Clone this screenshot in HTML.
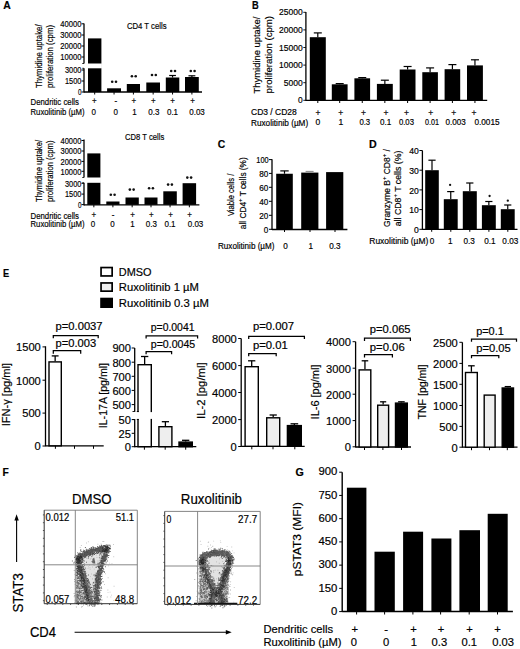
<!DOCTYPE html>
<html><head><meta charset="utf-8"><style>
html,body{margin:0;padding:0;background:#fff;}
svg{display:block;}
text{font-family:"Liberation Sans",sans-serif;stroke:#000;stroke-width:0.18px;}
</style></head><body>
<svg width="520" height="649" viewBox="0 0 520 649">
<rect width="520" height="649" fill="#fff"/>
<text x="3.20" y="8.90" textLength="7.50" lengthAdjust="spacingAndGlyphs" font-size="11" font-weight="bold" fill="#000" >A</text>
<text x="252.10" y="9.00" textLength="6.70" lengthAdjust="spacingAndGlyphs" font-size="11" font-weight="bold" fill="#000" >B</text>
<text x="217.80" y="148.40" textLength="7.50" lengthAdjust="spacingAndGlyphs" font-size="11" font-weight="bold" fill="#000" >C</text>
<text x="369.00" y="147.70" textLength="7.70" lengthAdjust="spacingAndGlyphs" font-size="11" font-weight="bold" fill="#000" >D</text>
<text x="3.00" y="276.80" textLength="6.20" lengthAdjust="spacingAndGlyphs" font-size="11" font-weight="bold" fill="#000" >E</text>
<text x="2.50" y="476.40" textLength="6.30" lengthAdjust="spacingAndGlyphs" font-size="11" font-weight="bold" fill="#000" >F</text>
<text x="295.40" y="476.20" textLength="8.30" lengthAdjust="spacingAndGlyphs" font-size="11" font-weight="bold" fill="#000" >G</text>
<line x1="84.00" y1="23.50" x2="84.00" y2="63.50" stroke="#000" stroke-width="1.3"/>
<line x1="84.00" y1="68.30" x2="84.00" y2="92.60" stroke="#000" stroke-width="1.3"/>
<line x1="82.20" y1="63.50" x2="84.00" y2="63.50" stroke="#000" stroke-width="0.8"/>
<line x1="82.20" y1="68.30" x2="84.00" y2="68.30" stroke="#000" stroke-width="0.8"/>
<line x1="84.00" y1="92.00" x2="202.00" y2="92.00" stroke="#000" stroke-width="1.3"/>
<line x1="81.50" y1="23.80" x2="84.00" y2="23.80" stroke="#000" stroke-width="1.0"/>
<text x="60.30" y="27.11" textLength="21.10" lengthAdjust="spacingAndGlyphs" font-size="9.2" fill="#000" >40000</text>
<line x1="81.50" y1="35.00" x2="84.00" y2="35.00" stroke="#000" stroke-width="1.0"/>
<text x="60.30" y="38.31" textLength="21.10" lengthAdjust="spacingAndGlyphs" font-size="9.2" fill="#000" >30000</text>
<line x1="81.50" y1="46.00" x2="84.00" y2="46.00" stroke="#000" stroke-width="1.0"/>
<text x="60.30" y="49.31" textLength="21.10" lengthAdjust="spacingAndGlyphs" font-size="9.2" fill="#000" >20000</text>
<line x1="81.50" y1="57.00" x2="84.00" y2="57.00" stroke="#000" stroke-width="1.0"/>
<text x="60.30" y="60.31" textLength="21.10" lengthAdjust="spacingAndGlyphs" font-size="9.2" fill="#000" >10000</text>
<line x1="81.50" y1="70.00" x2="84.00" y2="70.00" stroke="#000" stroke-width="1.0"/>
<text x="65.00" y="73.31" textLength="16.40" lengthAdjust="spacingAndGlyphs" font-size="9.2" fill="#000" >3000</text>
<line x1="81.50" y1="81.00" x2="84.00" y2="81.00" stroke="#000" stroke-width="1.0"/>
<text x="65.00" y="84.31" textLength="16.40" lengthAdjust="spacingAndGlyphs" font-size="9.2" fill="#000" >1500</text>
<line x1="81.50" y1="92.00" x2="84.00" y2="92.00" stroke="#000" stroke-width="1.0"/>
<text x="77.90" y="95.31" textLength="3.50" lengthAdjust="spacingAndGlyphs" font-size="9.2" fill="#000" >0</text>
<rect x="88.00" y="38.40" width="13.40" height="53.60" fill="#000"/>
<line x1="94.70" y1="92.00" x2="94.70" y2="94.50" stroke="#000" stroke-width="1.0"/>
<rect x="107.10" y="88.30" width="13.90" height="3.70" fill="#000"/>
<line x1="114.05" y1="92.00" x2="114.05" y2="94.50" stroke="#000" stroke-width="1.0"/>
<rect x="126.80" y="84.00" width="13.20" height="8.00" fill="#000"/>
<line x1="133.40" y1="92.00" x2="133.40" y2="94.50" stroke="#000" stroke-width="1.0"/>
<rect x="146.30" y="82.50" width="13.70" height="9.50" fill="#000"/>
<line x1="153.15" y1="92.00" x2="153.15" y2="94.50" stroke="#000" stroke-width="1.0"/>
<rect x="165.80" y="77.50" width="13.50" height="14.50" fill="#000"/>
<line x1="172.55" y1="75.50" x2="172.55" y2="77.50" stroke="#000" stroke-width="1.2"/>
<line x1="169.18" y1="75.50" x2="175.93" y2="75.50" stroke="#000" stroke-width="1.2"/>
<line x1="172.55" y1="92.00" x2="172.55" y2="94.50" stroke="#000" stroke-width="1.0"/>
<rect x="185.00" y="77.00" width="13.80" height="15.00" fill="#000"/>
<line x1="191.90" y1="75.80" x2="191.90" y2="77.00" stroke="#000" stroke-width="1.2"/>
<line x1="188.45" y1="75.80" x2="195.35" y2="75.80" stroke="#000" stroke-width="1.2"/>
<line x1="191.90" y1="92.00" x2="191.90" y2="94.50" stroke="#000" stroke-width="1.0"/>
<rect x="87.50" y="63.50" width="14.40" height="4.80" fill="#fff"/>
<circle cx="112.20" cy="81.80" r="1.3" fill="#111"/>
<circle cx="116.00" cy="81.80" r="1.3" fill="#111"/>
<circle cx="131.90" cy="76.30" r="1.3" fill="#111"/>
<circle cx="135.70" cy="76.30" r="1.3" fill="#111"/>
<circle cx="152.00" cy="75.00" r="1.3" fill="#111"/>
<circle cx="155.80" cy="75.00" r="1.3" fill="#111"/>
<circle cx="171.20" cy="71.00" r="1.3" fill="#111"/>
<circle cx="175.00" cy="71.00" r="1.3" fill="#111"/>
<circle cx="190.80" cy="71.00" r="1.3" fill="#111"/>
<circle cx="194.60" cy="71.00" r="1.3" fill="#111"/>
<text x="126.90" y="28.81" textLength="39.70" lengthAdjust="spacingAndGlyphs" font-size="9.2" fill="#000" >CD4 T cells</text>
<text x="30.50" y="105.11" textLength="48.50" lengthAdjust="spacingAndGlyphs" font-size="9.2" fill="#000" >Dendritic cells</text>
<text x="30.50" y="114.61" textLength="54.00" lengthAdjust="spacingAndGlyphs" font-size="9.2" fill="#000" >Ruxolitinib (µM)</text>
<text x="91.96" y="104.11" textLength="4.67" lengthAdjust="spacingAndGlyphs" font-size="9.2" fill="#000" >+</text>
<text x="114.47" y="104.11" textLength="2.67" lengthAdjust="spacingAndGlyphs" font-size="9.2" fill="#000" >-</text>
<text x="131.46" y="104.11" textLength="4.67" lengthAdjust="spacingAndGlyphs" font-size="9.2" fill="#000" >+</text>
<text x="150.96" y="104.11" textLength="4.67" lengthAdjust="spacingAndGlyphs" font-size="9.2" fill="#000" >+</text>
<text x="170.16" y="104.11" textLength="4.67" lengthAdjust="spacingAndGlyphs" font-size="9.2" fill="#000" >+</text>
<text x="190.16" y="104.11" textLength="4.67" lengthAdjust="spacingAndGlyphs" font-size="9.2" fill="#000" >+</text>
<text x="91.57" y="114.61" textLength="4.45" lengthAdjust="spacingAndGlyphs" font-size="9.2" fill="#000" >0</text>
<text x="113.57" y="114.61" textLength="4.45" lengthAdjust="spacingAndGlyphs" font-size="9.2" fill="#000" >0</text>
<text x="132.27" y="114.61" textLength="4.45" lengthAdjust="spacingAndGlyphs" font-size="9.2" fill="#000" >1</text>
<text x="148.24" y="114.61" textLength="11.13" lengthAdjust="spacingAndGlyphs" font-size="9.2" fill="#000" >0.3</text>
<text x="166.94" y="114.61" textLength="11.13" lengthAdjust="spacingAndGlyphs" font-size="9.2" fill="#000" >0.1</text>
<text x="189.21" y="114.61" textLength="15.58" lengthAdjust="spacingAndGlyphs" font-size="9.2" fill="#000" >0.03</text>
<text transform="translate(41.80,56.25) rotate(-90)" x="-31.85" y="0" font-size="9.4" textLength="63.70" lengthAdjust="spacingAndGlyphs">Thymidine uptake/</text>
<text transform="translate(52.60,56.50) rotate(-90)" x="-31.60" y="0" font-size="9.4" textLength="63.20" lengthAdjust="spacingAndGlyphs">proliferation (cpm)</text>
<line x1="84.00" y1="139.60" x2="84.00" y2="177.50" stroke="#000" stroke-width="1.3"/>
<line x1="84.00" y1="182.80" x2="84.00" y2="205.40" stroke="#000" stroke-width="1.3"/>
<line x1="82.20" y1="177.50" x2="84.00" y2="177.50" stroke="#000" stroke-width="0.8"/>
<line x1="82.20" y1="182.80" x2="84.00" y2="182.80" stroke="#000" stroke-width="0.8"/>
<line x1="84.00" y1="204.80" x2="199.40" y2="204.80" stroke="#000" stroke-width="1.3"/>
<line x1="81.50" y1="140.50" x2="84.00" y2="140.50" stroke="#000" stroke-width="1.0"/>
<text x="60.50" y="143.81" textLength="20.90" lengthAdjust="spacingAndGlyphs" font-size="9.2" fill="#000" >40000</text>
<line x1="81.50" y1="151.00" x2="84.00" y2="151.00" stroke="#000" stroke-width="1.0"/>
<text x="60.50" y="154.31" textLength="20.90" lengthAdjust="spacingAndGlyphs" font-size="9.2" fill="#000" >30000</text>
<line x1="81.50" y1="161.40" x2="84.00" y2="161.40" stroke="#000" stroke-width="1.0"/>
<text x="60.50" y="164.71" textLength="20.90" lengthAdjust="spacingAndGlyphs" font-size="9.2" fill="#000" >20000</text>
<line x1="81.50" y1="171.30" x2="84.00" y2="171.30" stroke="#000" stroke-width="1.0"/>
<text x="60.50" y="174.61" textLength="20.90" lengthAdjust="spacingAndGlyphs" font-size="9.2" fill="#000" >10000</text>
<line x1="81.50" y1="183.30" x2="84.00" y2="183.30" stroke="#000" stroke-width="1.0"/>
<text x="65.00" y="186.61" textLength="16.40" lengthAdjust="spacingAndGlyphs" font-size="9.2" fill="#000" >3000</text>
<line x1="81.50" y1="194.10" x2="84.00" y2="194.10" stroke="#000" stroke-width="1.0"/>
<text x="65.00" y="197.41" textLength="16.40" lengthAdjust="spacingAndGlyphs" font-size="9.2" fill="#000" >1500</text>
<line x1="81.50" y1="204.60" x2="84.00" y2="204.60" stroke="#000" stroke-width="1.0"/>
<text x="77.90" y="207.91" textLength="3.50" lengthAdjust="spacingAndGlyphs" font-size="9.2" fill="#000" >0</text>
<rect x="87.30" y="153.40" width="13.10" height="51.40" fill="#000"/>
<line x1="93.85" y1="204.80" x2="93.85" y2="207.30" stroke="#000" stroke-width="1.0"/>
<rect x="106.30" y="201.50" width="13.20" height="3.30" fill="#000"/>
<line x1="112.90" y1="204.80" x2="112.90" y2="207.30" stroke="#000" stroke-width="1.0"/>
<rect x="125.50" y="197.50" width="13.30" height="7.30" fill="#000"/>
<line x1="132.15" y1="204.80" x2="132.15" y2="207.30" stroke="#000" stroke-width="1.0"/>
<rect x="144.50" y="197.50" width="13.00" height="7.30" fill="#000"/>
<line x1="151.00" y1="204.80" x2="151.00" y2="207.30" stroke="#000" stroke-width="1.0"/>
<rect x="163.30" y="191.30" width="13.50" height="13.50" fill="#000"/>
<line x1="170.05" y1="204.80" x2="170.05" y2="207.30" stroke="#000" stroke-width="1.0"/>
<rect x="182.60" y="183.20" width="13.50" height="21.60" fill="#000"/>
<line x1="189.35" y1="204.80" x2="189.35" y2="207.30" stroke="#000" stroke-width="1.0"/>
<rect x="86.80" y="177.50" width="14.10" height="5.30" fill="#fff"/>
<circle cx="110.80" cy="194.80" r="1.3" fill="#111"/>
<circle cx="114.60" cy="194.80" r="1.3" fill="#111"/>
<circle cx="129.85" cy="189.60" r="1.3" fill="#111"/>
<circle cx="133.65" cy="189.60" r="1.3" fill="#111"/>
<circle cx="149.10" cy="188.20" r="1.3" fill="#111"/>
<circle cx="152.90" cy="188.20" r="1.3" fill="#111"/>
<circle cx="168.10" cy="184.60" r="1.3" fill="#111"/>
<circle cx="171.90" cy="184.60" r="1.3" fill="#111"/>
<circle cx="187.30" cy="177.60" r="1.3" fill="#111"/>
<circle cx="191.10" cy="177.60" r="1.3" fill="#111"/>
<text x="125.10" y="139.91" textLength="39.10" lengthAdjust="spacingAndGlyphs" font-size="9.2" fill="#000" >CD8 T cells</text>
<text x="30.50" y="218.81" textLength="48.50" lengthAdjust="spacingAndGlyphs" font-size="9.2" fill="#000" >Dendritic cells</text>
<text x="30.50" y="227.11" textLength="54.00" lengthAdjust="spacingAndGlyphs" font-size="9.2" fill="#000" >Ruxolitinib (µM)</text>
<text x="91.46" y="217.81" textLength="4.67" lengthAdjust="spacingAndGlyphs" font-size="9.2" fill="#000" >+</text>
<text x="111.67" y="217.81" textLength="2.67" lengthAdjust="spacingAndGlyphs" font-size="9.2" fill="#000" >-</text>
<text x="130.16" y="217.81" textLength="4.67" lengthAdjust="spacingAndGlyphs" font-size="9.2" fill="#000" >+</text>
<text x="148.96" y="217.81" textLength="4.67" lengthAdjust="spacingAndGlyphs" font-size="9.2" fill="#000" >+</text>
<text x="168.16" y="217.81" textLength="4.67" lengthAdjust="spacingAndGlyphs" font-size="9.2" fill="#000" >+</text>
<text x="187.16" y="217.81" textLength="4.67" lengthAdjust="spacingAndGlyphs" font-size="9.2" fill="#000" >+</text>
<text x="90.77" y="227.11" textLength="4.45" lengthAdjust="spacingAndGlyphs" font-size="9.2" fill="#000" >0</text>
<text x="110.27" y="227.11" textLength="4.45" lengthAdjust="spacingAndGlyphs" font-size="9.2" fill="#000" >0</text>
<text x="130.27" y="227.11" textLength="4.45" lengthAdjust="spacingAndGlyphs" font-size="9.2" fill="#000" >1</text>
<text x="145.74" y="227.11" textLength="11.13" lengthAdjust="spacingAndGlyphs" font-size="9.2" fill="#000" >0.3</text>
<text x="164.44" y="227.11" textLength="11.13" lengthAdjust="spacingAndGlyphs" font-size="9.2" fill="#000" >0.1</text>
<text x="187.71" y="227.11" textLength="15.58" lengthAdjust="spacingAndGlyphs" font-size="9.2" fill="#000" >0.03</text>
<text transform="translate(41.80,171.00) rotate(-90)" x="-31.00" y="0" font-size="9.4" textLength="62.00" lengthAdjust="spacingAndGlyphs">Thymidine uptake/</text>
<text transform="translate(52.60,171.25) rotate(-90)" x="-30.75" y="0" font-size="9.4" textLength="61.50" lengthAdjust="spacingAndGlyphs">proliferation (cpm)</text>
<line x1="305.90" y1="12.00" x2="305.90" y2="100.90" stroke="#000" stroke-width="1.3"/>
<line x1="305.90" y1="100.40" x2="487.20" y2="100.40" stroke="#000" stroke-width="1.3"/>
<line x1="303.30" y1="12.30" x2="305.90" y2="12.30" stroke="#000" stroke-width="0.9"/>
<text x="279.00" y="15.36" font-size="8.5" fill="#000" >25000</text>
<line x1="303.30" y1="29.90" x2="305.90" y2="29.90" stroke="#000" stroke-width="0.9"/>
<text x="279.00" y="32.96" font-size="8.5" fill="#000" >20000</text>
<line x1="303.30" y1="47.50" x2="305.90" y2="47.50" stroke="#000" stroke-width="0.9"/>
<text x="279.00" y="50.56" font-size="8.5" fill="#000" >15000</text>
<line x1="303.30" y1="65.10" x2="305.90" y2="65.10" stroke="#000" stroke-width="0.9"/>
<text x="279.00" y="68.16" font-size="8.5" fill="#000" >10000</text>
<line x1="303.30" y1="82.70" x2="305.90" y2="82.70" stroke="#000" stroke-width="0.9"/>
<text x="283.80" y="85.76" font-size="8.5" fill="#000" >5000</text>
<line x1="303.30" y1="100.30" x2="305.90" y2="100.30" stroke="#000" stroke-width="0.9"/>
<text x="298.00" y="103.36" textLength="4.70" lengthAdjust="spacingAndGlyphs" font-size="8.5" fill="#000" >0</text>
<rect x="309.80" y="37.20" width="16.00" height="63.20" fill="#000"/>
<line x1="317.80" y1="32.90" x2="317.80" y2="37.20" stroke="#000" stroke-width="1.2"/>
<line x1="313.80" y1="32.90" x2="321.80" y2="32.90" stroke="#000" stroke-width="1.2"/>
<rect x="331.80" y="84.30" width="15.80" height="16.10" fill="#000"/>
<line x1="339.70" y1="83.60" x2="339.70" y2="84.30" stroke="#000" stroke-width="1.2"/>
<line x1="335.70" y1="83.60" x2="343.70" y2="83.60" stroke="#000" stroke-width="1.2"/>
<rect x="354.40" y="78.30" width="15.70" height="22.10" fill="#000"/>
<line x1="362.25" y1="77.60" x2="362.25" y2="78.30" stroke="#000" stroke-width="1.2"/>
<line x1="358.25" y1="77.60" x2="366.25" y2="77.60" stroke="#000" stroke-width="1.2"/>
<rect x="376.90" y="83.90" width="15.90" height="16.50" fill="#000"/>
<line x1="384.85" y1="80.20" x2="384.85" y2="83.90" stroke="#000" stroke-width="1.2"/>
<line x1="380.85" y1="80.20" x2="388.85" y2="80.20" stroke="#000" stroke-width="1.2"/>
<rect x="399.70" y="69.50" width="15.80" height="30.90" fill="#000"/>
<line x1="407.60" y1="66.50" x2="407.60" y2="69.50" stroke="#000" stroke-width="1.2"/>
<line x1="403.60" y1="66.50" x2="411.60" y2="66.50" stroke="#000" stroke-width="1.2"/>
<rect x="422.30" y="72.20" width="15.60" height="28.20" fill="#000"/>
<line x1="430.10" y1="67.90" x2="430.10" y2="72.20" stroke="#000" stroke-width="1.2"/>
<line x1="426.10" y1="67.90" x2="434.10" y2="67.90" stroke="#000" stroke-width="1.2"/>
<rect x="444.60" y="69.20" width="15.60" height="31.20" fill="#000"/>
<line x1="452.40" y1="64.60" x2="452.40" y2="69.20" stroke="#000" stroke-width="1.2"/>
<line x1="448.40" y1="64.60" x2="456.40" y2="64.60" stroke="#000" stroke-width="1.2"/>
<rect x="467.00" y="65.40" width="15.90" height="35.00" fill="#000"/>
<line x1="474.95" y1="59.80" x2="474.95" y2="65.40" stroke="#000" stroke-width="1.2"/>
<line x1="470.95" y1="59.80" x2="478.95" y2="59.80" stroke="#000" stroke-width="1.2"/>
<line x1="317.80" y1="100.40" x2="317.80" y2="103.00" stroke="#000" stroke-width="1.0"/>
<line x1="339.70" y1="100.40" x2="339.70" y2="103.00" stroke="#000" stroke-width="1.0"/>
<line x1="362.25" y1="100.40" x2="362.25" y2="103.00" stroke="#000" stroke-width="1.0"/>
<line x1="384.85" y1="100.40" x2="384.85" y2="103.00" stroke="#000" stroke-width="1.0"/>
<line x1="407.60" y1="100.40" x2="407.60" y2="103.00" stroke="#000" stroke-width="1.0"/>
<line x1="430.10" y1="100.40" x2="430.10" y2="103.00" stroke="#000" stroke-width="1.0"/>
<line x1="452.40" y1="100.40" x2="452.40" y2="103.00" stroke="#000" stroke-width="1.0"/>
<line x1="474.95" y1="100.40" x2="474.95" y2="103.00" stroke="#000" stroke-width="1.0"/>
<text x="251.00" y="114.96" font-size="8.5" fill="#000" >CD3 / CD28</text>
<text x="251.00" y="125.76" textLength="57.20" lengthAdjust="spacingAndGlyphs" font-size="8.5" fill="#000" >Ruxolitinib (µM)</text>
<text x="315.62" y="115.76" font-size="8.5" fill="#000" >+</text>
<text x="338.32" y="115.76" font-size="8.5" fill="#000" >+</text>
<text x="361.02" y="115.76" font-size="8.5" fill="#000" >+</text>
<text x="383.52" y="115.76" font-size="8.5" fill="#000" >+</text>
<text x="404.02" y="115.76" font-size="8.5" fill="#000" >+</text>
<text x="428.32" y="115.76" font-size="8.5" fill="#000" >+</text>
<text x="451.32" y="115.76" font-size="8.5" fill="#000" >+</text>
<text x="471.52" y="115.76" font-size="8.5" fill="#000" >+</text>
<text x="315.54" y="125.40" font-size="8.5" fill="#000" >0</text>
<text x="338.39" y="125.40" font-size="8.5" fill="#000" >1</text>
<text x="359.40" y="125.40" textLength="10.80" lengthAdjust="spacingAndGlyphs" font-size="8.5" fill="#000" >0.3</text>
<text x="380.00" y="125.40" textLength="11.30" lengthAdjust="spacingAndGlyphs" font-size="8.5" fill="#000" >0.1</text>
<text x="398.90" y="125.40" textLength="15.10" lengthAdjust="spacingAndGlyphs" font-size="8.5" fill="#000" >0.03</text>
<text x="425.00" y="125.40" textLength="14.00" lengthAdjust="spacingAndGlyphs" font-size="8.5" fill="#000" >0.01</text>
<text x="445.60" y="125.40" textLength="20.30" lengthAdjust="spacingAndGlyphs" font-size="8.5" fill="#000" >0.003</text>
<text x="474.40" y="125.40" textLength="25.20" lengthAdjust="spacingAndGlyphs" font-size="8.5" fill="#000" >0.0015</text>
<text transform="translate(260.40,55.05) rotate(-90)" x="-38.35" y="0" font-size="9.4" textLength="76.70" lengthAdjust="spacingAndGlyphs">Thymidine uptake/</text>
<text transform="translate(272.10,54.70) rotate(-90)" x="-38.70" y="0" font-size="9.4" textLength="77.40" lengthAdjust="spacingAndGlyphs">proliferation (cpm)</text>
<line x1="272.00" y1="159.30" x2="272.00" y2="230.10" stroke="#000" stroke-width="1.3"/>
<line x1="272.00" y1="229.50" x2="347.40" y2="229.50" stroke="#000" stroke-width="1.3"/>
<line x1="269.00" y1="159.60" x2="272.00" y2="159.60" stroke="#000" stroke-width="1.0"/>
<text x="256.30" y="163.00" textLength="12.30" lengthAdjust="spacingAndGlyphs" font-size="8.6" fill="#000" >100</text>
<line x1="269.00" y1="173.40" x2="272.00" y2="173.40" stroke="#000" stroke-width="1.0"/>
<text x="259.31" y="176.80" textLength="9.09" lengthAdjust="spacingAndGlyphs" font-size="8.6" fill="#000" >80</text>
<line x1="269.00" y1="187.30" x2="272.00" y2="187.30" stroke="#000" stroke-width="1.0"/>
<text x="259.31" y="190.70" textLength="9.09" lengthAdjust="spacingAndGlyphs" font-size="8.6" fill="#000" >60</text>
<line x1="269.00" y1="201.30" x2="272.00" y2="201.30" stroke="#000" stroke-width="1.0"/>
<text x="259.31" y="204.70" textLength="9.09" lengthAdjust="spacingAndGlyphs" font-size="8.6" fill="#000" >40</text>
<line x1="269.00" y1="215.30" x2="272.00" y2="215.30" stroke="#000" stroke-width="1.0"/>
<text x="259.31" y="218.70" textLength="9.09" lengthAdjust="spacingAndGlyphs" font-size="8.6" fill="#000" >20</text>
<line x1="269.00" y1="229.30" x2="272.00" y2="229.30" stroke="#000" stroke-width="1.0"/>
<text x="263.86" y="232.70" textLength="4.54" lengthAdjust="spacingAndGlyphs" font-size="8.6" fill="#000" >0</text>
<rect x="276.20" y="173.75" width="16.60" height="55.75" fill="#000"/>
<line x1="284.50" y1="170.90" x2="284.50" y2="173.75" stroke="#000" stroke-width="1.2"/>
<line x1="280.30" y1="170.90" x2="288.70" y2="170.90" stroke="#000" stroke-width="1.2"/>
<rect x="301.20" y="172.60" width="17.20" height="56.90" fill="#000"/>
<rect x="326.10" y="172.10" width="17.20" height="57.40" fill="#000"/>
<line x1="305.60" y1="171.40" x2="313.60" y2="171.40" stroke="#666" stroke-width="0.8"/>
<line x1="284.50" y1="229.50" x2="284.50" y2="232.00" stroke="#000" stroke-width="1.0"/>
<line x1="310.00" y1="229.50" x2="310.00" y2="232.00" stroke="#000" stroke-width="1.0"/>
<line x1="335.00" y1="229.50" x2="335.00" y2="232.00" stroke="#000" stroke-width="1.0"/>
<text x="218.00" y="248.60" textLength="56.50" lengthAdjust="spacingAndGlyphs" font-size="8.6" fill="#000" >Ruxolitinib (µM)</text>
<text x="283.23" y="248.60" textLength="4.54" lengthAdjust="spacingAndGlyphs" font-size="8.6" fill="#000" >0</text>
<text x="308.53" y="248.60" textLength="4.54" lengthAdjust="spacingAndGlyphs" font-size="8.6" fill="#000" >1</text>
<text x="329.32" y="248.60" textLength="11.36" lengthAdjust="spacingAndGlyphs" font-size="8.6" fill="#000" >0.3</text>
<text transform="translate(233.80,194.85) rotate(-90)" x="-21.25" y="0" font-size="9.0" textLength="42.50" lengthAdjust="spacingAndGlyphs">Viable cells /</text>
<text transform="translate(245.50,193.20) rotate(-90)" x="-36.00" y="0" font-size="9.0" textLength="72.00" lengthAdjust="spacingAndGlyphs">all CD4<tspan dy="-3.6" font-size="6.2">+</tspan><tspan dy="3.6"> T cells (%)</tspan></text>
<line x1="422.40" y1="150.50" x2="422.40" y2="229.90" stroke="#000" stroke-width="1.3"/>
<line x1="422.40" y1="229.30" x2="517.50" y2="229.30" stroke="#000" stroke-width="1.3"/>
<line x1="419.40" y1="150.50" x2="422.40" y2="150.50" stroke="#000" stroke-width="1.0"/>
<text x="409.24" y="154.10" font-size="8.6" fill="#000" >40</text>
<line x1="419.40" y1="170.20" x2="422.40" y2="170.20" stroke="#000" stroke-width="1.0"/>
<text x="409.24" y="173.80" font-size="8.6" fill="#000" >30</text>
<line x1="419.40" y1="189.90" x2="422.40" y2="189.90" stroke="#000" stroke-width="1.0"/>
<text x="409.24" y="193.50" font-size="8.6" fill="#000" >20</text>
<line x1="419.40" y1="209.60" x2="422.40" y2="209.60" stroke="#000" stroke-width="1.0"/>
<text x="409.24" y="213.20" font-size="8.6" fill="#000" >10</text>
<line x1="419.40" y1="229.30" x2="422.40" y2="229.30" stroke="#000" stroke-width="1.0"/>
<text x="414.02" y="232.90" font-size="8.6" fill="#000" >0</text>
<rect x="425.20" y="170.20" width="13.60" height="59.10" fill="#000"/>
<line x1="432.00" y1="160.20" x2="432.00" y2="170.20" stroke="#000" stroke-width="1.2"/>
<line x1="428.40" y1="160.20" x2="435.60" y2="160.20" stroke="#000" stroke-width="1.2"/>
<rect x="443.80" y="199.20" width="13.90" height="30.10" fill="#000"/>
<line x1="450.75" y1="191.60" x2="450.75" y2="199.20" stroke="#000" stroke-width="1.2"/>
<line x1="447.15" y1="191.60" x2="454.35" y2="191.60" stroke="#000" stroke-width="1.2"/>
<rect x="462.80" y="191.20" width="14.00" height="38.10" fill="#000"/>
<line x1="469.80" y1="183.00" x2="469.80" y2="191.20" stroke="#000" stroke-width="1.2"/>
<line x1="466.20" y1="183.00" x2="473.40" y2="183.00" stroke="#000" stroke-width="1.2"/>
<rect x="481.90" y="205.20" width="13.90" height="24.10" fill="#000"/>
<line x1="488.85" y1="201.50" x2="488.85" y2="205.20" stroke="#000" stroke-width="1.2"/>
<line x1="485.25" y1="201.50" x2="492.45" y2="201.50" stroke="#000" stroke-width="1.2"/>
<rect x="500.80" y="209.20" width="13.90" height="20.10" fill="#000"/>
<line x1="507.75" y1="205.00" x2="507.75" y2="209.20" stroke="#000" stroke-width="1.2"/>
<line x1="504.15" y1="205.00" x2="511.35" y2="205.00" stroke="#000" stroke-width="1.2"/>
<circle cx="450.10" cy="184.90" r="1.15" fill="#111"/>
<circle cx="489.60" cy="196.00" r="1.15" fill="#111"/>
<circle cx="507.80" cy="200.70" r="1.15" fill="#111"/>
<line x1="431.70" y1="229.30" x2="431.70" y2="231.80" stroke="#000" stroke-width="1.0"/>
<line x1="450.80" y1="229.30" x2="450.80" y2="231.80" stroke="#000" stroke-width="1.0"/>
<line x1="469.80" y1="229.30" x2="469.80" y2="231.80" stroke="#000" stroke-width="1.0"/>
<line x1="488.90" y1="229.30" x2="488.90" y2="231.80" stroke="#000" stroke-width="1.0"/>
<line x1="507.80" y1="229.30" x2="507.80" y2="231.80" stroke="#000" stroke-width="1.0"/>
<text x="369.30" y="244.20" textLength="59.00" lengthAdjust="spacingAndGlyphs" font-size="8.6" fill="#000" >Ruxolitinib (µM)</text>
<text x="429.73" y="244.20" textLength="4.54" lengthAdjust="spacingAndGlyphs" font-size="8.6" fill="#000" >0</text>
<text x="448.03" y="244.20" textLength="4.54" lengthAdjust="spacingAndGlyphs" font-size="8.6" fill="#000" >1</text>
<text x="463.52" y="244.20" textLength="11.36" lengthAdjust="spacingAndGlyphs" font-size="8.6" fill="#000" >0.3</text>
<text x="484.32" y="244.20" textLength="11.36" lengthAdjust="spacingAndGlyphs" font-size="8.6" fill="#000" >0.1</text>
<text x="502.35" y="244.20" textLength="15.90" lengthAdjust="spacingAndGlyphs" font-size="8.6" fill="#000" >0.03</text>
<text transform="translate(389.60,188.10) rotate(-90)" x="-38.90" y="0" font-size="9.0" textLength="77.80" lengthAdjust="spacingAndGlyphs">Granzyme B<tspan dy="-3.6" font-size="6.2">+</tspan><tspan dy="3.6"> CD8</tspan><tspan dy="-3.6" font-size="6.2">+</tspan><tspan dy="3.6"> /</tspan></text>
<text transform="translate(400.50,188.45) rotate(-90)" x="-37.85" y="0" font-size="9.0" textLength="75.70" lengthAdjust="spacingAndGlyphs">all CD8<tspan dy="-3.6" font-size="6.2">+</tspan><tspan dy="3.6"> T cells (%)</tspan></text>
<rect x="101.05" y="267.55" width="11.10" height="8.40" fill="#fff" stroke="#000" stroke-width="1.7"/>
<text x="118.80" y="275.82" textLength="32.70" lengthAdjust="spacingAndGlyphs" font-size="11.3" fill="#000" >DMSO</text>
<rect x="101.05" y="282.95" width="11.10" height="8.20" fill="#eeeeee" stroke="#000" stroke-width="1.7"/>
<text x="118.80" y="291.12" textLength="80.10" lengthAdjust="spacingAndGlyphs" font-size="11.3" fill="#000" >Ruxolitinib 1 µM</text>
<rect x="101.05" y="298.55" width="11.10" height="8.60" fill="#000" stroke="#000" stroke-width="1.7"/>
<text x="118.80" y="306.92" font-size="11.3" fill="#000" >Ruxolitinib 0.3 µM</text>
<line x1="45.50" y1="346.30" x2="45.50" y2="446.30" stroke="#000" stroke-width="1.3"/>
<line x1="45.50" y1="445.80" x2="103.70" y2="445.80" stroke="#000" stroke-width="1.3"/>
<line x1="42.50" y1="346.90" x2="45.50" y2="346.90" stroke="#000" stroke-width="1.0"/>
<text x="15.99" y="351.21" textLength="24.81" lengthAdjust="spacingAndGlyphs" font-size="11.7" fill="#000" >1500</text>
<line x1="42.50" y1="380.20" x2="45.50" y2="380.20" stroke="#000" stroke-width="1.0"/>
<text x="15.99" y="384.51" textLength="24.81" lengthAdjust="spacingAndGlyphs" font-size="11.7" fill="#000" >1000</text>
<line x1="42.50" y1="413.10" x2="45.50" y2="413.10" stroke="#000" stroke-width="1.0"/>
<text x="22.20" y="417.41" textLength="18.61" lengthAdjust="spacingAndGlyphs" font-size="11.7" fill="#000" >500</text>
<line x1="42.50" y1="446.00" x2="45.50" y2="446.00" stroke="#000" stroke-width="1.0"/>
<text x="34.60" y="450.31" textLength="6.20" lengthAdjust="spacingAndGlyphs" font-size="11.7" fill="#000" >0</text>
<line x1="55.15" y1="355.90" x2="55.15" y2="361.20" stroke="#000" stroke-width="1.3"/>
<line x1="51.72" y1="355.90" x2="58.58" y2="355.90" stroke="#000" stroke-width="1.3"/>
<rect x="49.00" y="361.90" width="12.30" height="83.90" fill="#fff" stroke="#000" stroke-width="1.4"/>
<line x1="55.40" y1="445.80" x2="55.40" y2="448.80" stroke="#000" stroke-width="1.0"/>
<line x1="74.50" y1="445.80" x2="74.50" y2="448.80" stroke="#000" stroke-width="1.0"/>
<line x1="93.50" y1="445.80" x2="93.50" y2="448.80" stroke="#000" stroke-width="1.0"/>
<text x="55.50" y="330.10" textLength="47.10" lengthAdjust="spacingAndGlyphs" font-size="10.0" fill="#000" >p=0.0037</text>
<path d="M53.30,338.30 L53.30,335.50 L98.20,335.50 L98.20,338.30" stroke="#000" stroke-width="1.25" fill="none"/>
<text x="55.50" y="347.30" textLength="40.60" lengthAdjust="spacingAndGlyphs" font-size="10.0" fill="#000" >p=0.003</text>
<path d="M53.30,353.70 L53.30,350.70 L80.70,350.70 L80.70,353.70" stroke="#000" stroke-width="1.25" fill="none"/>
<text transform="translate(9.70,394.60) rotate(-90)" x="-31.60" y="0" font-size="11.0" textLength="63.20" lengthAdjust="spacingAndGlyphs">IFN-γ [pg/ml]</text>
<line x1="134.70" y1="348.00" x2="134.70" y2="411.50" stroke="#000" stroke-width="1.3"/>
<line x1="134.70" y1="419.50" x2="134.70" y2="447.20" stroke="#000" stroke-width="1.3"/>
<line x1="132.50" y1="411.50" x2="135.20" y2="411.50" stroke="#000" stroke-width="0.9"/>
<line x1="132.20" y1="419.50" x2="135.20" y2="419.50" stroke="#000" stroke-width="0.9"/>
<line x1="134.70" y1="446.70" x2="196.30" y2="446.70" stroke="#000" stroke-width="1.3"/>
<line x1="131.70" y1="348.00" x2="134.70" y2="348.00" stroke="#000" stroke-width="1.0"/>
<text x="112.40" y="352.31" textLength="18.61" lengthAdjust="spacingAndGlyphs" font-size="11.7" fill="#000" >900</text>
<line x1="131.70" y1="362.20" x2="134.70" y2="362.20" stroke="#000" stroke-width="1.0"/>
<text x="112.40" y="366.51" textLength="18.61" lengthAdjust="spacingAndGlyphs" font-size="11.7" fill="#000" >800</text>
<line x1="131.70" y1="376.30" x2="134.70" y2="376.30" stroke="#000" stroke-width="1.0"/>
<text x="112.40" y="380.61" textLength="18.61" lengthAdjust="spacingAndGlyphs" font-size="11.7" fill="#000" >700</text>
<line x1="131.70" y1="390.40" x2="134.70" y2="390.40" stroke="#000" stroke-width="1.0"/>
<text x="112.40" y="394.71" textLength="18.61" lengthAdjust="spacingAndGlyphs" font-size="11.7" fill="#000" >600</text>
<line x1="131.70" y1="404.60" x2="134.70" y2="404.60" stroke="#000" stroke-width="1.0"/>
<text x="112.40" y="408.91" textLength="18.61" lengthAdjust="spacingAndGlyphs" font-size="11.7" fill="#000" >500</text>
<line x1="131.70" y1="419.60" x2="134.70" y2="419.60" stroke="#000" stroke-width="1.0"/>
<text x="118.60" y="423.91" textLength="12.40" lengthAdjust="spacingAndGlyphs" font-size="11.7" fill="#000" >50</text>
<line x1="131.70" y1="433.30" x2="134.70" y2="433.30" stroke="#000" stroke-width="1.0"/>
<text x="118.60" y="437.61" textLength="12.40" lengthAdjust="spacingAndGlyphs" font-size="11.7" fill="#000" >25</text>
<line x1="131.70" y1="446.70" x2="134.70" y2="446.70" stroke="#000" stroke-width="1.0"/>
<text x="124.80" y="451.01" textLength="6.20" lengthAdjust="spacingAndGlyphs" font-size="11.7" fill="#000" >0</text>
<line x1="144.65" y1="356.50" x2="144.65" y2="364.00" stroke="#000" stroke-width="1.3"/>
<line x1="140.98" y1="356.50" x2="148.32" y2="356.50" stroke="#000" stroke-width="1.3"/>
<rect x="138.00" y="364.70" width="13.30" height="82.00" fill="#fff" stroke="#000" stroke-width="1.4"/>
<line x1="165.40" y1="421.70" x2="165.40" y2="426.00" stroke="#000" stroke-width="1.3"/>
<line x1="161.80" y1="421.70" x2="169.00" y2="421.70" stroke="#000" stroke-width="1.3"/>
<rect x="158.90" y="426.70" width="13.00" height="20.00" fill="#eeeeee" stroke="#000" stroke-width="1.4"/>
<line x1="185.65" y1="440.30" x2="185.65" y2="441.40" stroke="#000" stroke-width="1.3"/>
<line x1="181.98" y1="440.30" x2="189.32" y2="440.30" stroke="#000" stroke-width="1.3"/>
<rect x="179.00" y="442.10" width="13.30" height="4.60" fill="#000" stroke="#000" stroke-width="1.4"/>
<rect x="136.30" y="412.10" width="16.70" height="6.80" fill="#fff"/>
<line x1="136.80" y1="411.50" x2="138.80" y2="411.50" stroke="#000" stroke-width="0.9"/>
<line x1="136.80" y1="419.50" x2="138.80" y2="419.50" stroke="#000" stroke-width="0.9"/>
<line x1="144.40" y1="446.70" x2="144.40" y2="449.70" stroke="#000" stroke-width="1.0"/>
<line x1="165.20" y1="446.70" x2="165.20" y2="449.70" stroke="#000" stroke-width="1.0"/>
<line x1="185.70" y1="446.70" x2="185.70" y2="449.70" stroke="#000" stroke-width="1.0"/>
<text x="150.80" y="330.50" textLength="43.70" lengthAdjust="spacingAndGlyphs" font-size="10.0" fill="#000" >p=0.0041</text>
<path d="M146.10,338.60 L146.10,335.90 L197.60,335.90 L197.60,338.60" stroke="#000" stroke-width="1.25" fill="none"/>
<text x="150.80" y="348.00" textLength="44.40" lengthAdjust="spacingAndGlyphs" font-size="10.0" fill="#000" >p=0.0045</text>
<path d="M146.10,354.20 L146.10,351.60 L171.60,351.60 L171.60,354.20" stroke="#000" stroke-width="1.25" fill="none"/>
<text transform="translate(106.50,395.60) rotate(-90)" x="-32.60" y="0" font-size="11.0" textLength="65.20" lengthAdjust="spacingAndGlyphs">IL-17A [pg/ml]</text>
<line x1="241.20" y1="338.60" x2="241.20" y2="446.80" stroke="#000" stroke-width="1.3"/>
<line x1="241.20" y1="446.30" x2="304.70" y2="446.30" stroke="#000" stroke-width="1.3"/>
<line x1="238.20" y1="338.50" x2="241.20" y2="338.50" stroke="#000" stroke-width="1.0"/>
<text x="211.99" y="342.81" textLength="24.81" lengthAdjust="spacingAndGlyphs" font-size="11.7" fill="#000" >8000</text>
<line x1="238.20" y1="365.60" x2="241.20" y2="365.60" stroke="#000" stroke-width="1.0"/>
<text x="211.99" y="369.91" textLength="24.81" lengthAdjust="spacingAndGlyphs" font-size="11.7" fill="#000" >6000</text>
<line x1="238.20" y1="392.50" x2="241.20" y2="392.50" stroke="#000" stroke-width="1.0"/>
<text x="211.99" y="396.81" textLength="24.81" lengthAdjust="spacingAndGlyphs" font-size="11.7" fill="#000" >4000</text>
<line x1="238.20" y1="419.60" x2="241.20" y2="419.60" stroke="#000" stroke-width="1.0"/>
<text x="211.99" y="423.91" textLength="24.81" lengthAdjust="spacingAndGlyphs" font-size="11.7" fill="#000" >2000</text>
<line x1="238.20" y1="446.50" x2="241.20" y2="446.50" stroke="#000" stroke-width="1.0"/>
<text x="230.60" y="450.81" textLength="6.20" lengthAdjust="spacingAndGlyphs" font-size="11.7" fill="#000" >0</text>
<line x1="251.70" y1="360.80" x2="251.70" y2="366.00" stroke="#000" stroke-width="1.3"/>
<line x1="248.05" y1="360.80" x2="255.35" y2="360.80" stroke="#000" stroke-width="1.3"/>
<rect x="245.10" y="366.70" width="13.20" height="79.60" fill="#fff" stroke="#000" stroke-width="1.4"/>
<line x1="273.20" y1="415.00" x2="273.20" y2="417.10" stroke="#000" stroke-width="1.3"/>
<line x1="269.60" y1="415.00" x2="276.80" y2="415.00" stroke="#000" stroke-width="1.3"/>
<rect x="266.70" y="417.80" width="13.00" height="28.50" fill="#eeeeee" stroke="#000" stroke-width="1.4"/>
<line x1="294.35" y1="423.80" x2="294.35" y2="424.90" stroke="#000" stroke-width="1.3"/>
<line x1="290.53" y1="423.80" x2="298.18" y2="423.80" stroke="#000" stroke-width="1.3"/>
<rect x="287.40" y="425.60" width="13.90" height="20.70" fill="#000" stroke="#000" stroke-width="1.4"/>
<line x1="251.80" y1="446.30" x2="251.80" y2="449.30" stroke="#000" stroke-width="1.0"/>
<line x1="273.00" y1="446.30" x2="273.00" y2="449.30" stroke="#000" stroke-width="1.0"/>
<line x1="294.80" y1="446.30" x2="294.80" y2="449.30" stroke="#000" stroke-width="1.0"/>
<text x="252.90" y="330.40" textLength="41.20" lengthAdjust="spacingAndGlyphs" font-size="10.0" fill="#000" >p=0.007</text>
<path d="M248.70,339.10 L248.70,336.30 L304.40,336.30 L304.40,339.10" stroke="#000" stroke-width="1.25" fill="none"/>
<text x="252.90" y="349.10" textLength="34.90" lengthAdjust="spacingAndGlyphs" font-size="10.0" fill="#000" >p=0.01</text>
<path d="M248.70,356.20 L248.70,353.50 L276.20,353.50 L276.20,356.20" stroke="#000" stroke-width="1.25" fill="none"/>
<text transform="translate(205.20,390.65) rotate(-90)" x="-28.25" y="0" font-size="11.0" textLength="56.50" lengthAdjust="spacingAndGlyphs">IL-2 [pg/ml]</text>
<line x1="355.60" y1="341.70" x2="355.60" y2="447.50" stroke="#000" stroke-width="1.3"/>
<line x1="355.60" y1="447.00" x2="411.00" y2="447.00" stroke="#000" stroke-width="1.3"/>
<line x1="352.60" y1="341.70" x2="355.60" y2="341.70" stroke="#000" stroke-width="1.0"/>
<text x="326.09" y="346.01" textLength="24.81" lengthAdjust="spacingAndGlyphs" font-size="11.7" fill="#000" >4000</text>
<line x1="352.60" y1="368.20" x2="355.60" y2="368.20" stroke="#000" stroke-width="1.0"/>
<text x="326.09" y="372.51" textLength="24.81" lengthAdjust="spacingAndGlyphs" font-size="11.7" fill="#000" >3000</text>
<line x1="352.60" y1="394.20" x2="355.60" y2="394.20" stroke="#000" stroke-width="1.0"/>
<text x="326.09" y="398.51" textLength="24.81" lengthAdjust="spacingAndGlyphs" font-size="11.7" fill="#000" >2000</text>
<line x1="352.60" y1="420.60" x2="355.60" y2="420.60" stroke="#000" stroke-width="1.0"/>
<text x="326.09" y="424.91" textLength="24.81" lengthAdjust="spacingAndGlyphs" font-size="11.7" fill="#000" >1000</text>
<line x1="352.60" y1="446.80" x2="355.60" y2="446.80" stroke="#000" stroke-width="1.0"/>
<text x="344.70" y="451.11" textLength="6.20" lengthAdjust="spacingAndGlyphs" font-size="11.7" fill="#000" >0</text>
<line x1="364.95" y1="360.80" x2="364.95" y2="369.20" stroke="#000" stroke-width="1.3"/>
<line x1="361.67" y1="360.80" x2="368.23" y2="360.80" stroke="#000" stroke-width="1.3"/>
<rect x="359.10" y="369.90" width="11.70" height="77.10" fill="#fff" stroke="#000" stroke-width="1.4"/>
<line x1="383.15" y1="401.80" x2="383.15" y2="404.50" stroke="#000" stroke-width="1.3"/>
<line x1="380.07" y1="401.80" x2="386.22" y2="401.80" stroke="#000" stroke-width="1.3"/>
<rect x="377.70" y="405.20" width="10.90" height="41.80" fill="#eeeeee" stroke="#000" stroke-width="1.4"/>
<line x1="401.40" y1="401.80" x2="401.40" y2="402.40" stroke="#000" stroke-width="1.3"/>
<line x1="398.10" y1="401.80" x2="404.70" y2="401.80" stroke="#000" stroke-width="1.3"/>
<rect x="395.50" y="403.10" width="11.80" height="43.90" fill="#000" stroke="#000" stroke-width="1.4"/>
<line x1="364.50" y1="447.00" x2="364.50" y2="450.00" stroke="#000" stroke-width="1.0"/>
<line x1="382.90" y1="447.00" x2="382.90" y2="450.00" stroke="#000" stroke-width="1.0"/>
<line x1="401.50" y1="447.00" x2="401.50" y2="450.00" stroke="#000" stroke-width="1.0"/>
<text x="369.80" y="333.10" textLength="40.80" lengthAdjust="spacingAndGlyphs" font-size="10.0" fill="#000" >p=0.065</text>
<path d="M364.50,340.90 L364.50,338.10 L410.40,338.10 L410.40,340.90" stroke="#000" stroke-width="1.25" fill="none"/>
<text x="369.80" y="351.20" textLength="34.90" lengthAdjust="spacingAndGlyphs" font-size="10.0" fill="#000" >p=0.06</text>
<path d="M364.50,357.40 L364.50,354.70 L392.40,354.70 L392.40,357.40" stroke="#000" stroke-width="1.25" fill="none"/>
<text transform="translate(318.50,391.95) rotate(-90)" x="-27.45" y="0" font-size="11.0" textLength="54.90" lengthAdjust="spacingAndGlyphs">IL-6 [pg/ml]</text>
<line x1="462.40" y1="342.30" x2="462.40" y2="447.70" stroke="#000" stroke-width="1.3"/>
<line x1="462.40" y1="447.20" x2="517.50" y2="447.20" stroke="#000" stroke-width="1.3"/>
<line x1="459.40" y1="342.30" x2="462.40" y2="342.30" stroke="#000" stroke-width="1.0"/>
<text x="432.99" y="346.61" textLength="24.81" lengthAdjust="spacingAndGlyphs" font-size="11.7" fill="#000" >2500</text>
<line x1="459.40" y1="363.40" x2="462.40" y2="363.40" stroke="#000" stroke-width="1.0"/>
<text x="432.99" y="367.71" textLength="24.81" lengthAdjust="spacingAndGlyphs" font-size="11.7" fill="#000" >2000</text>
<line x1="459.40" y1="384.30" x2="462.40" y2="384.30" stroke="#000" stroke-width="1.0"/>
<text x="432.99" y="388.61" textLength="24.81" lengthAdjust="spacingAndGlyphs" font-size="11.7" fill="#000" >1500</text>
<line x1="459.40" y1="405.50" x2="462.40" y2="405.50" stroke="#000" stroke-width="1.0"/>
<text x="432.99" y="409.81" textLength="24.81" lengthAdjust="spacingAndGlyphs" font-size="11.7" fill="#000" >1000</text>
<line x1="459.40" y1="426.40" x2="462.40" y2="426.40" stroke="#000" stroke-width="1.0"/>
<text x="439.20" y="430.71" textLength="18.61" lengthAdjust="spacingAndGlyphs" font-size="11.7" fill="#000" >500</text>
<line x1="459.40" y1="447.20" x2="462.40" y2="447.20" stroke="#000" stroke-width="1.0"/>
<text x="451.60" y="451.51" textLength="6.20" lengthAdjust="spacingAndGlyphs" font-size="11.7" fill="#000" >0</text>
<line x1="471.40" y1="365.80" x2="471.40" y2="371.80" stroke="#000" stroke-width="1.3"/>
<line x1="468.10" y1="365.80" x2="474.70" y2="365.80" stroke="#000" stroke-width="1.3"/>
<rect x="465.50" y="372.50" width="11.80" height="74.70" fill="#fff" stroke="#000" stroke-width="1.4"/>
<rect x="484.20" y="395.10" width="10.90" height="52.10" fill="#eeeeee" stroke="#000" stroke-width="1.4"/>
<line x1="507.85" y1="386.60" x2="507.85" y2="387.30" stroke="#000" stroke-width="1.3"/>
<line x1="504.68" y1="386.60" x2="511.03" y2="386.60" stroke="#000" stroke-width="1.3"/>
<rect x="502.20" y="388.00" width="11.30" height="59.20" fill="#000" stroke="#000" stroke-width="1.4"/>
<line x1="471.50" y1="447.20" x2="471.50" y2="450.20" stroke="#000" stroke-width="1.0"/>
<line x1="489.50" y1="447.20" x2="489.50" y2="450.20" stroke="#000" stroke-width="1.0"/>
<line x1="507.30" y1="447.20" x2="507.30" y2="450.20" stroke="#000" stroke-width="1.0"/>
<text x="476.20" y="334.70" textLength="27.60" lengthAdjust="spacingAndGlyphs" font-size="10.0" fill="#000" >p=0.1</text>
<path d="M471.50,341.80 L471.50,339.00 L516.50,339.00 L516.50,341.80" stroke="#000" stroke-width="1.25" fill="none"/>
<text x="476.20" y="352.10" textLength="34.60" lengthAdjust="spacingAndGlyphs" font-size="10.0" fill="#000" >p=0.05</text>
<path d="M471.50,358.20 L471.50,355.50 L498.80,355.50 L498.80,358.20" stroke="#000" stroke-width="1.25" fill="none"/>
<text transform="translate(426.20,391.95) rotate(-90)" x="-27.45" y="0" font-size="11.0" textLength="54.90" lengthAdjust="spacingAndGlyphs">TNF [pg/ml]</text>
<line x1="342.20" y1="472.20" x2="342.20" y2="612.00" stroke="#000" stroke-width="1.4000000000000001"/>
<line x1="342.20" y1="611.50" x2="512.90" y2="611.50" stroke="#000" stroke-width="1.5"/>
<line x1="339.20" y1="472.20" x2="342.20" y2="472.20" stroke="#000" stroke-width="1.0"/>
<text x="318.40" y="475.33" textLength="18.91" lengthAdjust="spacingAndGlyphs" font-size="11.2" fill="#000" >900</text>
<line x1="339.20" y1="495.43" x2="342.20" y2="495.43" stroke="#000" stroke-width="1.0"/>
<text x="318.40" y="498.57" textLength="18.91" lengthAdjust="spacingAndGlyphs" font-size="11.2" fill="#000" >750</text>
<line x1="339.20" y1="518.67" x2="342.20" y2="518.67" stroke="#000" stroke-width="1.0"/>
<text x="318.40" y="521.80" textLength="18.91" lengthAdjust="spacingAndGlyphs" font-size="11.2" fill="#000" >600</text>
<line x1="339.20" y1="541.90" x2="342.20" y2="541.90" stroke="#000" stroke-width="1.0"/>
<text x="318.40" y="545.03" textLength="18.91" lengthAdjust="spacingAndGlyphs" font-size="11.2" fill="#000" >450</text>
<line x1="339.20" y1="565.13" x2="342.20" y2="565.13" stroke="#000" stroke-width="1.0"/>
<text x="318.40" y="568.27" textLength="18.91" lengthAdjust="spacingAndGlyphs" font-size="11.2" fill="#000" >300</text>
<line x1="339.20" y1="588.37" x2="342.20" y2="588.37" stroke="#000" stroke-width="1.0"/>
<text x="318.40" y="591.50" textLength="18.91" lengthAdjust="spacingAndGlyphs" font-size="11.2" fill="#000" >150</text>
<line x1="339.20" y1="611.60" x2="342.20" y2="611.60" stroke="#000" stroke-width="1.0"/>
<text x="331.00" y="614.73" textLength="6.30" lengthAdjust="spacingAndGlyphs" font-size="11.2" fill="#000" >0</text>
<rect x="346.90" y="487.70" width="19.50" height="123.80" fill="#000"/>
<rect x="374.50" y="551.70" width="20.30" height="59.80" fill="#000"/>
<rect x="403.10" y="531.70" width="20.00" height="79.80" fill="#000"/>
<rect x="431.40" y="538.50" width="20.00" height="73.00" fill="#000"/>
<rect x="459.40" y="530.20" width="20.60" height="81.30" fill="#000"/>
<rect x="487.70" y="513.80" width="20.00" height="97.70" fill="#000"/>
<line x1="356.60" y1="611.50" x2="356.60" y2="614.50" stroke="#000" stroke-width="1.0"/>
<line x1="384.60" y1="611.50" x2="384.60" y2="614.50" stroke="#000" stroke-width="1.0"/>
<line x1="412.90" y1="611.50" x2="412.90" y2="614.50" stroke="#000" stroke-width="1.0"/>
<line x1="440.60" y1="611.50" x2="440.60" y2="614.50" stroke="#000" stroke-width="1.0"/>
<line x1="469.20" y1="611.50" x2="469.20" y2="614.50" stroke="#000" stroke-width="1.0"/>
<line x1="497.50" y1="611.50" x2="497.50" y2="614.50" stroke="#000" stroke-width="1.0"/>
<text x="263.50" y="632.53" font-size="11.2" fill="#000" >Dendritic cells</text>
<text x="263.50" y="646.23" font-size="11.2" fill="#000" >Ruxolitinib (µM)</text>
<text x="351.53" y="632.63" font-size="11.2" fill="#000" >+</text>
<text x="384.14" y="632.63" font-size="11.2" fill="#000" >-</text>
<text x="410.33" y="632.63" font-size="11.2" fill="#000" >+</text>
<text x="437.73" y="632.63" font-size="11.2" fill="#000" >+</text>
<text x="466.33" y="632.63" font-size="11.2" fill="#000" >+</text>
<text x="494.33" y="632.63" font-size="11.2" fill="#000" >+</text>
<text x="350.79" y="645.83" font-size="11.2" fill="#000" >0</text>
<text x="383.09" y="645.83" font-size="11.2" fill="#000" >0</text>
<text x="410.69" y="645.83" font-size="11.2" fill="#000" >1</text>
<text x="431.62" y="645.83" font-size="11.2" fill="#000" >0.3</text>
<text x="461.42" y="645.83" font-size="11.2" fill="#000" >0.1</text>
<text x="492.20" y="645.83" font-size="11.2" fill="#000" >0.03</text>
<text transform="translate(300.60,539.15) rotate(-90)" x="-37.15" y="0" font-size="10.8" textLength="74.30" lengthAdjust="spacingAndGlyphs">pSTAT3 (MFI)</text>
<polygon points="76,603.5 76,562 78.5,558 81,566 84.5,580 88,594 89.5,603.5" fill="#c4c4c4" fill-opacity="1.0"/>
<polygon points="82,559.5 92,553.5 104.5,550 101,561 97.5,574 95.5,587 94,598 90,590 86,578 83,567" fill="#e4e4e4" fill-opacity="1.0"/>
<path d="M77.1 596.7h0.9v0.9h-0.9zM82.9 577.6h0.9v0.9h-0.9zM85.4 593.9h0.9v0.9h-0.9zM82.1 590.6h0.9v0.9h-0.9zM78.7 601.4h0.9v0.9h-0.9zM78.5 576.3h0.9v0.9h-0.9zM82.0 579.8h0.9v0.9h-0.9zM78.7 567.1h0.9v0.9h-0.9zM78.5 578.1h0.9v0.9h-0.9zM76.9 572.0h0.9v0.9h-0.9zM86.5 590.1h0.9v0.9h-0.9zM79.9 584.2h0.9v0.9h-0.9zM83.1 584.3h0.9v0.9h-0.9zM77.8 582.3h0.9v0.9h-0.9zM86.2 588.4h0.9v0.9h-0.9zM81.0 577.1h0.9v0.9h-0.9zM83.1 593.4h0.9v0.9h-0.9zM83.0 603.1h0.9v0.9h-0.9zM83.2 601.7h0.9v0.9h-0.9zM79.3 582.3h0.9v0.9h-0.9zM87.5 595.4h0.9v0.9h-0.9zM83.1 579.3h0.9v0.9h-0.9zM80.7 572.6h0.9v0.9h-0.9zM83.6 585.9h0.9v0.9h-0.9zM77.8 584.1h0.9v0.9h-0.9zM87.8 595.2h0.9v0.9h-0.9zM79.1 596.4h0.9v0.9h-0.9zM76.8 586.0h0.9v0.9h-0.9zM77.6 581.3h0.9v0.9h-0.9zM77.7 569.1h0.9v0.9h-0.9zM80.2 578.7h0.9v0.9h-0.9zM76.7 599.2h0.9v0.9h-0.9zM84.7 595.2h0.9v0.9h-0.9zM77.3 590.5h0.9v0.9h-0.9zM77.6 589.8h0.9v0.9h-0.9zM78.5 602.8h0.9v0.9h-0.9zM78.6 587.1h0.9v0.9h-0.9zM81.3 583.6h0.9v0.9h-0.9zM80.1 586.3h0.9v0.9h-0.9zM79.9 597.2h0.9v0.9h-0.9zM80.0 601.1h0.9v0.9h-0.9zM88.1 602.2h0.9v0.9h-0.9zM88.9 602.7h0.9v0.9h-0.9zM81.0 572.7h0.9v0.9h-0.9zM78.3 588.4h0.9v0.9h-0.9zM76.7 588.0h0.9v0.9h-0.9zM79.7 580.0h0.9v0.9h-0.9zM80.2 597.8h0.9v0.9h-0.9zM78.2 571.7h0.9v0.9h-0.9zM80.4 566.2h0.9v0.9h-0.9zM85.8 596.2h0.9v0.9h-0.9zM82.8 603.3h0.9v0.9h-0.9zM78.8 590.8h0.9v0.9h-0.9zM76.4 564.1h0.9v0.9h-0.9zM80.4 570.0h0.9v0.9h-0.9zM77.2 582.5h0.9v0.9h-0.9zM76.2 597.6h0.9v0.9h-0.9zM87.6 595.8h0.9v0.9h-0.9zM80.5 585.5h0.9v0.9h-0.9zM76.3 568.8h0.9v0.9h-0.9zM79.4 593.8h0.9v0.9h-0.9zM76.8 598.5h0.9v0.9h-0.9zM76.8 564.0h0.9v0.9h-0.9zM78.9 591.7h0.9v0.9h-0.9zM76.6 599.7h0.9v0.9h-0.9zM81.1 602.6h0.9v0.9h-0.9zM79.1 578.9h0.9v0.9h-0.9zM76.6 587.3h0.9v0.9h-0.9zM78.4 585.7h0.9v0.9h-0.9zM86.0 587.8h0.9v0.9h-0.9zM79.1 582.0h0.9v0.9h-0.9zM79.9 567.8h0.9v0.9h-0.9zM76.3 569.5h0.9v0.9h-0.9zM85.4 586.9h0.9v0.9h-0.9zM79.9 571.7h0.9v0.9h-0.9zM80.1 596.7h0.9v0.9h-0.9zM80.3 582.1h0.9v0.9h-0.9zM84.3 584.6h0.9v0.9h-0.9zM78.9 559.5h0.9v0.9h-0.9zM76.2 586.5h0.9v0.9h-0.9zM79.7 594.0h0.9v0.9h-0.9zM82.9 597.4h0.9v0.9h-0.9zM77.5 580.1h0.9v0.9h-0.9zM87.4 603.3h0.9v0.9h-0.9zM76.7 580.7h0.9v0.9h-0.9zM80.1 599.3h0.9v0.9h-0.9zM87.9 599.5h0.9v0.9h-0.9zM86.4 588.1h0.9v0.9h-0.9zM83.8 582.0h0.9v0.9h-0.9zM81.3 572.3h0.9v0.9h-0.9zM77.0 568.4h0.9v0.9h-0.9zM81.4 585.4h0.9v0.9h-0.9zM83.5 580.0h0.9v0.9h-0.9zM86.0 591.1h0.9v0.9h-0.9zM78.8 579.8h0.9v0.9h-0.9zM81.6 582.9h0.9v0.9h-0.9zM79.4 587.0h0.9v0.9h-0.9zM83.2 598.1h0.9v0.9h-0.9zM77.6 592.8h0.9v0.9h-0.9zM86.1 596.8h0.9v0.9h-0.9zM80.9 589.7h0.9v0.9h-0.9zM88.7 599.0h0.9v0.9h-0.9zM77.8 568.0h0.9v0.9h-0.9zM78.5 583.3h0.9v0.9h-0.9zM85.9 590.4h0.9v0.9h-0.9zM80.6 580.7h0.9v0.9h-0.9zM77.6 591.0h0.9v0.9h-0.9zM79.3 599.8h0.9v0.9h-0.9zM87.4 596.4h0.9v0.9h-0.9zM85.6 589.6h0.9v0.9h-0.9zM82.1 600.4h0.9v0.9h-0.9zM77.6 571.6h0.9v0.9h-0.9zM77.0 599.6h0.9v0.9h-0.9zM76.9 570.2h0.9v0.9h-0.9zM79.0 592.0h0.9v0.9h-0.9zM85.0 585.1h0.9v0.9h-0.9zM79.6 582.0h0.9v0.9h-0.9zM79.4 584.1h0.9v0.9h-0.9zM79.0 588.8h0.9v0.9h-0.9zM87.7 594.8h0.9v0.9h-0.9zM82.9 597.1h0.9v0.9h-0.9zM81.1 569.6h0.9v0.9h-0.9zM76.7 594.8h0.9v0.9h-0.9zM76.9 591.9h0.9v0.9h-0.9zM83.7 602.3h0.9v0.9h-0.9zM87.2 602.7h0.9v0.9h-0.9zM77.2 580.0h0.9v0.9h-0.9zM82.1 577.6h0.9v0.9h-0.9zM79.9 575.2h0.9v0.9h-0.9zM82.9 587.1h0.9v0.9h-0.9zM84.6 598.3h0.9v0.9h-0.9zM86.9 603.4h0.9v0.9h-0.9zM79.9 564.2h0.9v0.9h-0.9zM81.2 576.4h0.9v0.9h-0.9zM81.5 597.3h0.9v0.9h-0.9zM84.4 591.2h0.9v0.9h-0.9zM82.9 591.8h0.9v0.9h-0.9zM85.2 587.1h0.9v0.9h-0.9zM85.1 586.4h0.9v0.9h-0.9zM80.6 568.7h0.9v0.9h-0.9zM86.3 597.9h0.9v0.9h-0.9zM83.2 591.7h0.9v0.9h-0.9zM81.8 573.0h0.9v0.9h-0.9zM83.1 601.4h0.9v0.9h-0.9zM78.3 566.0h0.9v0.9h-0.9zM76.2 595.9h0.9v0.9h-0.9zM83.2 591.4h0.9v0.9h-0.9zM77.7 587.3h0.9v0.9h-0.9zM86.4 595.1h0.9v0.9h-0.9zM79.3 585.3h0.9v0.9h-0.9zM78.7 582.9h0.9v0.9h-0.9zM77.8 593.9h0.9v0.9h-0.9zM78.6 602.3h0.9v0.9h-0.9zM86.3 596.5h0.9v0.9h-0.9zM81.9 592.6h0.9v0.9h-0.9zM77.2 590.4h0.9v0.9h-0.9zM80.8 592.1h0.9v0.9h-0.9zM78.8 590.5h0.9v0.9h-0.9zM76.7 575.1h0.9v0.9h-0.9zM84.6 598.7h0.9v0.9h-0.9zM86.3 595.1h0.9v0.9h-0.9zM80.5 596.2h0.9v0.9h-0.9zM76.9 589.2h0.9v0.9h-0.9zM76.5 575.2h0.9v0.9h-0.9zM82.9 574.1h0.9v0.9h-0.9zM77.7 567.1h0.9v0.9h-0.9zM84.5 599.7h0.9v0.9h-0.9zM87.8 597.2h0.9v0.9h-0.9zM80.1 574.4h0.9v0.9h-0.9zM84.3 600.1h0.9v0.9h-0.9zM81.4 598.2h0.9v0.9h-0.9zM77.3 587.9h0.9v0.9h-0.9zM77.1 578.2h0.9v0.9h-0.9zM88.4 599.5h0.9v0.9h-0.9zM79.4 561.6h0.9v0.9h-0.9zM85.2 591.7h0.9v0.9h-0.9zM86.0 596.6h0.9v0.9h-0.9zM85.1 602.5h0.9v0.9h-0.9zM84.7 582.9h0.9v0.9h-0.9zM80.7 575.8h0.9v0.9h-0.9zM78.2 598.2h0.9v0.9h-0.9zM81.8 587.8h0.9v0.9h-0.9zM86.4 591.7h0.9v0.9h-0.9zM86.5 592.1h0.9v0.9h-0.9zM79.0 602.9h0.9v0.9h-0.9zM77.4 600.1h0.9v0.9h-0.9zM80.9 603.3h0.9v0.9h-0.9zM81.3 590.0h0.9v0.9h-0.9zM77.1 594.1h0.9v0.9h-0.9zM87.9 597.1h0.9v0.9h-0.9zM79.9 576.4h0.9v0.9h-0.9zM78.9 582.7h0.9v0.9h-0.9zM80.3 572.3h0.9v0.9h-0.9zM87.5 601.9h0.9v0.9h-0.9zM83.6 599.0h0.9v0.9h-0.9zM77.5 573.8h0.9v0.9h-0.9zM80.5 583.6h0.9v0.9h-0.9zM79.8 572.9h0.9v0.9h-0.9zM80.2 591.9h0.9v0.9h-0.9zM83.0 581.3h0.9v0.9h-0.9zM77.4 599.9h0.9v0.9h-0.9zM80.2 571.7h0.9v0.9h-0.9zM76.1 603.0h0.9v0.9h-0.9zM82.7 599.8h0.9v0.9h-0.9zM88.1 600.4h0.9v0.9h-0.9zM77.2 581.1h0.9v0.9h-0.9zM81.4 578.3h0.9v0.9h-0.9zM77.7 563.1h0.9v0.9h-0.9zM81.6 590.9h0.9v0.9h-0.9zM76.7 568.6h0.9v0.9h-0.9zM77.8 597.4h0.9v0.9h-0.9zM79.5 598.8h0.9v0.9h-0.9zM84.6 597.5h0.9v0.9h-0.9zM86.6 595.1h0.9v0.9h-0.9zM78.2 591.8h0.9v0.9h-0.9zM82.8 575.4h0.9v0.9h-0.9zM78.0 570.4h0.9v0.9h-0.9zM76.9 570.5h0.9v0.9h-0.9zM84.2 582.5h0.9v0.9h-0.9zM83.4 582.0h0.9v0.9h-0.9zM88.1 601.8h0.9v0.9h-0.9zM81.5 586.2h0.9v0.9h-0.9zM79.9 570.5h0.9v0.9h-0.9zM83.1 584.1h0.9v0.9h-0.9zM83.8 602.9h0.9v0.9h-0.9zM77.6 586.6h0.9v0.9h-0.9zM81.4 601.0h0.9v0.9h-0.9zM82.4 594.2h0.9v0.9h-0.9zM81.0 592.0h0.9v0.9h-0.9zM80.7 575.9h0.9v0.9h-0.9zM79.2 597.2h0.9v0.9h-0.9zM83.2 591.5h0.9v0.9h-0.9zM76.5 562.2h0.9v0.9h-0.9zM82.7 601.7h0.9v0.9h-0.9zM81.4 590.7h0.9v0.9h-0.9zM83.8 581.7h0.9v0.9h-0.9zM80.5 601.4h0.9v0.9h-0.9zM79.2 569.4h0.9v0.9h-0.9zM82.7 594.1h0.9v0.9h-0.9zM81.2 588.1h0.9v0.9h-0.9zM79.7 580.4h0.9v0.9h-0.9zM81.2 599.5h0.9v0.9h-0.9zM78.2 581.0h0.9v0.9h-0.9zM81.7 598.6h0.9v0.9h-0.9zM82.9 599.0h0.9v0.9h-0.9zM79.3 581.9h0.9v0.9h-0.9zM82.0 592.5h0.9v0.9h-0.9zM79.4 589.9h0.9v0.9h-0.9zM78.1 582.9h0.9v0.9h-0.9zM84.6 602.1h0.9v0.9h-0.9zM83.5 585.2h0.9v0.9h-0.9zM77.4 575.9h0.9v0.9h-0.9zM79.5 589.4h0.9v0.9h-0.9zM79.3 566.3h0.9v0.9h-0.9zM80.9 578.6h0.9v0.9h-0.9zM80.4 585.1h0.9v0.9h-0.9zM77.9 598.2h0.9v0.9h-0.9zM86.0 587.0h0.9v0.9h-0.9zM88.0 598.8h0.9v0.9h-0.9zM80.0 579.7h0.9v0.9h-0.9zM77.2 568.3h0.9v0.9h-0.9zM76.4 581.9h0.9v0.9h-0.9zM78.2 583.2h0.9v0.9h-0.9zM79.9 585.5h0.9v0.9h-0.9zM76.4 566.8h0.9v0.9h-0.9zM85.9 603.3h0.9v0.9h-0.9zM80.5 584.9h0.9v0.9h-0.9zM79.0 593.0h0.9v0.9h-0.9zM76.2 590.8h0.9v0.9h-0.9zM76.7 571.2h0.9v0.9h-0.9zM81.4 600.8h0.9v0.9h-0.9zM85.9 585.8h0.9v0.9h-0.9zM83.4 583.1h0.9v0.9h-0.9zM78.4 576.9h0.9v0.9h-0.9zM79.3 581.4h0.9v0.9h-0.9zM82.6 575.4h0.9v0.9h-0.9zM76.7 573.9h0.9v0.9h-0.9zM83.7 596.5h0.9v0.9h-0.9zM86.6 588.9h0.9v0.9h-0.9zM80.4 598.7h0.9v0.9h-0.9zM77.6 596.8h0.9v0.9h-0.9zM81.1 577.1h0.9v0.9h-0.9zM76.9 584.8h0.9v0.9h-0.9zM79.3 588.0h0.9v0.9h-0.9zM81.1 583.0h0.9v0.9h-0.9zM81.8 600.8h0.9v0.9h-0.9zM81.5 585.1h0.9v0.9h-0.9zM76.8 562.7h0.9v0.9h-0.9zM79.3 603.2h0.9v0.9h-0.9zM87.8 595.3h0.9v0.9h-0.9zM78.9 594.8h0.9v0.9h-0.9zM78.8 583.0h0.9v0.9h-0.9zM87.4 600.0h0.9v0.9h-0.9zM80.0 598.2h0.9v0.9h-0.9zM80.5 587.6h0.9v0.9h-0.9zM81.0 570.1h0.9v0.9h-0.9zM85.8 598.8h0.9v0.9h-0.9zM77.8 586.9h0.9v0.9h-0.9zM86.4 602.8h0.9v0.9h-0.9zM81.1 596.0h0.9v0.9h-0.9zM77.8 590.4h0.9v0.9h-0.9zM76.6 572.1h0.9v0.9h-0.9zM82.5 579.6h0.9v0.9h-0.9zM78.1 577.1h0.9v0.9h-0.9zM83.7 583.4h0.9v0.9h-0.9zM77.4 574.1h0.9v0.9h-0.9zM76.2 564.8h0.9v0.9h-0.9zM77.5 602.7h0.9v0.9h-0.9zM88.2 601.4h0.9v0.9h-0.9zM85.1 591.3h0.9v0.9h-0.9zM87.9 603.1h0.9v0.9h-0.9zM80.5 567.5h0.9v0.9h-0.9zM87.4 600.9h0.9v0.9h-0.9zM84.4 580.6h0.9v0.9h-0.9zM81.8 594.1h0.9v0.9h-0.9zM86.2 589.1h0.9v0.9h-0.9zM79.0 593.4h0.9v0.9h-0.9zM76.9 586.9h0.9v0.9h-0.9zM81.2 582.9h0.9v0.9h-0.9zM80.0 569.3h0.9v0.9h-0.9zM81.6 584.6h0.9v0.9h-0.9zM80.1 581.7h0.9v0.9h-0.9zM82.2 580.1h0.9v0.9h-0.9zM81.3 574.7h0.9v0.9h-0.9zM78.2 595.2h0.9v0.9h-0.9zM84.1 596.6h0.9v0.9h-0.9zM77.3 568.2h0.9v0.9h-0.9zM80.6 569.4h0.9v0.9h-0.9zM77.1 568.1h0.9v0.9h-0.9zM78.1 594.5h0.9v0.9h-0.9zM81.9 597.9h0.9v0.9h-0.9zM84.2 582.6h0.9v0.9h-0.9zM77.1 581.8h0.9v0.9h-0.9zM76.2 567.6h0.9v0.9h-0.9zM81.1 569.7h0.9v0.9h-0.9zM85.6 603.4h0.9v0.9h-0.9zM80.7 596.3h0.9v0.9h-0.9zM78.6 590.0h0.9v0.9h-0.9zM80.6 581.7h0.9v0.9h-0.9zM76.4 595.7h0.9v0.9h-0.9zM78.3 578.2h0.9v0.9h-0.9zM79.6 594.9h0.9v0.9h-0.9zM84.5 585.5h0.9v0.9h-0.9zM80.0 595.0h0.9v0.9h-0.9zM76.7 597.0h0.9v0.9h-0.9zM78.3 580.4h0.9v0.9h-0.9zM76.9 599.5h0.9v0.9h-0.9zM86.3 595.3h0.9v0.9h-0.9zM81.1 600.3h0.9v0.9h-0.9zM77.1 590.4h0.9v0.9h-0.9zM76.9 565.7h0.9v0.9h-0.9zM82.7 585.5h0.9v0.9h-0.9zM79.3 586.6h0.9v0.9h-0.9zM85.7 600.2h0.9v0.9h-0.9zM83.0 597.1h0.9v0.9h-0.9zM81.7 569.1h0.9v0.9h-0.9zM76.6 595.9h0.9v0.9h-0.9zM77.1 582.9h0.9v0.9h-0.9zM78.4 595.5h0.9v0.9h-0.9zM83.6 600.4h0.9v0.9h-0.9zM81.8 577.2h0.9v0.9h-0.9zM78.0 580.5h0.9v0.9h-0.9zM80.8 598.1h0.9v0.9h-0.9zM76.0 599.5h0.9v0.9h-0.9zM82.3 596.0h0.9v0.9h-0.9zM77.8 563.1h0.9v0.9h-0.9zM87.7 596.4h0.9v0.9h-0.9zM81.8 584.3h0.9v0.9h-0.9zM80.1 563.2h0.9v0.9h-0.9zM84.4 596.8h0.9v0.9h-0.9zM79.4 597.5h0.9v0.9h-0.9zM87.6 593.2h0.9v0.9h-0.9zM76.8 583.5h0.9v0.9h-0.9zM80.4 573.7h0.9v0.9h-0.9zM83.8 586.6h0.9v0.9h-0.9zM85.1 596.7h0.9v0.9h-0.9zM82.1 580.0h0.9v0.9h-0.9zM77.6 571.6h0.9v0.9h-0.9zM78.4 599.0h0.9v0.9h-0.9zM77.4 561.2h0.9v0.9h-0.9zM80.1 580.4h0.9v0.9h-0.9zM85.1 595.4h0.9v0.9h-0.9zM79.2 602.5h0.9v0.9h-0.9zM83.8 583.5h0.9v0.9h-0.9zM77.7 600.9h0.9v0.9h-0.9zM79.5 590.9h0.9v0.9h-0.9zM79.2 566.1h0.9v0.9h-0.9zM79.4 579.1h0.9v0.9h-0.9zM89.0 602.8h0.9v0.9h-0.9zM80.0 600.4h0.9v0.9h-0.9zM82.1 573.5h0.9v0.9h-0.9zM80.0 592.0h0.9v0.9h-0.9zM84.4 587.9h0.9v0.9h-0.9zM76.8 562.2h0.9v0.9h-0.9zM79.3 565.4h0.9v0.9h-0.9zM80.4 602.3h0.9v0.9h-0.9zM79.1 582.5h0.9v0.9h-0.9zM76.4 595.2h0.9v0.9h-0.9zM78.4 569.9h0.9v0.9h-0.9zM82.8 573.8h0.9v0.9h-0.9zM81.3 587.4h0.9v0.9h-0.9zM78.1 564.7h0.9v0.9h-0.9zM85.0 587.9h0.9v0.9h-0.9zM76.2 576.2h0.9v0.9h-0.9zM86.2 594.6h0.9v0.9h-0.9zM84.0 582.4h0.9v0.9h-0.9zM83.0 578.9h0.9v0.9h-0.9zM82.5 595.9h0.9v0.9h-0.9zM84.0 594.7h0.9v0.9h-0.9zM80.0 585.0h0.9v0.9h-0.9zM82.1 589.6h0.9v0.9h-0.9zM82.0 586.8h0.9v0.9h-0.9zM80.7 593.7h0.9v0.9h-0.9zM84.4 593.8h0.9v0.9h-0.9zM76.3 561.8h0.9v0.9h-0.9zM77.1 589.2h0.9v0.9h-0.9zM78.7 602.2h0.9v0.9h-0.9zM79.7 576.2h0.9v0.9h-0.9zM83.4 578.1h0.9v0.9h-0.9zM78.2 601.0h0.9v0.9h-0.9zM84.7 585.6h0.9v0.9h-0.9zM77.4 603.5h0.9v0.9h-0.9zM86.9 598.2h0.9v0.9h-0.9zM79.9 579.9h0.9v0.9h-0.9zM80.9 582.6h0.9v0.9h-0.9zM80.1 585.0h0.9v0.9h-0.9zM76.4 579.6h0.9v0.9h-0.9zM83.0 597.8h0.9v0.9h-0.9zM87.0 592.0h0.9v0.9h-0.9zM81.0 567.1h0.9v0.9h-0.9zM76.6 580.7h0.9v0.9h-0.9zM78.2 570.2h0.9v0.9h-0.9zM78.7 566.1h0.9v0.9h-0.9zM83.9 577.7h0.9v0.9h-0.9zM80.3 575.5h0.9v0.9h-0.9zM85.2 592.6h0.9v0.9h-0.9zM78.5 564.5h0.9v0.9h-0.9zM87.7 598.1h0.9v0.9h-0.9zM77.3 596.0h0.9v0.9h-0.9zM79.6 572.5h0.9v0.9h-0.9zM76.9 565.7h0.9v0.9h-0.9zM78.5 569.7h0.9v0.9h-0.9zM79.0 576.3h0.9v0.9h-0.9zM79.0 565.4h0.9v0.9h-0.9zM80.6 577.8h0.9v0.9h-0.9zM84.8 597.5h0.9v0.9h-0.9zM81.2 576.5h0.9v0.9h-0.9zM78.9 595.8h0.9v0.9h-0.9zM76.2 594.3h0.9v0.9h-0.9zM82.3 572.9h0.9v0.9h-0.9zM81.3 578.6h0.9v0.9h-0.9zM77.7 583.2h0.9v0.9h-0.9zM77.4 578.0h0.9v0.9h-0.9zM76.3 585.4h0.9v0.9h-0.9zM78.8 587.0h0.9v0.9h-0.9zM77.7 597.1h0.9v0.9h-0.9zM80.0 576.6h0.9v0.9h-0.9zM83.8 598.5h0.9v0.9h-0.9zM78.0 581.7h0.9v0.9h-0.9zM78.1 573.1h0.9v0.9h-0.9zM76.9 601.5h0.9v0.9h-0.9zM84.8 602.3h0.9v0.9h-0.9zM78.4 567.9h0.9v0.9h-0.9zM81.4 573.3h0.9v0.9h-0.9zM76.6 562.5h0.9v0.9h-0.9zM80.9 598.7h0.9v0.9h-0.9zM77.3 566.9h0.9v0.9h-0.9zM80.0 580.5h0.9v0.9h-0.9zM81.9 597.8h0.9v0.9h-0.9zM78.3 592.6h0.9v0.9h-0.9zM77.1 566.0h0.9v0.9h-0.9zM77.6 573.4h0.9v0.9h-0.9zM84.8 588.5h0.9v0.9h-0.9zM80.5 583.6h0.9v0.9h-0.9zM80.1 579.1h0.9v0.9h-0.9zM80.9 582.8h0.9v0.9h-0.9zM80.1 591.6h0.9v0.9h-0.9zM84.7 598.7h0.9v0.9h-0.9zM84.2 579.1h0.9v0.9h-0.9zM76.0 587.6h0.9v0.9h-0.9zM77.9 571.7h0.9v0.9h-0.9zM80.0 596.0h0.9v0.9h-0.9zM79.0 570.7h0.9v0.9h-0.9zM82.8 601.6h0.9v0.9h-0.9zM79.7 586.4h0.9v0.9h-0.9zM80.7 587.4h0.9v0.9h-0.9zM84.0 583.6h0.9v0.9h-0.9zM84.7 588.4h0.9v0.9h-0.9zM80.2 572.9h0.9v0.9h-0.9zM81.4 581.1h0.9v0.9h-0.9zM84.1 598.0h0.9v0.9h-0.9zM81.3 577.6h0.9v0.9h-0.9zM88.3 602.6h0.9v0.9h-0.9zM78.9 591.1h0.9v0.9h-0.9zM79.0 591.6h0.9v0.9h-0.9zM84.1 589.6h0.9v0.9h-0.9zM84.0 579.9h0.9v0.9h-0.9zM84.0 591.6h0.9v0.9h-0.9zM77.6 584.3h0.9v0.9h-0.9zM86.0 587.8h0.9v0.9h-0.9zM77.6 577.2h0.9v0.9h-0.9zM88.3 601.8h0.9v0.9h-0.9zM84.1 602.6h0.9v0.9h-0.9zM77.8 579.5h0.9v0.9h-0.9zM77.0 568.6h0.9v0.9h-0.9zM77.9 599.8h0.9v0.9h-0.9zM82.3 582.5h0.9v0.9h-0.9zM77.7 585.5h0.9v0.9h-0.9zM81.1 587.4h0.9v0.9h-0.9zM82.0 595.1h0.9v0.9h-0.9zM82.1 596.1h0.9v0.9h-0.9zM76.6 574.6h0.9v0.9h-0.9zM82.2 596.9h0.9v0.9h-0.9zM81.2 599.8h0.9v0.9h-0.9zM77.3 602.6h0.9v0.9h-0.9zM82.3 598.1h0.9v0.9h-0.9zM81.0 571.4h0.9v0.9h-0.9zM82.8 577.4h0.9v0.9h-0.9zM82.8 577.4h0.9v0.9h-0.9zM82.3 581.8h0.9v0.9h-0.9zM88.2 601.7h0.9v0.9h-0.9zM83.9 586.5h0.9v0.9h-0.9zM82.8 574.9h0.9v0.9h-0.9zM78.9 565.6h0.9v0.9h-0.9zM87.5 599.5h0.9v0.9h-0.9zM80.8 584.6h0.9v0.9h-0.9zM87.6 597.0h0.9v0.9h-0.9zM79.6 566.8h0.9v0.9h-0.9zM81.4 589.5h0.9v0.9h-0.9zM81.2 599.3h0.9v0.9h-0.9zM87.5 596.3h0.9v0.9h-0.9zM78.6 559.2h0.9v0.9h-0.9zM81.9 594.8h0.9v0.9h-0.9zM76.5 575.6h0.9v0.9h-0.9zM77.5 581.6h0.9v0.9h-0.9zM86.7 603.4h0.9v0.9h-0.9zM82.0 582.0h0.9v0.9h-0.9zM85.2 589.6h0.9v0.9h-0.9zM78.3 563.6h0.9v0.9h-0.9zM77.1 572.0h0.9v0.9h-0.9zM78.8 579.9h0.9v0.9h-0.9zM82.8 600.3h0.9v0.9h-0.9zM76.4 581.6h0.9v0.9h-0.9zM76.0 578.8h0.9v0.9h-0.9zM83.5 598.6h0.9v0.9h-0.9zM87.8 595.0h0.9v0.9h-0.9zM83.4 587.3h0.9v0.9h-0.9zM80.9 572.7h0.9v0.9h-0.9zM80.9 582.4h0.9v0.9h-0.9zM78.3 559.1h0.9v0.9h-0.9z" fill="#222" fill-opacity="0.55"/>
<path d="M84.9 583.3h0.9v0.9h-0.9zM81.9 593.7h0.9v0.9h-0.9zM81.6 597.3h0.9v0.9h-0.9zM86.1 587.7h0.9v0.9h-0.9zM82.3 589.1h0.9v0.9h-0.9zM83.4 584.1h0.9v0.9h-0.9zM80.6 596.4h0.9v0.9h-0.9zM78.9 586.7h0.9v0.9h-0.9zM79.6 578.7h0.9v0.9h-0.9zM87.7 603.1h0.9v0.9h-0.9zM81.9 578.5h0.9v0.9h-0.9zM83.6 588.4h0.9v0.9h-0.9zM82.6 591.2h0.9v0.9h-0.9zM84.5 597.6h0.9v0.9h-0.9zM76.7 599.5h0.9v0.9h-0.9zM76.8 587.4h0.9v0.9h-0.9zM76.4 580.6h0.9v0.9h-0.9zM79.9 585.3h0.9v0.9h-0.9zM84.2 582.9h0.9v0.9h-0.9zM80.1 602.6h0.9v0.9h-0.9zM82.6 581.6h0.9v0.9h-0.9zM79.3 564.3h0.9v0.9h-0.9zM83.2 587.6h0.9v0.9h-0.9zM81.6 588.9h0.9v0.9h-0.9zM76.0 563.1h0.9v0.9h-0.9zM82.1 591.0h0.9v0.9h-0.9zM77.0 602.9h0.9v0.9h-0.9zM83.6 592.9h0.9v0.9h-0.9zM79.3 602.2h0.9v0.9h-0.9zM76.8 588.9h0.9v0.9h-0.9zM84.7 586.6h0.9v0.9h-0.9zM86.0 600.5h0.9v0.9h-0.9zM82.2 585.3h0.9v0.9h-0.9zM83.5 584.3h0.9v0.9h-0.9zM79.9 593.7h0.9v0.9h-0.9zM77.6 563.2h0.9v0.9h-0.9zM80.6 589.1h0.9v0.9h-0.9zM77.2 583.7h0.9v0.9h-0.9zM79.0 597.1h0.9v0.9h-0.9zM79.2 600.8h0.9v0.9h-0.9zM79.5 578.8h0.9v0.9h-0.9zM82.0 594.8h0.9v0.9h-0.9zM78.0 592.9h0.9v0.9h-0.9zM80.7 599.7h0.9v0.9h-0.9zM78.7 601.2h0.9v0.9h-0.9zM80.8 597.6h0.9v0.9h-0.9zM80.2 566.4h0.9v0.9h-0.9zM79.1 589.2h0.9v0.9h-0.9zM76.7 588.9h0.9v0.9h-0.9zM82.0 580.8h0.9v0.9h-0.9zM76.6 567.6h0.9v0.9h-0.9zM80.7 586.9h0.9v0.9h-0.9zM84.5 598.9h0.9v0.9h-0.9zM81.9 582.6h0.9v0.9h-0.9zM81.7 592.2h0.9v0.9h-0.9zM85.0 601.4h0.9v0.9h-0.9zM77.3 562.1h0.9v0.9h-0.9zM79.7 585.6h0.9v0.9h-0.9zM79.3 584.6h0.9v0.9h-0.9zM79.2 595.8h0.9v0.9h-0.9zM76.7 593.6h0.9v0.9h-0.9zM77.4 590.3h0.9v0.9h-0.9zM87.5 601.3h0.9v0.9h-0.9zM85.6 599.7h0.9v0.9h-0.9zM87.3 602.6h0.9v0.9h-0.9zM82.9 596.4h0.9v0.9h-0.9zM76.3 588.3h0.9v0.9h-0.9zM79.9 581.8h0.9v0.9h-0.9zM84.9 596.8h0.9v0.9h-0.9zM85.0 598.1h0.9v0.9h-0.9zM79.0 584.9h0.9v0.9h-0.9zM80.2 570.5h0.9v0.9h-0.9zM77.4 567.6h0.9v0.9h-0.9zM77.6 568.5h0.9v0.9h-0.9zM78.2 563.9h0.9v0.9h-0.9zM83.9 599.9h0.9v0.9h-0.9zM80.1 599.6h0.9v0.9h-0.9zM78.5 593.9h0.9v0.9h-0.9zM78.5 586.6h0.9v0.9h-0.9zM83.2 594.1h0.9v0.9h-0.9zM76.1 567.1h0.9v0.9h-0.9zM83.4 590.3h0.9v0.9h-0.9zM78.9 566.3h0.9v0.9h-0.9zM84.7 599.6h0.9v0.9h-0.9zM79.2 572.8h0.9v0.9h-0.9zM76.2 577.7h0.9v0.9h-0.9zM79.9 567.8h0.9v0.9h-0.9zM78.1 599.5h0.9v0.9h-0.9zM85.0 588.9h0.9v0.9h-0.9zM78.6 578.8h0.9v0.9h-0.9zM88.4 601.6h0.9v0.9h-0.9zM79.1 582.1h0.9v0.9h-0.9zM77.9 579.0h0.9v0.9h-0.9zM81.3 599.3h0.9v0.9h-0.9zM78.5 575.1h0.9v0.9h-0.9zM84.5 595.9h0.9v0.9h-0.9zM81.6 574.7h0.9v0.9h-0.9zM78.1 589.9h0.9v0.9h-0.9zM78.1 581.0h0.9v0.9h-0.9zM76.4 579.1h0.9v0.9h-0.9zM87.8 596.3h0.9v0.9h-0.9zM88.0 600.9h0.9v0.9h-0.9zM80.4 578.8h0.9v0.9h-0.9zM81.0 585.8h0.9v0.9h-0.9zM76.7 589.0h0.9v0.9h-0.9zM84.6 594.6h0.9v0.9h-0.9zM76.2 576.1h0.9v0.9h-0.9zM87.2 599.2h0.9v0.9h-0.9zM85.0 592.7h0.9v0.9h-0.9zM83.2 598.6h0.9v0.9h-0.9zM84.4 592.8h0.9v0.9h-0.9zM77.7 589.0h0.9v0.9h-0.9zM86.5 591.0h0.9v0.9h-0.9zM82.8 574.4h0.9v0.9h-0.9zM76.4 586.0h0.9v0.9h-0.9zM81.0 586.6h0.9v0.9h-0.9zM85.6 596.0h0.9v0.9h-0.9zM84.0 583.0h0.9v0.9h-0.9zM80.0 581.8h0.9v0.9h-0.9zM84.9 588.7h0.9v0.9h-0.9z" fill="#fff" fill-opacity="0.7"/>
<path d="M93.8 568.7h0.9v0.9h-0.9zM90.9 557.7h0.9v0.9h-0.9zM96.5 557.1h0.9v0.9h-0.9zM93.8 562.6h0.9v0.9h-0.9zM99.7 557.1h0.9v0.9h-0.9zM91.8 590.8h0.9v0.9h-0.9zM93.7 574.4h0.9v0.9h-0.9zM93.6 557.6h0.9v0.9h-0.9zM88.1 566.4h0.9v0.9h-0.9zM94.8 563.3h0.9v0.9h-0.9zM90.0 576.2h0.9v0.9h-0.9zM97.4 562.2h0.9v0.9h-0.9zM101.5 554.5h0.9v0.9h-0.9zM84.8 568.2h0.9v0.9h-0.9zM94.7 581.7h0.9v0.9h-0.9zM100.6 551.9h0.9v0.9h-0.9zM99.5 559.4h0.9v0.9h-0.9zM95.9 554.5h0.9v0.9h-0.9zM92.0 566.5h0.9v0.9h-0.9zM91.7 584.5h0.9v0.9h-0.9zM87.7 556.5h0.9v0.9h-0.9zM102.0 554.7h0.9v0.9h-0.9zM86.8 579.8h0.9v0.9h-0.9zM102.2 555.9h0.9v0.9h-0.9zM91.0 573.5h0.9v0.9h-0.9zM92.1 578.5h0.9v0.9h-0.9zM91.7 592.0h0.9v0.9h-0.9zM94.9 572.5h0.9v0.9h-0.9zM94.5 562.6h0.9v0.9h-0.9zM87.6 568.2h0.9v0.9h-0.9zM83.6 568.8h0.9v0.9h-0.9zM88.8 583.3h0.9v0.9h-0.9zM96.9 563.5h0.9v0.9h-0.9zM92.0 578.2h0.9v0.9h-0.9zM92.2 583.3h0.9v0.9h-0.9zM97.3 570.2h0.9v0.9h-0.9zM89.7 569.2h0.9v0.9h-0.9zM91.3 556.3h0.9v0.9h-0.9zM85.3 568.7h0.9v0.9h-0.9zM93.6 581.1h0.9v0.9h-0.9z" fill="#888" fill-opacity="0.4"/>
<path d="M96.0 549.6h0.9v0.9h-0.9zM87.4 549.2h0.9v0.9h-0.9zM99.9 551.1h0.9v0.9h-0.9zM83.9 555.0h0.9v0.9h-0.9zM79.5 560.5h0.9v0.9h-0.9zM103.7 551.3h0.9v0.9h-0.9zM90.2 551.0h0.9v0.9h-0.9zM79.3 556.2h0.9v0.9h-0.9zM77.9 557.6h0.9v0.9h-0.9zM88.8 551.2h0.9v0.9h-0.9zM105.9 546.0h0.9v0.9h-0.9zM95.1 549.1h0.9v0.9h-0.9zM95.9 548.0h0.9v0.9h-0.9zM82.0 553.5h0.9v0.9h-0.9zM92.3 548.6h0.9v0.9h-0.9zM88.2 549.8h0.9v0.9h-0.9zM101.1 548.8h0.9v0.9h-0.9zM94.1 550.8h0.9v0.9h-0.9zM104.2 548.8h0.9v0.9h-0.9zM88.9 551.5h0.9v0.9h-0.9zM99.3 549.1h0.9v0.9h-0.9zM106.2 550.2h0.9v0.9h-0.9zM96.4 548.7h0.9v0.9h-0.9zM103.3 549.9h0.9v0.9h-0.9zM77.0 557.6h0.9v0.9h-0.9zM82.2 555.6h0.9v0.9h-0.9zM83.2 554.0h0.9v0.9h-0.9zM81.8 553.5h0.9v0.9h-0.9zM101.3 549.2h0.9v0.9h-0.9zM94.3 550.6h0.9v0.9h-0.9zM81.0 556.5h0.9v0.9h-0.9zM92.0 552.1h0.9v0.9h-0.9zM101.8 550.1h0.9v0.9h-0.9zM105.8 548.3h0.9v0.9h-0.9zM80.3 554.7h0.9v0.9h-0.9zM100.4 549.9h0.9v0.9h-0.9zM90.4 553.9h0.9v0.9h-0.9zM99.8 546.0h0.9v0.9h-0.9zM80.4 558.3h0.9v0.9h-0.9zM85.7 550.7h0.9v0.9h-0.9zM81.2 559.1h0.9v0.9h-0.9zM103.6 548.0h0.9v0.9h-0.9zM80.6 557.4h0.9v0.9h-0.9zM97.1 553.1h0.9v0.9h-0.9zM77.9 554.7h0.9v0.9h-0.9zM87.5 551.4h0.9v0.9h-0.9zM107.2 547.2h0.9v0.9h-0.9zM86.3 551.4h0.9v0.9h-0.9zM92.4 546.5h0.9v0.9h-0.9zM98.9 550.6h0.9v0.9h-0.9zM80.0 553.9h0.9v0.9h-0.9zM81.2 554.6h0.9v0.9h-0.9zM86.7 553.9h0.9v0.9h-0.9zM106.8 550.4h0.9v0.9h-0.9zM96.5 548.2h0.9v0.9h-0.9zM88.3 551.5h0.9v0.9h-0.9zM77.8 553.5h0.9v0.9h-0.9zM92.2 550.6h0.9v0.9h-0.9zM89.2 548.3h0.9v0.9h-0.9zM103.2 547.2h0.9v0.9h-0.9zM84.8 553.0h0.9v0.9h-0.9zM85.3 552.0h0.9v0.9h-0.9zM95.4 550.5h0.9v0.9h-0.9zM85.4 554.0h0.9v0.9h-0.9zM87.2 552.0h0.9v0.9h-0.9zM90.9 552.6h0.9v0.9h-0.9zM100.1 549.6h0.9v0.9h-0.9zM85.8 548.7h0.9v0.9h-0.9zM100.6 548.6h0.9v0.9h-0.9zM105.5 548.8h0.9v0.9h-0.9zM105.2 549.7h0.9v0.9h-0.9zM84.4 553.6h0.9v0.9h-0.9zM94.5 549.1h0.9v0.9h-0.9zM77.8 560.3h0.9v0.9h-0.9zM88.6 549.8h0.9v0.9h-0.9zM79.9 558.4h0.9v0.9h-0.9zM82.1 552.4h0.9v0.9h-0.9zM99.9 548.0h0.9v0.9h-0.9zM100.1 549.8h0.9v0.9h-0.9zM75.0 560.7h0.9v0.9h-0.9zM96.0 548.0h0.9v0.9h-0.9zM94.5 548.4h0.9v0.9h-0.9zM84.3 551.8h0.9v0.9h-0.9zM81.4 554.5h0.9v0.9h-0.9zM98.4 550.2h0.9v0.9h-0.9zM100.3 553.0h0.9v0.9h-0.9zM105.9 547.7h0.9v0.9h-0.9zM95.0 548.7h0.9v0.9h-0.9zM99.6 550.2h0.9v0.9h-0.9zM77.0 554.8h0.9v0.9h-0.9zM96.7 550.7h0.9v0.9h-0.9zM79.1 558.7h0.9v0.9h-0.9zM83.9 554.9h0.9v0.9h-0.9zM77.6 558.7h0.9v0.9h-0.9zM88.3 552.9h0.9v0.9h-0.9zM99.9 550.7h0.9v0.9h-0.9zM95.4 547.8h0.9v0.9h-0.9zM98.4 550.9h0.9v0.9h-0.9zM79.6 558.6h0.9v0.9h-0.9zM97.9 549.3h0.9v0.9h-0.9zM80.0 556.7h0.9v0.9h-0.9zM88.9 552.6h0.9v0.9h-0.9zM86.5 550.7h0.9v0.9h-0.9zM97.1 551.7h0.9v0.9h-0.9zM101.3 550.1h0.9v0.9h-0.9zM84.7 553.7h0.9v0.9h-0.9zM93.5 551.9h0.9v0.9h-0.9zM91.8 554.5h0.9v0.9h-0.9zM93.5 551.0h0.9v0.9h-0.9zM80.6 555.9h0.9v0.9h-0.9zM94.3 548.7h0.9v0.9h-0.9zM82.6 552.6h0.9v0.9h-0.9zM101.3 546.9h0.9v0.9h-0.9zM104.0 551.1h0.9v0.9h-0.9zM89.7 550.3h0.9v0.9h-0.9zM84.0 556.7h0.9v0.9h-0.9zM91.9 553.2h0.9v0.9h-0.9zM81.5 555.9h0.9v0.9h-0.9zM100.7 552.2h0.9v0.9h-0.9zM78.2 558.1h0.9v0.9h-0.9zM94.8 547.4h0.9v0.9h-0.9zM102.6 547.7h0.9v0.9h-0.9zM85.5 551.2h0.9v0.9h-0.9zM80.3 555.4h0.9v0.9h-0.9zM105.8 549.6h0.9v0.9h-0.9zM99.5 548.2h0.9v0.9h-0.9zM100.0 551.7h0.9v0.9h-0.9zM77.8 557.1h0.9v0.9h-0.9zM82.2 552.7h0.9v0.9h-0.9zM97.1 550.2h0.9v0.9h-0.9zM83.3 552.6h0.9v0.9h-0.9zM99.8 551.2h0.9v0.9h-0.9zM93.9 552.4h0.9v0.9h-0.9zM96.8 548.6h0.9v0.9h-0.9zM106.0 547.7h0.9v0.9h-0.9zM84.8 553.0h0.9v0.9h-0.9zM85.0 552.3h0.9v0.9h-0.9zM96.8 548.5h0.9v0.9h-0.9zM101.9 549.2h0.9v0.9h-0.9zM98.5 548.3h0.9v0.9h-0.9zM88.4 551.4h0.9v0.9h-0.9zM77.6 557.3h0.9v0.9h-0.9zM96.9 550.5h0.9v0.9h-0.9zM96.7 549.5h0.9v0.9h-0.9zM108.8 547.6h0.9v0.9h-0.9zM93.0 550.9h0.9v0.9h-0.9zM93.0 552.9h0.9v0.9h-0.9zM87.0 551.0h0.9v0.9h-0.9zM94.9 549.6h0.9v0.9h-0.9zM81.8 554.0h0.9v0.9h-0.9zM85.0 553.2h0.9v0.9h-0.9zM84.9 547.0h0.9v0.9h-0.9zM83.0 555.1h0.9v0.9h-0.9zM100.2 549.0h0.9v0.9h-0.9zM89.4 552.2h0.9v0.9h-0.9zM80.7 554.8h0.9v0.9h-0.9zM81.2 553.6h0.9v0.9h-0.9zM102.7 549.2h0.9v0.9h-0.9zM89.5 555.1h0.9v0.9h-0.9zM92.0 551.7h0.9v0.9h-0.9zM96.8 550.7h0.9v0.9h-0.9zM85.2 554.7h0.9v0.9h-0.9zM85.8 553.7h0.9v0.9h-0.9zM91.0 547.0h0.9v0.9h-0.9zM106.8 548.2h0.9v0.9h-0.9zM89.0 550.8h0.9v0.9h-0.9zM103.2 547.0h0.9v0.9h-0.9zM105.6 547.8h0.9v0.9h-0.9zM97.5 549.4h0.9v0.9h-0.9zM82.2 554.2h0.9v0.9h-0.9zM104.3 550.9h0.9v0.9h-0.9zM82.2 555.9h0.9v0.9h-0.9zM90.5 549.2h0.9v0.9h-0.9zM81.9 556.1h0.9v0.9h-0.9zM88.7 552.9h0.9v0.9h-0.9zM106.8 547.5h0.9v0.9h-0.9zM83.5 554.4h0.9v0.9h-0.9zM100.1 548.0h0.9v0.9h-0.9zM98.4 546.7h0.9v0.9h-0.9zM84.0 553.5h0.9v0.9h-0.9zM80.5 550.5h0.9v0.9h-0.9zM98.8 548.5h0.9v0.9h-0.9zM92.9 552.8h0.9v0.9h-0.9zM89.7 553.7h0.9v0.9h-0.9zM100.1 547.9h0.9v0.9h-0.9zM106.4 547.3h0.9v0.9h-0.9zM106.9 549.3h0.9v0.9h-0.9zM103.4 549.4h0.9v0.9h-0.9zM78.1 560.3h0.9v0.9h-0.9zM101.1 548.0h0.9v0.9h-0.9zM100.6 547.3h0.9v0.9h-0.9zM80.8 551.0h0.9v0.9h-0.9zM81.9 555.7h0.9v0.9h-0.9zM106.3 547.9h0.9v0.9h-0.9zM77.2 555.9h0.9v0.9h-0.9zM78.8 556.0h0.9v0.9h-0.9zM106.1 547.6h0.9v0.9h-0.9zM83.7 553.8h0.9v0.9h-0.9zM105.5 548.4h0.9v0.9h-0.9zM101.6 548.3h0.9v0.9h-0.9zM84.0 553.8h0.9v0.9h-0.9zM90.5 551.5h0.9v0.9h-0.9zM79.3 561.3h0.9v0.9h-0.9zM98.5 548.9h0.9v0.9h-0.9zM105.8 547.0h0.9v0.9h-0.9zM108.8 547.5h0.9v0.9h-0.9zM93.6 549.9h0.9v0.9h-0.9zM81.7 557.5h0.9v0.9h-0.9zM106.0 548.7h0.9v0.9h-0.9zM104.0 547.7h0.9v0.9h-0.9zM77.9 559.5h0.9v0.9h-0.9zM79.6 561.4h0.9v0.9h-0.9zM76.1 558.0h0.9v0.9h-0.9zM97.5 550.1h0.9v0.9h-0.9zM87.7 553.3h0.9v0.9h-0.9zM80.2 554.1h0.9v0.9h-0.9zM78.1 562.1h0.9v0.9h-0.9zM91.3 550.5h0.9v0.9h-0.9zM109.7 547.7h0.9v0.9h-0.9zM82.6 551.0h0.9v0.9h-0.9zM99.7 548.8h0.9v0.9h-0.9zM101.5 547.7h0.9v0.9h-0.9zM85.6 556.3h0.9v0.9h-0.9zM85.4 553.6h0.9v0.9h-0.9zM99.6 548.3h0.9v0.9h-0.9zM97.5 548.1h0.9v0.9h-0.9zM96.1 550.0h0.9v0.9h-0.9zM103.9 548.9h0.9v0.9h-0.9zM101.0 544.8h0.9v0.9h-0.9zM96.4 550.0h0.9v0.9h-0.9zM78.0 556.2h0.9v0.9h-0.9zM86.8 553.3h0.9v0.9h-0.9zM91.1 550.6h0.9v0.9h-0.9zM102.0 550.5h0.9v0.9h-0.9zM87.5 553.7h0.9v0.9h-0.9zM81.9 556.6h0.9v0.9h-0.9zM97.7 552.0h0.9v0.9h-0.9zM95.9 551.9h0.9v0.9h-0.9zM77.9 556.4h0.9v0.9h-0.9zM96.4 549.3h0.9v0.9h-0.9zM91.8 550.0h0.9v0.9h-0.9zM92.0 552.1h0.9v0.9h-0.9zM103.2 547.7h0.9v0.9h-0.9zM103.1 547.8h0.9v0.9h-0.9zM104.9 547.6h0.9v0.9h-0.9zM78.1 554.1h0.9v0.9h-0.9zM93.2 553.3h0.9v0.9h-0.9zM81.0 555.8h0.9v0.9h-0.9zM90.7 549.1h0.9v0.9h-0.9zM81.1 556.2h0.9v0.9h-0.9zM93.9 550.5h0.9v0.9h-0.9zM102.8 548.6h0.9v0.9h-0.9zM92.7 552.2h0.9v0.9h-0.9zM101.3 551.1h0.9v0.9h-0.9zM88.0 551.7h0.9v0.9h-0.9zM78.5 556.9h0.9v0.9h-0.9zM94.8 551.1h0.9v0.9h-0.9zM106.5 546.8h0.9v0.9h-0.9zM87.3 553.1h0.9v0.9h-0.9zM103.9 545.7h0.9v0.9h-0.9zM89.4 554.2h0.9v0.9h-0.9zM86.9 551.9h0.9v0.9h-0.9zM106.3 549.2h0.9v0.9h-0.9zM100.5 548.9h0.9v0.9h-0.9zM98.3 551.1h0.9v0.9h-0.9zM83.5 557.6h0.9v0.9h-0.9zM97.3 548.4h0.9v0.9h-0.9zM89.6 550.7h0.9v0.9h-0.9zM97.1 549.0h0.9v0.9h-0.9zM101.8 547.3h0.9v0.9h-0.9zM105.8 548.2h0.9v0.9h-0.9zM92.4 550.6h0.9v0.9h-0.9zM79.1 553.6h0.9v0.9h-0.9zM79.1 554.3h0.9v0.9h-0.9zM91.7 550.8h0.9v0.9h-0.9zM105.8 546.1h0.9v0.9h-0.9zM87.6 552.9h0.9v0.9h-0.9zM92.7 552.9h0.9v0.9h-0.9zM78.7 554.4h0.9v0.9h-0.9zM91.3 550.8h0.9v0.9h-0.9zM79.6 553.7h0.9v0.9h-0.9zM94.8 548.7h0.9v0.9h-0.9zM88.0 557.6h0.9v0.9h-0.9zM78.6 555.4h0.9v0.9h-0.9zM103.5 548.4h0.9v0.9h-0.9zM85.0 553.0h0.9v0.9h-0.9zM102.7 548.8h0.9v0.9h-0.9zM100.5 547.8h0.9v0.9h-0.9zM98.1 548.3h0.9v0.9h-0.9zM84.9 556.2h0.9v0.9h-0.9zM101.0 548.8h0.9v0.9h-0.9zM89.1 552.5h0.9v0.9h-0.9zM79.7 554.1h0.9v0.9h-0.9zM100.9 551.1h0.9v0.9h-0.9zM83.8 554.6h0.9v0.9h-0.9zM98.2 551.6h0.9v0.9h-0.9zM94.7 548.6h0.9v0.9h-0.9zM99.2 551.1h0.9v0.9h-0.9zM92.0 550.2h0.9v0.9h-0.9zM77.7 556.3h0.9v0.9h-0.9zM105.9 549.4h0.9v0.9h-0.9zM85.2 552.3h0.9v0.9h-0.9zM105.2 551.6h0.9v0.9h-0.9zM104.9 550.4h0.9v0.9h-0.9zM108.1 549.2h0.9v0.9h-0.9zM85.9 554.9h0.9v0.9h-0.9zM85.4 555.8h0.9v0.9h-0.9zM76.4 556.9h0.9v0.9h-0.9zM90.1 549.2h0.9v0.9h-0.9zM75.5 556.1h0.9v0.9h-0.9zM89.3 553.8h0.9v0.9h-0.9zM76.3 559.9h0.9v0.9h-0.9zM79.7 552.8h0.9v0.9h-0.9zM89.2 551.1h0.9v0.9h-0.9zM76.4 559.0h0.9v0.9h-0.9zM96.7 551.0h0.9v0.9h-0.9zM91.8 550.4h0.9v0.9h-0.9zM105.6 551.4h0.9v0.9h-0.9zM104.0 546.2h0.9v0.9h-0.9zM77.6 558.5h0.9v0.9h-0.9zM84.1 549.9h0.9v0.9h-0.9zM80.7 557.7h0.9v0.9h-0.9zM88.3 554.2h0.9v0.9h-0.9zM84.2 553.0h0.9v0.9h-0.9zM93.9 548.8h0.9v0.9h-0.9zM87.2 550.4h0.9v0.9h-0.9zM91.5 553.7h0.9v0.9h-0.9zM103.0 548.6h0.9v0.9h-0.9zM97.8 552.4h0.9v0.9h-0.9zM80.1 557.3h0.9v0.9h-0.9zM81.9 554.3h0.9v0.9h-0.9zM85.6 550.4h0.9v0.9h-0.9zM91.0 548.7h0.9v0.9h-0.9zM89.0 552.7h0.9v0.9h-0.9zM93.2 552.5h0.9v0.9h-0.9zM84.6 551.8h0.9v0.9h-0.9zM78.8 556.7h0.9v0.9h-0.9zM95.8 550.5h0.9v0.9h-0.9zM78.6 553.8h0.9v0.9h-0.9zM102.3 548.3h0.9v0.9h-0.9zM98.7 546.7h0.9v0.9h-0.9zM79.5 555.8h0.9v0.9h-0.9zM96.5 549.5h0.9v0.9h-0.9zM78.7 558.5h0.9v0.9h-0.9zM102.0 548.2h0.9v0.9h-0.9zM104.6 548.7h0.9v0.9h-0.9zM94.2 552.1h0.9v0.9h-0.9zM104.6 548.6h0.9v0.9h-0.9zM89.7 550.2h0.9v0.9h-0.9zM81.9 556.5h0.9v0.9h-0.9zM80.7 553.0h0.9v0.9h-0.9zM84.6 555.5h0.9v0.9h-0.9zM82.9 554.9h0.9v0.9h-0.9zM86.6 550.7h0.9v0.9h-0.9zM96.5 547.8h0.9v0.9h-0.9zM81.2 562.2h0.9v0.9h-0.9zM95.9 550.1h0.9v0.9h-0.9zM79.4 558.6h0.9v0.9h-0.9zM102.9 547.2h0.9v0.9h-0.9zM107.0 550.7h0.9v0.9h-0.9zM95.8 552.6h0.9v0.9h-0.9zM79.7 553.9h0.9v0.9h-0.9zM80.6 555.7h0.9v0.9h-0.9zM86.1 551.5h0.9v0.9h-0.9zM78.8 558.1h0.9v0.9h-0.9zM97.1 547.7h0.9v0.9h-0.9zM82.5 551.0h0.9v0.9h-0.9zM106.2 548.4h0.9v0.9h-0.9zM97.2 549.9h0.9v0.9h-0.9zM81.0 556.0h0.9v0.9h-0.9zM107.3 547.9h0.9v0.9h-0.9zM89.4 552.3h0.9v0.9h-0.9zM102.6 546.5h0.9v0.9h-0.9zM92.3 548.6h0.9v0.9h-0.9zM79.3 552.8h0.9v0.9h-0.9zM97.4 549.3h0.9v0.9h-0.9zM102.2 548.5h0.9v0.9h-0.9zM75.8 559.0h0.9v0.9h-0.9zM91.0 548.5h0.9v0.9h-0.9zM92.3 548.6h0.9v0.9h-0.9zM88.2 556.0h0.9v0.9h-0.9zM84.7 552.0h0.9v0.9h-0.9zM99.5 545.7h0.9v0.9h-0.9zM100.3 551.4h0.9v0.9h-0.9zM102.1 547.5h0.9v0.9h-0.9zM107.0 546.1h0.9v0.9h-0.9zM86.1 550.9h0.9v0.9h-0.9zM91.5 549.6h0.9v0.9h-0.9zM97.8 547.5h0.9v0.9h-0.9zM85.9 550.7h0.9v0.9h-0.9zM100.9 551.6h0.9v0.9h-0.9zM97.2 546.1h0.9v0.9h-0.9zM91.7 548.6h0.9v0.9h-0.9zM105.6 547.4h0.9v0.9h-0.9zM83.5 554.9h0.9v0.9h-0.9zM83.0 549.7h0.9v0.9h-0.9zM81.1 556.3h0.9v0.9h-0.9zM101.4 547.4h0.9v0.9h-0.9zM97.4 547.8h0.9v0.9h-0.9zM104.8 547.9h0.9v0.9h-0.9zM99.1 551.2h0.9v0.9h-0.9zM79.7 555.8h0.9v0.9h-0.9zM81.1 553.7h0.9v0.9h-0.9zM85.5 552.8h0.9v0.9h-0.9zM102.3 550.5h0.9v0.9h-0.9zM88.5 553.2h0.9v0.9h-0.9zM80.5 557.6h0.9v0.9h-0.9zM83.5 553.1h0.9v0.9h-0.9zM85.3 553.5h0.9v0.9h-0.9zM81.7 554.5h0.9v0.9h-0.9zM86.3 554.5h0.9v0.9h-0.9zM91.8 550.5h0.9v0.9h-0.9zM104.3 548.1h0.9v0.9h-0.9zM80.0 554.9h0.9v0.9h-0.9zM89.0 550.0h0.9v0.9h-0.9zM104.0 548.6h0.9v0.9h-0.9zM78.4 562.3h0.9v0.9h-0.9zM76.9 557.9h0.9v0.9h-0.9zM100.2 551.5h0.9v0.9h-0.9zM92.4 550.8h0.9v0.9h-0.9zM93.6 549.8h0.9v0.9h-0.9zM91.7 550.4h0.9v0.9h-0.9zM98.7 549.7h0.9v0.9h-0.9zM85.1 553.4h0.9v0.9h-0.9zM77.7 552.9h0.9v0.9h-0.9zM103.7 545.6h0.9v0.9h-0.9zM84.0 552.2h0.9v0.9h-0.9zM80.7 553.2h0.9v0.9h-0.9zM76.6 560.0h0.9v0.9h-0.9zM99.5 546.3h0.9v0.9h-0.9zM86.5 554.0h0.9v0.9h-0.9zM87.6 554.9h0.9v0.9h-0.9zM97.9 550.1h0.9v0.9h-0.9zM88.7 549.4h0.9v0.9h-0.9zM86.8 550.8h0.9v0.9h-0.9zM85.3 551.9h0.9v0.9h-0.9zM81.5 557.5h0.9v0.9h-0.9zM92.3 548.5h0.9v0.9h-0.9zM83.5 551.6h0.9v0.9h-0.9zM94.1 550.5h0.9v0.9h-0.9zM87.5 552.7h0.9v0.9h-0.9zM96.0 548.5h0.9v0.9h-0.9zM78.8 559.6h0.9v0.9h-0.9zM91.1 551.9h0.9v0.9h-0.9zM91.6 551.9h0.9v0.9h-0.9zM90.2 554.6h0.9v0.9h-0.9zM83.6 553.4h0.9v0.9h-0.9zM90.4 551.2h0.9v0.9h-0.9zM91.3 551.7h0.9v0.9h-0.9zM96.1 551.7h0.9v0.9h-0.9zM91.5 551.4h0.9v0.9h-0.9zM76.5 557.5h0.9v0.9h-0.9zM84.2 555.1h0.9v0.9h-0.9zM105.1 546.4h0.9v0.9h-0.9zM100.1 550.2h0.9v0.9h-0.9zM102.1 551.3h0.9v0.9h-0.9zM80.1 554.9h0.9v0.9h-0.9zM84.5 553.6h0.9v0.9h-0.9zM103.4 549.5h0.9v0.9h-0.9zM81.9 555.9h0.9v0.9h-0.9zM89.3 551.9h0.9v0.9h-0.9zM104.8 546.2h0.9v0.9h-0.9zM81.3 557.0h0.9v0.9h-0.9zM80.9 556.1h0.9v0.9h-0.9zM99.0 547.9h0.9v0.9h-0.9zM102.9 546.1h0.9v0.9h-0.9zM94.6 550.0h0.9v0.9h-0.9zM92.6 553.6h0.9v0.9h-0.9zM87.1 553.0h0.9v0.9h-0.9zM87.1 550.4h0.9v0.9h-0.9zM86.4 552.5h0.9v0.9h-0.9zM85.5 552.4h0.9v0.9h-0.9zM92.1 552.6h0.9v0.9h-0.9zM98.7 548.5h0.9v0.9h-0.9zM94.8 547.2h0.9v0.9h-0.9zM81.5 559.4h0.9v0.9h-0.9zM85.0 553.6h0.9v0.9h-0.9zM83.9 556.1h0.9v0.9h-0.9zM95.5 549.7h0.9v0.9h-0.9zM97.2 551.3h0.9v0.9h-0.9zM94.1 550.6h0.9v0.9h-0.9zM89.9 549.0h0.9v0.9h-0.9zM89.6 549.8h0.9v0.9h-0.9zM87.6 550.1h0.9v0.9h-0.9zM86.5 552.0h0.9v0.9h-0.9zM85.3 552.2h0.9v0.9h-0.9zM109.1 548.5h0.9v0.9h-0.9zM80.9 554.9h0.9v0.9h-0.9zM87.5 553.4h0.9v0.9h-0.9zM97.0 550.2h0.9v0.9h-0.9zM89.3 550.9h0.9v0.9h-0.9zM78.2 561.7h0.9v0.9h-0.9zM89.6 552.2h0.9v0.9h-0.9zM86.1 555.1h0.9v0.9h-0.9zM80.8 556.1h0.9v0.9h-0.9zM84.0 553.4h0.9v0.9h-0.9zM80.0 557.6h0.9v0.9h-0.9zM106.5 545.9h0.9v0.9h-0.9zM90.7 551.9h0.9v0.9h-0.9zM80.7 556.4h0.9v0.9h-0.9zM97.6 548.9h0.9v0.9h-0.9zM103.9 549.7h0.9v0.9h-0.9zM101.8 545.5h0.9v0.9h-0.9zM90.3 553.4h0.9v0.9h-0.9zM93.4 548.9h0.9v0.9h-0.9zM105.7 546.2h0.9v0.9h-0.9zM99.6 549.0h0.9v0.9h-0.9zM84.8 553.3h0.9v0.9h-0.9zM95.1 550.1h0.9v0.9h-0.9zM79.9 558.8h0.9v0.9h-0.9zM85.7 553.3h0.9v0.9h-0.9zM79.8 558.7h0.9v0.9h-0.9zM80.2 554.9h0.9v0.9h-0.9zM77.0 554.9h0.9v0.9h-0.9zM105.0 548.1h0.9v0.9h-0.9zM77.1 556.1h0.9v0.9h-0.9zM101.4 546.4h0.9v0.9h-0.9zM76.6 558.9h0.9v0.9h-0.9zM85.2 556.6h0.9v0.9h-0.9zM88.6 549.4h0.9v0.9h-0.9zM99.9 551.5h0.9v0.9h-0.9zM92.1 550.6h0.9v0.9h-0.9zM105.3 547.7h0.9v0.9h-0.9zM89.9 552.6h0.9v0.9h-0.9zM96.0 552.0h0.9v0.9h-0.9zM109.8 545.6h0.9v0.9h-0.9zM86.1 552.9h0.9v0.9h-0.9zM80.2 557.7h0.9v0.9h-0.9zM79.8 557.8h0.9v0.9h-0.9zM102.0 550.5h0.9v0.9h-0.9zM104.8 548.5h0.9v0.9h-0.9zM80.8 556.3h0.9v0.9h-0.9zM79.1 559.7h0.9v0.9h-0.9zM83.7 553.6h0.9v0.9h-0.9zM93.6 547.2h0.9v0.9h-0.9zM106.9 546.7h0.9v0.9h-0.9zM81.4 554.6h0.9v0.9h-0.9zM93.9 550.1h0.9v0.9h-0.9zM106.4 549.9h0.9v0.9h-0.9zM84.1 553.7h0.9v0.9h-0.9zM87.7 553.8h0.9v0.9h-0.9zM79.6 558.1h0.9v0.9h-0.9zM95.5 549.5h0.9v0.9h-0.9zM102.0 548.1h0.9v0.9h-0.9zM80.3 556.9h0.9v0.9h-0.9zM100.8 549.7h0.9v0.9h-0.9zM87.7 552.3h0.9v0.9h-0.9zM102.7 549.1h0.9v0.9h-0.9zM78.5 558.2h0.9v0.9h-0.9zM80.6 554.4h0.9v0.9h-0.9zM82.7 557.4h0.9v0.9h-0.9zM95.5 549.1h0.9v0.9h-0.9zM79.5 556.1h0.9v0.9h-0.9zM80.4 556.1h0.9v0.9h-0.9zM79.6 558.1h0.9v0.9h-0.9zM80.0 549.5h0.9v0.9h-0.9zM91.8 550.6h0.9v0.9h-0.9zM78.6 554.5h0.9v0.9h-0.9zM95.2 550.3h0.9v0.9h-0.9zM86.8 553.9h0.9v0.9h-0.9zM106.2 550.0h0.9v0.9h-0.9zM103.4 548.9h0.9v0.9h-0.9zM82.2 559.0h0.9v0.9h-0.9zM90.0 551.9h0.9v0.9h-0.9zM99.0 550.8h0.9v0.9h-0.9zM100.2 545.8h0.9v0.9h-0.9zM84.2 554.5h0.9v0.9h-0.9zM84.9 554.0h0.9v0.9h-0.9zM78.3 556.7h0.9v0.9h-0.9zM80.3 554.8h0.9v0.9h-0.9zM86.4 553.4h0.9v0.9h-0.9zM92.5 549.7h0.9v0.9h-0.9zM102.1 551.6h0.9v0.9h-0.9zM91.9 549.8h0.9v0.9h-0.9zM90.5 549.9h0.9v0.9h-0.9zM94.4 549.1h0.9v0.9h-0.9zM90.7 547.3h0.9v0.9h-0.9zM86.6 553.3h0.9v0.9h-0.9zM88.5 553.4h0.9v0.9h-0.9zM87.8 550.4h0.9v0.9h-0.9zM82.0 559.6h0.9v0.9h-0.9zM82.1 554.7h0.9v0.9h-0.9zM92.8 547.2h0.9v0.9h-0.9zM101.1 545.8h0.9v0.9h-0.9zM104.6 549.8h0.9v0.9h-0.9zM98.4 547.5h0.9v0.9h-0.9zM108.0 547.9h0.9v0.9h-0.9zM78.3 558.7h0.9v0.9h-0.9zM107.0 545.9h0.9v0.9h-0.9zM103.7 549.8h0.9v0.9h-0.9zM96.4 551.4h0.9v0.9h-0.9zM102.6 550.5h0.9v0.9h-0.9zM80.4 556.1h0.9v0.9h-0.9zM87.4 552.4h0.9v0.9h-0.9zM93.2 550.5h0.9v0.9h-0.9zM81.5 554.4h0.9v0.9h-0.9zM87.5 552.4h0.9v0.9h-0.9zM98.3 548.5h0.9v0.9h-0.9zM82.0 555.6h0.9v0.9h-0.9zM85.7 552.8h0.9v0.9h-0.9zM101.0 545.7h0.9v0.9h-0.9zM79.2 557.6h0.9v0.9h-0.9zM94.7 550.1h0.9v0.9h-0.9zM104.2 549.2h0.9v0.9h-0.9zM86.2 554.3h0.9v0.9h-0.9zM103.6 547.8h0.9v0.9h-0.9zM90.9 551.2h0.9v0.9h-0.9zM92.7 546.8h0.9v0.9h-0.9zM79.6 553.4h0.9v0.9h-0.9zM81.7 556.3h0.9v0.9h-0.9zM97.6 548.3h0.9v0.9h-0.9zM98.5 549.1h0.9v0.9h-0.9zM99.2 550.0h0.9v0.9h-0.9zM89.0 551.2h0.9v0.9h-0.9zM106.8 545.5h0.9v0.9h-0.9zM76.6 561.2h0.9v0.9h-0.9zM80.6 555.4h0.9v0.9h-0.9zM76.2 557.3h0.9v0.9h-0.9zM75.8 557.8h0.9v0.9h-0.9zM88.5 554.0h0.9v0.9h-0.9zM95.1 553.2h0.9v0.9h-0.9zM98.6 547.6h0.9v0.9h-0.9zM98.7 550.8h0.9v0.9h-0.9zM96.5 549.8h0.9v0.9h-0.9zM98.4 549.7h0.9v0.9h-0.9zM93.4 548.4h0.9v0.9h-0.9zM92.9 550.6h0.9v0.9h-0.9zM107.3 547.5h0.9v0.9h-0.9zM106.8 546.4h0.9v0.9h-0.9zM98.6 546.9h0.9v0.9h-0.9zM101.9 551.3h0.9v0.9h-0.9zM89.9 553.6h0.9v0.9h-0.9zM76.1 555.3h0.9v0.9h-0.9zM80.0 555.7h0.9v0.9h-0.9zM91.7 553.3h0.9v0.9h-0.9zM78.7 555.5h0.9v0.9h-0.9zM93.2 552.7h0.9v0.9h-0.9zM76.2 557.0h0.9v0.9h-0.9zM79.6 557.0h0.9v0.9h-0.9zM104.0 548.4h0.9v0.9h-0.9zM97.6 551.5h0.9v0.9h-0.9zM107.6 547.8h0.9v0.9h-0.9zM79.3 558.0h0.9v0.9h-0.9zM93.5 551.5h0.9v0.9h-0.9zM99.8 549.2h0.9v0.9h-0.9zM82.2 553.1h0.9v0.9h-0.9zM102.6 547.6h0.9v0.9h-0.9zM93.7 552.0h0.9v0.9h-0.9zM93.4 548.8h0.9v0.9h-0.9zM100.9 549.6h0.9v0.9h-0.9zM74.1 557.0h0.9v0.9h-0.9zM81.7 554.9h0.9v0.9h-0.9zM87.5 551.4h0.9v0.9h-0.9zM96.5 548.4h0.9v0.9h-0.9zM102.0 547.3h0.9v0.9h-0.9zM88.9 555.2h0.9v0.9h-0.9zM101.3 549.2h0.9v0.9h-0.9zM79.2 556.3h0.9v0.9h-0.9zM105.1 546.9h0.9v0.9h-0.9zM107.7 547.2h0.9v0.9h-0.9zM88.9 548.2h0.9v0.9h-0.9zM82.9 554.8h0.9v0.9h-0.9zM86.6 555.3h0.9v0.9h-0.9zM98.6 550.3h0.9v0.9h-0.9zM107.3 546.4h0.9v0.9h-0.9zM100.5 547.0h0.9v0.9h-0.9zM105.0 546.6h0.9v0.9h-0.9zM102.3 550.4h0.9v0.9h-0.9zM89.9 551.9h0.9v0.9h-0.9zM90.1 550.7h0.9v0.9h-0.9zM81.3 553.7h0.9v0.9h-0.9zM92.8 546.8h0.9v0.9h-0.9zM90.9 550.6h0.9v0.9h-0.9zM80.4 555.9h0.9v0.9h-0.9zM79.6 554.0h0.9v0.9h-0.9zM99.3 547.4h0.9v0.9h-0.9zM98.6 548.4h0.9v0.9h-0.9zM94.7 548.5h0.9v0.9h-0.9zM98.2 551.3h0.9v0.9h-0.9zM100.4 549.7h0.9v0.9h-0.9zM84.6 557.1h0.9v0.9h-0.9zM78.0 554.2h0.9v0.9h-0.9zM90.9 551.7h0.9v0.9h-0.9zM86.3 553.3h0.9v0.9h-0.9zM81.9 555.7h0.9v0.9h-0.9zM78.5 558.3h0.9v0.9h-0.9zM100.5 547.7h0.9v0.9h-0.9zM93.0 549.1h0.9v0.9h-0.9zM95.5 550.5h0.9v0.9h-0.9zM80.6 556.0h0.9v0.9h-0.9zM78.8 555.0h0.9v0.9h-0.9zM96.3 548.7h0.9v0.9h-0.9zM87.8 554.2h0.9v0.9h-0.9zM85.6 554.6h0.9v0.9h-0.9zM89.6 550.9h0.9v0.9h-0.9zM80.9 555.6h0.9v0.9h-0.9zM93.5 552.4h0.9v0.9h-0.9zM108.3 549.8h0.9v0.9h-0.9zM89.7 554.2h0.9v0.9h-0.9zM105.5 544.8h0.9v0.9h-0.9zM102.8 546.8h0.9v0.9h-0.9zM93.1 552.7h0.9v0.9h-0.9zM108.0 547.0h0.9v0.9h-0.9zM89.9 549.9h0.9v0.9h-0.9zM102.4 549.0h0.9v0.9h-0.9zM81.7 555.7h0.9v0.9h-0.9zM91.0 549.1h0.9v0.9h-0.9zM104.4 548.3h0.9v0.9h-0.9zM84.8 552.1h0.9v0.9h-0.9zM77.1 561.9h0.9v0.9h-0.9zM85.2 554.7h0.9v0.9h-0.9zM92.1 548.6h0.9v0.9h-0.9zM101.6 548.8h0.9v0.9h-0.9zM84.0 555.4h0.9v0.9h-0.9zM84.8 554.2h0.9v0.9h-0.9zM77.5 558.4h0.9v0.9h-0.9zM81.5 554.6h0.9v0.9h-0.9zM95.7 549.8h0.9v0.9h-0.9zM102.2 547.4h0.9v0.9h-0.9zM81.3 554.0h0.9v0.9h-0.9zM101.8 549.2h0.9v0.9h-0.9zM103.4 547.5h0.9v0.9h-0.9zM90.5 552.1h0.9v0.9h-0.9zM90.0 551.3h0.9v0.9h-0.9zM89.7 553.9h0.9v0.9h-0.9zM89.1 550.6h0.9v0.9h-0.9zM100.3 547.5h0.9v0.9h-0.9zM89.7 552.9h0.9v0.9h-0.9zM81.8 553.5h0.9v0.9h-0.9zM105.5 548.4h0.9v0.9h-0.9zM91.7 549.6h0.9v0.9h-0.9zM96.0 549.9h0.9v0.9h-0.9zM103.1 548.2h0.9v0.9h-0.9zM88.6 552.2h0.9v0.9h-0.9zM79.2 557.5h0.9v0.9h-0.9zM77.2 557.3h0.9v0.9h-0.9zM104.1 545.1h0.9v0.9h-0.9zM84.5 552.5h0.9v0.9h-0.9zM84.5 555.2h0.9v0.9h-0.9zM107.6 547.9h0.9v0.9h-0.9zM89.5 548.3h0.9v0.9h-0.9zM86.7 554.4h0.9v0.9h-0.9zM78.4 556.6h0.9v0.9h-0.9zM79.6 553.5h0.9v0.9h-0.9zM85.2 555.5h0.9v0.9h-0.9zM105.8 549.4h0.9v0.9h-0.9zM81.2 557.0h0.9v0.9h-0.9zM94.1 549.7h0.9v0.9h-0.9zM106.5 545.4h0.9v0.9h-0.9zM108.4 547.7h0.9v0.9h-0.9zM87.3 549.6h0.9v0.9h-0.9zM77.5 556.3h0.9v0.9h-0.9zM94.6 550.5h0.9v0.9h-0.9zM91.3 553.7h0.9v0.9h-0.9zM102.6 546.1h0.9v0.9h-0.9zM82.8 555.1h0.9v0.9h-0.9zM88.7 552.9h0.9v0.9h-0.9zM92.7 550.9h0.9v0.9h-0.9zM86.4 553.2h0.9v0.9h-0.9zM78.7 558.7h0.9v0.9h-0.9zM98.7 552.6h0.9v0.9h-0.9zM99.8 546.9h0.9v0.9h-0.9zM92.9 548.8h0.9v0.9h-0.9zM80.1 553.7h0.9v0.9h-0.9zM83.4 553.0h0.9v0.9h-0.9zM97.6 551.8h0.9v0.9h-0.9zM97.5 549.3h0.9v0.9h-0.9zM95.4 547.5h0.9v0.9h-0.9zM99.8 548.8h0.9v0.9h-0.9zM100.1 549.2h0.9v0.9h-0.9zM101.0 548.2h0.9v0.9h-0.9zM103.6 548.6h0.9v0.9h-0.9zM84.1 553.5h0.9v0.9h-0.9zM88.5 550.5h0.9v0.9h-0.9zM101.6 548.3h0.9v0.9h-0.9zM84.2 551.6h0.9v0.9h-0.9zM105.2 546.9h0.9v0.9h-0.9zM93.2 551.2h0.9v0.9h-0.9zM81.3 555.9h0.9v0.9h-0.9zM88.0 551.0h0.9v0.9h-0.9zM91.2 550.6h0.9v0.9h-0.9zM88.3 555.8h0.9v0.9h-0.9zM85.9 549.6h0.9v0.9h-0.9zM86.7 552.9h0.9v0.9h-0.9zM100.7 550.8h0.9v0.9h-0.9zM79.9 560.2h0.9v0.9h-0.9zM84.8 554.0h0.9v0.9h-0.9zM84.4 553.9h0.9v0.9h-0.9zM81.3 556.7h0.9v0.9h-0.9zM83.7 552.1h0.9v0.9h-0.9zM93.2 548.0h0.9v0.9h-0.9zM79.7 560.1h0.9v0.9h-0.9zM92.4 554.6h0.9v0.9h-0.9zM92.3 549.8h0.9v0.9h-0.9zM103.6 545.4h0.9v0.9h-0.9zM95.4 548.7h0.9v0.9h-0.9zM95.4 549.1h0.9v0.9h-0.9zM78.6 559.0h0.9v0.9h-0.9zM83.4 555.1h0.9v0.9h-0.9zM99.1 545.5h0.9v0.9h-0.9zM95.8 548.7h0.9v0.9h-0.9zM93.0 549.9h0.9v0.9h-0.9zM106.5 551.8h0.9v0.9h-0.9zM96.5 551.1h0.9v0.9h-0.9zM99.4 548.7h0.9v0.9h-0.9zM95.6 548.5h0.9v0.9h-0.9zM104.8 550.3h0.9v0.9h-0.9zM79.2 556.6h0.9v0.9h-0.9zM100.9 546.6h0.9v0.9h-0.9zM84.1 551.3h0.9v0.9h-0.9zM95.0 550.7h0.9v0.9h-0.9zM90.8 550.2h0.9v0.9h-0.9zM99.8 548.9h0.9v0.9h-0.9zM75.1 556.2h0.9v0.9h-0.9zM80.0 555.9h0.9v0.9h-0.9zM90.1 551.4h0.9v0.9h-0.9zM107.9 547.9h0.9v0.9h-0.9zM80.0 557.3h0.9v0.9h-0.9zM92.4 549.9h0.9v0.9h-0.9zM98.3 548.8h0.9v0.9h-0.9zM88.8 549.8h0.9v0.9h-0.9zM93.6 553.3h0.9v0.9h-0.9zM94.1 554.1h0.9v0.9h-0.9zM78.2 559.9h0.9v0.9h-0.9zM93.0 549.0h0.9v0.9h-0.9zM91.9 549.5h0.9v0.9h-0.9zM96.4 550.1h0.9v0.9h-0.9zM90.9 550.1h0.9v0.9h-0.9zM85.8 550.9h0.9v0.9h-0.9zM110.0 548.4h0.9v0.9h-0.9zM93.9 549.5h0.9v0.9h-0.9zM100.9 546.0h0.9v0.9h-0.9zM98.5 548.9h0.9v0.9h-0.9zM89.2 553.9h0.9v0.9h-0.9zM78.3 555.9h0.9v0.9h-0.9zM97.0 547.9h0.9v0.9h-0.9zM103.7 548.7h0.9v0.9h-0.9zM105.3 549.3h0.9v0.9h-0.9zM75.0 554.6h0.9v0.9h-0.9zM87.4 553.2h0.9v0.9h-0.9zM97.5 547.0h0.9v0.9h-0.9zM83.3 550.8h0.9v0.9h-0.9zM77.5 558.1h0.9v0.9h-0.9zM87.5 554.3h0.9v0.9h-0.9zM86.6 550.4h0.9v0.9h-0.9zM105.4 545.5h0.9v0.9h-0.9zM83.0 556.0h0.9v0.9h-0.9zM99.4 547.6h0.9v0.9h-0.9zM79.5 552.6h0.9v0.9h-0.9zM96.6 551.1h0.9v0.9h-0.9zM92.1 550.1h0.9v0.9h-0.9zM89.1 551.8h0.9v0.9h-0.9zM81.1 555.7h0.9v0.9h-0.9zM97.0 550.1h0.9v0.9h-0.9zM78.5 556.7h0.9v0.9h-0.9zM100.8 548.9h0.9v0.9h-0.9zM91.5 551.3h0.9v0.9h-0.9zM93.7 548.6h0.9v0.9h-0.9zM87.2 551.8h0.9v0.9h-0.9zM90.3 554.2h0.9v0.9h-0.9zM99.6 548.5h0.9v0.9h-0.9zM79.2 556.3h0.9v0.9h-0.9zM84.5 553.1h0.9v0.9h-0.9zM84.3 554.3h0.9v0.9h-0.9zM104.9 545.5h0.9v0.9h-0.9zM94.5 550.5h0.9v0.9h-0.9zM96.4 549.7h0.9v0.9h-0.9zM96.0 549.3h0.9v0.9h-0.9zM90.5 553.9h0.9v0.9h-0.9zM106.0 547.6h0.9v0.9h-0.9zM87.9 552.3h0.9v0.9h-0.9zM84.7 551.6h0.9v0.9h-0.9zM88.8 550.9h0.9v0.9h-0.9zM80.7 555.7h0.9v0.9h-0.9zM106.8 547.4h0.9v0.9h-0.9zM91.4 555.9h0.9v0.9h-0.9zM83.6 551.5h0.9v0.9h-0.9zM76.7 558.0h0.9v0.9h-0.9zM93.3 550.2h0.9v0.9h-0.9zM99.9 547.2h0.9v0.9h-0.9zM94.4 549.5h0.9v0.9h-0.9zM98.8 549.6h0.9v0.9h-0.9zM102.3 549.6h0.9v0.9h-0.9zM86.4 552.9h0.9v0.9h-0.9zM80.1 557.7h0.9v0.9h-0.9zM95.9 550.2h0.9v0.9h-0.9zM86.4 552.0h0.9v0.9h-0.9zM88.3 549.7h0.9v0.9h-0.9zM85.3 554.8h0.9v0.9h-0.9zM79.0 557.0h0.9v0.9h-0.9zM91.9 553.3h0.9v0.9h-0.9zM104.9 546.6h0.9v0.9h-0.9zM81.6 554.8h0.9v0.9h-0.9zM93.0 549.1h0.9v0.9h-0.9zM100.8 548.7h0.9v0.9h-0.9zM94.5 548.6h0.9v0.9h-0.9zM95.5 550.4h0.9v0.9h-0.9zM101.3 550.6h0.9v0.9h-0.9zM95.1 552.9h0.9v0.9h-0.9zM81.1 554.6h0.9v0.9h-0.9z" fill="#111" fill-opacity="0.7"/>
<path d="M102.1 564.9h0.9v0.9h-0.9zM103.2 564.3h0.9v0.9h-0.9zM96.2 600.5h0.9v0.9h-0.9zM98.7 575.4h0.9v0.9h-0.9zM98.2 572.9h0.9v0.9h-0.9zM103.2 554.3h0.9v0.9h-0.9zM97.8 584.6h0.9v0.9h-0.9zM99.7 575.3h0.9v0.9h-0.9zM101.9 566.4h0.9v0.9h-0.9zM95.0 588.2h0.9v0.9h-0.9zM96.8 583.0h0.9v0.9h-0.9zM99.5 577.3h0.9v0.9h-0.9zM100.2 568.2h0.9v0.9h-0.9zM107.3 548.5h0.9v0.9h-0.9zM98.5 567.4h0.9v0.9h-0.9zM97.7 569.8h0.9v0.9h-0.9zM100.9 562.3h0.9v0.9h-0.9zM99.5 583.2h0.9v0.9h-0.9zM106.6 551.4h0.9v0.9h-0.9zM102.2 562.8h0.9v0.9h-0.9zM98.5 597.9h0.9v0.9h-0.9zM106.8 547.7h0.9v0.9h-0.9zM95.3 597.9h0.9v0.9h-0.9zM101.1 568.9h0.9v0.9h-0.9zM99.8 583.0h0.9v0.9h-0.9zM96.4 582.4h0.9v0.9h-0.9zM97.6 588.6h0.9v0.9h-0.9zM99.4 572.2h0.9v0.9h-0.9zM102.4 558.5h0.9v0.9h-0.9zM102.7 564.2h0.9v0.9h-0.9zM98.2 566.6h0.9v0.9h-0.9zM104.2 558.3h0.9v0.9h-0.9zM101.7 567.2h0.9v0.9h-0.9zM98.4 575.3h0.9v0.9h-0.9zM104.7 554.2h0.9v0.9h-0.9zM98.1 570.4h0.9v0.9h-0.9zM99.0 586.7h0.9v0.9h-0.9zM97.6 577.7h0.9v0.9h-0.9zM96.8 578.8h0.9v0.9h-0.9zM94.8 588.9h0.9v0.9h-0.9zM100.0 578.3h0.9v0.9h-0.9zM99.9 576.6h0.9v0.9h-0.9zM104.8 559.6h0.9v0.9h-0.9zM99.1 580.9h0.9v0.9h-0.9zM97.9 575.4h0.9v0.9h-0.9zM97.9 587.1h0.9v0.9h-0.9zM95.6 581.1h0.9v0.9h-0.9zM99.5 595.7h0.9v0.9h-0.9zM94.7 585.8h0.9v0.9h-0.9zM98.0 576.9h0.9v0.9h-0.9zM94.8 588.7h0.9v0.9h-0.9zM99.7 568.3h0.9v0.9h-0.9zM104.3 553.0h0.9v0.9h-0.9zM98.5 572.3h0.9v0.9h-0.9zM96.8 602.4h0.9v0.9h-0.9zM95.1 601.4h0.9v0.9h-0.9zM96.6 590.1h0.9v0.9h-0.9zM106.0 554.6h0.9v0.9h-0.9zM98.0 583.5h0.9v0.9h-0.9zM104.5 551.7h0.9v0.9h-0.9zM100.0 569.2h0.9v0.9h-0.9zM101.9 555.7h0.9v0.9h-0.9zM100.3 573.7h0.9v0.9h-0.9zM96.4 593.9h0.9v0.9h-0.9zM93.3 582.7h0.9v0.9h-0.9zM98.7 565.5h0.9v0.9h-0.9zM95.4 591.2h0.9v0.9h-0.9zM99.1 567.3h0.9v0.9h-0.9zM107.0 555.5h0.9v0.9h-0.9zM102.6 559.8h0.9v0.9h-0.9zM96.0 603.1h0.9v0.9h-0.9zM96.3 593.0h0.9v0.9h-0.9zM103.1 564.7h0.9v0.9h-0.9zM96.6 580.2h0.9v0.9h-0.9zM97.8 585.4h0.9v0.9h-0.9zM96.0 588.7h0.9v0.9h-0.9zM103.2 556.1h0.9v0.9h-0.9zM96.9 599.5h0.9v0.9h-0.9zM98.8 578.3h0.9v0.9h-0.9zM105.2 545.7h0.9v0.9h-0.9zM95.7 597.6h0.9v0.9h-0.9zM99.4 570.1h0.9v0.9h-0.9zM95.6 595.2h0.9v0.9h-0.9zM98.4 572.8h0.9v0.9h-0.9zM100.0 572.1h0.9v0.9h-0.9zM98.3 596.9h0.9v0.9h-0.9zM96.1 589.5h0.9v0.9h-0.9zM95.2 582.7h0.9v0.9h-0.9zM94.2 588.0h0.9v0.9h-0.9zM95.3 593.1h0.9v0.9h-0.9zM100.0 575.0h0.9v0.9h-0.9zM101.1 557.6h0.9v0.9h-0.9zM97.2 582.9h0.9v0.9h-0.9zM99.7 587.7h0.9v0.9h-0.9zM99.1 586.7h0.9v0.9h-0.9zM106.5 550.7h0.9v0.9h-0.9zM101.2 565.7h0.9v0.9h-0.9zM105.0 560.1h0.9v0.9h-0.9zM99.4 583.1h0.9v0.9h-0.9zM95.0 578.2h0.9v0.9h-0.9zM94.5 584.5h0.9v0.9h-0.9zM98.2 581.2h0.9v0.9h-0.9zM103.8 561.4h0.9v0.9h-0.9zM105.5 555.9h0.9v0.9h-0.9zM97.8 571.3h0.9v0.9h-0.9zM98.9 566.5h0.9v0.9h-0.9zM96.9 587.4h0.9v0.9h-0.9zM95.7 587.7h0.9v0.9h-0.9zM107.1 550.2h0.9v0.9h-0.9zM95.0 591.5h0.9v0.9h-0.9zM105.1 560.5h0.9v0.9h-0.9zM101.9 557.1h0.9v0.9h-0.9zM96.9 596.4h0.9v0.9h-0.9zM99.7 582.3h0.9v0.9h-0.9zM102.2 567.2h0.9v0.9h-0.9zM97.5 583.6h0.9v0.9h-0.9zM104.1 554.0h0.9v0.9h-0.9zM98.9 584.4h0.9v0.9h-0.9zM95.4 599.8h0.9v0.9h-0.9zM97.1 580.9h0.9v0.9h-0.9zM98.9 575.6h0.9v0.9h-0.9zM94.1 596.5h0.9v0.9h-0.9zM95.2 584.3h0.9v0.9h-0.9zM97.2 590.6h0.9v0.9h-0.9zM97.4 570.3h0.9v0.9h-0.9zM98.8 569.9h0.9v0.9h-0.9zM95.5 591.1h0.9v0.9h-0.9zM95.3 598.2h0.9v0.9h-0.9zM102.0 564.2h0.9v0.9h-0.9zM107.0 554.6h0.9v0.9h-0.9zM101.2 566.1h0.9v0.9h-0.9zM97.8 597.1h0.9v0.9h-0.9zM100.1 569.3h0.9v0.9h-0.9zM103.9 554.2h0.9v0.9h-0.9zM98.2 579.3h0.9v0.9h-0.9zM98.7 570.5h0.9v0.9h-0.9zM101.5 566.3h0.9v0.9h-0.9zM95.2 578.7h0.9v0.9h-0.9zM93.6 592.9h0.9v0.9h-0.9zM96.3 596.5h0.9v0.9h-0.9zM103.5 557.7h0.9v0.9h-0.9zM105.9 551.2h0.9v0.9h-0.9zM96.9 572.1h0.9v0.9h-0.9zM104.3 557.8h0.9v0.9h-0.9zM106.4 550.3h0.9v0.9h-0.9zM97.6 584.2h0.9v0.9h-0.9zM102.0 559.6h0.9v0.9h-0.9zM97.8 591.5h0.9v0.9h-0.9zM94.9 601.5h0.9v0.9h-0.9zM96.7 595.7h0.9v0.9h-0.9zM102.4 559.5h0.9v0.9h-0.9zM102.1 558.0h0.9v0.9h-0.9zM109.4 548.4h0.9v0.9h-0.9zM98.1 578.3h0.9v0.9h-0.9zM97.5 587.1h0.9v0.9h-0.9zM102.1 564.8h0.9v0.9h-0.9zM100.1 573.9h0.9v0.9h-0.9zM97.4 579.6h0.9v0.9h-0.9zM101.2 565.0h0.9v0.9h-0.9zM107.4 551.5h0.9v0.9h-0.9zM103.6 553.7h0.9v0.9h-0.9zM101.2 587.8h0.9v0.9h-0.9zM99.1 568.0h0.9v0.9h-0.9zM93.4 601.3h0.9v0.9h-0.9zM104.2 552.3h0.9v0.9h-0.9zM94.9 593.7h0.9v0.9h-0.9zM98.3 572.0h0.9v0.9h-0.9zM97.5 575.6h0.9v0.9h-0.9zM98.3 581.3h0.9v0.9h-0.9zM94.4 604.1h0.9v0.9h-0.9zM98.1 598.5h0.9v0.9h-0.9zM106.1 551.6h0.9v0.9h-0.9zM98.7 602.4h0.9v0.9h-0.9zM99.2 572.4h0.9v0.9h-0.9zM99.1 588.0h0.9v0.9h-0.9zM98.4 563.8h0.9v0.9h-0.9zM97.7 599.6h0.9v0.9h-0.9zM98.2 565.5h0.9v0.9h-0.9zM102.4 559.2h0.9v0.9h-0.9zM101.1 582.7h0.9v0.9h-0.9zM97.3 596.3h0.9v0.9h-0.9zM100.4 561.3h0.9v0.9h-0.9zM103.6 553.6h0.9v0.9h-0.9zM93.7 591.1h0.9v0.9h-0.9zM97.1 596.9h0.9v0.9h-0.9zM105.5 553.5h0.9v0.9h-0.9zM98.0 579.9h0.9v0.9h-0.9zM100.7 569.8h0.9v0.9h-0.9zM102.8 561.7h0.9v0.9h-0.9zM105.8 553.7h0.9v0.9h-0.9zM94.9 600.4h0.9v0.9h-0.9zM99.2 578.3h0.9v0.9h-0.9zM104.0 553.1h0.9v0.9h-0.9zM93.5 574.7h0.9v0.9h-0.9zM97.7 577.5h0.9v0.9h-0.9zM101.5 565.4h0.9v0.9h-0.9zM97.8 584.4h0.9v0.9h-0.9zM98.2 565.5h0.9v0.9h-0.9zM100.5 559.9h0.9v0.9h-0.9zM93.9 592.0h0.9v0.9h-0.9zM101.3 572.1h0.9v0.9h-0.9zM108.3 547.1h0.9v0.9h-0.9zM97.9 573.9h0.9v0.9h-0.9zM97.6 570.1h0.9v0.9h-0.9zM105.4 553.3h0.9v0.9h-0.9zM97.3 585.3h0.9v0.9h-0.9zM94.7 599.8h0.9v0.9h-0.9zM107.5 551.9h0.9v0.9h-0.9zM97.4 585.2h0.9v0.9h-0.9zM96.8 587.5h0.9v0.9h-0.9zM99.9 579.4h0.9v0.9h-0.9zM96.6 603.0h0.9v0.9h-0.9zM96.0 578.7h0.9v0.9h-0.9zM98.2 587.4h0.9v0.9h-0.9zM96.8 593.8h0.9v0.9h-0.9zM95.4 596.6h0.9v0.9h-0.9zM105.5 546.6h0.9v0.9h-0.9zM98.4 565.7h0.9v0.9h-0.9zM105.3 549.5h0.9v0.9h-0.9zM97.2 581.6h0.9v0.9h-0.9zM98.6 580.8h0.9v0.9h-0.9zM98.8 572.0h0.9v0.9h-0.9zM93.4 594.4h0.9v0.9h-0.9zM97.8 585.2h0.9v0.9h-0.9zM99.3 566.1h0.9v0.9h-0.9zM96.5 589.1h0.9v0.9h-0.9zM96.1 595.9h0.9v0.9h-0.9zM98.6 593.7h0.9v0.9h-0.9zM97.7 587.7h0.9v0.9h-0.9zM92.8 596.2h0.9v0.9h-0.9zM99.7 576.0h0.9v0.9h-0.9zM100.0 572.7h0.9v0.9h-0.9zM95.9 577.3h0.9v0.9h-0.9zM98.5 567.4h0.9v0.9h-0.9zM106.6 550.1h0.9v0.9h-0.9zM102.6 556.4h0.9v0.9h-0.9zM102.6 581.3h0.9v0.9h-0.9zM106.6 555.8h0.9v0.9h-0.9zM96.1 591.1h0.9v0.9h-0.9zM106.4 546.9h0.9v0.9h-0.9zM96.4 594.5h0.9v0.9h-0.9zM94.1 594.2h0.9v0.9h-0.9zM106.1 551.9h0.9v0.9h-0.9zM98.7 570.9h0.9v0.9h-0.9zM99.9 583.5h0.9v0.9h-0.9zM106.5 544.2h0.9v0.9h-0.9zM95.9 594.0h0.9v0.9h-0.9zM103.3 550.3h0.9v0.9h-0.9zM98.5 580.8h0.9v0.9h-0.9zM98.0 594.9h0.9v0.9h-0.9zM98.7 563.8h0.9v0.9h-0.9zM95.7 596.5h0.9v0.9h-0.9zM105.0 559.0h0.9v0.9h-0.9zM95.4 593.8h0.9v0.9h-0.9zM105.7 559.3h0.9v0.9h-0.9zM102.7 565.7h0.9v0.9h-0.9zM97.8 576.0h0.9v0.9h-0.9zM101.6 562.8h0.9v0.9h-0.9zM94.8 602.7h0.9v0.9h-0.9zM97.8 582.3h0.9v0.9h-0.9zM96.7 585.5h0.9v0.9h-0.9zM96.9 584.0h0.9v0.9h-0.9zM102.2 560.3h0.9v0.9h-0.9zM96.8 585.3h0.9v0.9h-0.9zM103.8 556.5h0.9v0.9h-0.9zM96.0 592.1h0.9v0.9h-0.9zM100.4 564.3h0.9v0.9h-0.9zM96.6 578.2h0.9v0.9h-0.9zM95.2 602.6h0.9v0.9h-0.9zM92.9 582.0h0.9v0.9h-0.9zM95.5 584.7h0.9v0.9h-0.9zM99.9 569.4h0.9v0.9h-0.9zM97.8 594.8h0.9v0.9h-0.9zM102.0 562.9h0.9v0.9h-0.9zM97.6 575.1h0.9v0.9h-0.9zM96.1 591.7h0.9v0.9h-0.9zM96.8 600.6h0.9v0.9h-0.9zM100.5 553.8h0.9v0.9h-0.9zM105.3 558.1h0.9v0.9h-0.9zM102.3 558.9h0.9v0.9h-0.9zM98.4 580.8h0.9v0.9h-0.9zM96.6 601.5h0.9v0.9h-0.9zM100.1 567.5h0.9v0.9h-0.9zM96.0 589.8h0.9v0.9h-0.9zM96.1 593.0h0.9v0.9h-0.9zM103.3 558.1h0.9v0.9h-0.9zM98.4 591.3h0.9v0.9h-0.9zM104.9 548.7h0.9v0.9h-0.9zM97.7 572.9h0.9v0.9h-0.9zM96.4 584.8h0.9v0.9h-0.9zM96.7 601.1h0.9v0.9h-0.9zM97.7 573.7h0.9v0.9h-0.9zM97.9 582.5h0.9v0.9h-0.9zM103.3 545.1h0.9v0.9h-0.9zM98.8 570.4h0.9v0.9h-0.9zM103.2 558.0h0.9v0.9h-0.9zM96.4 583.4h0.9v0.9h-0.9zM98.4 598.2h0.9v0.9h-0.9zM92.7 587.3h0.9v0.9h-0.9zM97.3 596.7h0.9v0.9h-0.9zM100.1 568.9h0.9v0.9h-0.9zM100.9 576.1h0.9v0.9h-0.9zM100.6 558.3h0.9v0.9h-0.9zM95.1 593.0h0.9v0.9h-0.9zM97.8 596.5h0.9v0.9h-0.9zM97.5 595.8h0.9v0.9h-0.9zM98.3 594.4h0.9v0.9h-0.9zM103.3 549.2h0.9v0.9h-0.9zM96.4 585.1h0.9v0.9h-0.9zM106.4 555.9h0.9v0.9h-0.9zM101.1 572.5h0.9v0.9h-0.9zM96.7 595.7h0.9v0.9h-0.9zM96.9 573.2h0.9v0.9h-0.9zM99.1 592.3h0.9v0.9h-0.9zM95.2 586.3h0.9v0.9h-0.9zM96.9 588.1h0.9v0.9h-0.9zM97.9 582.5h0.9v0.9h-0.9zM102.5 564.2h0.9v0.9h-0.9zM98.8 600.1h0.9v0.9h-0.9zM96.4 591.4h0.9v0.9h-0.9zM103.4 554.5h0.9v0.9h-0.9zM104.6 551.4h0.9v0.9h-0.9zM105.4 550.7h0.9v0.9h-0.9zM94.1 601.5h0.9v0.9h-0.9zM96.8 574.4h0.9v0.9h-0.9zM104.2 550.4h0.9v0.9h-0.9zM98.3 571.8h0.9v0.9h-0.9zM96.9 586.3h0.9v0.9h-0.9zM102.3 561.4h0.9v0.9h-0.9zM95.9 574.9h0.9v0.9h-0.9zM108.4 555.0h0.9v0.9h-0.9zM103.7 564.0h0.9v0.9h-0.9zM97.9 566.3h0.9v0.9h-0.9zM98.6 599.8h0.9v0.9h-0.9zM96.1 600.5h0.9v0.9h-0.9zM103.8 558.7h0.9v0.9h-0.9zM99.1 568.9h0.9v0.9h-0.9zM104.7 551.9h0.9v0.9h-0.9zM96.9 582.2h0.9v0.9h-0.9zM101.7 567.2h0.9v0.9h-0.9zM97.7 603.0h0.9v0.9h-0.9zM100.2 568.4h0.9v0.9h-0.9zM97.1 573.8h0.9v0.9h-0.9zM106.3 553.6h0.9v0.9h-0.9zM103.1 560.4h0.9v0.9h-0.9zM101.0 595.3h0.9v0.9h-0.9zM96.1 587.0h0.9v0.9h-0.9zM97.0 586.8h0.9v0.9h-0.9zM96.3 594.3h0.9v0.9h-0.9zM108.5 550.2h0.9v0.9h-0.9zM104.1 554.4h0.9v0.9h-0.9zM98.8 569.7h0.9v0.9h-0.9zM101.4 558.1h0.9v0.9h-0.9zM103.8 559.4h0.9v0.9h-0.9zM99.5 579.8h0.9v0.9h-0.9zM100.7 564.9h0.9v0.9h-0.9zM98.3 597.4h0.9v0.9h-0.9zM102.5 561.7h0.9v0.9h-0.9zM96.2 597.6h0.9v0.9h-0.9zM105.1 549.6h0.9v0.9h-0.9zM97.8 585.2h0.9v0.9h-0.9zM97.9 598.9h0.9v0.9h-0.9zM105.1 557.5h0.9v0.9h-0.9zM102.3 565.4h0.9v0.9h-0.9zM106.4 555.2h0.9v0.9h-0.9zM97.9 580.8h0.9v0.9h-0.9zM96.0 589.5h0.9v0.9h-0.9zM106.9 547.7h0.9v0.9h-0.9zM94.0 592.5h0.9v0.9h-0.9zM109.8 551.1h0.9v0.9h-0.9zM103.5 557.2h0.9v0.9h-0.9zM98.4 580.5h0.9v0.9h-0.9zM93.5 585.8h0.9v0.9h-0.9zM98.9 563.7h0.9v0.9h-0.9zM96.1 597.8h0.9v0.9h-0.9zM100.2 573.4h0.9v0.9h-0.9zM95.2 598.4h0.9v0.9h-0.9zM96.1 597.4h0.9v0.9h-0.9zM94.3 598.8h0.9v0.9h-0.9zM97.5 592.6h0.9v0.9h-0.9zM107.8 551.6h0.9v0.9h-0.9zM107.0 546.7h0.9v0.9h-0.9zM95.9 592.5h0.9v0.9h-0.9zM106.0 551.0h0.9v0.9h-0.9zM98.3 580.0h0.9v0.9h-0.9zM102.1 567.9h0.9v0.9h-0.9zM97.5 579.2h0.9v0.9h-0.9zM101.9 547.9h0.9v0.9h-0.9zM96.9 583.6h0.9v0.9h-0.9zM97.1 603.7h0.9v0.9h-0.9zM99.1 568.6h0.9v0.9h-0.9zM108.3 552.5h0.9v0.9h-0.9zM94.8 578.2h0.9v0.9h-0.9zM93.2 596.6h0.9v0.9h-0.9zM97.7 573.6h0.9v0.9h-0.9zM96.8 586.2h0.9v0.9h-0.9zM101.6 578.0h0.9v0.9h-0.9zM96.2 600.2h0.9v0.9h-0.9zM96.1 576.3h0.9v0.9h-0.9zM95.6 592.4h0.9v0.9h-0.9zM103.8 557.2h0.9v0.9h-0.9zM102.5 559.9h0.9v0.9h-0.9zM101.9 562.6h0.9v0.9h-0.9zM96.8 601.8h0.9v0.9h-0.9zM99.0 567.4h0.9v0.9h-0.9zM96.2 577.6h0.9v0.9h-0.9zM99.8 577.3h0.9v0.9h-0.9zM100.7 561.6h0.9v0.9h-0.9zM104.1 554.9h0.9v0.9h-0.9zM108.6 551.5h0.9v0.9h-0.9zM102.1 571.2h0.9v0.9h-0.9zM96.5 584.5h0.9v0.9h-0.9zM98.6 602.9h0.9v0.9h-0.9zM100.3 570.0h0.9v0.9h-0.9zM99.0 571.2h0.9v0.9h-0.9zM98.1 586.1h0.9v0.9h-0.9zM97.0 574.7h0.9v0.9h-0.9zM94.8 580.4h0.9v0.9h-0.9zM99.5 584.0h0.9v0.9h-0.9zM100.1 580.3h0.9v0.9h-0.9zM103.0 557.5h0.9v0.9h-0.9zM96.1 586.5h0.9v0.9h-0.9zM96.3 578.2h0.9v0.9h-0.9zM98.7 599.5h0.9v0.9h-0.9zM104.3 552.9h0.9v0.9h-0.9zM95.5 595.9h0.9v0.9h-0.9zM102.7 556.9h0.9v0.9h-0.9zM96.5 581.1h0.9v0.9h-0.9zM104.6 556.3h0.9v0.9h-0.9zM94.5 584.6h0.9v0.9h-0.9zM98.8 576.8h0.9v0.9h-0.9zM95.1 596.7h0.9v0.9h-0.9zM99.4 579.0h0.9v0.9h-0.9zM100.5 561.9h0.9v0.9h-0.9zM102.6 559.2h0.9v0.9h-0.9zM96.4 593.6h0.9v0.9h-0.9zM102.4 564.7h0.9v0.9h-0.9zM100.0 581.3h0.9v0.9h-0.9zM98.1 589.9h0.9v0.9h-0.9zM97.6 597.6h0.9v0.9h-0.9zM96.0 581.6h0.9v0.9h-0.9zM95.0 582.3h0.9v0.9h-0.9zM94.6 588.6h0.9v0.9h-0.9zM98.5 586.5h0.9v0.9h-0.9zM95.2 589.0h0.9v0.9h-0.9zM103.1 561.7h0.9v0.9h-0.9zM97.3 585.8h0.9v0.9h-0.9zM95.8 597.1h0.9v0.9h-0.9zM98.1 574.4h0.9v0.9h-0.9zM98.0 576.7h0.9v0.9h-0.9zM99.5 572.1h0.9v0.9h-0.9zM99.7 578.5h0.9v0.9h-0.9zM103.4 560.1h0.9v0.9h-0.9zM96.0 599.3h0.9v0.9h-0.9zM98.8 592.7h0.9v0.9h-0.9zM104.0 555.7h0.9v0.9h-0.9zM97.4 587.9h0.9v0.9h-0.9zM96.6 603.5h0.9v0.9h-0.9zM98.7 582.3h0.9v0.9h-0.9zM95.2 596.6h0.9v0.9h-0.9zM96.6 577.9h0.9v0.9h-0.9zM98.3 571.3h0.9v0.9h-0.9zM98.5 590.3h0.9v0.9h-0.9zM107.9 554.9h0.9v0.9h-0.9zM102.5 556.0h0.9v0.9h-0.9zM96.1 578.9h0.9v0.9h-0.9zM98.8 581.9h0.9v0.9h-0.9zM91.5 596.0h0.9v0.9h-0.9zM103.7 559.6h0.9v0.9h-0.9zM96.0 586.8h0.9v0.9h-0.9zM101.1 562.5h0.9v0.9h-0.9zM97.2 595.2h0.9v0.9h-0.9zM99.9 573.7h0.9v0.9h-0.9zM101.4 566.2h0.9v0.9h-0.9zM100.9 586.5h0.9v0.9h-0.9zM102.3 563.2h0.9v0.9h-0.9zM98.4 566.5h0.9v0.9h-0.9zM95.9 583.7h0.9v0.9h-0.9zM98.6 585.6h0.9v0.9h-0.9zM109.1 550.7h0.9v0.9h-0.9zM104.3 557.3h0.9v0.9h-0.9zM98.3 566.3h0.9v0.9h-0.9zM103.4 557.5h0.9v0.9h-0.9zM97.2 580.6h0.9v0.9h-0.9zM101.1 579.1h0.9v0.9h-0.9zM95.8 566.5h0.9v0.9h-0.9zM107.0 551.5h0.9v0.9h-0.9zM96.6 602.6h0.9v0.9h-0.9zM95.9 573.5h0.9v0.9h-0.9zM103.1 563.1h0.9v0.9h-0.9zM98.5 592.9h0.9v0.9h-0.9zM101.4 560.7h0.9v0.9h-0.9zM96.6 586.5h0.9v0.9h-0.9zM103.1 558.4h0.9v0.9h-0.9zM105.2 549.8h0.9v0.9h-0.9zM96.0 586.2h0.9v0.9h-0.9zM99.2 577.7h0.9v0.9h-0.9zM94.2 596.5h0.9v0.9h-0.9zM103.2 561.0h0.9v0.9h-0.9zM106.9 545.3h0.9v0.9h-0.9zM97.8 580.6h0.9v0.9h-0.9zM105.3 556.6h0.9v0.9h-0.9zM99.9 578.9h0.9v0.9h-0.9zM98.0 589.7h0.9v0.9h-0.9zM96.7 589.7h0.9v0.9h-0.9zM93.0 588.6h0.9v0.9h-0.9zM108.2 554.9h0.9v0.9h-0.9zM103.9 550.3h0.9v0.9h-0.9zM96.7 578.5h0.9v0.9h-0.9zM102.5 551.5h0.9v0.9h-0.9zM97.4 588.0h0.9v0.9h-0.9zM108.5 544.6h0.9v0.9h-0.9zM95.5 588.6h0.9v0.9h-0.9zM96.6 575.7h0.9v0.9h-0.9zM98.2 586.6h0.9v0.9h-0.9zM98.3 572.7h0.9v0.9h-0.9zM100.4 564.1h0.9v0.9h-0.9zM103.8 555.1h0.9v0.9h-0.9zM99.1 566.2h0.9v0.9h-0.9zM101.8 561.3h0.9v0.9h-0.9zM96.4 575.4h0.9v0.9h-0.9zM99.6 569.4h0.9v0.9h-0.9zM97.1 582.0h0.9v0.9h-0.9zM98.9 571.4h0.9v0.9h-0.9zM101.9 563.5h0.9v0.9h-0.9zM95.1 586.8h0.9v0.9h-0.9zM96.9 582.9h0.9v0.9h-0.9zM98.0 567.4h0.9v0.9h-0.9zM100.2 570.3h0.9v0.9h-0.9zM108.1 557.2h0.9v0.9h-0.9zM103.4 551.7h0.9v0.9h-0.9zM101.5 557.2h0.9v0.9h-0.9zM98.3 601.5h0.9v0.9h-0.9zM105.8 551.7h0.9v0.9h-0.9zM94.7 591.7h0.9v0.9h-0.9zM98.4 580.1h0.9v0.9h-0.9zM104.5 564.1h0.9v0.9h-0.9zM96.6 574.5h0.9v0.9h-0.9zM94.2 600.0h0.9v0.9h-0.9zM96.6 598.4h0.9v0.9h-0.9zM97.0 600.4h0.9v0.9h-0.9zM96.8 600.8h0.9v0.9h-0.9zM97.2 565.8h0.9v0.9h-0.9zM96.6 595.3h0.9v0.9h-0.9zM98.3 581.5h0.9v0.9h-0.9zM98.1 572.2h0.9v0.9h-0.9zM102.5 562.4h0.9v0.9h-0.9zM101.2 567.8h0.9v0.9h-0.9zM99.6 571.6h0.9v0.9h-0.9zM96.0 598.4h0.9v0.9h-0.9zM97.2 590.0h0.9v0.9h-0.9zM96.1 591.8h0.9v0.9h-0.9zM103.3 555.5h0.9v0.9h-0.9zM99.2 584.2h0.9v0.9h-0.9zM98.8 568.2h0.9v0.9h-0.9zM105.9 554.6h0.9v0.9h-0.9zM96.0 582.4h0.9v0.9h-0.9zM98.9 578.5h0.9v0.9h-0.9zM94.7 579.4h0.9v0.9h-0.9zM101.0 566.7h0.9v0.9h-0.9zM102.1 559.4h0.9v0.9h-0.9zM97.0 571.0h0.9v0.9h-0.9zM102.1 560.8h0.9v0.9h-0.9zM93.3 589.6h0.9v0.9h-0.9zM98.7 571.5h0.9v0.9h-0.9zM103.8 558.5h0.9v0.9h-0.9zM99.4 594.7h0.9v0.9h-0.9zM96.5 599.3h0.9v0.9h-0.9zM97.9 587.0h0.9v0.9h-0.9zM106.7 546.8h0.9v0.9h-0.9zM98.0 587.1h0.9v0.9h-0.9zM94.8 603.8h0.9v0.9h-0.9zM97.8 593.0h0.9v0.9h-0.9zM100.1 574.4h0.9v0.9h-0.9zM102.6 561.0h0.9v0.9h-0.9zM97.4 579.9h0.9v0.9h-0.9zM101.2 576.2h0.9v0.9h-0.9zM101.9 555.9h0.9v0.9h-0.9zM97.7 599.9h0.9v0.9h-0.9zM100.0 569.9h0.9v0.9h-0.9zM106.1 556.6h0.9v0.9h-0.9zM102.7 561.6h0.9v0.9h-0.9zM99.6 587.2h0.9v0.9h-0.9zM97.9 586.1h0.9v0.9h-0.9zM103.0 550.8h0.9v0.9h-0.9zM98.6 595.2h0.9v0.9h-0.9zM101.9 556.8h0.9v0.9h-0.9zM100.3 560.8h0.9v0.9h-0.9zM105.0 559.3h0.9v0.9h-0.9zM97.5 570.5h0.9v0.9h-0.9zM100.5 561.1h0.9v0.9h-0.9zM97.2 591.2h0.9v0.9h-0.9zM96.2 575.2h0.9v0.9h-0.9zM98.1 577.4h0.9v0.9h-0.9zM94.1 594.7h0.9v0.9h-0.9zM94.6 605.4h0.9v0.9h-0.9zM95.2 574.7h0.9v0.9h-0.9zM104.6 555.0h0.9v0.9h-0.9zM96.2 602.5h0.9v0.9h-0.9zM98.8 573.6h0.9v0.9h-0.9zM97.3 585.8h0.9v0.9h-0.9zM108.2 550.4h0.9v0.9h-0.9zM103.6 557.1h0.9v0.9h-0.9zM97.9 578.6h0.9v0.9h-0.9zM104.0 558.4h0.9v0.9h-0.9zM103.8 560.4h0.9v0.9h-0.9zM101.6 567.2h0.9v0.9h-0.9zM103.2 556.0h0.9v0.9h-0.9zM103.4 550.8h0.9v0.9h-0.9zM99.3 582.8h0.9v0.9h-0.9zM95.8 577.8h0.9v0.9h-0.9zM96.8 591.4h0.9v0.9h-0.9zM102.6 568.2h0.9v0.9h-0.9zM99.5 570.1h0.9v0.9h-0.9zM97.6 580.4h0.9v0.9h-0.9zM104.6 550.1h0.9v0.9h-0.9zM99.4 574.3h0.9v0.9h-0.9zM94.2 591.2h0.9v0.9h-0.9zM95.9 597.0h0.9v0.9h-0.9zM95.7 586.3h0.9v0.9h-0.9zM96.5 583.1h0.9v0.9h-0.9zM102.4 549.4h0.9v0.9h-0.9zM108.7 545.0h0.9v0.9h-0.9zM99.8 562.7h0.9v0.9h-0.9zM97.8 581.0h0.9v0.9h-0.9zM104.6 555.9h0.9v0.9h-0.9zM95.2 595.4h0.9v0.9h-0.9zM100.1 566.0h0.9v0.9h-0.9zM102.7 550.6h0.9v0.9h-0.9zM94.0 605.5h0.9v0.9h-0.9zM94.6 603.2h0.9v0.9h-0.9zM99.8 584.8h0.9v0.9h-0.9zM95.0 579.1h0.9v0.9h-0.9zM97.0 581.0h0.9v0.9h-0.9zM94.6 602.4h0.9v0.9h-0.9zM101.8 572.0h0.9v0.9h-0.9zM97.5 563.6h0.9v0.9h-0.9zM97.2 600.2h0.9v0.9h-0.9zM98.2 571.1h0.9v0.9h-0.9zM98.0 566.1h0.9v0.9h-0.9zM100.8 563.5h0.9v0.9h-0.9zM98.9 578.5h0.9v0.9h-0.9zM102.2 566.9h0.9v0.9h-0.9zM104.4 556.7h0.9v0.9h-0.9zM95.1 587.9h0.9v0.9h-0.9zM95.9 590.2h0.9v0.9h-0.9zM93.6 598.0h0.9v0.9h-0.9zM101.2 555.6h0.9v0.9h-0.9zM104.4 551.0h0.9v0.9h-0.9zM100.0 570.4h0.9v0.9h-0.9zM93.6 595.4h0.9v0.9h-0.9zM99.0 571.1h0.9v0.9h-0.9zM103.3 556.3h0.9v0.9h-0.9zM103.3 554.6h0.9v0.9h-0.9zM101.1 561.1h0.9v0.9h-0.9zM99.8 566.0h0.9v0.9h-0.9zM99.9 582.6h0.9v0.9h-0.9zM102.4 564.3h0.9v0.9h-0.9zM100.6 596.8h0.9v0.9h-0.9zM100.7 559.5h0.9v0.9h-0.9zM94.6 598.3h0.9v0.9h-0.9zM100.4 571.2h0.9v0.9h-0.9zM96.4 601.9h0.9v0.9h-0.9zM92.6 590.7h0.9v0.9h-0.9zM97.4 593.5h0.9v0.9h-0.9zM96.6 585.0h0.9v0.9h-0.9zM106.5 550.6h0.9v0.9h-0.9zM106.1 552.4h0.9v0.9h-0.9zM99.0 572.8h0.9v0.9h-0.9zM97.5 588.4h0.9v0.9h-0.9zM98.0 570.4h0.9v0.9h-0.9zM100.9 567.7h0.9v0.9h-0.9zM95.5 594.3h0.9v0.9h-0.9zM106.8 550.8h0.9v0.9h-0.9zM99.0 567.6h0.9v0.9h-0.9zM94.3 596.2h0.9v0.9h-0.9zM105.3 557.8h0.9v0.9h-0.9zM109.5 548.3h0.9v0.9h-0.9zM94.8 597.8h0.9v0.9h-0.9zM97.4 596.3h0.9v0.9h-0.9zM95.3 583.9h0.9v0.9h-0.9zM96.4 594.5h0.9v0.9h-0.9zM106.1 548.5h0.9v0.9h-0.9zM100.9 568.1h0.9v0.9h-0.9zM103.1 556.2h0.9v0.9h-0.9zM98.6 563.3h0.9v0.9h-0.9zM103.1 554.0h0.9v0.9h-0.9zM99.0 581.8h0.9v0.9h-0.9zM99.0 594.8h0.9v0.9h-0.9zM107.9 548.9h0.9v0.9h-0.9zM103.6 550.5h0.9v0.9h-0.9zM96.9 572.0h0.9v0.9h-0.9zM99.8 567.9h0.9v0.9h-0.9zM108.4 550.8h0.9v0.9h-0.9zM100.9 564.0h0.9v0.9h-0.9zM96.7 583.1h0.9v0.9h-0.9zM99.6 571.9h0.9v0.9h-0.9zM107.3 549.5h0.9v0.9h-0.9zM99.8 564.7h0.9v0.9h-0.9zM97.6 579.4h0.9v0.9h-0.9zM100.8 570.8h0.9v0.9h-0.9zM96.8 592.5h0.9v0.9h-0.9zM101.7 570.3h0.9v0.9h-0.9zM94.2 591.0h0.9v0.9h-0.9zM107.2 551.6h0.9v0.9h-0.9zM102.8 568.2h0.9v0.9h-0.9zM105.3 550.6h0.9v0.9h-0.9zM96.4 598.9h0.9v0.9h-0.9zM103.9 555.6h0.9v0.9h-0.9zM98.0 574.8h0.9v0.9h-0.9zM96.4 590.0h0.9v0.9h-0.9zM96.4 587.2h0.9v0.9h-0.9zM94.2 597.8h0.9v0.9h-0.9zM98.3 582.7h0.9v0.9h-0.9zM99.2 554.6h0.9v0.9h-0.9zM99.2 600.8h0.9v0.9h-0.9zM104.9 560.2h0.9v0.9h-0.9zM101.2 560.3h0.9v0.9h-0.9zM101.5 566.2h0.9v0.9h-0.9zM99.8 579.0h0.9v0.9h-0.9zM104.1 556.0h0.9v0.9h-0.9zM105.2 557.1h0.9v0.9h-0.9zM106.2 549.4h0.9v0.9h-0.9zM100.2 573.9h0.9v0.9h-0.9zM100.1 565.5h0.9v0.9h-0.9zM103.2 554.7h0.9v0.9h-0.9zM97.5 577.1h0.9v0.9h-0.9zM95.8 594.0h0.9v0.9h-0.9zM105.7 549.7h0.9v0.9h-0.9zM97.3 600.3h0.9v0.9h-0.9zM92.1 600.7h0.9v0.9h-0.9zM107.8 545.7h0.9v0.9h-0.9zM96.7 597.7h0.9v0.9h-0.9zM101.1 582.3h0.9v0.9h-0.9zM98.8 575.1h0.9v0.9h-0.9zM104.9 560.0h0.9v0.9h-0.9zM107.0 549.8h0.9v0.9h-0.9zM97.5 599.0h0.9v0.9h-0.9zM96.3 582.3h0.9v0.9h-0.9zM97.6 580.4h0.9v0.9h-0.9zM101.7 560.7h0.9v0.9h-0.9zM106.4 555.2h0.9v0.9h-0.9zM99.4 573.7h0.9v0.9h-0.9zM93.5 596.9h0.9v0.9h-0.9zM94.8 584.1h0.9v0.9h-0.9zM94.3 585.2h0.9v0.9h-0.9zM96.3 595.5h0.9v0.9h-0.9zM100.2 573.4h0.9v0.9h-0.9zM105.0 553.4h0.9v0.9h-0.9zM97.3 593.5h0.9v0.9h-0.9zM97.0 587.2h0.9v0.9h-0.9zM107.0 554.4h0.9v0.9h-0.9zM105.0 549.1h0.9v0.9h-0.9zM97.4 571.2h0.9v0.9h-0.9zM101.5 564.9h0.9v0.9h-0.9zM97.5 575.4h0.9v0.9h-0.9zM95.6 594.8h0.9v0.9h-0.9zM96.5 577.8h0.9v0.9h-0.9zM99.2 580.9h0.9v0.9h-0.9zM99.1 598.8h0.9v0.9h-0.9zM98.1 566.8h0.9v0.9h-0.9zM94.7 574.4h0.9v0.9h-0.9zM100.1 572.5h0.9v0.9h-0.9zM95.3 592.2h0.9v0.9h-0.9zM97.7 596.7h0.9v0.9h-0.9zM96.9 576.6h0.9v0.9h-0.9zM94.5 594.3h0.9v0.9h-0.9zM97.7 579.7h0.9v0.9h-0.9zM98.0 583.8h0.9v0.9h-0.9zM101.7 564.0h0.9v0.9h-0.9zM104.0 558.9h0.9v0.9h-0.9zM97.7 573.7h0.9v0.9h-0.9zM99.5 579.3h0.9v0.9h-0.9zM95.5 595.3h0.9v0.9h-0.9zM104.2 550.0h0.9v0.9h-0.9zM99.9 565.4h0.9v0.9h-0.9zM98.0 569.6h0.9v0.9h-0.9zM96.5 572.6h0.9v0.9h-0.9zM98.9 579.4h0.9v0.9h-0.9zM98.4 570.5h0.9v0.9h-0.9zM100.8 569.1h0.9v0.9h-0.9zM98.2 583.0h0.9v0.9h-0.9zM99.8 578.1h0.9v0.9h-0.9zM99.5 567.7h0.9v0.9h-0.9zM97.3 576.5h0.9v0.9h-0.9zM97.2 581.1h0.9v0.9h-0.9zM103.2 558.3h0.9v0.9h-0.9zM97.2 579.0h0.9v0.9h-0.9zM98.0 581.8h0.9v0.9h-0.9zM94.4 598.9h0.9v0.9h-0.9zM98.4 573.8h0.9v0.9h-0.9zM105.4 555.3h0.9v0.9h-0.9zM104.3 563.5h0.9v0.9h-0.9zM101.2 571.8h0.9v0.9h-0.9zM101.3 563.1h0.9v0.9h-0.9zM102.1 565.8h0.9v0.9h-0.9zM103.3 563.3h0.9v0.9h-0.9zM98.6 571.9h0.9v0.9h-0.9zM105.0 559.8h0.9v0.9h-0.9zM98.7 578.8h0.9v0.9h-0.9zM98.2 578.2h0.9v0.9h-0.9zM96.9 580.0h0.9v0.9h-0.9zM96.5 586.9h0.9v0.9h-0.9zM98.0 590.5h0.9v0.9h-0.9zM102.2 558.6h0.9v0.9h-0.9zM93.3 585.0h0.9v0.9h-0.9zM94.5 582.4h0.9v0.9h-0.9zM95.9 579.8h0.9v0.9h-0.9zM96.9 582.9h0.9v0.9h-0.9zM103.1 557.6h0.9v0.9h-0.9zM97.9 599.4h0.9v0.9h-0.9zM97.4 575.9h0.9v0.9h-0.9zM104.2 560.5h0.9v0.9h-0.9zM106.6 551.5h0.9v0.9h-0.9zM96.6 592.6h0.9v0.9h-0.9zM104.9 566.3h0.9v0.9h-0.9zM96.9 596.9h0.9v0.9h-0.9zM97.6 579.7h0.9v0.9h-0.9zM101.8 550.4h0.9v0.9h-0.9zM105.8 548.4h0.9v0.9h-0.9zM97.0 597.2h0.9v0.9h-0.9zM107.0 546.4h0.9v0.9h-0.9zM97.2 588.4h0.9v0.9h-0.9zM103.6 564.2h0.9v0.9h-0.9zM98.0 565.6h0.9v0.9h-0.9zM96.0 592.0h0.9v0.9h-0.9zM97.8 576.9h0.9v0.9h-0.9zM105.2 554.8h0.9v0.9h-0.9zM95.8 580.8h0.9v0.9h-0.9zM106.5 556.5h0.9v0.9h-0.9zM102.5 568.4h0.9v0.9h-0.9zM99.3 578.6h0.9v0.9h-0.9zM104.0 571.8h0.9v0.9h-0.9zM104.0 571.6h0.9v0.9h-0.9zM99.2 573.9h0.9v0.9h-0.9zM105.7 555.9h0.9v0.9h-0.9zM95.5 600.2h0.9v0.9h-0.9zM94.7 596.7h0.9v0.9h-0.9zM105.2 550.8h0.9v0.9h-0.9zM95.4 593.8h0.9v0.9h-0.9zM101.5 569.6h0.9v0.9h-0.9zM98.5 586.2h0.9v0.9h-0.9zM95.3 588.1h0.9v0.9h-0.9zM106.3 558.5h0.9v0.9h-0.9zM101.7 561.0h0.9v0.9h-0.9zM96.7 591.5h0.9v0.9h-0.9zM106.3 553.9h0.9v0.9h-0.9zM103.0 571.2h0.9v0.9h-0.9zM95.2 596.9h0.9v0.9h-0.9zM104.6 559.9h0.9v0.9h-0.9zM99.2 565.8h0.9v0.9h-0.9zM95.0 582.5h0.9v0.9h-0.9zM99.0 583.9h0.9v0.9h-0.9zM98.2 584.9h0.9v0.9h-0.9zM106.3 551.8h0.9v0.9h-0.9zM97.5 581.8h0.9v0.9h-0.9zM101.4 561.6h0.9v0.9h-0.9zM98.4 576.0h0.9v0.9h-0.9zM97.6 585.1h0.9v0.9h-0.9zM100.4 583.2h0.9v0.9h-0.9zM102.8 560.8h0.9v0.9h-0.9zM102.7 561.5h0.9v0.9h-0.9zM104.3 550.1h0.9v0.9h-0.9zM108.8 548.0h0.9v0.9h-0.9zM98.9 557.4h0.9v0.9h-0.9zM96.1 588.9h0.9v0.9h-0.9zM100.1 568.1h0.9v0.9h-0.9zM94.8 590.5h0.9v0.9h-0.9zM95.0 575.7h0.9v0.9h-0.9zM99.4 583.3h0.9v0.9h-0.9zM102.4 562.3h0.9v0.9h-0.9zM97.3 593.7h0.9v0.9h-0.9zM99.3 577.7h0.9v0.9h-0.9zM98.9 595.0h0.9v0.9h-0.9zM97.9 600.0h0.9v0.9h-0.9zM106.7 553.7h0.9v0.9h-0.9zM107.0 560.6h0.9v0.9h-0.9zM103.6 561.1h0.9v0.9h-0.9zM96.5 603.0h0.9v0.9h-0.9zM96.2 595.9h0.9v0.9h-0.9zM107.0 555.3h0.9v0.9h-0.9zM96.6 598.8h0.9v0.9h-0.9zM104.3 557.3h0.9v0.9h-0.9zM100.5 572.7h0.9v0.9h-0.9zM98.8 562.4h0.9v0.9h-0.9zM96.9 594.9h0.9v0.9h-0.9zM97.9 583.6h0.9v0.9h-0.9zM102.6 570.2h0.9v0.9h-0.9zM94.1 587.5h0.9v0.9h-0.9zM100.6 569.5h0.9v0.9h-0.9zM103.4 558.1h0.9v0.9h-0.9zM99.1 586.9h0.9v0.9h-0.9zM100.1 598.4h0.9v0.9h-0.9zM99.7 561.9h0.9v0.9h-0.9zM103.5 553.5h0.9v0.9h-0.9zM97.2 586.5h0.9v0.9h-0.9zM98.7 570.2h0.9v0.9h-0.9zM100.6 565.6h0.9v0.9h-0.9zM97.8 600.3h0.9v0.9h-0.9zM100.0 565.7h0.9v0.9h-0.9zM97.5 579.7h0.9v0.9h-0.9zM97.9 577.2h0.9v0.9h-0.9zM98.0 584.3h0.9v0.9h-0.9zM95.5 582.4h0.9v0.9h-0.9zM102.0 565.8h0.9v0.9h-0.9zM109.2 548.0h0.9v0.9h-0.9zM99.2 588.4h0.9v0.9h-0.9zM100.0 599.1h0.9v0.9h-0.9zM97.6 584.5h0.9v0.9h-0.9zM98.3 579.0h0.9v0.9h-0.9zM101.5 560.0h0.9v0.9h-0.9zM101.8 560.7h0.9v0.9h-0.9zM94.8 578.3h0.9v0.9h-0.9zM98.3 590.7h0.9v0.9h-0.9zM95.5 595.6h0.9v0.9h-0.9zM97.5 571.5h0.9v0.9h-0.9zM101.1 566.2h0.9v0.9h-0.9zM101.4 573.5h0.9v0.9h-0.9zM94.6 590.7h0.9v0.9h-0.9zM104.3 556.3h0.9v0.9h-0.9zM94.9 589.4h0.9v0.9h-0.9zM105.8 549.2h0.9v0.9h-0.9zM97.6 581.1h0.9v0.9h-0.9zM97.4 576.6h0.9v0.9h-0.9zM97.1 596.1h0.9v0.9h-0.9zM104.0 560.9h0.9v0.9h-0.9zM101.4 599.6h0.9v0.9h-0.9zM94.7 584.9h0.9v0.9h-0.9zM100.8 565.2h0.9v0.9h-0.9zM99.3 590.7h0.9v0.9h-0.9zM95.2 575.4h0.9v0.9h-0.9zM100.5 563.7h0.9v0.9h-0.9zM99.2 602.4h0.9v0.9h-0.9zM102.0 546.8h0.9v0.9h-0.9zM101.8 550.4h0.9v0.9h-0.9zM96.7 576.8h0.9v0.9h-0.9zM102.2 566.5h0.9v0.9h-0.9zM96.8 582.3h0.9v0.9h-0.9zM100.8 580.4h0.9v0.9h-0.9zM98.8 576.7h0.9v0.9h-0.9zM102.7 568.1h0.9v0.9h-0.9zM100.1 563.9h0.9v0.9h-0.9zM98.6 571.5h0.9v0.9h-0.9zM97.2 580.8h0.9v0.9h-0.9zM105.5 550.5h0.9v0.9h-0.9zM96.6 582.4h0.9v0.9h-0.9zM97.0 586.2h0.9v0.9h-0.9zM106.3 554.1h0.9v0.9h-0.9zM101.1 576.0h0.9v0.9h-0.9zM94.4 600.4h0.9v0.9h-0.9zM104.2 552.8h0.9v0.9h-0.9zM101.3 568.0h0.9v0.9h-0.9zM97.3 598.6h0.9v0.9h-0.9zM96.6 602.0h0.9v0.9h-0.9zM95.3 597.5h0.9v0.9h-0.9zM105.3 551.8h0.9v0.9h-0.9zM101.0 572.0h0.9v0.9h-0.9zM99.8 567.8h0.9v0.9h-0.9zM98.6 595.0h0.9v0.9h-0.9zM97.4 593.6h0.9v0.9h-0.9zM101.1 559.4h0.9v0.9h-0.9zM105.3 557.0h0.9v0.9h-0.9zM100.2 574.7h0.9v0.9h-0.9zM97.4 576.4h0.9v0.9h-0.9zM97.4 590.1h0.9v0.9h-0.9zM96.6 591.8h0.9v0.9h-0.9zM101.7 562.4h0.9v0.9h-0.9zM100.5 561.7h0.9v0.9h-0.9zM102.8 556.9h0.9v0.9h-0.9zM95.4 585.3h0.9v0.9h-0.9zM96.3 597.8h0.9v0.9h-0.9zM97.3 581.8h0.9v0.9h-0.9zM100.8 566.0h0.9v0.9h-0.9zM102.8 555.5h0.9v0.9h-0.9zM103.3 559.8h0.9v0.9h-0.9zM95.5 579.7h0.9v0.9h-0.9zM95.1 585.8h0.9v0.9h-0.9zM95.6 595.6h0.9v0.9h-0.9zM101.0 559.4h0.9v0.9h-0.9zM103.3 569.2h0.9v0.9h-0.9zM96.8 599.7h0.9v0.9h-0.9zM106.5 548.4h0.9v0.9h-0.9zM96.0 593.1h0.9v0.9h-0.9zM95.6 567.2h0.9v0.9h-0.9zM96.0 589.0h0.9v0.9h-0.9zM100.3 576.0h0.9v0.9h-0.9zM97.5 585.1h0.9v0.9h-0.9zM96.0 598.0h0.9v0.9h-0.9zM103.8 571.3h0.9v0.9h-0.9zM102.3 567.4h0.9v0.9h-0.9zM94.6 589.5h0.9v0.9h-0.9zM95.4 580.9h0.9v0.9h-0.9zM97.8 588.3h0.9v0.9h-0.9zM95.0 586.9h0.9v0.9h-0.9zM101.1 566.0h0.9v0.9h-0.9zM102.7 553.1h0.9v0.9h-0.9zM102.1 557.4h0.9v0.9h-0.9zM94.9 590.6h0.9v0.9h-0.9zM96.1 575.2h0.9v0.9h-0.9zM98.2 587.5h0.9v0.9h-0.9z" fill="#111" fill-opacity="0.7"/>
<path d="M91.7 601.4h0.9v0.9h-0.9zM83.8 575.4h0.9v0.9h-0.9zM82.6 576.9h0.9v0.9h-0.9zM82.4 574.2h0.9v0.9h-0.9zM85.3 588.9h0.9v0.9h-0.9zM83.5 575.8h0.9v0.9h-0.9zM80.9 557.6h0.9v0.9h-0.9zM87.9 593.4h0.9v0.9h-0.9zM81.3 573.9h0.9v0.9h-0.9zM81.0 580.7h0.9v0.9h-0.9zM81.8 560.8h0.9v0.9h-0.9zM79.2 561.2h0.9v0.9h-0.9zM81.1 561.9h0.9v0.9h-0.9zM87.6 596.9h0.9v0.9h-0.9zM85.1 587.6h0.9v0.9h-0.9zM83.2 578.2h0.9v0.9h-0.9zM87.8 590.9h0.9v0.9h-0.9zM87.7 587.3h0.9v0.9h-0.9zM82.7 566.9h0.9v0.9h-0.9zM89.6 601.0h0.9v0.9h-0.9zM85.1 580.8h0.9v0.9h-0.9zM84.7 577.0h0.9v0.9h-0.9zM77.6 559.0h0.9v0.9h-0.9zM82.7 576.5h0.9v0.9h-0.9zM79.8 580.6h0.9v0.9h-0.9zM76.3 564.2h0.9v0.9h-0.9zM79.4 573.8h0.9v0.9h-0.9zM87.2 593.4h0.9v0.9h-0.9zM86.9 584.0h0.9v0.9h-0.9zM84.6 590.4h0.9v0.9h-0.9zM84.8 576.4h0.9v0.9h-0.9zM83.9 563.5h0.9v0.9h-0.9zM88.7 596.4h0.9v0.9h-0.9zM88.4 593.3h0.9v0.9h-0.9zM81.5 571.5h0.9v0.9h-0.9zM85.3 591.5h0.9v0.9h-0.9zM86.1 579.3h0.9v0.9h-0.9zM79.3 567.6h0.9v0.9h-0.9zM92.4 599.5h0.9v0.9h-0.9zM82.8 564.2h0.9v0.9h-0.9zM78.5 564.5h0.9v0.9h-0.9zM80.0 561.7h0.9v0.9h-0.9zM86.3 593.8h0.9v0.9h-0.9zM79.6 567.5h0.9v0.9h-0.9zM81.8 572.1h0.9v0.9h-0.9zM83.7 581.3h0.9v0.9h-0.9zM87.8 598.2h0.9v0.9h-0.9zM81.8 558.8h0.9v0.9h-0.9zM88.8 592.5h0.9v0.9h-0.9zM82.1 580.6h0.9v0.9h-0.9zM79.0 567.0h0.9v0.9h-0.9zM85.1 573.8h0.9v0.9h-0.9zM84.6 570.8h0.9v0.9h-0.9zM85.7 583.0h0.9v0.9h-0.9zM88.0 574.5h0.9v0.9h-0.9zM81.0 556.3h0.9v0.9h-0.9zM80.1 559.4h0.9v0.9h-0.9zM85.7 577.9h0.9v0.9h-0.9zM83.8 589.0h0.9v0.9h-0.9zM84.4 593.6h0.9v0.9h-0.9zM83.6 581.2h0.9v0.9h-0.9zM90.8 595.5h0.9v0.9h-0.9zM83.4 574.2h0.9v0.9h-0.9zM83.8 573.5h0.9v0.9h-0.9zM84.3 583.1h0.9v0.9h-0.9zM85.9 584.8h0.9v0.9h-0.9zM90.6 601.4h0.9v0.9h-0.9zM86.6 588.9h0.9v0.9h-0.9zM82.2 571.7h0.9v0.9h-0.9zM88.6 586.2h0.9v0.9h-0.9zM76.7 561.6h0.9v0.9h-0.9zM87.0 588.8h0.9v0.9h-0.9zM82.5 572.8h0.9v0.9h-0.9zM85.2 599.4h0.9v0.9h-0.9zM80.8 566.6h0.9v0.9h-0.9zM82.6 561.9h0.9v0.9h-0.9zM84.0 589.6h0.9v0.9h-0.9zM88.3 590.4h0.9v0.9h-0.9zM91.3 601.9h0.9v0.9h-0.9zM81.5 577.3h0.9v0.9h-0.9zM81.4 560.6h0.9v0.9h-0.9zM77.5 556.1h0.9v0.9h-0.9zM83.7 575.3h0.9v0.9h-0.9zM77.4 558.8h0.9v0.9h-0.9zM77.0 558.9h0.9v0.9h-0.9zM86.2 600.2h0.9v0.9h-0.9zM87.9 591.2h0.9v0.9h-0.9zM83.2 559.9h0.9v0.9h-0.9zM75.5 564.2h0.9v0.9h-0.9zM78.7 567.1h0.9v0.9h-0.9zM85.9 598.3h0.9v0.9h-0.9zM80.4 567.4h0.9v0.9h-0.9zM84.8 574.5h0.9v0.9h-0.9zM82.6 571.3h0.9v0.9h-0.9zM84.7 567.6h0.9v0.9h-0.9zM77.9 558.1h0.9v0.9h-0.9zM87.8 596.3h0.9v0.9h-0.9zM81.6 560.3h0.9v0.9h-0.9zM82.9 579.6h0.9v0.9h-0.9zM86.1 589.1h0.9v0.9h-0.9zM86.9 586.3h0.9v0.9h-0.9zM89.0 593.0h0.9v0.9h-0.9zM82.1 565.1h0.9v0.9h-0.9zM88.8 586.2h0.9v0.9h-0.9zM77.8 559.0h0.9v0.9h-0.9zM86.3 593.1h0.9v0.9h-0.9zM83.4 579.9h0.9v0.9h-0.9zM90.4 599.4h0.9v0.9h-0.9zM80.3 559.6h0.9v0.9h-0.9zM87.8 594.4h0.9v0.9h-0.9zM85.5 592.2h0.9v0.9h-0.9zM86.8 596.5h0.9v0.9h-0.9zM86.6 594.9h0.9v0.9h-0.9zM82.1 575.5h0.9v0.9h-0.9zM79.9 568.2h0.9v0.9h-0.9zM77.7 566.4h0.9v0.9h-0.9zM84.3 587.5h0.9v0.9h-0.9zM87.4 593.3h0.9v0.9h-0.9zM81.3 564.1h0.9v0.9h-0.9zM85.6 583.1h0.9v0.9h-0.9zM87.3 586.8h0.9v0.9h-0.9zM78.3 563.3h0.9v0.9h-0.9zM87.6 589.6h0.9v0.9h-0.9zM82.7 593.2h0.9v0.9h-0.9zM86.3 597.6h0.9v0.9h-0.9zM83.4 575.9h0.9v0.9h-0.9zM87.5 596.9h0.9v0.9h-0.9zM85.7 576.4h0.9v0.9h-0.9zM88.5 600.8h0.9v0.9h-0.9zM81.2 570.7h0.9v0.9h-0.9zM84.1 583.4h0.9v0.9h-0.9zM85.9 584.4h0.9v0.9h-0.9zM85.5 582.6h0.9v0.9h-0.9zM77.0 573.1h0.9v0.9h-0.9zM81.5 578.3h0.9v0.9h-0.9zM79.8 568.7h0.9v0.9h-0.9zM84.9 596.9h0.9v0.9h-0.9zM83.8 569.1h0.9v0.9h-0.9zM77.1 557.6h0.9v0.9h-0.9zM82.7 568.7h0.9v0.9h-0.9zM87.2 585.1h0.9v0.9h-0.9zM81.1 565.2h0.9v0.9h-0.9zM81.2 566.5h0.9v0.9h-0.9zM79.1 566.2h0.9v0.9h-0.9zM87.9 600.0h0.9v0.9h-0.9zM78.7 565.9h0.9v0.9h-0.9zM81.4 573.2h0.9v0.9h-0.9zM85.8 587.8h0.9v0.9h-0.9zM92.1 602.6h0.9v0.9h-0.9zM85.5 580.7h0.9v0.9h-0.9zM81.0 575.6h0.9v0.9h-0.9zM79.6 560.1h0.9v0.9h-0.9zM79.7 561.1h0.9v0.9h-0.9zM83.1 576.0h0.9v0.9h-0.9zM82.6 567.4h0.9v0.9h-0.9zM77.8 566.7h0.9v0.9h-0.9zM84.4 595.9h0.9v0.9h-0.9zM83.3 570.8h0.9v0.9h-0.9zM80.3 566.4h0.9v0.9h-0.9zM89.3 602.6h0.9v0.9h-0.9zM89.4 594.8h0.9v0.9h-0.9zM83.2 569.0h0.9v0.9h-0.9zM80.2 571.2h0.9v0.9h-0.9zM89.3 597.7h0.9v0.9h-0.9zM80.8 562.8h0.9v0.9h-0.9zM80.2 565.2h0.9v0.9h-0.9zM76.3 556.4h0.9v0.9h-0.9zM84.8 575.5h0.9v0.9h-0.9zM85.6 580.6h0.9v0.9h-0.9zM87.4 598.4h0.9v0.9h-0.9zM89.5 592.2h0.9v0.9h-0.9zM86.3 595.4h0.9v0.9h-0.9zM85.6 576.3h0.9v0.9h-0.9zM81.8 580.2h0.9v0.9h-0.9zM83.8 574.3h0.9v0.9h-0.9zM91.0 593.4h0.9v0.9h-0.9zM80.7 560.9h0.9v0.9h-0.9zM89.1 593.5h0.9v0.9h-0.9zM83.5 584.7h0.9v0.9h-0.9zM90.7 598.4h0.9v0.9h-0.9zM84.0 570.7h0.9v0.9h-0.9zM82.7 583.8h0.9v0.9h-0.9zM76.8 558.9h0.9v0.9h-0.9zM77.4 559.2h0.9v0.9h-0.9zM79.7 557.7h0.9v0.9h-0.9zM89.6 592.5h0.9v0.9h-0.9zM82.6 561.8h0.9v0.9h-0.9zM86.4 594.2h0.9v0.9h-0.9zM79.9 567.5h0.9v0.9h-0.9zM87.3 583.0h0.9v0.9h-0.9zM86.5 583.7h0.9v0.9h-0.9zM78.8 562.5h0.9v0.9h-0.9zM76.9 567.4h0.9v0.9h-0.9zM89.5 601.3h0.9v0.9h-0.9zM88.4 592.0h0.9v0.9h-0.9zM75.6 563.6h0.9v0.9h-0.9zM88.1 599.1h0.9v0.9h-0.9zM87.9 591.7h0.9v0.9h-0.9zM85.0 578.1h0.9v0.9h-0.9zM85.5 587.3h0.9v0.9h-0.9zM88.6 594.9h0.9v0.9h-0.9zM78.4 556.6h0.9v0.9h-0.9zM86.1 594.3h0.9v0.9h-0.9zM87.3 580.6h0.9v0.9h-0.9zM89.2 602.3h0.9v0.9h-0.9zM75.7 564.2h0.9v0.9h-0.9zM82.2 575.8h0.9v0.9h-0.9zM88.3 586.3h0.9v0.9h-0.9zM80.7 571.3h0.9v0.9h-0.9zM86.1 583.9h0.9v0.9h-0.9zM85.4 583.5h0.9v0.9h-0.9zM89.7 599.4h0.9v0.9h-0.9zM84.1 586.7h0.9v0.9h-0.9zM86.4 584.9h0.9v0.9h-0.9zM81.2 562.1h0.9v0.9h-0.9zM78.3 560.8h0.9v0.9h-0.9zM87.8 592.9h0.9v0.9h-0.9zM78.7 561.3h0.9v0.9h-0.9zM78.3 567.6h0.9v0.9h-0.9zM85.5 600.9h0.9v0.9h-0.9zM81.6 572.7h0.9v0.9h-0.9zM82.6 586.0h0.9v0.9h-0.9zM88.7 597.0h0.9v0.9h-0.9zM87.5 582.1h0.9v0.9h-0.9zM83.1 568.3h0.9v0.9h-0.9zM82.1 566.1h0.9v0.9h-0.9zM85.1 587.5h0.9v0.9h-0.9zM81.8 578.3h0.9v0.9h-0.9zM86.1 592.4h0.9v0.9h-0.9zM79.3 566.0h0.9v0.9h-0.9zM83.4 585.9h0.9v0.9h-0.9zM81.9 576.1h0.9v0.9h-0.9zM81.0 568.1h0.9v0.9h-0.9zM79.4 565.2h0.9v0.9h-0.9zM87.5 593.7h0.9v0.9h-0.9zM78.6 569.2h0.9v0.9h-0.9zM85.4 595.5h0.9v0.9h-0.9zM81.1 562.9h0.9v0.9h-0.9zM83.1 589.8h0.9v0.9h-0.9zM76.2 559.4h0.9v0.9h-0.9zM90.0 601.3h0.9v0.9h-0.9zM79.7 567.1h0.9v0.9h-0.9zM90.0 583.9h0.9v0.9h-0.9zM78.1 571.0h0.9v0.9h-0.9zM88.9 594.4h0.9v0.9h-0.9zM76.9 563.3h0.9v0.9h-0.9zM86.6 580.7h0.9v0.9h-0.9zM87.9 592.3h0.9v0.9h-0.9zM83.5 573.6h0.9v0.9h-0.9zM82.6 573.4h0.9v0.9h-0.9zM80.1 569.8h0.9v0.9h-0.9zM76.5 560.1h0.9v0.9h-0.9zM85.1 576.6h0.9v0.9h-0.9zM88.1 585.3h0.9v0.9h-0.9zM82.5 568.4h0.9v0.9h-0.9zM83.8 560.6h0.9v0.9h-0.9zM79.7 564.4h0.9v0.9h-0.9zM80.2 566.4h0.9v0.9h-0.9zM89.5 595.0h0.9v0.9h-0.9zM79.1 567.8h0.9v0.9h-0.9zM88.0 598.9h0.9v0.9h-0.9zM80.4 577.3h0.9v0.9h-0.9zM84.4 589.3h0.9v0.9h-0.9zM78.4 561.4h0.9v0.9h-0.9zM90.7 601.2h0.9v0.9h-0.9zM86.5 598.8h0.9v0.9h-0.9zM82.4 574.7h0.9v0.9h-0.9zM76.7 567.9h0.9v0.9h-0.9zM86.6 595.4h0.9v0.9h-0.9zM81.4 560.9h0.9v0.9h-0.9zM87.8 580.7h0.9v0.9h-0.9zM79.7 568.3h0.9v0.9h-0.9zM83.3 575.7h0.9v0.9h-0.9zM77.6 560.5h0.9v0.9h-0.9zM79.4 573.8h0.9v0.9h-0.9zM90.6 596.4h0.9v0.9h-0.9zM89.2 603.9h0.9v0.9h-0.9zM90.2 603.0h0.9v0.9h-0.9zM86.0 582.0h0.9v0.9h-0.9zM82.8 584.2h0.9v0.9h-0.9zM81.8 563.9h0.9v0.9h-0.9zM82.6 569.0h0.9v0.9h-0.9zM84.5 587.2h0.9v0.9h-0.9zM76.9 560.7h0.9v0.9h-0.9zM80.7 580.0h0.9v0.9h-0.9zM76.9 568.3h0.9v0.9h-0.9zM81.5 573.0h0.9v0.9h-0.9zM77.0 556.4h0.9v0.9h-0.9zM80.8 576.8h0.9v0.9h-0.9zM82.0 567.3h0.9v0.9h-0.9zM81.0 566.5h0.9v0.9h-0.9zM80.4 575.1h0.9v0.9h-0.9zM87.8 599.1h0.9v0.9h-0.9zM83.8 576.8h0.9v0.9h-0.9zM80.9 562.9h0.9v0.9h-0.9zM83.7 569.2h0.9v0.9h-0.9zM77.8 558.0h0.9v0.9h-0.9zM81.6 566.2h0.9v0.9h-0.9zM89.5 597.8h0.9v0.9h-0.9zM87.5 594.8h0.9v0.9h-0.9zM92.8 600.3h0.9v0.9h-0.9zM85.4 591.8h0.9v0.9h-0.9zM89.7 603.0h0.9v0.9h-0.9zM90.2 589.8h0.9v0.9h-0.9zM77.5 559.2h0.9v0.9h-0.9zM90.0 592.7h0.9v0.9h-0.9zM81.6 558.6h0.9v0.9h-0.9zM89.3 601.3h0.9v0.9h-0.9zM71.9 560.6h0.9v0.9h-0.9zM82.6 572.4h0.9v0.9h-0.9zM79.9 561.2h0.9v0.9h-0.9zM82.0 577.4h0.9v0.9h-0.9zM86.9 582.9h0.9v0.9h-0.9zM82.3 566.7h0.9v0.9h-0.9zM88.9 594.9h0.9v0.9h-0.9zM81.3 570.1h0.9v0.9h-0.9zM81.9 558.2h0.9v0.9h-0.9zM90.1 601.9h0.9v0.9h-0.9zM86.7 592.2h0.9v0.9h-0.9zM88.5 600.8h0.9v0.9h-0.9zM81.4 574.6h0.9v0.9h-0.9zM83.0 580.7h0.9v0.9h-0.9zM79.8 569.8h0.9v0.9h-0.9zM76.6 565.9h0.9v0.9h-0.9zM80.1 564.0h0.9v0.9h-0.9zM92.8 601.9h0.9v0.9h-0.9zM88.2 587.6h0.9v0.9h-0.9zM83.9 580.8h0.9v0.9h-0.9zM82.2 571.2h0.9v0.9h-0.9zM80.6 557.7h0.9v0.9h-0.9zM80.9 560.2h0.9v0.9h-0.9zM87.6 583.7h0.9v0.9h-0.9zM82.4 576.5h0.9v0.9h-0.9zM83.2 566.1h0.9v0.9h-0.9zM85.5 583.3h0.9v0.9h-0.9zM80.9 563.4h0.9v0.9h-0.9zM89.2 602.3h0.9v0.9h-0.9zM86.5 587.1h0.9v0.9h-0.9zM78.8 578.2h0.9v0.9h-0.9zM82.5 579.8h0.9v0.9h-0.9zM84.2 579.0h0.9v0.9h-0.9zM83.6 575.6h0.9v0.9h-0.9zM84.5 592.3h0.9v0.9h-0.9zM88.3 593.4h0.9v0.9h-0.9zM79.1 567.3h0.9v0.9h-0.9zM79.7 555.8h0.9v0.9h-0.9zM85.2 583.8h0.9v0.9h-0.9zM80.7 567.6h0.9v0.9h-0.9zM85.3 573.3h0.9v0.9h-0.9zM85.0 585.9h0.9v0.9h-0.9zM88.2 588.9h0.9v0.9h-0.9zM87.6 579.8h0.9v0.9h-0.9zM83.8 572.6h0.9v0.9h-0.9zM81.7 566.8h0.9v0.9h-0.9zM84.0 564.9h0.9v0.9h-0.9zM78.2 563.4h0.9v0.9h-0.9zM91.4 594.3h0.9v0.9h-0.9zM87.8 593.7h0.9v0.9h-0.9zM83.4 574.3h0.9v0.9h-0.9zM88.6 592.0h0.9v0.9h-0.9zM86.0 585.3h0.9v0.9h-0.9zM80.1 574.1h0.9v0.9h-0.9zM84.6 574.7h0.9v0.9h-0.9zM76.7 560.7h0.9v0.9h-0.9zM79.0 575.3h0.9v0.9h-0.9zM79.0 560.0h0.9v0.9h-0.9zM81.2 571.1h0.9v0.9h-0.9zM86.0 583.4h0.9v0.9h-0.9zM88.7 581.2h0.9v0.9h-0.9zM79.8 570.2h0.9v0.9h-0.9zM92.1 595.8h0.9v0.9h-0.9zM89.4 590.6h0.9v0.9h-0.9zM79.6 574.6h0.9v0.9h-0.9zM82.0 570.0h0.9v0.9h-0.9zM80.6 555.8h0.9v0.9h-0.9zM90.2 595.9h0.9v0.9h-0.9zM79.9 563.1h0.9v0.9h-0.9zM88.1 600.9h0.9v0.9h-0.9zM91.0 595.6h0.9v0.9h-0.9zM75.7 564.1h0.9v0.9h-0.9zM82.8 576.3h0.9v0.9h-0.9zM92.0 599.9h0.9v0.9h-0.9zM76.8 562.7h0.9v0.9h-0.9zM87.3 589.4h0.9v0.9h-0.9zM78.0 569.3h0.9v0.9h-0.9zM88.5 594.1h0.9v0.9h-0.9zM88.7 596.9h0.9v0.9h-0.9zM77.1 570.1h0.9v0.9h-0.9zM83.4 583.6h0.9v0.9h-0.9zM89.4 590.7h0.9v0.9h-0.9zM83.1 580.1h0.9v0.9h-0.9zM83.8 575.7h0.9v0.9h-0.9zM84.5 590.1h0.9v0.9h-0.9zM84.5 582.3h0.9v0.9h-0.9zM82.9 580.9h0.9v0.9h-0.9zM84.9 579.4h0.9v0.9h-0.9zM89.6 597.2h0.9v0.9h-0.9zM91.3 600.1h0.9v0.9h-0.9zM85.9 584.7h0.9v0.9h-0.9zM83.2 586.6h0.9v0.9h-0.9zM91.8 599.8h0.9v0.9h-0.9zM85.3 582.0h0.9v0.9h-0.9zM87.1 588.7h0.9v0.9h-0.9zM82.2 573.0h0.9v0.9h-0.9zM76.3 561.4h0.9v0.9h-0.9zM82.1 580.7h0.9v0.9h-0.9zM79.7 561.3h0.9v0.9h-0.9zM77.5 563.3h0.9v0.9h-0.9zM85.5 596.2h0.9v0.9h-0.9zM86.1 561.8h0.9v0.9h-0.9zM85.3 590.9h0.9v0.9h-0.9zM80.9 571.0h0.9v0.9h-0.9zM87.3 590.2h0.9v0.9h-0.9zM84.7 579.9h0.9v0.9h-0.9zM76.4 560.4h0.9v0.9h-0.9zM80.5 565.9h0.9v0.9h-0.9zM91.5 597.6h0.9v0.9h-0.9zM82.7 572.4h0.9v0.9h-0.9zM82.2 569.5h0.9v0.9h-0.9zM84.2 583.8h0.9v0.9h-0.9zM82.6 581.4h0.9v0.9h-0.9zM82.0 568.9h0.9v0.9h-0.9zM86.1 583.3h0.9v0.9h-0.9zM85.1 577.1h0.9v0.9h-0.9zM85.0 599.2h0.9v0.9h-0.9zM88.5 602.9h0.9v0.9h-0.9zM79.8 565.3h0.9v0.9h-0.9zM87.4 581.5h0.9v0.9h-0.9zM76.5 575.0h0.9v0.9h-0.9zM83.7 578.6h0.9v0.9h-0.9zM84.5 587.1h0.9v0.9h-0.9zM87.7 586.9h0.9v0.9h-0.9zM82.4 577.4h0.9v0.9h-0.9zM89.2 589.6h0.9v0.9h-0.9zM91.3 590.5h0.9v0.9h-0.9zM87.4 596.7h0.9v0.9h-0.9zM83.9 582.6h0.9v0.9h-0.9zM81.4 561.6h0.9v0.9h-0.9zM83.2 575.4h0.9v0.9h-0.9zM79.7 564.2h0.9v0.9h-0.9zM85.9 583.5h0.9v0.9h-0.9zM82.1 570.3h0.9v0.9h-0.9zM82.4 573.7h0.9v0.9h-0.9zM79.6 559.9h0.9v0.9h-0.9zM88.5 591.9h0.9v0.9h-0.9zM90.3 598.6h0.9v0.9h-0.9zM80.5 560.2h0.9v0.9h-0.9zM82.1 573.8h0.9v0.9h-0.9zM79.7 561.9h0.9v0.9h-0.9zM80.2 567.3h0.9v0.9h-0.9zM86.6 594.9h0.9v0.9h-0.9zM87.8 592.4h0.9v0.9h-0.9zM78.0 559.0h0.9v0.9h-0.9zM82.0 570.9h0.9v0.9h-0.9zM78.5 563.4h0.9v0.9h-0.9zM86.2 583.5h0.9v0.9h-0.9zM86.0 584.3h0.9v0.9h-0.9zM79.3 560.6h0.9v0.9h-0.9zM79.3 557.8h0.9v0.9h-0.9zM78.2 570.9h0.9v0.9h-0.9zM79.0 565.8h0.9v0.9h-0.9zM82.2 585.2h0.9v0.9h-0.9zM85.9 590.7h0.9v0.9h-0.9zM84.2 575.2h0.9v0.9h-0.9zM86.0 588.6h0.9v0.9h-0.9zM85.6 589.5h0.9v0.9h-0.9zM80.2 565.4h0.9v0.9h-0.9zM80.3 574.6h0.9v0.9h-0.9zM84.8 587.9h0.9v0.9h-0.9zM77.3 552.2h0.9v0.9h-0.9zM79.5 569.1h0.9v0.9h-0.9zM78.7 563.0h0.9v0.9h-0.9zM88.0 590.2h0.9v0.9h-0.9zM82.9 567.8h0.9v0.9h-0.9zM78.7 560.5h0.9v0.9h-0.9zM81.3 565.9h0.9v0.9h-0.9zM86.7 580.0h0.9v0.9h-0.9zM81.0 577.6h0.9v0.9h-0.9zM79.3 568.5h0.9v0.9h-0.9zM74.5 555.7h0.9v0.9h-0.9zM89.4 598.8h0.9v0.9h-0.9zM84.8 590.7h0.9v0.9h-0.9zM89.5 587.9h0.9v0.9h-0.9zM85.9 576.8h0.9v0.9h-0.9zM77.7 561.3h0.9v0.9h-0.9zM82.0 577.1h0.9v0.9h-0.9zM85.4 580.8h0.9v0.9h-0.9zM75.9 562.0h0.9v0.9h-0.9zM85.4 586.6h0.9v0.9h-0.9zM83.5 575.7h0.9v0.9h-0.9zM85.1 574.0h0.9v0.9h-0.9zM81.2 585.6h0.9v0.9h-0.9zM89.3 600.0h0.9v0.9h-0.9zM79.3 567.5h0.9v0.9h-0.9zM87.1 596.0h0.9v0.9h-0.9zM82.2 576.0h0.9v0.9h-0.9zM86.2 589.8h0.9v0.9h-0.9zM90.6 599.7h0.9v0.9h-0.9zM85.6 589.3h0.9v0.9h-0.9zM76.5 559.2h0.9v0.9h-0.9zM88.5 585.4h0.9v0.9h-0.9zM80.0 555.4h0.9v0.9h-0.9zM82.2 569.4h0.9v0.9h-0.9zM85.2 589.0h0.9v0.9h-0.9zM77.8 564.3h0.9v0.9h-0.9zM90.0 593.7h0.9v0.9h-0.9zM89.4 601.2h0.9v0.9h-0.9zM79.0 573.7h0.9v0.9h-0.9zM86.2 585.0h0.9v0.9h-0.9zM82.5 564.2h0.9v0.9h-0.9zM89.1 599.4h0.9v0.9h-0.9zM91.5 598.5h0.9v0.9h-0.9zM76.4 558.3h0.9v0.9h-0.9zM83.8 577.9h0.9v0.9h-0.9zM78.7 558.6h0.9v0.9h-0.9zM86.3 591.2h0.9v0.9h-0.9zM82.0 567.0h0.9v0.9h-0.9zM89.7 597.5h0.9v0.9h-0.9zM79.9 570.3h0.9v0.9h-0.9zM88.9 602.4h0.9v0.9h-0.9zM85.8 588.3h0.9v0.9h-0.9zM78.5 567.0h0.9v0.9h-0.9zM90.4 598.8h0.9v0.9h-0.9zM90.4 596.0h0.9v0.9h-0.9zM89.5 597.5h0.9v0.9h-0.9zM90.9 597.3h0.9v0.9h-0.9zM87.5 592.4h0.9v0.9h-0.9zM92.2 595.4h0.9v0.9h-0.9zM87.5 587.6h0.9v0.9h-0.9zM87.2 595.6h0.9v0.9h-0.9zM84.2 580.5h0.9v0.9h-0.9zM94.2 598.6h0.9v0.9h-0.9zM91.6 598.9h0.9v0.9h-0.9zM79.6 574.1h0.9v0.9h-0.9zM81.1 577.7h0.9v0.9h-0.9zM89.3 601.0h0.9v0.9h-0.9zM92.8 600.2h0.9v0.9h-0.9zM89.7 597.1h0.9v0.9h-0.9zM79.1 562.8h0.9v0.9h-0.9zM91.8 601.1h0.9v0.9h-0.9zM82.9 583.3h0.9v0.9h-0.9zM79.4 571.2h0.9v0.9h-0.9zM79.9 575.4h0.9v0.9h-0.9zM78.8 565.4h0.9v0.9h-0.9zM88.2 587.2h0.9v0.9h-0.9zM81.6 565.6h0.9v0.9h-0.9zM81.6 556.7h0.9v0.9h-0.9zM81.2 567.8h0.9v0.9h-0.9zM79.6 568.9h0.9v0.9h-0.9zM89.4 591.4h0.9v0.9h-0.9zM78.0 567.3h0.9v0.9h-0.9zM80.9 579.5h0.9v0.9h-0.9zM83.6 580.3h0.9v0.9h-0.9zM82.6 581.2h0.9v0.9h-0.9zM89.1 588.7h0.9v0.9h-0.9zM83.8 587.8h0.9v0.9h-0.9zM80.2 567.5h0.9v0.9h-0.9zM85.2 576.2h0.9v0.9h-0.9zM80.1 561.2h0.9v0.9h-0.9zM88.0 585.9h0.9v0.9h-0.9zM91.7 603.8h0.9v0.9h-0.9zM76.4 572.2h0.9v0.9h-0.9zM76.5 564.2h0.9v0.9h-0.9zM75.9 558.5h0.9v0.9h-0.9zM82.2 560.8h0.9v0.9h-0.9zM91.1 603.2h0.9v0.9h-0.9zM80.5 577.5h0.9v0.9h-0.9zM79.5 588.3h0.9v0.9h-0.9zM87.9 594.2h0.9v0.9h-0.9zM81.9 575.5h0.9v0.9h-0.9zM82.5 573.3h0.9v0.9h-0.9zM86.1 585.2h0.9v0.9h-0.9zM80.2 568.3h0.9v0.9h-0.9zM89.7 594.8h0.9v0.9h-0.9zM82.5 571.2h0.9v0.9h-0.9zM88.4 589.9h0.9v0.9h-0.9zM81.6 576.6h0.9v0.9h-0.9zM90.1 598.4h0.9v0.9h-0.9zM78.8 564.2h0.9v0.9h-0.9zM81.4 574.6h0.9v0.9h-0.9zM89.6 587.3h0.9v0.9h-0.9zM80.7 578.6h0.9v0.9h-0.9zM83.7 584.9h0.9v0.9h-0.9zM78.6 557.2h0.9v0.9h-0.9zM90.0 600.3h0.9v0.9h-0.9zM81.5 572.0h0.9v0.9h-0.9zM82.3 580.8h0.9v0.9h-0.9zM76.5 562.5h0.9v0.9h-0.9zM80.7 579.8h0.9v0.9h-0.9zM85.8 594.1h0.9v0.9h-0.9zM79.4 565.9h0.9v0.9h-0.9zM90.7 597.9h0.9v0.9h-0.9zM85.1 590.4h0.9v0.9h-0.9zM83.8 598.4h0.9v0.9h-0.9zM85.0 577.3h0.9v0.9h-0.9zM79.1 557.7h0.9v0.9h-0.9zM78.6 556.7h0.9v0.9h-0.9zM81.9 578.4h0.9v0.9h-0.9zM84.7 583.0h0.9v0.9h-0.9zM85.6 583.6h0.9v0.9h-0.9zM82.9 586.1h0.9v0.9h-0.9zM80.9 569.3h0.9v0.9h-0.9zM79.6 566.3h0.9v0.9h-0.9zM79.1 561.5h0.9v0.9h-0.9zM83.8 572.4h0.9v0.9h-0.9zM90.4 594.7h0.9v0.9h-0.9zM83.8 588.2h0.9v0.9h-0.9zM87.8 578.8h0.9v0.9h-0.9zM87.1 598.5h0.9v0.9h-0.9zM88.4 581.9h0.9v0.9h-0.9zM77.2 565.7h0.9v0.9h-0.9zM83.3 577.9h0.9v0.9h-0.9zM89.3 590.4h0.9v0.9h-0.9zM84.3 576.9h0.9v0.9h-0.9zM84.2 592.7h0.9v0.9h-0.9zM81.2 573.4h0.9v0.9h-0.9zM88.0 600.6h0.9v0.9h-0.9zM84.1 589.5h0.9v0.9h-0.9zM87.4 591.0h0.9v0.9h-0.9zM80.1 562.5h0.9v0.9h-0.9zM80.9 562.2h0.9v0.9h-0.9zM84.1 579.9h0.9v0.9h-0.9zM87.5 600.8h0.9v0.9h-0.9zM91.4 601.6h0.9v0.9h-0.9zM86.2 583.8h0.9v0.9h-0.9zM81.7 576.3h0.9v0.9h-0.9zM85.6 591.0h0.9v0.9h-0.9zM85.3 595.4h0.9v0.9h-0.9zM82.8 580.6h0.9v0.9h-0.9zM81.2 563.7h0.9v0.9h-0.9zM85.0 597.1h0.9v0.9h-0.9zM81.2 563.2h0.9v0.9h-0.9zM81.1 576.9h0.9v0.9h-0.9zM73.3 562.6h0.9v0.9h-0.9zM85.6 588.9h0.9v0.9h-0.9zM89.3 595.9h0.9v0.9h-0.9zM88.6 593.6h0.9v0.9h-0.9zM91.1 600.2h0.9v0.9h-0.9zM89.4 596.8h0.9v0.9h-0.9zM79.5 560.5h0.9v0.9h-0.9zM89.9 591.2h0.9v0.9h-0.9zM87.8 593.6h0.9v0.9h-0.9zM86.7 583.5h0.9v0.9h-0.9zM84.2 569.2h0.9v0.9h-0.9zM84.9 581.5h0.9v0.9h-0.9zM87.5 591.5h0.9v0.9h-0.9zM76.7 577.4h0.9v0.9h-0.9zM87.3 588.6h0.9v0.9h-0.9zM89.6 598.7h0.9v0.9h-0.9zM79.2 565.6h0.9v0.9h-0.9zM85.5 584.0h0.9v0.9h-0.9zM88.0 594.6h0.9v0.9h-0.9zM89.4 601.1h0.9v0.9h-0.9zM85.4 587.2h0.9v0.9h-0.9zM82.2 575.7h0.9v0.9h-0.9zM78.4 567.0h0.9v0.9h-0.9zM78.2 562.4h0.9v0.9h-0.9zM81.4 569.3h0.9v0.9h-0.9zM81.6 580.6h0.9v0.9h-0.9zM85.4 592.2h0.9v0.9h-0.9zM86.1 581.5h0.9v0.9h-0.9zM75.1 559.0h0.9v0.9h-0.9zM85.5 585.0h0.9v0.9h-0.9zM90.7 604.3h0.9v0.9h-0.9zM82.8 578.1h0.9v0.9h-0.9zM86.3 575.4h0.9v0.9h-0.9zM75.1 564.4h0.9v0.9h-0.9zM85.2 595.8h0.9v0.9h-0.9zM76.6 562.2h0.9v0.9h-0.9zM78.1 560.8h0.9v0.9h-0.9zM87.7 587.5h0.9v0.9h-0.9zM78.2 574.2h0.9v0.9h-0.9zM82.2 566.8h0.9v0.9h-0.9zM79.5 579.4h0.9v0.9h-0.9zM87.1 597.8h0.9v0.9h-0.9zM92.0 592.6h0.9v0.9h-0.9zM89.1 604.9h0.9v0.9h-0.9zM83.5 575.0h0.9v0.9h-0.9zM84.3 579.7h0.9v0.9h-0.9zM78.0 565.2h0.9v0.9h-0.9zM86.0 589.1h0.9v0.9h-0.9zM84.8 573.3h0.9v0.9h-0.9zM85.4 590.2h0.9v0.9h-0.9zM77.1 558.4h0.9v0.9h-0.9zM78.9 567.2h0.9v0.9h-0.9zM79.2 557.5h0.9v0.9h-0.9zM80.7 579.7h0.9v0.9h-0.9zM83.6 579.9h0.9v0.9h-0.9zM81.4 586.3h0.9v0.9h-0.9zM78.6 564.4h0.9v0.9h-0.9zM83.4 578.4h0.9v0.9h-0.9zM82.1 576.0h0.9v0.9h-0.9zM77.8 568.0h0.9v0.9h-0.9zM89.1 589.0h0.9v0.9h-0.9zM92.4 597.5h0.9v0.9h-0.9zM85.0 596.5h0.9v0.9h-0.9zM79.7 568.1h0.9v0.9h-0.9zM88.7 592.3h0.9v0.9h-0.9zM83.4 570.2h0.9v0.9h-0.9zM86.1 591.2h0.9v0.9h-0.9zM74.9 562.9h0.9v0.9h-0.9zM79.2 571.7h0.9v0.9h-0.9zM77.5 563.6h0.9v0.9h-0.9zM78.7 559.3h0.9v0.9h-0.9zM88.1 587.2h0.9v0.9h-0.9zM78.4 558.6h0.9v0.9h-0.9zM84.5 602.6h0.9v0.9h-0.9zM84.3 576.1h0.9v0.9h-0.9zM79.2 564.8h0.9v0.9h-0.9zM84.5 571.1h0.9v0.9h-0.9zM78.5 568.6h0.9v0.9h-0.9zM87.5 581.8h0.9v0.9h-0.9zM74.0 561.7h0.9v0.9h-0.9zM89.2 598.9h0.9v0.9h-0.9zM76.9 566.2h0.9v0.9h-0.9zM80.7 562.5h0.9v0.9h-0.9zM90.9 591.3h0.9v0.9h-0.9zM87.7 596.5h0.9v0.9h-0.9zM83.8 575.2h0.9v0.9h-0.9zM90.6 601.9h0.9v0.9h-0.9zM79.4 572.3h0.9v0.9h-0.9zM81.8 571.7h0.9v0.9h-0.9zM79.3 562.3h0.9v0.9h-0.9zM81.0 582.2h0.9v0.9h-0.9zM85.0 585.2h0.9v0.9h-0.9zM79.2 563.4h0.9v0.9h-0.9zM81.2 575.0h0.9v0.9h-0.9zM85.1 582.0h0.9v0.9h-0.9zM78.8 570.6h0.9v0.9h-0.9zM89.1 596.0h0.9v0.9h-0.9zM81.1 567.1h0.9v0.9h-0.9zM83.9 564.9h0.9v0.9h-0.9zM87.5 589.0h0.9v0.9h-0.9zM91.2 604.8h0.9v0.9h-0.9zM88.1 599.3h0.9v0.9h-0.9zM86.0 589.6h0.9v0.9h-0.9zM89.6 601.5h0.9v0.9h-0.9zM86.0 593.8h0.9v0.9h-0.9zM87.3 582.4h0.9v0.9h-0.9zM78.7 560.2h0.9v0.9h-0.9zM90.6 603.1h0.9v0.9h-0.9zM86.3 584.2h0.9v0.9h-0.9zM82.2 571.6h0.9v0.9h-0.9zM89.1 592.2h0.9v0.9h-0.9zM82.3 574.1h0.9v0.9h-0.9zM81.8 570.4h0.9v0.9h-0.9zM76.0 558.2h0.9v0.9h-0.9zM92.0 601.4h0.9v0.9h-0.9zM83.2 576.9h0.9v0.9h-0.9zM87.3 598.3h0.9v0.9h-0.9zM83.7 578.8h0.9v0.9h-0.9zM78.8 562.0h0.9v0.9h-0.9zM86.7 594.6h0.9v0.9h-0.9zM82.8 574.0h0.9v0.9h-0.9zM87.9 595.3h0.9v0.9h-0.9zM85.9 598.3h0.9v0.9h-0.9zM88.5 587.3h0.9v0.9h-0.9zM86.5 600.1h0.9v0.9h-0.9zM77.9 562.5h0.9v0.9h-0.9zM87.1 578.1h0.9v0.9h-0.9zM88.9 582.5h0.9v0.9h-0.9zM84.2 587.1h0.9v0.9h-0.9zM84.1 571.6h0.9v0.9h-0.9zM88.8 582.1h0.9v0.9h-0.9zM80.6 570.4h0.9v0.9h-0.9zM88.8 592.7h0.9v0.9h-0.9zM83.1 563.9h0.9v0.9h-0.9zM83.6 583.4h0.9v0.9h-0.9zM90.1 599.8h0.9v0.9h-0.9zM84.6 579.2h0.9v0.9h-0.9zM83.9 583.7h0.9v0.9h-0.9zM79.5 567.1h0.9v0.9h-0.9zM84.3 581.4h0.9v0.9h-0.9zM78.4 564.1h0.9v0.9h-0.9zM77.4 565.0h0.9v0.9h-0.9zM80.4 571.0h0.9v0.9h-0.9zM85.5 585.0h0.9v0.9h-0.9zM85.2 575.4h0.9v0.9h-0.9zM89.2 593.3h0.9v0.9h-0.9zM85.2 571.8h0.9v0.9h-0.9zM84.9 587.9h0.9v0.9h-0.9zM91.3 598.7h0.9v0.9h-0.9zM83.8 576.7h0.9v0.9h-0.9zM93.2 599.9h0.9v0.9h-0.9zM92.8 601.7h0.9v0.9h-0.9zM84.7 567.5h0.9v0.9h-0.9zM86.7 602.2h0.9v0.9h-0.9zM77.5 562.4h0.9v0.9h-0.9zM86.3 585.1h0.9v0.9h-0.9zM86.8 594.8h0.9v0.9h-0.9zM79.4 557.1h0.9v0.9h-0.9zM83.2 592.6h0.9v0.9h-0.9zM83.7 577.6h0.9v0.9h-0.9zM82.4 575.0h0.9v0.9h-0.9zM89.4 584.5h0.9v0.9h-0.9zM76.6 559.1h0.9v0.9h-0.9zM88.0 590.0h0.9v0.9h-0.9zM84.1 581.9h0.9v0.9h-0.9zM78.2 569.2h0.9v0.9h-0.9zM82.2 558.0h0.9v0.9h-0.9zM78.6 562.9h0.9v0.9h-0.9zM79.7 574.6h0.9v0.9h-0.9zM79.0 570.5h0.9v0.9h-0.9zM84.6 573.8h0.9v0.9h-0.9zM81.3 596.4h0.9v0.9h-0.9zM83.9 577.6h0.9v0.9h-0.9zM86.1 592.8h0.9v0.9h-0.9zM79.0 572.9h0.9v0.9h-0.9zM85.4 579.4h0.9v0.9h-0.9zM87.4 587.9h0.9v0.9h-0.9zM79.4 568.3h0.9v0.9h-0.9zM82.3 585.7h0.9v0.9h-0.9zM82.2 567.1h0.9v0.9h-0.9zM75.3 557.4h0.9v0.9h-0.9zM84.8 571.1h0.9v0.9h-0.9zM86.9 586.1h0.9v0.9h-0.9zM80.0 572.2h0.9v0.9h-0.9zM85.3 579.4h0.9v0.9h-0.9zM86.8 595.0h0.9v0.9h-0.9zM79.4 567.0h0.9v0.9h-0.9zM88.2 579.7h0.9v0.9h-0.9zM84.3 587.7h0.9v0.9h-0.9zM90.6 592.8h0.9v0.9h-0.9zM86.9 600.7h0.9v0.9h-0.9zM87.1 587.6h0.9v0.9h-0.9zM85.6 594.2h0.9v0.9h-0.9zM77.7 565.6h0.9v0.9h-0.9zM85.0 577.6h0.9v0.9h-0.9zM89.0 600.7h0.9v0.9h-0.9zM83.7 574.8h0.9v0.9h-0.9zM75.9 558.7h0.9v0.9h-0.9zM87.6 587.9h0.9v0.9h-0.9zM89.9 588.0h0.9v0.9h-0.9zM81.9 582.9h0.9v0.9h-0.9zM85.4 572.9h0.9v0.9h-0.9zM83.9 583.7h0.9v0.9h-0.9zM78.3 568.3h0.9v0.9h-0.9zM84.0 573.6h0.9v0.9h-0.9zM91.1 602.3h0.9v0.9h-0.9zM86.3 599.4h0.9v0.9h-0.9zM94.3 602.4h0.9v0.9h-0.9zM88.7 593.4h0.9v0.9h-0.9zM86.6 593.6h0.9v0.9h-0.9zM82.2 567.8h0.9v0.9h-0.9zM89.9 587.4h0.9v0.9h-0.9zM86.4 578.0h0.9v0.9h-0.9zM80.3 556.3h0.9v0.9h-0.9zM90.1 592.0h0.9v0.9h-0.9zM82.9 580.6h0.9v0.9h-0.9zM81.3 573.6h0.9v0.9h-0.9zM83.9 583.5h0.9v0.9h-0.9zM84.8 590.5h0.9v0.9h-0.9zM86.0 586.0h0.9v0.9h-0.9zM79.8 561.2h0.9v0.9h-0.9zM88.5 593.0h0.9v0.9h-0.9zM90.7 600.1h0.9v0.9h-0.9zM82.4 575.9h0.9v0.9h-0.9zM82.1 575.8h0.9v0.9h-0.9zM90.3 600.9h0.9v0.9h-0.9zM89.7 603.5h0.9v0.9h-0.9zM84.6 592.8h0.9v0.9h-0.9zM83.1 583.1h0.9v0.9h-0.9zM84.4 579.9h0.9v0.9h-0.9zM88.4 602.4h0.9v0.9h-0.9zM83.0 587.7h0.9v0.9h-0.9zM81.6 571.9h0.9v0.9h-0.9zM91.5 602.4h0.9v0.9h-0.9zM81.1 557.2h0.9v0.9h-0.9zM89.2 596.9h0.9v0.9h-0.9zM90.4 586.8h0.9v0.9h-0.9zM80.7 584.9h0.9v0.9h-0.9zM89.0 601.0h0.9v0.9h-0.9zM85.9 591.9h0.9v0.9h-0.9zM84.9 579.7h0.9v0.9h-0.9zM80.1 567.8h0.9v0.9h-0.9zM77.6 560.9h0.9v0.9h-0.9zM90.8 599.4h0.9v0.9h-0.9zM90.0 596.4h0.9v0.9h-0.9zM88.7 593.7h0.9v0.9h-0.9zM81.7 577.2h0.9v0.9h-0.9zM85.4 579.8h0.9v0.9h-0.9zM77.2 569.9h0.9v0.9h-0.9zM89.1 586.4h0.9v0.9h-0.9zM91.7 591.5h0.9v0.9h-0.9zM76.8 560.1h0.9v0.9h-0.9zM83.0 576.2h0.9v0.9h-0.9zM83.3 582.9h0.9v0.9h-0.9zM86.2 588.7h0.9v0.9h-0.9zM82.0 566.2h0.9v0.9h-0.9zM80.9 569.3h0.9v0.9h-0.9zM82.1 573.1h0.9v0.9h-0.9zM82.3 581.7h0.9v0.9h-0.9zM80.9 578.7h0.9v0.9h-0.9zM83.9 581.7h0.9v0.9h-0.9zM83.7 586.0h0.9v0.9h-0.9zM89.9 600.4h0.9v0.9h-0.9zM82.7 583.6h0.9v0.9h-0.9zM82.6 569.3h0.9v0.9h-0.9zM86.3 588.0h0.9v0.9h-0.9zM88.4 591.3h0.9v0.9h-0.9zM90.1 601.2h0.9v0.9h-0.9zM86.2 594.0h0.9v0.9h-0.9zM79.1 571.6h0.9v0.9h-0.9zM85.4 575.0h0.9v0.9h-0.9zM91.6 592.3h0.9v0.9h-0.9zM88.0 598.4h0.9v0.9h-0.9zM83.2 571.1h0.9v0.9h-0.9zM80.6 561.2h0.9v0.9h-0.9zM82.6 575.8h0.9v0.9h-0.9zM79.8 571.6h0.9v0.9h-0.9zM83.3 580.5h0.9v0.9h-0.9zM82.9 569.5h0.9v0.9h-0.9zM87.6 597.0h0.9v0.9h-0.9zM79.4 567.0h0.9v0.9h-0.9zM87.0 587.8h0.9v0.9h-0.9zM84.7 597.4h0.9v0.9h-0.9zM84.0 596.5h0.9v0.9h-0.9zM81.9 572.7h0.9v0.9h-0.9zM85.7 579.8h0.9v0.9h-0.9zM81.0 570.6h0.9v0.9h-0.9zM83.3 566.2h0.9v0.9h-0.9zM81.7 578.9h0.9v0.9h-0.9zM86.8 595.8h0.9v0.9h-0.9zM85.1 592.7h0.9v0.9h-0.9zM80.5 568.2h0.9v0.9h-0.9zM89.8 597.0h0.9v0.9h-0.9zM82.2 572.8h0.9v0.9h-0.9zM86.5 585.1h0.9v0.9h-0.9zM88.8 599.0h0.9v0.9h-0.9zM86.9 583.3h0.9v0.9h-0.9zM89.1 599.1h0.9v0.9h-0.9zM79.3 560.8h0.9v0.9h-0.9zM79.7 563.1h0.9v0.9h-0.9zM77.5 559.0h0.9v0.9h-0.9zM83.0 586.1h0.9v0.9h-0.9zM87.8 587.9h0.9v0.9h-0.9zM79.4 569.7h0.9v0.9h-0.9zM89.8 583.7h0.9v0.9h-0.9zM84.4 581.6h0.9v0.9h-0.9zM82.9 572.5h0.9v0.9h-0.9zM87.9 580.3h0.9v0.9h-0.9zM86.3 586.6h0.9v0.9h-0.9zM84.1 580.5h0.9v0.9h-0.9zM80.3 570.4h0.9v0.9h-0.9zM83.4 578.6h0.9v0.9h-0.9zM83.2 573.7h0.9v0.9h-0.9zM87.8 585.7h0.9v0.9h-0.9zM82.5 577.0h0.9v0.9h-0.9zM85.8 579.6h0.9v0.9h-0.9zM86.8 590.8h0.9v0.9h-0.9zM83.8 583.8h0.9v0.9h-0.9zM87.0 581.2h0.9v0.9h-0.9zM79.4 561.8h0.9v0.9h-0.9zM85.5 580.8h0.9v0.9h-0.9zM84.0 585.8h0.9v0.9h-0.9zM90.0 596.2h0.9v0.9h-0.9zM84.5 580.8h0.9v0.9h-0.9zM78.7 562.5h0.9v0.9h-0.9zM84.7 587.6h0.9v0.9h-0.9zM89.5 593.5h0.9v0.9h-0.9zM91.2 587.0h0.9v0.9h-0.9zM86.9 586.5h0.9v0.9h-0.9zM78.1 555.4h0.9v0.9h-0.9zM84.4 591.2h0.9v0.9h-0.9zM83.9 572.7h0.9v0.9h-0.9zM82.9 573.1h0.9v0.9h-0.9zM84.0 573.3h0.9v0.9h-0.9zM82.3 564.3h0.9v0.9h-0.9zM82.4 575.3h0.9v0.9h-0.9zM79.9 559.8h0.9v0.9h-0.9zM91.5 592.1h0.9v0.9h-0.9zM90.4 603.4h0.9v0.9h-0.9zM82.3 586.6h0.9v0.9h-0.9zM83.7 580.4h0.9v0.9h-0.9zM83.3 574.7h0.9v0.9h-0.9zM91.4 588.9h0.9v0.9h-0.9zM84.3 586.9h0.9v0.9h-0.9zM76.8 563.1h0.9v0.9h-0.9zM79.1 557.1h0.9v0.9h-0.9zM86.4 600.7h0.9v0.9h-0.9zM83.1 567.9h0.9v0.9h-0.9zM80.6 562.5h0.9v0.9h-0.9zM80.1 566.3h0.9v0.9h-0.9zM85.5 590.8h0.9v0.9h-0.9zM81.8 573.8h0.9v0.9h-0.9zM88.1 583.7h0.9v0.9h-0.9zM91.8 604.3h0.9v0.9h-0.9zM81.8 562.0h0.9v0.9h-0.9zM87.1 603.4h0.9v0.9h-0.9zM85.8 590.4h0.9v0.9h-0.9zM81.4 573.2h0.9v0.9h-0.9zM84.8 578.4h0.9v0.9h-0.9zM78.3 563.7h0.9v0.9h-0.9zM87.3 583.9h0.9v0.9h-0.9zM81.8 570.2h0.9v0.9h-0.9zM84.4 582.3h0.9v0.9h-0.9zM88.8 582.9h0.9v0.9h-0.9zM81.8 569.0h0.9v0.9h-0.9zM85.4 591.0h0.9v0.9h-0.9zM86.6 578.6h0.9v0.9h-0.9z" fill="#111" fill-opacity="0.65"/>
<path d="M92.7 558.4h0.9v0.9h-0.9zM93.4 560.1h0.9v0.9h-0.9zM93.6 561.1h0.9v0.9h-0.9zM93.8 561.2h0.9v0.9h-0.9zM91.5 561.2h0.9v0.9h-0.9zM93.0 562.2h0.9v0.9h-0.9zM92.9 561.3h0.9v0.9h-0.9zM93.4 558.1h0.9v0.9h-0.9zM92.3 559.6h0.9v0.9h-0.9zM92.0 560.7h0.9v0.9h-0.9zM92.7 563.4h0.9v0.9h-0.9zM94.1 562.3h0.9v0.9h-0.9zM93.2 560.9h0.9v0.9h-0.9zM92.9 560.1h0.9v0.9h-0.9zM92.4 559.4h0.9v0.9h-0.9zM94.1 560.6h0.9v0.9h-0.9zM93.5 558.8h0.9v0.9h-0.9zM93.2 562.1h0.9v0.9h-0.9zM93.7 560.1h0.9v0.9h-0.9zM92.9 559.5h0.9v0.9h-0.9zM94.2 561.5h0.9v0.9h-0.9zM92.8 558.9h0.9v0.9h-0.9zM93.3 560.0h0.9v0.9h-0.9zM93.4 560.9h0.9v0.9h-0.9zM93.6 561.4h0.9v0.9h-0.9zM92.7 561.5h0.9v0.9h-0.9zM92.7 559.4h0.9v0.9h-0.9zM91.8 561.0h0.9v0.9h-0.9zM93.0 560.7h0.9v0.9h-0.9zM92.4 561.8h0.9v0.9h-0.9zM93.8 562.0h0.9v0.9h-0.9zM92.7 561.7h0.9v0.9h-0.9zM93.3 561.1h0.9v0.9h-0.9zM92.3 562.1h0.9v0.9h-0.9zM93.6 559.6h0.9v0.9h-0.9zM93.0 561.7h0.9v0.9h-0.9zM93.5 559.2h0.9v0.9h-0.9zM93.7 559.1h0.9v0.9h-0.9zM92.6 561.5h0.9v0.9h-0.9zM91.9 561.4h0.9v0.9h-0.9zM93.2 561.4h0.9v0.9h-0.9zM92.6 561.8h0.9v0.9h-0.9zM93.1 561.9h0.9v0.9h-0.9zM93.8 562.7h0.9v0.9h-0.9zM92.6 559.0h0.9v0.9h-0.9z" fill="#333" fill-opacity="0.7"/>
<path d="M80.8 553.5h0.9v0.9h-0.9zM97.4 547.8h0.9v0.9h-0.9zM74.6 595.0h0.9v0.9h-0.9zM101.0 568.3h0.9v0.9h-0.9zM83.8 551.6h0.9v0.9h-0.9zM105.4 549.2h0.9v0.9h-0.9zM85.6 603.9h0.9v0.9h-0.9zM85.2 551.5h0.9v0.9h-0.9zM94.5 575.8h0.9v0.9h-0.9zM108.1 549.0h0.9v0.9h-0.9zM95.9 580.6h0.9v0.9h-0.9zM107.4 551.0h0.9v0.9h-0.9zM105.5 546.2h0.9v0.9h-0.9zM94.7 550.2h0.9v0.9h-0.9zM96.8 588.8h0.9v0.9h-0.9zM87.0 605.4h0.9v0.9h-0.9zM101.8 575.8h0.9v0.9h-0.9zM95.5 597.3h0.9v0.9h-0.9zM82.6 553.4h0.9v0.9h-0.9zM74.1 580.9h0.9v0.9h-0.9zM75.5 582.6h0.9v0.9h-0.9zM105.8 563.4h0.9v0.9h-0.9zM98.3 578.5h0.9v0.9h-0.9zM103.3 559.1h0.9v0.9h-0.9zM106.3 554.9h0.9v0.9h-0.9zM96.4 581.4h0.9v0.9h-0.9zM90.1 552.3h0.9v0.9h-0.9zM95.1 549.8h0.9v0.9h-0.9zM98.3 604.0h0.9v0.9h-0.9zM77.3 572.5h0.9v0.9h-0.9zM106.2 558.6h0.9v0.9h-0.9zM91.5 552.7h0.9v0.9h-0.9zM99.9 589.8h0.9v0.9h-0.9zM94.9 604.5h0.9v0.9h-0.9zM77.3 560.0h0.9v0.9h-0.9zM82.3 554.2h0.9v0.9h-0.9zM98.0 573.7h0.9v0.9h-0.9zM76.1 585.3h0.9v0.9h-0.9zM76.7 570.8h0.9v0.9h-0.9zM102.0 567.8h0.9v0.9h-0.9zM76.2 603.4h0.9v0.9h-0.9zM76.6 555.2h0.9v0.9h-0.9zM94.1 601.6h0.9v0.9h-0.9zM94.8 599.4h0.9v0.9h-0.9zM101.1 560.3h0.9v0.9h-0.9zM91.6 550.5h0.9v0.9h-0.9zM106.4 554.2h0.9v0.9h-0.9zM99.9 569.6h0.9v0.9h-0.9zM100.4 583.7h0.9v0.9h-0.9zM96.1 548.2h0.9v0.9h-0.9zM104.4 548.5h0.9v0.9h-0.9zM97.4 600.8h0.9v0.9h-0.9zM76.7 601.2h0.9v0.9h-0.9zM77.2 556.3h0.9v0.9h-0.9zM96.9 580.2h0.9v0.9h-0.9zM104.4 560.1h0.9v0.9h-0.9zM74.7 599.8h0.9v0.9h-0.9zM75.3 559.0h0.9v0.9h-0.9zM86.0 554.7h0.9v0.9h-0.9zM77.0 572.4h0.9v0.9h-0.9zM97.1 594.7h0.9v0.9h-0.9zM100.1 578.2h0.9v0.9h-0.9zM96.7 587.5h0.9v0.9h-0.9zM100.6 590.1h0.9v0.9h-0.9zM98.4 550.9h0.9v0.9h-0.9zM75.1 575.0h0.9v0.9h-0.9zM101.4 567.8h0.9v0.9h-0.9zM77.5 595.1h0.9v0.9h-0.9zM81.9 606.2h0.9v0.9h-0.9zM76.0 568.0h0.9v0.9h-0.9zM86.7 551.7h0.9v0.9h-0.9zM104.0 547.4h0.9v0.9h-0.9zM97.7 599.9h0.9v0.9h-0.9zM77.3 591.8h0.9v0.9h-0.9zM96.5 550.6h0.9v0.9h-0.9zM75.6 600.5h0.9v0.9h-0.9zM79.8 553.4h0.9v0.9h-0.9zM77.0 560.5h0.9v0.9h-0.9zM75.2 579.9h0.9v0.9h-0.9zM89.7 553.1h0.9v0.9h-0.9zM103.4 545.1h0.9v0.9h-0.9zM91.3 547.9h0.9v0.9h-0.9zM75.3 560.7h0.9v0.9h-0.9zM98.8 574.1h0.9v0.9h-0.9zM105.8 561.8h0.9v0.9h-0.9zM75.3 565.4h0.9v0.9h-0.9zM97.3 596.9h0.9v0.9h-0.9zM77.6 602.5h0.9v0.9h-0.9zM77.2 594.3h0.9v0.9h-0.9zM74.8 584.1h0.9v0.9h-0.9zM96.3 602.6h0.9v0.9h-0.9zM76.7 585.9h0.9v0.9h-0.9zM106.7 550.4h0.9v0.9h-0.9zM109.8 545.8h0.9v0.9h-0.9zM92.8 604.2h0.9v0.9h-0.9zM77.8 601.2h0.9v0.9h-0.9zM102.3 558.1h0.9v0.9h-0.9zM94.9 601.7h0.9v0.9h-0.9zM82.4 552.3h0.9v0.9h-0.9zM108.9 548.1h0.9v0.9h-0.9zM100.0 596.0h0.9v0.9h-0.9zM94.6 589.3h0.9v0.9h-0.9zM107.3 553.2h0.9v0.9h-0.9zM74.9 561.6h0.9v0.9h-0.9zM81.2 606.6h0.9v0.9h-0.9zM104.0 559.9h0.9v0.9h-0.9zM93.2 553.2h0.9v0.9h-0.9zM84.3 550.5h0.9v0.9h-0.9zM100.0 547.3h0.9v0.9h-0.9zM78.6 555.3h0.9v0.9h-0.9zM106.9 552.6h0.9v0.9h-0.9zM77.7 566.6h0.9v0.9h-0.9zM95.9 552.9h0.9v0.9h-0.9zM78.2 559.8h0.9v0.9h-0.9zM81.3 557.7h0.9v0.9h-0.9zM98.9 550.0h0.9v0.9h-0.9zM107.6 550.3h0.9v0.9h-0.9zM78.1 603.4h0.9v0.9h-0.9zM97.2 582.5h0.9v0.9h-0.9zM75.7 559.4h0.9v0.9h-0.9zM75.4 588.4h0.9v0.9h-0.9zM90.1 554.2h0.9v0.9h-0.9zM99.3 560.4h0.9v0.9h-0.9zM102.6 567.9h0.9v0.9h-0.9zM98.4 599.8h0.9v0.9h-0.9zM98.0 603.0h0.9v0.9h-0.9zM77.2 586.4h0.9v0.9h-0.9zM90.4 552.9h0.9v0.9h-0.9zM76.0 588.2h0.9v0.9h-0.9zM98.4 579.1h0.9v0.9h-0.9zM78.6 574.0h0.9v0.9h-0.9zM105.5 547.4h0.9v0.9h-0.9zM93.3 548.9h0.9v0.9h-0.9zM85.9 603.0h0.9v0.9h-0.9zM75.9 606.6h0.9v0.9h-0.9zM97.4 585.0h0.9v0.9h-0.9zM88.6 605.5h0.9v0.9h-0.9zM81.1 602.9h0.9v0.9h-0.9zM77.3 578.2h0.9v0.9h-0.9zM86.0 550.4h0.9v0.9h-0.9zM81.0 600.8h0.9v0.9h-0.9zM104.7 555.8h0.9v0.9h-0.9zM91.9 606.2h0.9v0.9h-0.9zM90.4 552.8h0.9v0.9h-0.9zM105.8 554.6h0.9v0.9h-0.9zM75.4 591.5h0.9v0.9h-0.9zM100.2 565.6h0.9v0.9h-0.9zM106.0 554.9h0.9v0.9h-0.9zM93.7 605.3h0.9v0.9h-0.9zM92.8 605.6h0.9v0.9h-0.9zM95.0 549.4h0.9v0.9h-0.9zM75.9 602.9h0.9v0.9h-0.9zM84.0 553.8h0.9v0.9h-0.9zM104.3 548.1h0.9v0.9h-0.9zM101.0 562.5h0.9v0.9h-0.9zM99.3 593.5h0.9v0.9h-0.9zM102.0 563.1h0.9v0.9h-0.9zM76.5 559.9h0.9v0.9h-0.9zM76.2 600.5h0.9v0.9h-0.9zM74.1 602.4h0.9v0.9h-0.9zM73.7 593.1h0.9v0.9h-0.9zM75.8 561.9h0.9v0.9h-0.9zM74.2 595.0h0.9v0.9h-0.9zM94.9 577.5h0.9v0.9h-0.9zM99.5 581.8h0.9v0.9h-0.9zM90.4 548.2h0.9v0.9h-0.9zM76.8 593.6h0.9v0.9h-0.9zM83.1 604.5h0.9v0.9h-0.9zM75.8 572.5h0.9v0.9h-0.9zM74.9 581.5h0.9v0.9h-0.9zM107.1 546.9h0.9v0.9h-0.9zM93.0 603.7h0.9v0.9h-0.9zM74.1 579.1h0.9v0.9h-0.9zM97.7 595.6h0.9v0.9h-0.9zM88.3 549.8h0.9v0.9h-0.9zM98.0 578.8h0.9v0.9h-0.9zM91.3 548.6h0.9v0.9h-0.9zM100.4 595.1h0.9v0.9h-0.9zM76.0 591.5h0.9v0.9h-0.9zM90.1 552.4h0.9v0.9h-0.9zM92.4 606.1h0.9v0.9h-0.9zM87.2 551.9h0.9v0.9h-0.9zM79.2 574.2h0.9v0.9h-0.9zM97.2 586.5h0.9v0.9h-0.9zM81.1 572.8h0.9v0.9h-0.9zM100.4 573.6h0.9v0.9h-0.9zM96.9 584.1h0.9v0.9h-0.9zM78.3 557.7h0.9v0.9h-0.9zM83.6 602.8h0.9v0.9h-0.9zM107.3 546.0h0.9v0.9h-0.9zM73.8 596.3h0.9v0.9h-0.9zM74.6 573.9h0.9v0.9h-0.9zM103.8 548.4h0.9v0.9h-0.9zM77.8 593.7h0.9v0.9h-0.9zM99.8 599.9h0.9v0.9h-0.9zM100.6 601.9h0.9v0.9h-0.9zM75.4 575.6h0.9v0.9h-0.9zM73.8 570.0h0.9v0.9h-0.9zM99.8 573.9h0.9v0.9h-0.9zM75.4 577.6h0.9v0.9h-0.9z" fill="#333" fill-opacity="0.45"/>
<path d="M80.5 588.1h0.9v0.9h-0.9zM103.8 551.9h0.9v0.9h-0.9zM82.6 558.0h0.9v0.9h-0.9zM95.9 582.7h0.9v0.9h-0.9zM103.0 563.7h0.9v0.9h-0.9zM93.3 585.3h0.9v0.9h-0.9zM111.1 594.7h0.9v0.9h-0.9zM113.6 585.8h0.9v0.9h-0.9zM100.0 583.2h0.9v0.9h-0.9zM109.6 591.7h0.9v0.9h-0.9zM87.9 541.3h0.9v0.9h-0.9zM99.4 565.8h0.9v0.9h-0.9zM81.8 574.9h0.9v0.9h-0.9zM88.8 589.7h0.9v0.9h-0.9zM76.0 593.4h0.9v0.9h-0.9zM98.4 566.3h0.9v0.9h-0.9zM100.6 589.8h0.9v0.9h-0.9zM76.2 600.6h0.9v0.9h-0.9zM79.7 547.0h0.9v0.9h-0.9zM83.1 566.5h0.9v0.9h-0.9zM113.3 556.3h0.9v0.9h-0.9zM101.6 556.8h0.9v0.9h-0.9zM83.0 594.0h0.9v0.9h-0.9zM100.0 592.0h0.9v0.9h-0.9zM95.2 550.1h0.9v0.9h-0.9zM94.2 561.6h0.9v0.9h-0.9zM100.6 543.6h0.9v0.9h-0.9zM78.8 582.3h0.9v0.9h-0.9zM89.9 558.6h0.9v0.9h-0.9zM87.2 553.9h0.9v0.9h-0.9zM78.5 579.7h0.9v0.9h-0.9zM81.1 570.9h0.9v0.9h-0.9zM86.5 558.1h0.9v0.9h-0.9zM107.7 577.3h0.9v0.9h-0.9zM99.5 572.9h0.9v0.9h-0.9zM83.0 559.2h0.9v0.9h-0.9zM103.4 541.0h0.9v0.9h-0.9zM108.1 565.4h0.9v0.9h-0.9zM89.1 564.6h0.9v0.9h-0.9zM80.8 564.8h0.9v0.9h-0.9zM93.1 586.3h0.9v0.9h-0.9zM86.1 542.5h0.9v0.9h-0.9zM97.7 552.6h0.9v0.9h-0.9zM93.6 574.5h0.9v0.9h-0.9zM84.8 593.5h0.9v0.9h-0.9zM97.3 602.2h0.9v0.9h-0.9zM110.4 596.5h0.9v0.9h-0.9zM106.8 596.5h0.9v0.9h-0.9zM80.6 549.1h0.9v0.9h-0.9zM77.3 572.5h0.9v0.9h-0.9zM107.6 591.9h0.9v0.9h-0.9zM105.1 573.3h0.9v0.9h-0.9zM99.7 579.1h0.9v0.9h-0.9zM84.2 593.1h0.9v0.9h-0.9zM109.1 547.0h0.9v0.9h-0.9zM89.5 567.4h0.9v0.9h-0.9zM80.9 545.0h0.9v0.9h-0.9zM79.8 568.6h0.9v0.9h-0.9zM107.4 589.5h0.9v0.9h-0.9zM95.7 572.7h0.9v0.9h-0.9zM109.7 546.9h0.9v0.9h-0.9zM101.1 551.1h0.9v0.9h-0.9zM106.4 556.9h0.9v0.9h-0.9zM99.3 578.3h0.9v0.9h-0.9zM92.2 584.7h0.9v0.9h-0.9zM87.3 598.6h0.9v0.9h-0.9zM112.2 603.3h0.9v0.9h-0.9zM97.4 563.3h0.9v0.9h-0.9zM85.8 591.3h0.9v0.9h-0.9zM105.2 562.4h0.9v0.9h-0.9zM102.4 541.1h0.9v0.9h-0.9zM111.5 563.2h0.9v0.9h-0.9zM93.7 564.9h0.9v0.9h-0.9zM113.2 600.2h0.9v0.9h-0.9zM104.1 584.1h0.9v0.9h-0.9zM92.5 546.0h0.9v0.9h-0.9zM97.5 599.3h0.9v0.9h-0.9zM92.7 548.2h0.9v0.9h-0.9zM101.0 552.4h0.9v0.9h-0.9zM113.1 544.1h0.9v0.9h-0.9zM97.4 543.8h0.9v0.9h-0.9zM99.4 556.5h0.9v0.9h-0.9zM76.8 561.1h0.9v0.9h-0.9zM105.8 561.6h0.9v0.9h-0.9zM78.8 577.0h0.9v0.9h-0.9zM106.3 557.6h0.9v0.9h-0.9zM97.5 560.5h0.9v0.9h-0.9zM109.6 544.4h0.9v0.9h-0.9zM97.1 597.8h0.9v0.9h-0.9zM109.2 562.7h0.9v0.9h-0.9z" fill="#555" fill-opacity="0.35"/>
<line x1="76.00" y1="603.20" x2="99.00" y2="603.20" stroke="#333" stroke-width="1.2"/>
<line x1="75.30" y1="510.20" x2="75.30" y2="603.70" stroke="#888" stroke-width="1.0"/>
<line x1="44.20" y1="564.80" x2="137.30" y2="564.80" stroke="#888" stroke-width="1.0"/>
<line x1="44.20" y1="510.20" x2="137.30" y2="510.20" stroke="#777" stroke-width="0.9"/>
<line x1="137.30" y1="510.20" x2="137.30" y2="603.70" stroke="#777" stroke-width="0.9"/>
<line x1="44.20" y1="510.20" x2="44.20" y2="603.70" stroke="#333" stroke-width="1.0"/>
<line x1="44.20" y1="603.70" x2="137.30" y2="603.70" stroke="#333" stroke-width="1.0"/>
<line x1="42.90" y1="600.70" x2="44.20" y2="600.70" stroke="#333" stroke-width="0.8"/>
<line x1="42.90" y1="592.90" x2="44.20" y2="592.90" stroke="#333" stroke-width="0.8"/>
<line x1="42.90" y1="585.10" x2="44.20" y2="585.10" stroke="#333" stroke-width="0.8"/>
<line x1="42.90" y1="577.30" x2="44.20" y2="577.30" stroke="#333" stroke-width="0.8"/>
<line x1="42.90" y1="569.50" x2="44.20" y2="569.50" stroke="#333" stroke-width="0.8"/>
<line x1="42.90" y1="561.70" x2="44.20" y2="561.70" stroke="#333" stroke-width="0.8"/>
<line x1="42.90" y1="553.90" x2="44.20" y2="553.90" stroke="#333" stroke-width="0.8"/>
<line x1="42.90" y1="546.10" x2="44.20" y2="546.10" stroke="#333" stroke-width="0.8"/>
<line x1="42.90" y1="538.30" x2="44.20" y2="538.30" stroke="#333" stroke-width="0.8"/>
<line x1="42.90" y1="530.50" x2="44.20" y2="530.50" stroke="#333" stroke-width="0.8"/>
<line x1="42.90" y1="522.70" x2="44.20" y2="522.70" stroke="#333" stroke-width="0.8"/>
<line x1="42.90" y1="514.90" x2="44.20" y2="514.90" stroke="#333" stroke-width="0.8"/>
<line x1="47.20" y1="603.70" x2="47.20" y2="605.00" stroke="#333" stroke-width="0.8"/>
<line x1="55.00" y1="603.70" x2="55.00" y2="605.00" stroke="#333" stroke-width="0.8"/>
<line x1="62.80" y1="603.70" x2="62.80" y2="605.00" stroke="#333" stroke-width="0.8"/>
<line x1="70.60" y1="603.70" x2="70.60" y2="605.00" stroke="#333" stroke-width="0.8"/>
<line x1="78.40" y1="603.70" x2="78.40" y2="605.00" stroke="#333" stroke-width="0.8"/>
<line x1="86.20" y1="603.70" x2="86.20" y2="605.00" stroke="#333" stroke-width="0.8"/>
<line x1="94.00" y1="603.70" x2="94.00" y2="605.00" stroke="#333" stroke-width="0.8"/>
<line x1="101.80" y1="603.70" x2="101.80" y2="605.00" stroke="#333" stroke-width="0.8"/>
<line x1="109.60" y1="603.70" x2="109.60" y2="605.00" stroke="#333" stroke-width="0.8"/>
<line x1="117.40" y1="603.70" x2="117.40" y2="605.00" stroke="#333" stroke-width="0.8"/>
<line x1="125.20" y1="603.70" x2="125.20" y2="605.00" stroke="#333" stroke-width="0.8"/>
<line x1="133.00" y1="603.70" x2="133.00" y2="605.00" stroke="#333" stroke-width="0.8"/>
<text x="45.50" y="521.20" textLength="23.70" lengthAdjust="spacingAndGlyphs" font-size="10.0" fill="#000" >0.012</text>
<text x="115.70" y="521.20" textLength="18.40" lengthAdjust="spacingAndGlyphs" font-size="10.0" fill="#000" >51.1</text>
<text x="45.50" y="603.00" textLength="23.70" lengthAdjust="spacingAndGlyphs" font-size="10.0" fill="#000" >0.057</text>
<text x="115.10" y="603.00" textLength="19.00" lengthAdjust="spacingAndGlyphs" font-size="10.0" fill="#000" >48.8</text>
<polygon points="199.5,603.5 199.5,562 202,558 206,570 210,582 213.5,592 210,603.5" fill="#c4c4c4" fill-opacity="1.0"/>
<polygon points="227.2,603.5 228,581 229.5,570 230.5,561 228.5,558 224.5,570 220.5,582 218,592 221.5,603.5" fill="#c4c4c4" fill-opacity="1.0"/>
<polygon points="205.5,557.5 214,555 226,556 223.5,568 219.5,581 216,590 212.5,581 208.5,568" fill="#e2e2e2" fill-opacity="1.0"/>
<polygon points="215.8,593 219.8,603 211.8,603" fill="#dadada" fill-opacity="1.0"/>
<path d="M210.9 598.4h0.9v0.9h-0.9zM210.0 603.0h0.9v0.9h-0.9zM210.0 597.9h0.9v0.9h-0.9zM205.5 568.9h0.9v0.9h-0.9zM205.7 597.5h0.9v0.9h-0.9zM201.6 579.2h0.9v0.9h-0.9zM205.2 597.8h0.9v0.9h-0.9zM212.4 589.3h0.9v0.9h-0.9zM203.8 587.0h0.9v0.9h-0.9zM200.8 601.6h0.9v0.9h-0.9zM204.2 588.0h0.9v0.9h-0.9zM201.8 569.5h0.9v0.9h-0.9zM201.5 575.3h0.9v0.9h-0.9zM201.3 585.0h0.9v0.9h-0.9zM205.9 575.1h0.9v0.9h-0.9zM206.5 582.7h0.9v0.9h-0.9zM201.4 561.5h0.9v0.9h-0.9zM208.5 585.4h0.9v0.9h-0.9zM205.2 599.1h0.9v0.9h-0.9zM201.4 567.9h0.9v0.9h-0.9zM205.1 582.6h0.9v0.9h-0.9zM200.5 566.8h0.9v0.9h-0.9zM210.7 600.6h0.9v0.9h-0.9zM200.6 591.3h0.9v0.9h-0.9zM204.5 581.7h0.9v0.9h-0.9zM200.7 596.2h0.9v0.9h-0.9zM203.0 573.7h0.9v0.9h-0.9zM201.8 580.1h0.9v0.9h-0.9zM201.3 578.9h0.9v0.9h-0.9zM204.1 578.5h0.9v0.9h-0.9zM205.6 584.3h0.9v0.9h-0.9zM201.4 594.4h0.9v0.9h-0.9zM204.5 593.8h0.9v0.9h-0.9zM202.7 583.8h0.9v0.9h-0.9zM205.0 602.3h0.9v0.9h-0.9zM200.7 591.2h0.9v0.9h-0.9zM203.9 591.0h0.9v0.9h-0.9zM203.5 571.8h0.9v0.9h-0.9zM208.5 585.8h0.9v0.9h-0.9zM207.4 601.8h0.9v0.9h-0.9zM201.8 594.6h0.9v0.9h-0.9zM201.4 564.4h0.9v0.9h-0.9zM204.4 587.3h0.9v0.9h-0.9zM211.6 594.8h0.9v0.9h-0.9zM209.6 597.7h0.9v0.9h-0.9zM207.9 584.4h0.9v0.9h-0.9zM204.3 602.0h0.9v0.9h-0.9zM207.7 585.2h0.9v0.9h-0.9zM203.1 568.5h0.9v0.9h-0.9zM202.8 562.6h0.9v0.9h-0.9zM206.5 573.9h0.9v0.9h-0.9zM210.7 591.9h0.9v0.9h-0.9zM209.5 591.9h0.9v0.9h-0.9zM208.8 595.6h0.9v0.9h-0.9zM202.4 600.7h0.9v0.9h-0.9zM200.6 567.9h0.9v0.9h-0.9zM201.6 570.2h0.9v0.9h-0.9zM199.7 598.7h0.9v0.9h-0.9zM206.2 577.0h0.9v0.9h-0.9zM204.8 599.8h0.9v0.9h-0.9zM202.8 577.6h0.9v0.9h-0.9zM201.7 563.0h0.9v0.9h-0.9zM199.8 563.2h0.9v0.9h-0.9zM201.6 594.5h0.9v0.9h-0.9zM211.5 593.5h0.9v0.9h-0.9zM205.8 588.6h0.9v0.9h-0.9zM199.6 592.2h0.9v0.9h-0.9zM204.3 601.7h0.9v0.9h-0.9zM205.1 594.9h0.9v0.9h-0.9zM204.5 576.8h0.9v0.9h-0.9zM204.5 576.4h0.9v0.9h-0.9zM203.8 583.5h0.9v0.9h-0.9zM204.7 568.3h0.9v0.9h-0.9zM203.1 583.6h0.9v0.9h-0.9zM203.1 567.6h0.9v0.9h-0.9zM204.9 588.6h0.9v0.9h-0.9zM200.1 586.6h0.9v0.9h-0.9zM202.7 584.3h0.9v0.9h-0.9zM201.1 601.2h0.9v0.9h-0.9zM202.8 568.7h0.9v0.9h-0.9zM201.5 581.0h0.9v0.9h-0.9zM200.9 586.8h0.9v0.9h-0.9zM208.6 586.3h0.9v0.9h-0.9zM201.6 592.8h0.9v0.9h-0.9zM210.4 601.3h0.9v0.9h-0.9zM209.6 595.6h0.9v0.9h-0.9zM199.5 582.8h0.9v0.9h-0.9zM206.4 593.0h0.9v0.9h-0.9zM202.3 574.2h0.9v0.9h-0.9zM203.5 582.9h0.9v0.9h-0.9zM202.3 570.2h0.9v0.9h-0.9zM205.5 591.0h0.9v0.9h-0.9zM208.3 595.7h0.9v0.9h-0.9zM206.4 589.0h0.9v0.9h-0.9zM210.4 596.0h0.9v0.9h-0.9zM203.0 586.6h0.9v0.9h-0.9zM204.1 595.3h0.9v0.9h-0.9zM208.3 595.2h0.9v0.9h-0.9zM206.2 596.0h0.9v0.9h-0.9zM206.2 594.2h0.9v0.9h-0.9zM204.7 588.4h0.9v0.9h-0.9zM202.5 562.9h0.9v0.9h-0.9zM200.9 592.5h0.9v0.9h-0.9zM211.4 595.5h0.9v0.9h-0.9zM208.4 581.7h0.9v0.9h-0.9zM205.1 573.7h0.9v0.9h-0.9zM202.3 582.5h0.9v0.9h-0.9zM205.8 584.2h0.9v0.9h-0.9zM203.3 599.9h0.9v0.9h-0.9zM201.5 592.3h0.9v0.9h-0.9zM204.7 580.8h0.9v0.9h-0.9zM202.7 590.4h0.9v0.9h-0.9zM200.2 584.5h0.9v0.9h-0.9zM210.0 596.0h0.9v0.9h-0.9zM203.3 567.6h0.9v0.9h-0.9zM204.3 574.7h0.9v0.9h-0.9zM207.1 580.1h0.9v0.9h-0.9zM204.0 586.4h0.9v0.9h-0.9zM201.6 564.1h0.9v0.9h-0.9zM206.8 580.8h0.9v0.9h-0.9zM202.8 601.9h0.9v0.9h-0.9zM201.5 567.6h0.9v0.9h-0.9zM203.3 566.0h0.9v0.9h-0.9zM205.9 578.9h0.9v0.9h-0.9zM203.4 563.4h0.9v0.9h-0.9zM199.6 571.1h0.9v0.9h-0.9zM199.6 568.7h0.9v0.9h-0.9zM211.0 587.4h0.9v0.9h-0.9zM202.6 588.1h0.9v0.9h-0.9zM208.1 586.2h0.9v0.9h-0.9zM203.9 593.0h0.9v0.9h-0.9zM212.3 595.3h0.9v0.9h-0.9zM205.0 589.5h0.9v0.9h-0.9zM201.6 586.5h0.9v0.9h-0.9zM205.3 586.7h0.9v0.9h-0.9zM201.6 577.6h0.9v0.9h-0.9zM205.9 584.5h0.9v0.9h-0.9zM202.5 576.0h0.9v0.9h-0.9zM203.1 561.9h0.9v0.9h-0.9zM210.7 585.9h0.9v0.9h-0.9zM202.7 582.6h0.9v0.9h-0.9zM208.0 593.0h0.9v0.9h-0.9zM205.0 595.6h0.9v0.9h-0.9zM201.8 581.3h0.9v0.9h-0.9zM207.3 584.4h0.9v0.9h-0.9zM208.9 594.3h0.9v0.9h-0.9zM199.9 586.3h0.9v0.9h-0.9zM202.0 567.0h0.9v0.9h-0.9zM203.6 587.9h0.9v0.9h-0.9zM207.4 588.4h0.9v0.9h-0.9zM202.6 585.3h0.9v0.9h-0.9zM200.0 562.8h0.9v0.9h-0.9zM206.6 591.7h0.9v0.9h-0.9zM204.2 577.9h0.9v0.9h-0.9zM205.3 577.1h0.9v0.9h-0.9zM201.4 576.0h0.9v0.9h-0.9zM203.9 584.1h0.9v0.9h-0.9zM202.9 580.4h0.9v0.9h-0.9zM202.2 561.7h0.9v0.9h-0.9zM209.4 592.7h0.9v0.9h-0.9zM206.5 582.5h0.9v0.9h-0.9zM199.8 594.0h0.9v0.9h-0.9zM205.2 583.0h0.9v0.9h-0.9zM208.9 579.6h0.9v0.9h-0.9zM207.6 591.4h0.9v0.9h-0.9zM201.8 587.1h0.9v0.9h-0.9zM208.2 600.9h0.9v0.9h-0.9zM211.4 591.8h0.9v0.9h-0.9zM206.4 586.6h0.9v0.9h-0.9zM207.0 597.0h0.9v0.9h-0.9zM204.3 592.8h0.9v0.9h-0.9zM201.5 573.4h0.9v0.9h-0.9zM202.0 568.1h0.9v0.9h-0.9zM207.3 603.1h0.9v0.9h-0.9zM200.4 575.5h0.9v0.9h-0.9zM202.9 579.7h0.9v0.9h-0.9zM206.1 598.3h0.9v0.9h-0.9zM204.3 602.4h0.9v0.9h-0.9zM209.6 593.9h0.9v0.9h-0.9zM209.5 591.3h0.9v0.9h-0.9zM208.3 577.3h0.9v0.9h-0.9zM202.5 566.3h0.9v0.9h-0.9zM208.5 583.3h0.9v0.9h-0.9zM206.0 582.0h0.9v0.9h-0.9zM209.0 582.3h0.9v0.9h-0.9zM204.2 586.9h0.9v0.9h-0.9zM202.7 581.1h0.9v0.9h-0.9zM210.5 589.7h0.9v0.9h-0.9zM205.3 587.9h0.9v0.9h-0.9zM204.1 591.2h0.9v0.9h-0.9zM206.3 595.1h0.9v0.9h-0.9zM206.3 573.3h0.9v0.9h-0.9zM209.3 602.1h0.9v0.9h-0.9zM201.5 559.7h0.9v0.9h-0.9zM211.1 591.6h0.9v0.9h-0.9zM211.4 595.4h0.9v0.9h-0.9zM210.8 592.0h0.9v0.9h-0.9zM203.1 592.1h0.9v0.9h-0.9zM201.8 562.9h0.9v0.9h-0.9zM206.2 587.8h0.9v0.9h-0.9zM211.8 588.5h0.9v0.9h-0.9zM202.0 571.9h0.9v0.9h-0.9zM206.3 593.4h0.9v0.9h-0.9zM199.6 592.6h0.9v0.9h-0.9zM205.0 599.9h0.9v0.9h-0.9zM210.1 584.6h0.9v0.9h-0.9zM209.8 586.1h0.9v0.9h-0.9zM202.8 565.9h0.9v0.9h-0.9zM200.9 577.8h0.9v0.9h-0.9zM200.7 599.9h0.9v0.9h-0.9zM208.4 598.6h0.9v0.9h-0.9zM210.3 591.5h0.9v0.9h-0.9zM206.6 577.7h0.9v0.9h-0.9zM200.4 592.4h0.9v0.9h-0.9zM205.4 598.3h0.9v0.9h-0.9zM206.5 583.0h0.9v0.9h-0.9zM213.0 591.9h0.9v0.9h-0.9zM208.1 593.3h0.9v0.9h-0.9zM203.7 595.3h0.9v0.9h-0.9zM200.2 584.0h0.9v0.9h-0.9zM203.1 582.1h0.9v0.9h-0.9zM203.5 597.8h0.9v0.9h-0.9zM201.6 580.9h0.9v0.9h-0.9zM205.5 591.4h0.9v0.9h-0.9zM204.6 596.7h0.9v0.9h-0.9zM204.6 592.0h0.9v0.9h-0.9zM204.3 583.7h0.9v0.9h-0.9zM199.8 582.4h0.9v0.9h-0.9zM210.3 589.4h0.9v0.9h-0.9zM204.9 566.9h0.9v0.9h-0.9zM202.4 579.6h0.9v0.9h-0.9zM210.6 597.3h0.9v0.9h-0.9zM201.9 587.2h0.9v0.9h-0.9zM203.4 565.8h0.9v0.9h-0.9zM204.3 596.0h0.9v0.9h-0.9zM206.7 579.6h0.9v0.9h-0.9zM203.7 575.2h0.9v0.9h-0.9zM210.5 596.4h0.9v0.9h-0.9zM210.7 585.6h0.9v0.9h-0.9zM200.8 576.6h0.9v0.9h-0.9zM211.8 589.4h0.9v0.9h-0.9zM207.4 584.3h0.9v0.9h-0.9zM199.9 588.6h0.9v0.9h-0.9zM206.0 574.5h0.9v0.9h-0.9zM204.3 593.5h0.9v0.9h-0.9zM205.0 593.7h0.9v0.9h-0.9zM201.6 573.5h0.9v0.9h-0.9zM204.7 566.9h0.9v0.9h-0.9zM203.9 574.3h0.9v0.9h-0.9zM211.2 595.3h0.9v0.9h-0.9zM200.8 602.6h0.9v0.9h-0.9zM204.1 596.8h0.9v0.9h-0.9zM203.1 569.3h0.9v0.9h-0.9zM202.1 566.5h0.9v0.9h-0.9zM200.6 589.3h0.9v0.9h-0.9zM207.2 597.7h0.9v0.9h-0.9zM209.3 602.1h0.9v0.9h-0.9zM207.3 597.6h0.9v0.9h-0.9zM199.6 588.3h0.9v0.9h-0.9zM199.7 566.8h0.9v0.9h-0.9zM210.5 586.0h0.9v0.9h-0.9zM203.2 579.3h0.9v0.9h-0.9zM208.3 580.2h0.9v0.9h-0.9zM204.5 581.9h0.9v0.9h-0.9zM199.8 590.1h0.9v0.9h-0.9zM204.4 599.4h0.9v0.9h-0.9zM207.1 596.0h0.9v0.9h-0.9zM205.3 596.8h0.9v0.9h-0.9zM205.0 572.8h0.9v0.9h-0.9zM204.2 576.3h0.9v0.9h-0.9zM203.5 589.1h0.9v0.9h-0.9zM211.3 593.8h0.9v0.9h-0.9zM205.9 571.5h0.9v0.9h-0.9zM212.7 590.2h0.9v0.9h-0.9zM201.1 595.5h0.9v0.9h-0.9zM202.9 593.2h0.9v0.9h-0.9zM209.0 598.4h0.9v0.9h-0.9zM206.6 582.1h0.9v0.9h-0.9zM205.4 600.6h0.9v0.9h-0.9zM202.0 602.3h0.9v0.9h-0.9zM209.4 591.6h0.9v0.9h-0.9zM208.2 590.4h0.9v0.9h-0.9zM207.6 591.1h0.9v0.9h-0.9zM201.5 578.6h0.9v0.9h-0.9zM209.7 595.9h0.9v0.9h-0.9zM209.4 580.5h0.9v0.9h-0.9zM201.6 596.3h0.9v0.9h-0.9zM200.3 566.6h0.9v0.9h-0.9zM203.1 568.9h0.9v0.9h-0.9zM200.4 587.3h0.9v0.9h-0.9zM202.5 577.0h0.9v0.9h-0.9zM205.4 580.6h0.9v0.9h-0.9zM209.9 587.1h0.9v0.9h-0.9zM210.9 585.7h0.9v0.9h-0.9zM202.0 569.9h0.9v0.9h-0.9zM202.0 559.1h0.9v0.9h-0.9zM200.8 567.0h0.9v0.9h-0.9zM212.2 593.0h0.9v0.9h-0.9zM201.9 560.2h0.9v0.9h-0.9zM201.7 595.3h0.9v0.9h-0.9zM209.9 589.7h0.9v0.9h-0.9zM204.1 575.0h0.9v0.9h-0.9zM200.8 588.8h0.9v0.9h-0.9zM202.1 566.2h0.9v0.9h-0.9zM200.5 563.8h0.9v0.9h-0.9zM205.4 577.5h0.9v0.9h-0.9zM201.0 565.9h0.9v0.9h-0.9zM204.5 583.1h0.9v0.9h-0.9zM205.7 588.9h0.9v0.9h-0.9zM200.5 570.5h0.9v0.9h-0.9zM201.0 577.3h0.9v0.9h-0.9zM201.9 583.6h0.9v0.9h-0.9zM201.1 589.5h0.9v0.9h-0.9zM202.4 562.0h0.9v0.9h-0.9zM205.0 577.4h0.9v0.9h-0.9zM202.2 599.9h0.9v0.9h-0.9zM205.2 581.7h0.9v0.9h-0.9zM200.4 570.7h0.9v0.9h-0.9zM200.2 574.5h0.9v0.9h-0.9zM203.9 574.7h0.9v0.9h-0.9zM207.6 602.0h0.9v0.9h-0.9zM207.6 579.7h0.9v0.9h-0.9zM211.4 587.8h0.9v0.9h-0.9zM205.4 580.2h0.9v0.9h-0.9zM207.9 594.1h0.9v0.9h-0.9zM205.0 584.6h0.9v0.9h-0.9zM202.5 592.4h0.9v0.9h-0.9zM201.5 592.2h0.9v0.9h-0.9zM207.0 595.9h0.9v0.9h-0.9zM204.0 569.4h0.9v0.9h-0.9zM206.8 600.7h0.9v0.9h-0.9zM201.4 560.4h0.9v0.9h-0.9zM210.9 590.9h0.9v0.9h-0.9zM210.5 599.7h0.9v0.9h-0.9zM201.0 561.8h0.9v0.9h-0.9zM205.6 601.7h0.9v0.9h-0.9zM208.5 599.9h0.9v0.9h-0.9zM210.0 588.7h0.9v0.9h-0.9zM200.0 582.5h0.9v0.9h-0.9zM200.2 591.7h0.9v0.9h-0.9zM201.2 601.0h0.9v0.9h-0.9zM208.4 586.2h0.9v0.9h-0.9zM206.7 579.8h0.9v0.9h-0.9zM207.4 576.2h0.9v0.9h-0.9zM200.9 595.2h0.9v0.9h-0.9zM202.7 570.1h0.9v0.9h-0.9zM209.3 584.2h0.9v0.9h-0.9zM210.2 588.6h0.9v0.9h-0.9zM211.5 593.7h0.9v0.9h-0.9zM203.4 592.1h0.9v0.9h-0.9zM202.5 592.0h0.9v0.9h-0.9zM202.6 588.9h0.9v0.9h-0.9zM201.2 575.8h0.9v0.9h-0.9zM203.4 585.7h0.9v0.9h-0.9zM203.9 565.4h0.9v0.9h-0.9zM209.0 594.5h0.9v0.9h-0.9zM201.3 601.2h0.9v0.9h-0.9zM206.9 588.3h0.9v0.9h-0.9zM201.3 590.8h0.9v0.9h-0.9zM206.7 583.8h0.9v0.9h-0.9zM206.7 603.3h0.9v0.9h-0.9zM213.2 591.8h0.9v0.9h-0.9zM205.6 602.0h0.9v0.9h-0.9zM212.2 588.8h0.9v0.9h-0.9zM207.4 587.8h0.9v0.9h-0.9zM200.1 579.8h0.9v0.9h-0.9zM201.5 601.4h0.9v0.9h-0.9zM212.8 594.4h0.9v0.9h-0.9zM200.1 594.4h0.9v0.9h-0.9zM199.6 575.5h0.9v0.9h-0.9zM201.2 566.8h0.9v0.9h-0.9zM201.9 562.1h0.9v0.9h-0.9zM210.2 587.4h0.9v0.9h-0.9zM207.8 593.9h0.9v0.9h-0.9zM200.6 589.8h0.9v0.9h-0.9zM204.0 564.6h0.9v0.9h-0.9zM201.7 562.2h0.9v0.9h-0.9zM207.6 579.3h0.9v0.9h-0.9zM208.6 601.0h0.9v0.9h-0.9zM200.7 577.9h0.9v0.9h-0.9zM203.2 566.8h0.9v0.9h-0.9zM202.4 594.3h0.9v0.9h-0.9zM202.2 595.8h0.9v0.9h-0.9zM203.4 592.3h0.9v0.9h-0.9zM206.3 599.5h0.9v0.9h-0.9zM206.0 593.0h0.9v0.9h-0.9zM200.9 571.0h0.9v0.9h-0.9zM200.3 571.2h0.9v0.9h-0.9zM200.7 593.7h0.9v0.9h-0.9zM202.7 585.6h0.9v0.9h-0.9zM200.0 586.7h0.9v0.9h-0.9zM206.4 599.0h0.9v0.9h-0.9zM209.5 594.8h0.9v0.9h-0.9zM203.9 602.2h0.9v0.9h-0.9zM199.6 562.9h0.9v0.9h-0.9zM201.8 587.1h0.9v0.9h-0.9zM207.6 590.0h0.9v0.9h-0.9zM205.9 576.8h0.9v0.9h-0.9zM210.5 590.0h0.9v0.9h-0.9zM207.2 575.3h0.9v0.9h-0.9zM201.7 594.7h0.9v0.9h-0.9zM199.9 603.2h0.9v0.9h-0.9zM211.7 593.4h0.9v0.9h-0.9zM208.9 582.9h0.9v0.9h-0.9zM213.0 592.7h0.9v0.9h-0.9zM203.2 569.8h0.9v0.9h-0.9zM211.7 587.6h0.9v0.9h-0.9zM207.9 595.4h0.9v0.9h-0.9zM201.2 587.1h0.9v0.9h-0.9zM201.6 597.0h0.9v0.9h-0.9zM204.8 585.4h0.9v0.9h-0.9zM209.4 598.0h0.9v0.9h-0.9zM200.1 581.0h0.9v0.9h-0.9zM204.4 589.2h0.9v0.9h-0.9zM205.2 602.2h0.9v0.9h-0.9zM205.9 592.3h0.9v0.9h-0.9zM206.6 579.2h0.9v0.9h-0.9zM205.7 601.5h0.9v0.9h-0.9zM201.8 585.3h0.9v0.9h-0.9zM207.9 587.1h0.9v0.9h-0.9z" fill="#222" fill-opacity="0.55"/>
<path d="M202.3 565.8h0.9v0.9h-0.9zM204.0 572.6h0.9v0.9h-0.9zM208.9 589.9h0.9v0.9h-0.9zM202.0 588.7h0.9v0.9h-0.9zM205.8 582.6h0.9v0.9h-0.9zM200.0 574.0h0.9v0.9h-0.9zM201.8 571.8h0.9v0.9h-0.9zM202.4 595.6h0.9v0.9h-0.9zM204.0 572.8h0.9v0.9h-0.9zM200.7 594.0h0.9v0.9h-0.9zM203.5 567.2h0.9v0.9h-0.9zM199.8 600.9h0.9v0.9h-0.9zM204.3 587.0h0.9v0.9h-0.9zM202.1 584.0h0.9v0.9h-0.9zM206.8 590.0h0.9v0.9h-0.9zM203.8 570.0h0.9v0.9h-0.9zM202.3 583.1h0.9v0.9h-0.9zM204.8 598.5h0.9v0.9h-0.9zM203.5 602.7h0.9v0.9h-0.9zM204.5 598.4h0.9v0.9h-0.9zM204.4 572.7h0.9v0.9h-0.9zM206.9 583.7h0.9v0.9h-0.9zM200.5 565.3h0.9v0.9h-0.9zM204.0 576.1h0.9v0.9h-0.9zM210.4 588.1h0.9v0.9h-0.9zM207.7 581.3h0.9v0.9h-0.9zM202.5 576.6h0.9v0.9h-0.9zM201.7 582.4h0.9v0.9h-0.9zM208.2 589.3h0.9v0.9h-0.9zM205.1 600.7h0.9v0.9h-0.9zM204.4 577.7h0.9v0.9h-0.9zM208.0 602.6h0.9v0.9h-0.9zM206.0 582.8h0.9v0.9h-0.9zM200.7 599.3h0.9v0.9h-0.9zM201.1 566.5h0.9v0.9h-0.9zM202.6 573.3h0.9v0.9h-0.9zM201.2 571.3h0.9v0.9h-0.9zM206.7 576.2h0.9v0.9h-0.9zM202.3 579.8h0.9v0.9h-0.9zM207.2 575.7h0.9v0.9h-0.9zM199.9 571.3h0.9v0.9h-0.9zM206.5 598.8h0.9v0.9h-0.9zM201.4 573.4h0.9v0.9h-0.9zM204.7 581.9h0.9v0.9h-0.9zM205.5 577.4h0.9v0.9h-0.9zM200.6 565.3h0.9v0.9h-0.9zM206.4 572.5h0.9v0.9h-0.9zM204.0 578.0h0.9v0.9h-0.9zM201.8 578.8h0.9v0.9h-0.9zM211.4 590.0h0.9v0.9h-0.9zM205.0 598.9h0.9v0.9h-0.9zM208.3 590.3h0.9v0.9h-0.9zM201.9 602.4h0.9v0.9h-0.9zM203.8 564.4h0.9v0.9h-0.9zM201.2 587.0h0.9v0.9h-0.9zM203.8 567.2h0.9v0.9h-0.9zM200.3 577.1h0.9v0.9h-0.9zM207.3 598.1h0.9v0.9h-0.9zM207.2 591.5h0.9v0.9h-0.9zM200.9 577.9h0.9v0.9h-0.9zM205.4 592.7h0.9v0.9h-0.9zM206.3 580.1h0.9v0.9h-0.9zM202.8 598.1h0.9v0.9h-0.9zM211.4 593.2h0.9v0.9h-0.9zM204.7 572.7h0.9v0.9h-0.9zM206.5 593.5h0.9v0.9h-0.9zM202.4 602.7h0.9v0.9h-0.9zM202.7 599.7h0.9v0.9h-0.9zM204.7 593.8h0.9v0.9h-0.9zM205.0 586.7h0.9v0.9h-0.9zM209.1 581.7h0.9v0.9h-0.9zM206.0 603.2h0.9v0.9h-0.9zM207.9 596.5h0.9v0.9h-0.9zM210.7 587.2h0.9v0.9h-0.9zM201.0 603.0h0.9v0.9h-0.9zM205.0 588.5h0.9v0.9h-0.9zM203.3 599.8h0.9v0.9h-0.9zM199.6 588.8h0.9v0.9h-0.9zM200.2 563.0h0.9v0.9h-0.9zM201.6 594.6h0.9v0.9h-0.9zM209.8 586.4h0.9v0.9h-0.9zM202.7 591.0h0.9v0.9h-0.9zM201.8 576.1h0.9v0.9h-0.9zM206.1 574.0h0.9v0.9h-0.9zM208.6 589.7h0.9v0.9h-0.9zM206.2 592.8h0.9v0.9h-0.9zM202.5 595.6h0.9v0.9h-0.9zM205.4 572.4h0.9v0.9h-0.9zM201.8 576.8h0.9v0.9h-0.9zM201.3 586.4h0.9v0.9h-0.9z" fill="#fff" fill-opacity="0.7"/>
<path d="M222.6 598.8h0.9v0.9h-0.9zM224.2 579.1h0.9v0.9h-0.9zM225.5 571.7h0.9v0.9h-0.9zM224.9 600.2h0.9v0.9h-0.9zM222.5 586.6h0.9v0.9h-0.9zM221.8 580.5h0.9v0.9h-0.9zM220.9 592.1h0.9v0.9h-0.9zM224.3 578.9h0.9v0.9h-0.9zM225.3 592.1h0.9v0.9h-0.9zM220.9 594.7h0.9v0.9h-0.9zM226.1 602.5h0.9v0.9h-0.9zM219.3 593.1h0.9v0.9h-0.9zM221.7 584.3h0.9v0.9h-0.9zM230.5 561.2h0.9v0.9h-0.9zM227.0 577.4h0.9v0.9h-0.9zM222.7 590.5h0.9v0.9h-0.9zM224.3 574.5h0.9v0.9h-0.9zM223.2 575.4h0.9v0.9h-0.9zM224.3 600.9h0.9v0.9h-0.9zM222.5 598.3h0.9v0.9h-0.9zM225.7 596.9h0.9v0.9h-0.9zM219.6 596.3h0.9v0.9h-0.9zM226.8 602.8h0.9v0.9h-0.9zM219.8 590.2h0.9v0.9h-0.9zM227.7 586.9h0.9v0.9h-0.9zM226.9 600.2h0.9v0.9h-0.9zM228.4 567.4h0.9v0.9h-0.9zM228.0 578.4h0.9v0.9h-0.9zM225.2 586.2h0.9v0.9h-0.9zM228.9 570.8h0.9v0.9h-0.9zM225.3 573.1h0.9v0.9h-0.9zM222.7 580.8h0.9v0.9h-0.9zM224.4 591.3h0.9v0.9h-0.9zM226.2 569.5h0.9v0.9h-0.9zM222.3 577.0h0.9v0.9h-0.9zM229.5 560.5h0.9v0.9h-0.9zM221.9 591.9h0.9v0.9h-0.9zM221.6 603.0h0.9v0.9h-0.9zM225.2 578.5h0.9v0.9h-0.9zM224.4 590.0h0.9v0.9h-0.9zM227.9 571.3h0.9v0.9h-0.9zM226.0 589.3h0.9v0.9h-0.9zM229.0 567.7h0.9v0.9h-0.9zM226.2 585.3h0.9v0.9h-0.9zM228.8 559.8h0.9v0.9h-0.9zM229.2 565.8h0.9v0.9h-0.9zM227.9 560.5h0.9v0.9h-0.9zM226.6 569.4h0.9v0.9h-0.9zM222.0 589.6h0.9v0.9h-0.9zM223.4 597.7h0.9v0.9h-0.9zM224.3 594.4h0.9v0.9h-0.9zM219.5 588.0h0.9v0.9h-0.9zM222.1 596.2h0.9v0.9h-0.9zM223.7 573.3h0.9v0.9h-0.9zM227.2 572.4h0.9v0.9h-0.9zM220.1 595.1h0.9v0.9h-0.9zM225.0 593.8h0.9v0.9h-0.9zM229.3 561.3h0.9v0.9h-0.9zM225.5 570.1h0.9v0.9h-0.9zM221.1 581.0h0.9v0.9h-0.9zM219.6 594.0h0.9v0.9h-0.9zM219.9 591.7h0.9v0.9h-0.9zM227.1 591.8h0.9v0.9h-0.9zM225.4 578.2h0.9v0.9h-0.9zM220.5 595.1h0.9v0.9h-0.9zM227.1 587.4h0.9v0.9h-0.9zM225.7 597.2h0.9v0.9h-0.9zM223.6 599.5h0.9v0.9h-0.9zM224.9 578.3h0.9v0.9h-0.9zM220.3 589.3h0.9v0.9h-0.9zM227.0 567.0h0.9v0.9h-0.9zM220.4 594.3h0.9v0.9h-0.9zM228.4 572.9h0.9v0.9h-0.9zM219.7 586.2h0.9v0.9h-0.9zM226.7 576.0h0.9v0.9h-0.9zM222.6 586.6h0.9v0.9h-0.9zM221.8 589.5h0.9v0.9h-0.9zM227.1 601.0h0.9v0.9h-0.9zM228.7 572.5h0.9v0.9h-0.9zM223.8 596.4h0.9v0.9h-0.9zM226.4 581.5h0.9v0.9h-0.9zM226.0 577.6h0.9v0.9h-0.9zM227.1 600.6h0.9v0.9h-0.9zM223.0 600.0h0.9v0.9h-0.9zM227.9 564.5h0.9v0.9h-0.9zM229.3 559.8h0.9v0.9h-0.9zM220.4 598.5h0.9v0.9h-0.9zM221.4 583.9h0.9v0.9h-0.9zM228.5 558.7h0.9v0.9h-0.9zM223.9 589.8h0.9v0.9h-0.9zM223.7 595.7h0.9v0.9h-0.9zM222.1 594.3h0.9v0.9h-0.9zM226.4 589.0h0.9v0.9h-0.9zM222.3 578.1h0.9v0.9h-0.9zM223.9 576.2h0.9v0.9h-0.9zM218.5 592.9h0.9v0.9h-0.9zM219.1 591.9h0.9v0.9h-0.9zM223.3 586.7h0.9v0.9h-0.9zM225.5 576.3h0.9v0.9h-0.9zM222.3 580.9h0.9v0.9h-0.9zM224.5 600.2h0.9v0.9h-0.9zM224.5 575.0h0.9v0.9h-0.9zM227.5 592.9h0.9v0.9h-0.9zM221.5 599.6h0.9v0.9h-0.9zM218.9 592.3h0.9v0.9h-0.9zM229.3 562.2h0.9v0.9h-0.9zM226.6 570.0h0.9v0.9h-0.9zM223.7 583.0h0.9v0.9h-0.9zM225.4 601.4h0.9v0.9h-0.9zM224.2 599.0h0.9v0.9h-0.9zM224.5 601.4h0.9v0.9h-0.9zM228.0 580.8h0.9v0.9h-0.9zM224.8 589.0h0.9v0.9h-0.9zM229.7 562.6h0.9v0.9h-0.9zM229.6 564.7h0.9v0.9h-0.9zM221.6 589.9h0.9v0.9h-0.9zM221.3 596.0h0.9v0.9h-0.9zM227.0 568.6h0.9v0.9h-0.9zM225.7 580.0h0.9v0.9h-0.9zM226.0 580.4h0.9v0.9h-0.9zM222.3 584.8h0.9v0.9h-0.9zM226.1 592.1h0.9v0.9h-0.9zM228.0 574.1h0.9v0.9h-0.9zM218.2 591.6h0.9v0.9h-0.9zM227.2 582.0h0.9v0.9h-0.9zM222.2 591.4h0.9v0.9h-0.9zM225.4 593.2h0.9v0.9h-0.9zM222.7 586.9h0.9v0.9h-0.9zM228.2 573.7h0.9v0.9h-0.9zM227.7 588.5h0.9v0.9h-0.9zM224.7 578.8h0.9v0.9h-0.9zM218.6 592.4h0.9v0.9h-0.9zM221.4 600.6h0.9v0.9h-0.9zM225.9 581.4h0.9v0.9h-0.9zM222.0 586.5h0.9v0.9h-0.9zM220.2 584.5h0.9v0.9h-0.9zM223.4 580.4h0.9v0.9h-0.9zM226.4 585.7h0.9v0.9h-0.9zM226.0 571.6h0.9v0.9h-0.9zM224.8 588.1h0.9v0.9h-0.9zM221.3 585.0h0.9v0.9h-0.9zM222.0 594.0h0.9v0.9h-0.9zM227.7 584.7h0.9v0.9h-0.9zM223.7 574.5h0.9v0.9h-0.9zM229.3 562.8h0.9v0.9h-0.9zM229.0 570.1h0.9v0.9h-0.9zM225.3 571.5h0.9v0.9h-0.9zM219.1 593.8h0.9v0.9h-0.9zM225.7 574.0h0.9v0.9h-0.9zM225.0 574.8h0.9v0.9h-0.9zM219.6 594.4h0.9v0.9h-0.9zM218.4 592.1h0.9v0.9h-0.9zM225.6 585.1h0.9v0.9h-0.9zM223.8 593.9h0.9v0.9h-0.9zM221.0 597.4h0.9v0.9h-0.9zM228.2 579.2h0.9v0.9h-0.9zM222.4 580.7h0.9v0.9h-0.9zM229.3 560.7h0.9v0.9h-0.9zM219.8 587.2h0.9v0.9h-0.9zM227.9 583.7h0.9v0.9h-0.9zM227.1 571.8h0.9v0.9h-0.9zM223.8 575.5h0.9v0.9h-0.9zM228.3 568.8h0.9v0.9h-0.9zM227.3 584.2h0.9v0.9h-0.9zM228.4 566.9h0.9v0.9h-0.9zM226.1 601.1h0.9v0.9h-0.9zM221.3 587.0h0.9v0.9h-0.9zM224.6 582.9h0.9v0.9h-0.9zM219.8 590.2h0.9v0.9h-0.9zM226.1 570.3h0.9v0.9h-0.9zM225.2 568.5h0.9v0.9h-0.9zM221.2 599.0h0.9v0.9h-0.9zM221.5 596.6h0.9v0.9h-0.9zM227.3 580.3h0.9v0.9h-0.9zM227.8 571.3h0.9v0.9h-0.9zM227.5 581.5h0.9v0.9h-0.9zM224.5 585.9h0.9v0.9h-0.9zM225.0 572.9h0.9v0.9h-0.9zM226.6 574.4h0.9v0.9h-0.9zM219.9 590.7h0.9v0.9h-0.9zM226.5 591.3h0.9v0.9h-0.9zM224.9 587.8h0.9v0.9h-0.9zM219.3 595.6h0.9v0.9h-0.9zM222.2 599.2h0.9v0.9h-0.9zM227.9 585.0h0.9v0.9h-0.9zM223.1 578.8h0.9v0.9h-0.9zM222.7 599.1h0.9v0.9h-0.9zM224.5 584.3h0.9v0.9h-0.9zM221.2 599.3h0.9v0.9h-0.9zM223.6 587.5h0.9v0.9h-0.9zM221.3 598.6h0.9v0.9h-0.9zM223.6 595.8h0.9v0.9h-0.9zM224.7 578.4h0.9v0.9h-0.9zM223.5 588.7h0.9v0.9h-0.9zM223.3 598.2h0.9v0.9h-0.9zM224.6 575.1h0.9v0.9h-0.9zM221.1 584.7h0.9v0.9h-0.9zM227.6 584.8h0.9v0.9h-0.9zM225.4 570.2h0.9v0.9h-0.9zM223.5 602.1h0.9v0.9h-0.9zM224.1 586.5h0.9v0.9h-0.9zM222.7 587.6h0.9v0.9h-0.9zM223.5 576.2h0.9v0.9h-0.9zM228.7 558.8h0.9v0.9h-0.9zM224.9 592.7h0.9v0.9h-0.9zM219.0 593.2h0.9v0.9h-0.9zM227.8 577.8h0.9v0.9h-0.9zM222.8 585.2h0.9v0.9h-0.9zM221.4 588.9h0.9v0.9h-0.9zM223.2 592.7h0.9v0.9h-0.9zM226.4 599.1h0.9v0.9h-0.9zM222.3 596.3h0.9v0.9h-0.9zM228.8 567.6h0.9v0.9h-0.9zM224.2 597.9h0.9v0.9h-0.9zM223.5 583.1h0.9v0.9h-0.9zM224.7 594.6h0.9v0.9h-0.9zM226.5 585.7h0.9v0.9h-0.9zM225.3 571.8h0.9v0.9h-0.9zM223.6 578.0h0.9v0.9h-0.9zM218.7 592.1h0.9v0.9h-0.9zM221.7 584.6h0.9v0.9h-0.9zM225.7 570.7h0.9v0.9h-0.9zM221.7 585.2h0.9v0.9h-0.9zM220.6 589.7h0.9v0.9h-0.9zM226.9 602.5h0.9v0.9h-0.9zM226.4 568.3h0.9v0.9h-0.9zM227.0 579.1h0.9v0.9h-0.9zM227.7 563.6h0.9v0.9h-0.9zM222.0 588.6h0.9v0.9h-0.9zM223.8 603.0h0.9v0.9h-0.9zM225.3 580.1h0.9v0.9h-0.9zM229.6 562.8h0.9v0.9h-0.9zM221.2 591.5h0.9v0.9h-0.9zM229.1 565.3h0.9v0.9h-0.9zM227.7 589.3h0.9v0.9h-0.9zM219.7 594.7h0.9v0.9h-0.9zM222.0 579.4h0.9v0.9h-0.9zM228.0 573.6h0.9v0.9h-0.9zM226.9 584.3h0.9v0.9h-0.9zM224.7 581.8h0.9v0.9h-0.9zM226.4 593.7h0.9v0.9h-0.9zM221.3 587.0h0.9v0.9h-0.9zM223.3 578.1h0.9v0.9h-0.9zM222.6 577.0h0.9v0.9h-0.9zM226.3 579.1h0.9v0.9h-0.9zM228.2 561.9h0.9v0.9h-0.9zM226.3 569.4h0.9v0.9h-0.9zM224.6 581.8h0.9v0.9h-0.9zM221.3 580.8h0.9v0.9h-0.9zM227.3 562.9h0.9v0.9h-0.9zM226.2 592.2h0.9v0.9h-0.9zM229.2 570.2h0.9v0.9h-0.9zM223.7 585.3h0.9v0.9h-0.9zM227.8 568.8h0.9v0.9h-0.9zM226.2 579.9h0.9v0.9h-0.9zM224.2 588.9h0.9v0.9h-0.9zM221.4 602.0h0.9v0.9h-0.9zM225.4 599.3h0.9v0.9h-0.9zM224.0 580.8h0.9v0.9h-0.9zM224.0 599.1h0.9v0.9h-0.9zM222.7 576.5h0.9v0.9h-0.9zM221.1 593.9h0.9v0.9h-0.9zM226.9 588.4h0.9v0.9h-0.9zM225.1 591.8h0.9v0.9h-0.9zM225.0 580.5h0.9v0.9h-0.9zM225.9 575.4h0.9v0.9h-0.9zM228.4 560.6h0.9v0.9h-0.9zM222.0 579.9h0.9v0.9h-0.9zM222.9 585.4h0.9v0.9h-0.9zM223.2 582.7h0.9v0.9h-0.9zM220.9 591.8h0.9v0.9h-0.9zM219.1 595.2h0.9v0.9h-0.9zM223.0 586.5h0.9v0.9h-0.9zM228.1 576.8h0.9v0.9h-0.9zM221.8 585.1h0.9v0.9h-0.9zM221.7 602.1h0.9v0.9h-0.9zM230.2 563.4h0.9v0.9h-0.9zM229.1 565.3h0.9v0.9h-0.9zM222.3 580.2h0.9v0.9h-0.9zM225.3 599.6h0.9v0.9h-0.9zM221.1 590.7h0.9v0.9h-0.9zM226.0 575.5h0.9v0.9h-0.9zM224.5 593.7h0.9v0.9h-0.9zM225.7 591.9h0.9v0.9h-0.9zM226.4 592.6h0.9v0.9h-0.9zM219.7 589.7h0.9v0.9h-0.9zM224.7 580.4h0.9v0.9h-0.9zM221.1 588.2h0.9v0.9h-0.9zM226.0 591.8h0.9v0.9h-0.9zM222.9 575.4h0.9v0.9h-0.9zM221.6 580.7h0.9v0.9h-0.9zM225.0 583.0h0.9v0.9h-0.9zM222.4 594.6h0.9v0.9h-0.9zM224.6 583.1h0.9v0.9h-0.9zM225.9 570.5h0.9v0.9h-0.9zM224.3 576.2h0.9v0.9h-0.9zM228.5 569.0h0.9v0.9h-0.9zM222.0 583.5h0.9v0.9h-0.9zM225.1 572.6h0.9v0.9h-0.9zM223.6 580.3h0.9v0.9h-0.9zM223.8 584.8h0.9v0.9h-0.9zM221.3 581.3h0.9v0.9h-0.9zM220.4 592.8h0.9v0.9h-0.9zM223.7 572.5h0.9v0.9h-0.9zM222.9 594.9h0.9v0.9h-0.9zM227.3 591.5h0.9v0.9h-0.9zM225.3 583.9h0.9v0.9h-0.9zM221.8 578.8h0.9v0.9h-0.9zM229.8 561.3h0.9v0.9h-0.9zM224.1 571.9h0.9v0.9h-0.9zM224.9 584.9h0.9v0.9h-0.9zM227.4 597.1h0.9v0.9h-0.9zM223.4 592.4h0.9v0.9h-0.9zM227.8 572.3h0.9v0.9h-0.9zM222.2 589.0h0.9v0.9h-0.9zM228.5 563.6h0.9v0.9h-0.9zM228.6 569.4h0.9v0.9h-0.9zM226.6 572.2h0.9v0.9h-0.9zM226.3 602.5h0.9v0.9h-0.9zM219.4 589.3h0.9v0.9h-0.9zM224.9 574.0h0.9v0.9h-0.9zM227.0 569.2h0.9v0.9h-0.9zM226.9 581.4h0.9v0.9h-0.9zM223.6 592.9h0.9v0.9h-0.9zM229.9 566.1h0.9v0.9h-0.9zM220.7 594.4h0.9v0.9h-0.9zM223.4 579.9h0.9v0.9h-0.9zM226.1 588.8h0.9v0.9h-0.9zM224.3 586.1h0.9v0.9h-0.9zM221.2 580.2h0.9v0.9h-0.9zM223.1 583.8h0.9v0.9h-0.9zM228.3 563.7h0.9v0.9h-0.9zM221.8 578.3h0.9v0.9h-0.9zM228.1 565.0h0.9v0.9h-0.9zM222.3 594.6h0.9v0.9h-0.9zM228.7 558.6h0.9v0.9h-0.9zM220.0 586.5h0.9v0.9h-0.9zM226.5 578.7h0.9v0.9h-0.9zM225.6 581.1h0.9v0.9h-0.9zM225.8 576.4h0.9v0.9h-0.9zM227.0 600.9h0.9v0.9h-0.9zM222.1 588.8h0.9v0.9h-0.9zM221.5 595.9h0.9v0.9h-0.9zM227.8 585.4h0.9v0.9h-0.9zM224.6 570.0h0.9v0.9h-0.9zM227.2 598.5h0.9v0.9h-0.9zM224.3 578.9h0.9v0.9h-0.9zM225.2 587.7h0.9v0.9h-0.9zM226.8 570.5h0.9v0.9h-0.9zM224.1 590.7h0.9v0.9h-0.9zM225.0 598.9h0.9v0.9h-0.9zM223.4 598.9h0.9v0.9h-0.9zM226.2 587.0h0.9v0.9h-0.9zM221.1 588.7h0.9v0.9h-0.9zM227.7 565.7h0.9v0.9h-0.9zM225.5 576.6h0.9v0.9h-0.9zM224.4 591.2h0.9v0.9h-0.9zM225.1 586.7h0.9v0.9h-0.9zM227.1 575.3h0.9v0.9h-0.9zM221.1 591.3h0.9v0.9h-0.9zM228.4 565.8h0.9v0.9h-0.9zM224.4 574.3h0.9v0.9h-0.9zM221.4 581.0h0.9v0.9h-0.9zM227.3 573.0h0.9v0.9h-0.9zM226.0 579.3h0.9v0.9h-0.9zM221.0 599.7h0.9v0.9h-0.9zM229.6 566.7h0.9v0.9h-0.9zM225.1 580.9h0.9v0.9h-0.9zM226.5 598.2h0.9v0.9h-0.9zM219.9 590.4h0.9v0.9h-0.9zM227.7 571.5h0.9v0.9h-0.9zM221.3 579.8h0.9v0.9h-0.9zM229.3 571.5h0.9v0.9h-0.9zM225.7 590.7h0.9v0.9h-0.9zM226.4 592.6h0.9v0.9h-0.9zM225.8 584.3h0.9v0.9h-0.9zM226.9 570.2h0.9v0.9h-0.9zM225.2 582.7h0.9v0.9h-0.9zM227.0 568.9h0.9v0.9h-0.9zM226.4 596.4h0.9v0.9h-0.9zM223.4 599.3h0.9v0.9h-0.9zM222.4 577.2h0.9v0.9h-0.9zM225.8 570.3h0.9v0.9h-0.9zM222.6 576.8h0.9v0.9h-0.9zM223.5 602.6h0.9v0.9h-0.9zM226.8 583.1h0.9v0.9h-0.9zM222.0 597.3h0.9v0.9h-0.9zM220.5 595.3h0.9v0.9h-0.9zM227.3 593.8h0.9v0.9h-0.9zM226.0 579.4h0.9v0.9h-0.9zM223.5 595.0h0.9v0.9h-0.9zM225.0 589.0h0.9v0.9h-0.9zM225.1 572.2h0.9v0.9h-0.9zM221.8 602.3h0.9v0.9h-0.9zM224.4 579.4h0.9v0.9h-0.9zM226.3 585.5h0.9v0.9h-0.9zM220.4 594.3h0.9v0.9h-0.9zM218.7 591.2h0.9v0.9h-0.9zM221.4 589.8h0.9v0.9h-0.9zM221.0 601.2h0.9v0.9h-0.9zM225.8 580.4h0.9v0.9h-0.9zM226.1 588.7h0.9v0.9h-0.9zM219.7 595.6h0.9v0.9h-0.9zM228.3 573.0h0.9v0.9h-0.9zM225.0 597.9h0.9v0.9h-0.9zM223.5 584.1h0.9v0.9h-0.9zM225.4 570.2h0.9v0.9h-0.9zM225.6 575.1h0.9v0.9h-0.9zM226.1 583.8h0.9v0.9h-0.9zM226.6 581.5h0.9v0.9h-0.9zM227.4 565.3h0.9v0.9h-0.9zM227.3 581.6h0.9v0.9h-0.9zM223.4 600.8h0.9v0.9h-0.9zM224.5 582.5h0.9v0.9h-0.9zM219.6 592.3h0.9v0.9h-0.9zM224.7 585.4h0.9v0.9h-0.9zM225.9 580.6h0.9v0.9h-0.9zM226.1 581.0h0.9v0.9h-0.9zM225.3 597.3h0.9v0.9h-0.9zM225.8 593.7h0.9v0.9h-0.9z" fill="#222" fill-opacity="0.55"/>
<path d="M226.0 578.3h0.9v0.9h-0.9zM228.8 567.2h0.9v0.9h-0.9zM220.4 593.6h0.9v0.9h-0.9zM221.1 581.4h0.9v0.9h-0.9zM221.1 593.5h0.9v0.9h-0.9zM229.7 563.5h0.9v0.9h-0.9zM225.4 591.9h0.9v0.9h-0.9zM224.8 580.1h0.9v0.9h-0.9zM226.8 593.9h0.9v0.9h-0.9zM220.3 597.0h0.9v0.9h-0.9zM225.6 589.1h0.9v0.9h-0.9zM225.8 576.6h0.9v0.9h-0.9zM223.9 575.8h0.9v0.9h-0.9zM229.0 561.6h0.9v0.9h-0.9zM223.7 585.5h0.9v0.9h-0.9zM220.6 586.9h0.9v0.9h-0.9zM227.4 594.2h0.9v0.9h-0.9zM222.5 583.5h0.9v0.9h-0.9zM221.4 591.8h0.9v0.9h-0.9zM223.5 594.6h0.9v0.9h-0.9zM227.9 577.8h0.9v0.9h-0.9zM219.3 594.1h0.9v0.9h-0.9zM226.7 563.9h0.9v0.9h-0.9zM226.7 565.4h0.9v0.9h-0.9zM225.5 598.1h0.9v0.9h-0.9zM220.5 596.0h0.9v0.9h-0.9zM225.5 598.3h0.9v0.9h-0.9zM225.3 568.1h0.9v0.9h-0.9zM218.8 590.1h0.9v0.9h-0.9zM219.3 591.9h0.9v0.9h-0.9zM223.2 590.8h0.9v0.9h-0.9zM220.6 599.1h0.9v0.9h-0.9zM224.9 583.3h0.9v0.9h-0.9zM221.4 599.2h0.9v0.9h-0.9zM223.5 594.1h0.9v0.9h-0.9zM225.4 586.4h0.9v0.9h-0.9zM220.5 599.9h0.9v0.9h-0.9zM222.1 578.6h0.9v0.9h-0.9zM223.7 588.8h0.9v0.9h-0.9zM225.2 590.9h0.9v0.9h-0.9zM230.2 560.8h0.9v0.9h-0.9zM218.2 591.4h0.9v0.9h-0.9zM225.8 582.2h0.9v0.9h-0.9zM226.2 583.2h0.9v0.9h-0.9zM226.3 592.3h0.9v0.9h-0.9zM229.0 570.7h0.9v0.9h-0.9zM224.3 583.3h0.9v0.9h-0.9zM226.1 578.0h0.9v0.9h-0.9zM226.7 571.7h0.9v0.9h-0.9zM227.1 573.0h0.9v0.9h-0.9zM229.1 562.1h0.9v0.9h-0.9zM227.3 582.9h0.9v0.9h-0.9zM223.9 583.8h0.9v0.9h-0.9zM226.8 589.9h0.9v0.9h-0.9zM222.6 598.9h0.9v0.9h-0.9zM228.3 561.9h0.9v0.9h-0.9zM220.5 594.9h0.9v0.9h-0.9zM225.1 589.6h0.9v0.9h-0.9zM224.8 572.9h0.9v0.9h-0.9zM227.5 584.8h0.9v0.9h-0.9zM226.4 597.3h0.9v0.9h-0.9zM226.3 574.9h0.9v0.9h-0.9zM224.3 590.0h0.9v0.9h-0.9zM228.0 562.4h0.9v0.9h-0.9zM227.7 569.0h0.9v0.9h-0.9zM219.2 593.4h0.9v0.9h-0.9zM229.3 567.3h0.9v0.9h-0.9zM225.1 576.8h0.9v0.9h-0.9zM222.4 599.1h0.9v0.9h-0.9zM228.9 559.1h0.9v0.9h-0.9zM228.9 566.8h0.9v0.9h-0.9zM220.9 582.3h0.9v0.9h-0.9zM222.0 593.6h0.9v0.9h-0.9zM220.6 581.9h0.9v0.9h-0.9zM226.7 578.5h0.9v0.9h-0.9zM226.2 602.1h0.9v0.9h-0.9zM226.1 566.0h0.9v0.9h-0.9zM219.7 592.0h0.9v0.9h-0.9zM221.4 590.0h0.9v0.9h-0.9zM219.5 586.6h0.9v0.9h-0.9zM226.0 583.6h0.9v0.9h-0.9zM218.7 591.3h0.9v0.9h-0.9zM227.2 592.4h0.9v0.9h-0.9zM227.2 597.0h0.9v0.9h-0.9zM227.8 584.6h0.9v0.9h-0.9zM223.3 603.0h0.9v0.9h-0.9zM224.4 577.6h0.9v0.9h-0.9zM221.4 600.5h0.9v0.9h-0.9zM221.7 590.3h0.9v0.9h-0.9zM220.8 598.4h0.9v0.9h-0.9z" fill="#fff" fill-opacity="0.7"/>
<path d="M214.5 549.8h0.9v0.9h-0.9zM230.2 555.5h0.9v0.9h-0.9zM202.6 558.2h0.9v0.9h-0.9zM203.6 559.9h0.9v0.9h-0.9zM214.4 553.0h0.9v0.9h-0.9zM220.2 553.4h0.9v0.9h-0.9zM230.0 559.4h0.9v0.9h-0.9zM201.7 562.2h0.9v0.9h-0.9zM201.5 557.2h0.9v0.9h-0.9zM216.7 550.0h0.9v0.9h-0.9zM216.6 550.5h0.9v0.9h-0.9zM205.1 554.9h0.9v0.9h-0.9zM202.3 557.3h0.9v0.9h-0.9zM211.6 552.0h0.9v0.9h-0.9zM224.9 552.4h0.9v0.9h-0.9zM202.3 556.0h0.9v0.9h-0.9zM220.6 552.4h0.9v0.9h-0.9zM225.9 550.6h0.9v0.9h-0.9zM210.7 554.2h0.9v0.9h-0.9zM226.6 553.9h0.9v0.9h-0.9zM206.9 555.3h0.9v0.9h-0.9zM206.8 554.6h0.9v0.9h-0.9zM221.9 552.6h0.9v0.9h-0.9zM230.0 555.6h0.9v0.9h-0.9zM226.5 555.5h0.9v0.9h-0.9zM226.9 552.7h0.9v0.9h-0.9zM210.2 551.4h0.9v0.9h-0.9zM210.2 554.8h0.9v0.9h-0.9zM210.9 555.4h0.9v0.9h-0.9zM220.9 552.5h0.9v0.9h-0.9zM213.1 550.5h0.9v0.9h-0.9zM215.7 555.1h0.9v0.9h-0.9zM225.8 553.7h0.9v0.9h-0.9zM213.8 551.1h0.9v0.9h-0.9zM229.2 560.9h0.9v0.9h-0.9zM203.5 560.9h0.9v0.9h-0.9zM204.2 555.8h0.9v0.9h-0.9zM200.6 558.4h0.9v0.9h-0.9zM200.3 557.4h0.9v0.9h-0.9zM218.6 555.2h0.9v0.9h-0.9zM223.7 554.2h0.9v0.9h-0.9zM230.5 557.3h0.9v0.9h-0.9zM202.0 563.0h0.9v0.9h-0.9zM222.4 553.7h0.9v0.9h-0.9zM199.3 559.9h0.9v0.9h-0.9zM198.8 561.7h0.9v0.9h-0.9zM212.2 553.6h0.9v0.9h-0.9zM227.7 555.2h0.9v0.9h-0.9zM211.7 553.6h0.9v0.9h-0.9zM208.3 553.3h0.9v0.9h-0.9zM215.7 551.0h0.9v0.9h-0.9zM221.1 556.1h0.9v0.9h-0.9zM227.3 554.2h0.9v0.9h-0.9zM225.9 554.2h0.9v0.9h-0.9zM207.6 553.1h0.9v0.9h-0.9zM203.3 557.2h0.9v0.9h-0.9zM214.3 550.0h0.9v0.9h-0.9zM202.2 558.7h0.9v0.9h-0.9zM229.0 560.3h0.9v0.9h-0.9zM216.9 554.8h0.9v0.9h-0.9zM229.7 559.6h0.9v0.9h-0.9zM201.1 560.3h0.9v0.9h-0.9zM225.6 553.9h0.9v0.9h-0.9zM223.5 552.8h0.9v0.9h-0.9zM209.4 551.3h0.9v0.9h-0.9zM204.9 556.2h0.9v0.9h-0.9zM224.0 551.6h0.9v0.9h-0.9zM214.0 553.6h0.9v0.9h-0.9zM229.6 556.8h0.9v0.9h-0.9zM223.4 553.6h0.9v0.9h-0.9zM216.3 551.3h0.9v0.9h-0.9zM207.9 553.8h0.9v0.9h-0.9zM226.0 551.3h0.9v0.9h-0.9zM225.9 553.6h0.9v0.9h-0.9zM228.8 556.9h0.9v0.9h-0.9zM221.8 552.2h0.9v0.9h-0.9zM207.0 553.9h0.9v0.9h-0.9zM224.8 554.4h0.9v0.9h-0.9zM218.8 553.2h0.9v0.9h-0.9zM214.6 548.3h0.9v0.9h-0.9zM230.1 555.6h0.9v0.9h-0.9zM218.5 553.2h0.9v0.9h-0.9zM225.2 553.2h0.9v0.9h-0.9zM213.1 553.8h0.9v0.9h-0.9zM221.4 551.4h0.9v0.9h-0.9zM215.2 552.3h0.9v0.9h-0.9zM209.0 555.5h0.9v0.9h-0.9zM201.7 558.1h0.9v0.9h-0.9zM211.4 554.5h0.9v0.9h-0.9zM217.8 553.3h0.9v0.9h-0.9zM229.1 558.6h0.9v0.9h-0.9zM228.0 554.9h0.9v0.9h-0.9zM214.9 554.4h0.9v0.9h-0.9zM208.3 553.5h0.9v0.9h-0.9zM221.6 551.6h0.9v0.9h-0.9zM210.9 554.8h0.9v0.9h-0.9zM212.4 551.7h0.9v0.9h-0.9zM228.7 556.9h0.9v0.9h-0.9zM217.7 555.1h0.9v0.9h-0.9zM201.0 554.8h0.9v0.9h-0.9zM204.7 556.1h0.9v0.9h-0.9zM214.4 550.3h0.9v0.9h-0.9zM213.0 550.5h0.9v0.9h-0.9zM227.5 556.6h0.9v0.9h-0.9zM222.6 555.3h0.9v0.9h-0.9zM211.6 554.8h0.9v0.9h-0.9zM198.6 560.1h0.9v0.9h-0.9zM214.7 554.8h0.9v0.9h-0.9zM217.3 554.5h0.9v0.9h-0.9zM222.9 554.4h0.9v0.9h-0.9zM200.1 558.4h0.9v0.9h-0.9zM206.6 555.3h0.9v0.9h-0.9zM217.5 552.1h0.9v0.9h-0.9zM205.6 559.9h0.9v0.9h-0.9zM205.7 557.6h0.9v0.9h-0.9zM224.7 551.2h0.9v0.9h-0.9zM210.8 549.7h0.9v0.9h-0.9zM225.9 550.9h0.9v0.9h-0.9zM211.8 555.3h0.9v0.9h-0.9zM212.3 555.2h0.9v0.9h-0.9zM219.6 552.4h0.9v0.9h-0.9zM202.8 555.8h0.9v0.9h-0.9zM202.0 556.3h0.9v0.9h-0.9zM207.1 552.7h0.9v0.9h-0.9zM209.7 553.6h0.9v0.9h-0.9zM225.4 552.5h0.9v0.9h-0.9zM201.0 558.2h0.9v0.9h-0.9zM203.1 563.0h0.9v0.9h-0.9zM209.3 557.1h0.9v0.9h-0.9zM202.2 556.1h0.9v0.9h-0.9zM226.6 556.2h0.9v0.9h-0.9zM205.2 554.8h0.9v0.9h-0.9zM216.7 551.8h0.9v0.9h-0.9zM212.4 550.4h0.9v0.9h-0.9zM226.9 553.1h0.9v0.9h-0.9zM229.1 559.2h0.9v0.9h-0.9zM202.0 554.7h0.9v0.9h-0.9zM214.0 553.1h0.9v0.9h-0.9zM203.7 560.8h0.9v0.9h-0.9zM199.8 556.2h0.9v0.9h-0.9zM208.8 553.0h0.9v0.9h-0.9zM221.7 550.7h0.9v0.9h-0.9zM203.1 556.5h0.9v0.9h-0.9zM205.5 552.1h0.9v0.9h-0.9zM227.6 556.9h0.9v0.9h-0.9zM201.4 556.8h0.9v0.9h-0.9zM210.5 555.8h0.9v0.9h-0.9zM203.9 557.5h0.9v0.9h-0.9zM202.9 558.3h0.9v0.9h-0.9zM200.2 555.6h0.9v0.9h-0.9zM228.2 553.9h0.9v0.9h-0.9zM212.8 552.8h0.9v0.9h-0.9zM211.6 550.0h0.9v0.9h-0.9zM204.4 560.1h0.9v0.9h-0.9zM215.0 553.2h0.9v0.9h-0.9zM202.4 554.3h0.9v0.9h-0.9zM228.6 555.0h0.9v0.9h-0.9zM211.6 552.0h0.9v0.9h-0.9zM207.8 552.5h0.9v0.9h-0.9zM218.6 553.9h0.9v0.9h-0.9zM228.2 559.7h0.9v0.9h-0.9zM205.0 553.7h0.9v0.9h-0.9zM211.3 552.0h0.9v0.9h-0.9zM216.8 551.4h0.9v0.9h-0.9zM202.8 558.8h0.9v0.9h-0.9zM217.9 552.5h0.9v0.9h-0.9zM203.3 555.3h0.9v0.9h-0.9zM228.2 552.1h0.9v0.9h-0.9zM202.5 557.7h0.9v0.9h-0.9zM214.0 552.5h0.9v0.9h-0.9zM199.8 557.3h0.9v0.9h-0.9zM206.6 555.0h0.9v0.9h-0.9zM205.0 560.0h0.9v0.9h-0.9zM201.1 557.3h0.9v0.9h-0.9zM218.7 550.5h0.9v0.9h-0.9zM228.5 558.8h0.9v0.9h-0.9zM202.5 554.8h0.9v0.9h-0.9zM202.3 558.0h0.9v0.9h-0.9zM205.4 562.0h0.9v0.9h-0.9zM214.7 550.9h0.9v0.9h-0.9zM202.4 555.7h0.9v0.9h-0.9zM228.5 557.8h0.9v0.9h-0.9zM200.1 558.1h0.9v0.9h-0.9zM212.9 554.2h0.9v0.9h-0.9zM227.2 556.2h0.9v0.9h-0.9zM230.3 563.2h0.9v0.9h-0.9zM202.2 555.3h0.9v0.9h-0.9zM200.6 555.6h0.9v0.9h-0.9zM218.5 550.4h0.9v0.9h-0.9zM227.5 554.6h0.9v0.9h-0.9zM199.3 560.8h0.9v0.9h-0.9zM228.6 557.2h0.9v0.9h-0.9zM223.9 553.8h0.9v0.9h-0.9zM204.0 552.4h0.9v0.9h-0.9zM230.3 558.7h0.9v0.9h-0.9zM204.5 559.0h0.9v0.9h-0.9zM226.4 553.9h0.9v0.9h-0.9zM215.4 553.9h0.9v0.9h-0.9zM226.6 555.0h0.9v0.9h-0.9zM230.0 558.4h0.9v0.9h-0.9zM204.0 556.1h0.9v0.9h-0.9zM212.3 554.3h0.9v0.9h-0.9zM208.6 555.1h0.9v0.9h-0.9zM232.0 557.1h0.9v0.9h-0.9zM228.2 557.2h0.9v0.9h-0.9zM202.2 554.3h0.9v0.9h-0.9zM208.6 556.6h0.9v0.9h-0.9zM224.7 551.7h0.9v0.9h-0.9zM216.4 553.0h0.9v0.9h-0.9zM199.5 558.8h0.9v0.9h-0.9zM212.3 555.4h0.9v0.9h-0.9zM216.7 551.4h0.9v0.9h-0.9zM217.4 553.4h0.9v0.9h-0.9zM202.8 556.4h0.9v0.9h-0.9zM207.1 553.1h0.9v0.9h-0.9zM204.4 554.2h0.9v0.9h-0.9zM227.4 555.7h0.9v0.9h-0.9zM222.0 551.8h0.9v0.9h-0.9zM223.1 551.0h0.9v0.9h-0.9zM215.4 550.7h0.9v0.9h-0.9zM222.1 552.1h0.9v0.9h-0.9zM228.8 556.6h0.9v0.9h-0.9zM222.1 553.6h0.9v0.9h-0.9zM210.3 551.3h0.9v0.9h-0.9zM220.5 551.6h0.9v0.9h-0.9zM203.6 555.9h0.9v0.9h-0.9zM200.9 559.3h0.9v0.9h-0.9zM221.5 553.1h0.9v0.9h-0.9zM203.2 559.8h0.9v0.9h-0.9zM228.2 559.3h0.9v0.9h-0.9zM224.3 550.1h0.9v0.9h-0.9zM223.9 556.4h0.9v0.9h-0.9zM213.6 550.5h0.9v0.9h-0.9zM202.0 552.6h0.9v0.9h-0.9zM203.3 554.0h0.9v0.9h-0.9zM214.7 552.3h0.9v0.9h-0.9zM229.1 556.0h0.9v0.9h-0.9zM208.5 555.7h0.9v0.9h-0.9zM228.7 555.1h0.9v0.9h-0.9zM216.0 551.4h0.9v0.9h-0.9zM222.2 553.4h0.9v0.9h-0.9zM204.4 555.3h0.9v0.9h-0.9zM205.0 552.9h0.9v0.9h-0.9zM224.4 549.1h0.9v0.9h-0.9zM225.4 555.2h0.9v0.9h-0.9zM211.4 551.1h0.9v0.9h-0.9zM215.3 551.9h0.9v0.9h-0.9zM200.3 554.6h0.9v0.9h-0.9zM228.4 553.6h0.9v0.9h-0.9zM210.9 553.3h0.9v0.9h-0.9zM206.7 551.7h0.9v0.9h-0.9zM230.7 557.0h0.9v0.9h-0.9zM221.9 548.3h0.9v0.9h-0.9zM209.0 555.3h0.9v0.9h-0.9zM208.9 555.9h0.9v0.9h-0.9zM208.3 556.0h0.9v0.9h-0.9zM202.2 558.4h0.9v0.9h-0.9zM212.0 551.9h0.9v0.9h-0.9zM221.5 551.2h0.9v0.9h-0.9zM222.3 554.5h0.9v0.9h-0.9zM218.5 554.1h0.9v0.9h-0.9zM218.3 553.4h0.9v0.9h-0.9zM212.7 555.0h0.9v0.9h-0.9zM229.8 557.2h0.9v0.9h-0.9zM210.1 555.8h0.9v0.9h-0.9zM227.1 555.4h0.9v0.9h-0.9zM208.4 554.4h0.9v0.9h-0.9zM201.9 559.4h0.9v0.9h-0.9zM229.8 551.8h0.9v0.9h-0.9zM216.9 552.8h0.9v0.9h-0.9zM227.7 562.4h0.9v0.9h-0.9zM225.6 559.5h0.9v0.9h-0.9zM218.2 554.8h0.9v0.9h-0.9zM227.4 556.1h0.9v0.9h-0.9zM202.9 556.7h0.9v0.9h-0.9zM217.4 550.6h0.9v0.9h-0.9zM201.6 557.6h0.9v0.9h-0.9zM219.0 551.8h0.9v0.9h-0.9zM214.8 554.7h0.9v0.9h-0.9zM210.8 553.2h0.9v0.9h-0.9zM231.5 558.6h0.9v0.9h-0.9zM223.7 551.9h0.9v0.9h-0.9zM202.0 554.9h0.9v0.9h-0.9zM202.2 552.8h0.9v0.9h-0.9zM201.5 554.0h0.9v0.9h-0.9zM203.2 552.8h0.9v0.9h-0.9zM230.1 560.1h0.9v0.9h-0.9zM227.5 559.5h0.9v0.9h-0.9zM211.4 551.4h0.9v0.9h-0.9zM232.2 555.4h0.9v0.9h-0.9zM219.7 550.7h0.9v0.9h-0.9zM204.8 553.4h0.9v0.9h-0.9zM224.0 554.2h0.9v0.9h-0.9zM210.5 554.3h0.9v0.9h-0.9zM228.0 557.4h0.9v0.9h-0.9zM224.5 556.0h0.9v0.9h-0.9zM230.3 560.7h0.9v0.9h-0.9zM200.0 558.8h0.9v0.9h-0.9zM203.9 554.3h0.9v0.9h-0.9zM230.9 557.3h0.9v0.9h-0.9zM200.1 557.1h0.9v0.9h-0.9zM207.4 551.3h0.9v0.9h-0.9zM201.2 560.1h0.9v0.9h-0.9zM201.7 557.3h0.9v0.9h-0.9zM208.8 555.9h0.9v0.9h-0.9zM227.0 555.6h0.9v0.9h-0.9zM229.1 551.3h0.9v0.9h-0.9zM201.5 560.2h0.9v0.9h-0.9zM212.8 553.7h0.9v0.9h-0.9zM223.5 554.9h0.9v0.9h-0.9zM203.7 559.3h0.9v0.9h-0.9zM218.2 554.9h0.9v0.9h-0.9zM228.9 558.0h0.9v0.9h-0.9zM204.5 553.5h0.9v0.9h-0.9zM226.7 552.6h0.9v0.9h-0.9zM211.1 553.6h0.9v0.9h-0.9zM227.6 553.7h0.9v0.9h-0.9zM217.3 551.6h0.9v0.9h-0.9zM201.0 559.3h0.9v0.9h-0.9zM218.0 550.5h0.9v0.9h-0.9zM205.0 554.6h0.9v0.9h-0.9zM214.5 552.1h0.9v0.9h-0.9zM219.9 554.6h0.9v0.9h-0.9zM199.9 560.8h0.9v0.9h-0.9zM226.5 553.7h0.9v0.9h-0.9zM214.5 552.7h0.9v0.9h-0.9zM212.0 552.3h0.9v0.9h-0.9zM223.5 553.7h0.9v0.9h-0.9zM229.3 556.6h0.9v0.9h-0.9zM227.6 551.8h0.9v0.9h-0.9zM213.4 552.6h0.9v0.9h-0.9zM218.8 551.1h0.9v0.9h-0.9zM202.8 555.7h0.9v0.9h-0.9zM229.1 558.2h0.9v0.9h-0.9zM201.0 559.3h0.9v0.9h-0.9zM208.3 554.3h0.9v0.9h-0.9zM203.5 562.5h0.9v0.9h-0.9zM217.3 553.0h0.9v0.9h-0.9zM222.3 550.9h0.9v0.9h-0.9zM228.0 557.7h0.9v0.9h-0.9zM225.2 554.6h0.9v0.9h-0.9zM233.7 558.5h0.9v0.9h-0.9zM222.0 550.5h0.9v0.9h-0.9zM226.2 553.4h0.9v0.9h-0.9zM223.8 552.7h0.9v0.9h-0.9zM229.3 559.4h0.9v0.9h-0.9zM230.0 563.0h0.9v0.9h-0.9zM228.5 555.6h0.9v0.9h-0.9zM202.3 555.8h0.9v0.9h-0.9zM219.1 551.1h0.9v0.9h-0.9zM230.0 560.9h0.9v0.9h-0.9zM199.3 559.5h0.9v0.9h-0.9zM228.5 560.3h0.9v0.9h-0.9zM208.1 554.1h0.9v0.9h-0.9zM199.8 564.1h0.9v0.9h-0.9zM207.4 553.4h0.9v0.9h-0.9zM225.8 552.5h0.9v0.9h-0.9zM201.2 560.5h0.9v0.9h-0.9zM221.7 554.4h0.9v0.9h-0.9zM202.0 559.3h0.9v0.9h-0.9zM206.4 557.7h0.9v0.9h-0.9zM208.7 554.9h0.9v0.9h-0.9zM202.6 560.5h0.9v0.9h-0.9zM202.7 559.2h0.9v0.9h-0.9zM206.4 556.4h0.9v0.9h-0.9zM202.3 563.2h0.9v0.9h-0.9zM210.2 555.1h0.9v0.9h-0.9zM210.3 553.7h0.9v0.9h-0.9zM231.4 556.0h0.9v0.9h-0.9zM204.3 553.7h0.9v0.9h-0.9zM232.1 560.2h0.9v0.9h-0.9zM212.0 551.8h0.9v0.9h-0.9zM231.6 559.5h0.9v0.9h-0.9zM213.4 553.3h0.9v0.9h-0.9zM202.5 555.1h0.9v0.9h-0.9zM202.3 559.5h0.9v0.9h-0.9zM204.0 560.2h0.9v0.9h-0.9zM204.6 557.8h0.9v0.9h-0.9zM227.7 557.8h0.9v0.9h-0.9zM202.4 554.8h0.9v0.9h-0.9zM229.3 559.7h0.9v0.9h-0.9zM227.8 560.0h0.9v0.9h-0.9zM215.6 553.6h0.9v0.9h-0.9zM203.3 561.4h0.9v0.9h-0.9zM219.0 553.9h0.9v0.9h-0.9zM216.7 552.3h0.9v0.9h-0.9zM212.2 552.7h0.9v0.9h-0.9zM205.6 555.8h0.9v0.9h-0.9zM227.5 559.3h0.9v0.9h-0.9zM229.1 555.2h0.9v0.9h-0.9zM227.3 556.9h0.9v0.9h-0.9zM209.2 551.6h0.9v0.9h-0.9zM202.1 562.6h0.9v0.9h-0.9zM211.1 551.9h0.9v0.9h-0.9zM205.1 554.6h0.9v0.9h-0.9zM204.3 562.0h0.9v0.9h-0.9zM218.6 551.7h0.9v0.9h-0.9zM204.2 558.8h0.9v0.9h-0.9zM227.5 555.3h0.9v0.9h-0.9zM225.5 553.5h0.9v0.9h-0.9zM201.0 563.0h0.9v0.9h-0.9zM220.6 551.4h0.9v0.9h-0.9zM208.9 552.2h0.9v0.9h-0.9zM223.3 555.6h0.9v0.9h-0.9zM207.0 554.4h0.9v0.9h-0.9zM228.0 553.6h0.9v0.9h-0.9zM212.2 554.2h0.9v0.9h-0.9zM209.1 553.0h0.9v0.9h-0.9zM222.3 553.0h0.9v0.9h-0.9zM225.6 554.1h0.9v0.9h-0.9zM207.4 554.9h0.9v0.9h-0.9zM204.9 554.5h0.9v0.9h-0.9zM226.6 560.1h0.9v0.9h-0.9zM229.1 551.3h0.9v0.9h-0.9zM216.3 552.6h0.9v0.9h-0.9zM229.3 560.3h0.9v0.9h-0.9zM230.1 553.6h0.9v0.9h-0.9zM208.7 556.1h0.9v0.9h-0.9zM212.2 553.4h0.9v0.9h-0.9zM229.6 563.5h0.9v0.9h-0.9zM204.9 556.7h0.9v0.9h-0.9zM221.7 554.0h0.9v0.9h-0.9zM215.1 553.1h0.9v0.9h-0.9zM203.9 556.7h0.9v0.9h-0.9zM205.8 555.0h0.9v0.9h-0.9zM228.2 560.0h0.9v0.9h-0.9zM201.5 555.2h0.9v0.9h-0.9zM219.6 551.3h0.9v0.9h-0.9zM206.0 553.9h0.9v0.9h-0.9zM227.8 560.1h0.9v0.9h-0.9zM204.1 551.9h0.9v0.9h-0.9zM219.5 552.4h0.9v0.9h-0.9zM216.9 553.4h0.9v0.9h-0.9zM219.2 549.4h0.9v0.9h-0.9zM212.6 555.4h0.9v0.9h-0.9zM224.7 552.8h0.9v0.9h-0.9zM230.2 555.6h0.9v0.9h-0.9zM212.2 551.4h0.9v0.9h-0.9zM217.9 552.9h0.9v0.9h-0.9zM210.6 555.3h0.9v0.9h-0.9zM203.1 556.5h0.9v0.9h-0.9zM208.5 553.4h0.9v0.9h-0.9zM211.6 553.5h0.9v0.9h-0.9zM217.4 552.1h0.9v0.9h-0.9zM226.0 552.0h0.9v0.9h-0.9zM203.5 553.9h0.9v0.9h-0.9zM222.0 553.7h0.9v0.9h-0.9zM199.3 557.3h0.9v0.9h-0.9zM212.2 553.6h0.9v0.9h-0.9zM203.5 559.6h0.9v0.9h-0.9zM232.7 560.6h0.9v0.9h-0.9zM230.1 557.3h0.9v0.9h-0.9zM224.6 551.3h0.9v0.9h-0.9zM209.0 552.9h0.9v0.9h-0.9zM199.9 561.0h0.9v0.9h-0.9zM207.5 551.3h0.9v0.9h-0.9zM218.0 551.2h0.9v0.9h-0.9zM217.1 553.5h0.9v0.9h-0.9zM210.2 556.4h0.9v0.9h-0.9zM218.8 551.3h0.9v0.9h-0.9zM228.9 559.6h0.9v0.9h-0.9zM204.4 558.0h0.9v0.9h-0.9zM230.0 557.7h0.9v0.9h-0.9zM223.7 551.7h0.9v0.9h-0.9zM216.8 555.2h0.9v0.9h-0.9zM229.9 556.8h0.9v0.9h-0.9zM220.1 551.7h0.9v0.9h-0.9zM217.0 550.9h0.9v0.9h-0.9zM209.8 552.0h0.9v0.9h-0.9zM230.7 558.6h0.9v0.9h-0.9zM223.1 554.6h0.9v0.9h-0.9zM209.7 552.7h0.9v0.9h-0.9zM205.1 557.3h0.9v0.9h-0.9zM214.1 555.7h0.9v0.9h-0.9zM226.2 554.0h0.9v0.9h-0.9zM215.9 551.2h0.9v0.9h-0.9zM202.4 554.1h0.9v0.9h-0.9zM209.8 552.0h0.9v0.9h-0.9zM208.3 553.6h0.9v0.9h-0.9zM213.6 552.7h0.9v0.9h-0.9zM223.3 554.9h0.9v0.9h-0.9zM227.8 556.7h0.9v0.9h-0.9zM200.2 561.3h0.9v0.9h-0.9zM200.0 556.9h0.9v0.9h-0.9zM223.8 554.0h0.9v0.9h-0.9zM206.2 551.5h0.9v0.9h-0.9zM218.6 549.0h0.9v0.9h-0.9zM224.3 555.1h0.9v0.9h-0.9zM215.1 554.0h0.9v0.9h-0.9zM221.1 555.1h0.9v0.9h-0.9zM228.5 558.8h0.9v0.9h-0.9zM218.3 551.0h0.9v0.9h-0.9zM227.5 554.5h0.9v0.9h-0.9zM214.2 551.7h0.9v0.9h-0.9zM217.9 552.1h0.9v0.9h-0.9zM204.4 557.1h0.9v0.9h-0.9zM217.9 551.6h0.9v0.9h-0.9zM201.6 556.0h0.9v0.9h-0.9zM203.0 561.0h0.9v0.9h-0.9zM202.2 555.7h0.9v0.9h-0.9zM223.0 552.5h0.9v0.9h-0.9zM225.9 553.9h0.9v0.9h-0.9zM210.5 554.2h0.9v0.9h-0.9zM203.5 553.7h0.9v0.9h-0.9zM224.4 551.8h0.9v0.9h-0.9zM205.1 557.2h0.9v0.9h-0.9zM210.0 555.5h0.9v0.9h-0.9zM219.4 553.1h0.9v0.9h-0.9zM221.6 554.3h0.9v0.9h-0.9zM226.6 554.6h0.9v0.9h-0.9zM214.2 552.0h0.9v0.9h-0.9zM224.1 550.6h0.9v0.9h-0.9zM215.2 554.0h0.9v0.9h-0.9zM218.3 552.0h0.9v0.9h-0.9zM227.7 554.4h0.9v0.9h-0.9zM205.1 556.6h0.9v0.9h-0.9zM229.6 556.0h0.9v0.9h-0.9zM223.8 555.8h0.9v0.9h-0.9zM210.5 552.0h0.9v0.9h-0.9zM209.0 554.2h0.9v0.9h-0.9zM222.5 550.8h0.9v0.9h-0.9zM229.4 559.5h0.9v0.9h-0.9zM198.9 561.7h0.9v0.9h-0.9zM226.6 556.5h0.9v0.9h-0.9zM230.0 558.9h0.9v0.9h-0.9zM214.1 554.2h0.9v0.9h-0.9zM220.8 556.9h0.9v0.9h-0.9zM211.9 553.1h0.9v0.9h-0.9zM229.4 560.0h0.9v0.9h-0.9zM230.4 559.2h0.9v0.9h-0.9zM202.1 555.9h0.9v0.9h-0.9zM231.3 555.1h0.9v0.9h-0.9zM204.2 555.4h0.9v0.9h-0.9zM202.3 558.0h0.9v0.9h-0.9zM209.7 553.3h0.9v0.9h-0.9zM228.3 552.9h0.9v0.9h-0.9zM229.2 558.6h0.9v0.9h-0.9zM230.1 559.5h0.9v0.9h-0.9zM228.9 557.4h0.9v0.9h-0.9zM204.8 555.2h0.9v0.9h-0.9zM229.1 556.8h0.9v0.9h-0.9zM210.7 555.6h0.9v0.9h-0.9zM217.4 550.9h0.9v0.9h-0.9zM207.2 556.9h0.9v0.9h-0.9zM224.3 552.5h0.9v0.9h-0.9zM217.4 550.8h0.9v0.9h-0.9zM212.7 551.8h0.9v0.9h-0.9zM223.3 553.4h0.9v0.9h-0.9zM210.4 551.2h0.9v0.9h-0.9zM204.7 553.9h0.9v0.9h-0.9zM226.2 554.1h0.9v0.9h-0.9zM215.8 549.8h0.9v0.9h-0.9zM220.8 552.0h0.9v0.9h-0.9zM229.1 556.4h0.9v0.9h-0.9zM203.1 559.0h0.9v0.9h-0.9zM207.8 555.2h0.9v0.9h-0.9zM204.7 553.6h0.9v0.9h-0.9zM220.8 550.8h0.9v0.9h-0.9zM227.5 556.3h0.9v0.9h-0.9zM214.8 553.6h0.9v0.9h-0.9zM223.4 552.6h0.9v0.9h-0.9zM228.5 556.8h0.9v0.9h-0.9zM200.5 561.1h0.9v0.9h-0.9zM225.4 553.9h0.9v0.9h-0.9zM199.5 554.5h0.9v0.9h-0.9zM205.0 553.3h0.9v0.9h-0.9zM221.3 549.9h0.9v0.9h-0.9zM223.3 556.8h0.9v0.9h-0.9zM229.1 555.3h0.9v0.9h-0.9zM205.9 557.4h0.9v0.9h-0.9zM211.1 552.0h0.9v0.9h-0.9zM212.4 552.5h0.9v0.9h-0.9zM205.4 557.3h0.9v0.9h-0.9zM222.0 550.0h0.9v0.9h-0.9zM218.7 550.3h0.9v0.9h-0.9zM211.9 551.4h0.9v0.9h-0.9zM220.2 550.8h0.9v0.9h-0.9zM219.5 553.6h0.9v0.9h-0.9zM214.8 553.2h0.9v0.9h-0.9zM227.8 556.4h0.9v0.9h-0.9zM227.4 552.6h0.9v0.9h-0.9zM231.1 558.1h0.9v0.9h-0.9zM230.4 563.9h0.9v0.9h-0.9zM228.5 560.6h0.9v0.9h-0.9zM215.2 550.2h0.9v0.9h-0.9zM224.0 555.5h0.9v0.9h-0.9zM228.4 559.7h0.9v0.9h-0.9zM219.6 552.4h0.9v0.9h-0.9zM219.4 555.0h0.9v0.9h-0.9zM205.9 558.8h0.9v0.9h-0.9zM223.9 550.5h0.9v0.9h-0.9zM213.6 550.2h0.9v0.9h-0.9zM224.2 552.6h0.9v0.9h-0.9zM202.8 559.5h0.9v0.9h-0.9zM212.2 555.2h0.9v0.9h-0.9zM227.5 554.4h0.9v0.9h-0.9zM208.2 554.5h0.9v0.9h-0.9zM228.6 558.0h0.9v0.9h-0.9zM222.3 553.6h0.9v0.9h-0.9zM232.5 558.6h0.9v0.9h-0.9zM213.6 549.1h0.9v0.9h-0.9zM216.8 551.8h0.9v0.9h-0.9zM202.6 562.4h0.9v0.9h-0.9zM222.9 553.6h0.9v0.9h-0.9zM204.7 556.1h0.9v0.9h-0.9zM211.8 553.4h0.9v0.9h-0.9zM202.3 556.1h0.9v0.9h-0.9zM203.4 556.7h0.9v0.9h-0.9zM212.0 552.5h0.9v0.9h-0.9zM216.5 551.2h0.9v0.9h-0.9zM205.1 559.3h0.9v0.9h-0.9zM230.4 562.4h0.9v0.9h-0.9zM216.1 551.5h0.9v0.9h-0.9zM212.4 554.1h0.9v0.9h-0.9zM203.5 557.0h0.9v0.9h-0.9zM223.3 552.3h0.9v0.9h-0.9zM221.0 551.3h0.9v0.9h-0.9zM224.2 551.3h0.9v0.9h-0.9zM226.0 552.3h0.9v0.9h-0.9zM208.7 555.3h0.9v0.9h-0.9zM217.2 550.3h0.9v0.9h-0.9zM202.9 556.7h0.9v0.9h-0.9zM217.4 550.5h0.9v0.9h-0.9zM226.2 556.2h0.9v0.9h-0.9zM210.8 553.3h0.9v0.9h-0.9zM200.9 555.4h0.9v0.9h-0.9zM216.4 555.3h0.9v0.9h-0.9zM217.8 551.8h0.9v0.9h-0.9zM221.2 553.9h0.9v0.9h-0.9zM215.0 553.7h0.9v0.9h-0.9zM232.4 556.2h0.9v0.9h-0.9zM202.8 562.9h0.9v0.9h-0.9zM214.3 554.0h0.9v0.9h-0.9zM216.9 550.2h0.9v0.9h-0.9zM200.4 561.1h0.9v0.9h-0.9zM226.7 551.5h0.9v0.9h-0.9zM208.1 552.5h0.9v0.9h-0.9zM206.0 555.1h0.9v0.9h-0.9zM226.1 555.3h0.9v0.9h-0.9zM230.4 555.6h0.9v0.9h-0.9zM203.3 557.0h0.9v0.9h-0.9zM216.1 552.7h0.9v0.9h-0.9zM229.3 555.3h0.9v0.9h-0.9zM230.5 558.6h0.9v0.9h-0.9zM220.1 552.6h0.9v0.9h-0.9zM210.4 554.0h0.9v0.9h-0.9zM209.8 556.8h0.9v0.9h-0.9zM216.1 551.5h0.9v0.9h-0.9zM225.4 552.2h0.9v0.9h-0.9zM209.4 552.2h0.9v0.9h-0.9zM220.7 553.9h0.9v0.9h-0.9zM231.3 557.1h0.9v0.9h-0.9zM202.6 553.7h0.9v0.9h-0.9zM226.0 552.1h0.9v0.9h-0.9zM207.7 552.6h0.9v0.9h-0.9zM210.2 552.4h0.9v0.9h-0.9zM231.5 561.4h0.9v0.9h-0.9zM229.3 557.1h0.9v0.9h-0.9zM222.1 551.6h0.9v0.9h-0.9zM205.1 561.8h0.9v0.9h-0.9zM221.1 554.4h0.9v0.9h-0.9zM229.0 557.8h0.9v0.9h-0.9zM202.5 558.5h0.9v0.9h-0.9zM229.0 552.7h0.9v0.9h-0.9zM204.5 555.2h0.9v0.9h-0.9zM200.1 554.5h0.9v0.9h-0.9zM225.6 551.0h0.9v0.9h-0.9zM201.1 562.6h0.9v0.9h-0.9zM228.5 550.4h0.9v0.9h-0.9zM215.7 556.2h0.9v0.9h-0.9zM206.6 558.3h0.9v0.9h-0.9zM213.9 554.6h0.9v0.9h-0.9zM225.2 557.7h0.9v0.9h-0.9zM228.3 554.1h0.9v0.9h-0.9zM200.9 558.0h0.9v0.9h-0.9zM210.9 551.4h0.9v0.9h-0.9zM204.0 556.8h0.9v0.9h-0.9zM215.7 554.2h0.9v0.9h-0.9zM227.6 556.7h0.9v0.9h-0.9zM203.4 555.9h0.9v0.9h-0.9zM203.6 561.2h0.9v0.9h-0.9zM206.6 552.3h0.9v0.9h-0.9zM224.0 555.2h0.9v0.9h-0.9zM228.5 560.3h0.9v0.9h-0.9zM227.1 556.5h0.9v0.9h-0.9zM205.0 554.8h0.9v0.9h-0.9zM210.9 553.7h0.9v0.9h-0.9zM199.4 560.3h0.9v0.9h-0.9zM203.3 556.7h0.9v0.9h-0.9zM202.1 557.4h0.9v0.9h-0.9zM201.9 555.0h0.9v0.9h-0.9zM225.5 553.7h0.9v0.9h-0.9zM215.4 552.2h0.9v0.9h-0.9zM229.3 559.9h0.9v0.9h-0.9zM229.4 561.7h0.9v0.9h-0.9zM209.7 554.0h0.9v0.9h-0.9zM200.3 561.0h0.9v0.9h-0.9zM219.5 553.6h0.9v0.9h-0.9zM203.0 557.5h0.9v0.9h-0.9zM215.8 550.1h0.9v0.9h-0.9zM216.6 550.8h0.9v0.9h-0.9zM216.5 549.6h0.9v0.9h-0.9zM204.7 551.9h0.9v0.9h-0.9zM215.5 552.9h0.9v0.9h-0.9zM204.8 556.8h0.9v0.9h-0.9zM229.4 559.1h0.9v0.9h-0.9zM228.9 556.7h0.9v0.9h-0.9zM213.2 554.1h0.9v0.9h-0.9zM229.1 555.8h0.9v0.9h-0.9zM228.3 559.0h0.9v0.9h-0.9zM204.8 556.5h0.9v0.9h-0.9zM205.9 554.1h0.9v0.9h-0.9zM206.8 555.8h0.9v0.9h-0.9zM208.8 551.7h0.9v0.9h-0.9zM212.6 554.5h0.9v0.9h-0.9zM209.1 555.0h0.9v0.9h-0.9zM204.8 556.2h0.9v0.9h-0.9zM229.4 558.7h0.9v0.9h-0.9zM211.1 553.4h0.9v0.9h-0.9zM228.7 553.7h0.9v0.9h-0.9zM208.6 553.1h0.9v0.9h-0.9zM219.7 551.0h0.9v0.9h-0.9zM204.8 557.1h0.9v0.9h-0.9zM200.4 559.5h0.9v0.9h-0.9zM211.2 550.8h0.9v0.9h-0.9zM207.8 554.5h0.9v0.9h-0.9zM209.4 552.4h0.9v0.9h-0.9zM227.9 560.7h0.9v0.9h-0.9zM201.2 559.4h0.9v0.9h-0.9zM203.3 558.9h0.9v0.9h-0.9zM210.6 551.1h0.9v0.9h-0.9zM226.8 553.9h0.9v0.9h-0.9zM201.5 555.6h0.9v0.9h-0.9zM206.5 553.9h0.9v0.9h-0.9zM208.5 554.6h0.9v0.9h-0.9zM230.8 558.7h0.9v0.9h-0.9zM213.9 553.1h0.9v0.9h-0.9zM213.1 552.1h0.9v0.9h-0.9zM208.1 548.6h0.9v0.9h-0.9zM212.8 550.0h0.9v0.9h-0.9zM219.5 552.3h0.9v0.9h-0.9zM223.5 554.7h0.9v0.9h-0.9zM225.9 554.3h0.9v0.9h-0.9zM215.1 551.5h0.9v0.9h-0.9zM233.1 557.1h0.9v0.9h-0.9zM213.4 552.7h0.9v0.9h-0.9zM197.7 558.8h0.9v0.9h-0.9zM218.0 553.7h0.9v0.9h-0.9zM204.1 556.6h0.9v0.9h-0.9zM214.5 551.9h0.9v0.9h-0.9zM214.8 552.6h0.9v0.9h-0.9zM205.4 555.0h0.9v0.9h-0.9zM218.0 553.0h0.9v0.9h-0.9zM207.1 560.3h0.9v0.9h-0.9zM213.8 552.3h0.9v0.9h-0.9zM201.4 556.2h0.9v0.9h-0.9zM207.4 553.4h0.9v0.9h-0.9zM230.6 562.5h0.9v0.9h-0.9zM202.8 562.4h0.9v0.9h-0.9zM213.7 551.8h0.9v0.9h-0.9zM203.2 557.4h0.9v0.9h-0.9zM204.3 553.3h0.9v0.9h-0.9zM229.8 561.3h0.9v0.9h-0.9zM214.0 554.1h0.9v0.9h-0.9zM224.1 555.9h0.9v0.9h-0.9zM219.3 554.8h0.9v0.9h-0.9zM203.2 560.6h0.9v0.9h-0.9zM202.5 557.0h0.9v0.9h-0.9zM220.3 547.7h0.9v0.9h-0.9zM227.5 555.6h0.9v0.9h-0.9zM223.0 554.6h0.9v0.9h-0.9zM204.0 559.7h0.9v0.9h-0.9zM231.1 553.2h0.9v0.9h-0.9zM206.9 556.3h0.9v0.9h-0.9zM208.9 554.6h0.9v0.9h-0.9zM222.4 554.8h0.9v0.9h-0.9zM215.2 553.2h0.9v0.9h-0.9zM205.7 555.0h0.9v0.9h-0.9zM218.5 548.5h0.9v0.9h-0.9zM226.8 555.7h0.9v0.9h-0.9zM209.3 554.6h0.9v0.9h-0.9zM223.6 555.7h0.9v0.9h-0.9zM222.2 551.3h0.9v0.9h-0.9zM210.9 553.7h0.9v0.9h-0.9zM228.9 559.0h0.9v0.9h-0.9zM219.0 554.2h0.9v0.9h-0.9zM206.7 555.1h0.9v0.9h-0.9zM204.7 556.5h0.9v0.9h-0.9zM225.7 561.2h0.9v0.9h-0.9zM225.3 556.9h0.9v0.9h-0.9zM213.6 551.5h0.9v0.9h-0.9zM206.3 553.2h0.9v0.9h-0.9zM209.0 552.8h0.9v0.9h-0.9zM212.7 554.0h0.9v0.9h-0.9zM216.5 552.9h0.9v0.9h-0.9zM199.3 561.5h0.9v0.9h-0.9zM204.7 554.5h0.9v0.9h-0.9zM203.6 555.7h0.9v0.9h-0.9zM219.1 553.4h0.9v0.9h-0.9zM230.5 556.2h0.9v0.9h-0.9zM203.3 558.4h0.9v0.9h-0.9zM208.0 555.5h0.9v0.9h-0.9zM200.0 558.6h0.9v0.9h-0.9zM226.1 559.1h0.9v0.9h-0.9zM229.2 556.8h0.9v0.9h-0.9zM202.6 560.6h0.9v0.9h-0.9zM213.1 551.3h0.9v0.9h-0.9zM231.1 557.5h0.9v0.9h-0.9zM230.5 557.1h0.9v0.9h-0.9zM209.3 555.8h0.9v0.9h-0.9zM215.0 550.0h0.9v0.9h-0.9zM214.9 552.2h0.9v0.9h-0.9zM203.0 560.1h0.9v0.9h-0.9zM212.9 551.5h0.9v0.9h-0.9zM223.5 551.3h0.9v0.9h-0.9zM206.7 553.6h0.9v0.9h-0.9zM219.6 553.0h0.9v0.9h-0.9zM219.9 549.3h0.9v0.9h-0.9zM226.1 551.9h0.9v0.9h-0.9zM206.2 552.9h0.9v0.9h-0.9zM200.4 562.3h0.9v0.9h-0.9zM198.5 561.6h0.9v0.9h-0.9zM216.2 552.8h0.9v0.9h-0.9zM200.8 557.5h0.9v0.9h-0.9zM223.1 552.6h0.9v0.9h-0.9zM226.8 553.8h0.9v0.9h-0.9zM213.6 548.5h0.9v0.9h-0.9zM222.6 549.8h0.9v0.9h-0.9zM228.3 554.9h0.9v0.9h-0.9zM230.2 556.4h0.9v0.9h-0.9zM202.6 552.4h0.9v0.9h-0.9zM213.8 550.1h0.9v0.9h-0.9zM226.8 555.0h0.9v0.9h-0.9zM212.1 552.4h0.9v0.9h-0.9zM221.4 552.8h0.9v0.9h-0.9zM215.0 549.4h0.9v0.9h-0.9zM206.3 556.8h0.9v0.9h-0.9zM206.3 552.8h0.9v0.9h-0.9zM210.4 552.2h0.9v0.9h-0.9zM229.9 554.3h0.9v0.9h-0.9zM232.1 561.3h0.9v0.9h-0.9zM221.6 554.5h0.9v0.9h-0.9zM200.8 557.2h0.9v0.9h-0.9zM200.5 557.3h0.9v0.9h-0.9zM232.2 558.4h0.9v0.9h-0.9zM224.1 555.1h0.9v0.9h-0.9zM210.1 553.3h0.9v0.9h-0.9zM217.3 552.9h0.9v0.9h-0.9zM212.5 550.3h0.9v0.9h-0.9zM216.1 552.5h0.9v0.9h-0.9zM222.8 552.7h0.9v0.9h-0.9zM209.0 555.8h0.9v0.9h-0.9zM204.6 555.5h0.9v0.9h-0.9zM201.7 556.8h0.9v0.9h-0.9zM228.8 556.6h0.9v0.9h-0.9zM213.2 555.4h0.9v0.9h-0.9zM223.7 555.1h0.9v0.9h-0.9zM207.8 553.4h0.9v0.9h-0.9zM229.5 555.6h0.9v0.9h-0.9zM225.3 554.0h0.9v0.9h-0.9zM231.5 558.8h0.9v0.9h-0.9zM222.7 552.4h0.9v0.9h-0.9zM215.6 554.0h0.9v0.9h-0.9zM203.1 561.0h0.9v0.9h-0.9zM207.3 556.2h0.9v0.9h-0.9zM229.6 559.7h0.9v0.9h-0.9zM230.4 559.9h0.9v0.9h-0.9zM202.4 557.9h0.9v0.9h-0.9zM204.2 552.8h0.9v0.9h-0.9zM232.4 556.9h0.9v0.9h-0.9zM203.2 558.7h0.9v0.9h-0.9zM209.1 554.6h0.9v0.9h-0.9zM209.6 552.9h0.9v0.9h-0.9zM224.0 552.5h0.9v0.9h-0.9zM210.5 553.4h0.9v0.9h-0.9zM223.4 550.4h0.9v0.9h-0.9zM227.2 551.1h0.9v0.9h-0.9zM228.0 561.3h0.9v0.9h-0.9zM225.0 553.3h0.9v0.9h-0.9zM224.4 552.3h0.9v0.9h-0.9zM199.4 561.7h0.9v0.9h-0.9zM226.8 554.4h0.9v0.9h-0.9zM230.3 557.9h0.9v0.9h-0.9zM205.8 558.7h0.9v0.9h-0.9zM215.4 550.5h0.9v0.9h-0.9zM216.8 553.4h0.9v0.9h-0.9zM221.6 555.1h0.9v0.9h-0.9zM222.4 554.1h0.9v0.9h-0.9zM231.2 556.4h0.9v0.9h-0.9zM229.2 557.3h0.9v0.9h-0.9zM205.0 558.1h0.9v0.9h-0.9zM230.4 558.7h0.9v0.9h-0.9zM214.2 553.4h0.9v0.9h-0.9zM213.5 552.4h0.9v0.9h-0.9zM210.6 552.6h0.9v0.9h-0.9zM210.3 553.2h0.9v0.9h-0.9zM229.3 563.2h0.9v0.9h-0.9zM229.5 556.5h0.9v0.9h-0.9zM230.4 559.6h0.9v0.9h-0.9zM210.2 553.5h0.9v0.9h-0.9zM203.5 557.4h0.9v0.9h-0.9zM217.2 555.0h0.9v0.9h-0.9zM220.5 551.5h0.9v0.9h-0.9zM212.8 555.0h0.9v0.9h-0.9zM216.6 550.5h0.9v0.9h-0.9zM219.5 552.4h0.9v0.9h-0.9zM202.3 559.2h0.9v0.9h-0.9zM230.2 557.1h0.9v0.9h-0.9zM204.8 557.8h0.9v0.9h-0.9zM204.9 555.8h0.9v0.9h-0.9zM216.2 553.3h0.9v0.9h-0.9zM206.0 551.3h0.9v0.9h-0.9zM226.3 556.4h0.9v0.9h-0.9zM228.1 552.1h0.9v0.9h-0.9zM206.0 557.6h0.9v0.9h-0.9zM203.6 556.7h0.9v0.9h-0.9zM229.8 557.7h0.9v0.9h-0.9zM199.3 560.6h0.9v0.9h-0.9zM229.6 556.0h0.9v0.9h-0.9zM227.4 555.0h0.9v0.9h-0.9zM229.1 556.7h0.9v0.9h-0.9zM221.8 552.8h0.9v0.9h-0.9zM218.3 552.0h0.9v0.9h-0.9zM203.9 558.0h0.9v0.9h-0.9zM219.1 550.8h0.9v0.9h-0.9zM221.1 551.7h0.9v0.9h-0.9zM221.8 558.1h0.9v0.9h-0.9zM214.5 552.0h0.9v0.9h-0.9zM203.3 557.6h0.9v0.9h-0.9zM227.7 552.6h0.9v0.9h-0.9zM203.4 556.7h0.9v0.9h-0.9zM199.7 559.9h0.9v0.9h-0.9zM206.9 555.4h0.9v0.9h-0.9zM202.1 555.5h0.9v0.9h-0.9zM218.4 555.5h0.9v0.9h-0.9zM224.9 553.1h0.9v0.9h-0.9zM207.2 554.1h0.9v0.9h-0.9zM211.6 554.0h0.9v0.9h-0.9zM226.7 554.1h0.9v0.9h-0.9zM222.4 552.0h0.9v0.9h-0.9zM224.4 552.5h0.9v0.9h-0.9zM218.7 552.2h0.9v0.9h-0.9zM205.7 553.7h0.9v0.9h-0.9zM201.4 560.9h0.9v0.9h-0.9zM202.7 559.2h0.9v0.9h-0.9zM210.7 552.6h0.9v0.9h-0.9zM216.3 554.3h0.9v0.9h-0.9zM199.2 556.5h0.9v0.9h-0.9zM217.1 554.9h0.9v0.9h-0.9zM216.2 553.2h0.9v0.9h-0.9z" fill="#111" fill-opacity="0.68"/>
<path d="M210.5 587.4h0.9v0.9h-0.9zM214.7 596.0h0.9v0.9h-0.9zM210.3 575.5h0.9v0.9h-0.9zM212.1 599.0h0.9v0.9h-0.9zM207.7 580.6h0.9v0.9h-0.9zM215.4 595.5h0.9v0.9h-0.9zM204.3 570.8h0.9v0.9h-0.9zM205.1 566.7h0.9v0.9h-0.9zM213.3 588.6h0.9v0.9h-0.9zM213.6 589.0h0.9v0.9h-0.9zM214.8 599.0h0.9v0.9h-0.9zM213.0 595.7h0.9v0.9h-0.9zM211.5 591.5h0.9v0.9h-0.9zM213.3 596.9h0.9v0.9h-0.9zM208.3 579.6h0.9v0.9h-0.9zM205.5 573.5h0.9v0.9h-0.9zM213.7 600.0h0.9v0.9h-0.9zM213.3 590.6h0.9v0.9h-0.9zM215.8 595.8h0.9v0.9h-0.9zM208.5 572.1h0.9v0.9h-0.9zM214.2 593.8h0.9v0.9h-0.9zM204.4 568.5h0.9v0.9h-0.9zM201.8 561.8h0.9v0.9h-0.9zM214.5 587.5h0.9v0.9h-0.9zM203.9 599.6h0.9v0.9h-0.9zM213.8 592.4h0.9v0.9h-0.9zM214.0 586.6h0.9v0.9h-0.9zM210.4 602.0h0.9v0.9h-0.9zM205.8 569.3h0.9v0.9h-0.9zM207.1 577.8h0.9v0.9h-0.9zM203.8 568.8h0.9v0.9h-0.9zM208.4 586.2h0.9v0.9h-0.9zM207.7 582.7h0.9v0.9h-0.9zM201.7 563.6h0.9v0.9h-0.9zM205.7 581.5h0.9v0.9h-0.9zM207.5 578.8h0.9v0.9h-0.9zM207.0 579.2h0.9v0.9h-0.9zM206.9 587.7h0.9v0.9h-0.9zM212.4 588.2h0.9v0.9h-0.9zM214.0 602.4h0.9v0.9h-0.9zM214.2 592.8h0.9v0.9h-0.9zM203.6 559.2h0.9v0.9h-0.9zM199.7 561.4h0.9v0.9h-0.9zM201.2 564.7h0.9v0.9h-0.9zM204.4 564.4h0.9v0.9h-0.9zM213.1 596.8h0.9v0.9h-0.9zM211.0 599.2h0.9v0.9h-0.9zM211.4 589.9h0.9v0.9h-0.9zM205.9 567.2h0.9v0.9h-0.9zM209.4 581.1h0.9v0.9h-0.9zM205.5 564.0h0.9v0.9h-0.9zM215.7 593.7h0.9v0.9h-0.9zM213.7 584.6h0.9v0.9h-0.9zM205.0 579.4h0.9v0.9h-0.9zM207.2 571.5h0.9v0.9h-0.9zM202.9 557.6h0.9v0.9h-0.9zM202.5 558.3h0.9v0.9h-0.9zM210.7 580.5h0.9v0.9h-0.9zM214.4 593.7h0.9v0.9h-0.9zM207.5 568.7h0.9v0.9h-0.9zM210.8 579.3h0.9v0.9h-0.9zM204.3 570.4h0.9v0.9h-0.9zM214.1 597.1h0.9v0.9h-0.9zM211.0 584.0h0.9v0.9h-0.9zM207.6 570.9h0.9v0.9h-0.9zM214.3 590.0h0.9v0.9h-0.9zM210.9 588.0h0.9v0.9h-0.9zM204.7 571.6h0.9v0.9h-0.9zM205.3 564.8h0.9v0.9h-0.9zM212.4 592.5h0.9v0.9h-0.9zM201.9 559.1h0.9v0.9h-0.9zM208.4 579.8h0.9v0.9h-0.9zM213.3 583.2h0.9v0.9h-0.9zM215.4 592.4h0.9v0.9h-0.9zM205.5 567.2h0.9v0.9h-0.9zM199.9 564.3h0.9v0.9h-0.9zM208.5 575.2h0.9v0.9h-0.9zM207.2 581.0h0.9v0.9h-0.9zM218.7 589.0h0.9v0.9h-0.9zM202.6 561.4h0.9v0.9h-0.9zM213.5 589.1h0.9v0.9h-0.9zM207.5 600.3h0.9v0.9h-0.9zM213.2 589.5h0.9v0.9h-0.9zM211.5 583.2h0.9v0.9h-0.9zM215.6 592.1h0.9v0.9h-0.9zM206.9 574.5h0.9v0.9h-0.9zM216.0 596.2h0.9v0.9h-0.9zM214.4 597.3h0.9v0.9h-0.9zM213.2 588.9h0.9v0.9h-0.9zM208.9 585.1h0.9v0.9h-0.9zM214.6 586.7h0.9v0.9h-0.9zM211.6 603.7h0.9v0.9h-0.9zM209.3 575.5h0.9v0.9h-0.9zM197.7 557.8h0.9v0.9h-0.9zM210.7 565.1h0.9v0.9h-0.9zM201.6 561.4h0.9v0.9h-0.9zM206.2 572.0h0.9v0.9h-0.9zM216.2 592.1h0.9v0.9h-0.9zM197.3 562.2h0.9v0.9h-0.9zM211.0 598.7h0.9v0.9h-0.9zM203.2 568.5h0.9v0.9h-0.9zM203.4 563.0h0.9v0.9h-0.9zM202.2 565.4h0.9v0.9h-0.9zM204.2 565.3h0.9v0.9h-0.9zM210.2 585.1h0.9v0.9h-0.9zM205.0 560.7h0.9v0.9h-0.9zM216.3 591.7h0.9v0.9h-0.9zM211.3 592.0h0.9v0.9h-0.9zM209.7 577.5h0.9v0.9h-0.9zM205.8 567.6h0.9v0.9h-0.9zM213.6 583.6h0.9v0.9h-0.9zM211.7 595.8h0.9v0.9h-0.9zM210.7 587.7h0.9v0.9h-0.9zM209.9 581.3h0.9v0.9h-0.9zM210.3 580.5h0.9v0.9h-0.9zM209.1 574.1h0.9v0.9h-0.9zM209.4 567.1h0.9v0.9h-0.9zM213.6 589.6h0.9v0.9h-0.9zM216.3 598.3h0.9v0.9h-0.9zM214.5 588.8h0.9v0.9h-0.9zM212.0 598.8h0.9v0.9h-0.9zM216.5 592.2h0.9v0.9h-0.9zM206.9 579.0h0.9v0.9h-0.9zM213.1 584.4h0.9v0.9h-0.9zM208.3 573.1h0.9v0.9h-0.9zM209.9 575.8h0.9v0.9h-0.9zM215.3 591.5h0.9v0.9h-0.9zM215.1 595.2h0.9v0.9h-0.9zM200.4 568.5h0.9v0.9h-0.9zM210.3 594.6h0.9v0.9h-0.9zM214.9 591.8h0.9v0.9h-0.9zM211.2 599.7h0.9v0.9h-0.9zM211.7 594.0h0.9v0.9h-0.9zM207.9 570.4h0.9v0.9h-0.9zM203.7 568.1h0.9v0.9h-0.9zM209.3 573.3h0.9v0.9h-0.9zM202.5 564.3h0.9v0.9h-0.9zM211.4 600.8h0.9v0.9h-0.9zM212.3 590.4h0.9v0.9h-0.9zM206.1 571.5h0.9v0.9h-0.9zM205.4 569.3h0.9v0.9h-0.9zM211.3 588.2h0.9v0.9h-0.9zM213.4 602.9h0.9v0.9h-0.9zM203.4 557.2h0.9v0.9h-0.9zM216.2 591.3h0.9v0.9h-0.9zM203.9 568.9h0.9v0.9h-0.9zM208.6 562.5h0.9v0.9h-0.9zM213.9 594.6h0.9v0.9h-0.9zM209.9 578.4h0.9v0.9h-0.9zM210.9 593.9h0.9v0.9h-0.9zM210.0 583.4h0.9v0.9h-0.9zM210.5 586.8h0.9v0.9h-0.9zM210.7 598.4h0.9v0.9h-0.9zM209.9 588.1h0.9v0.9h-0.9zM202.9 564.3h0.9v0.9h-0.9zM209.5 597.9h0.9v0.9h-0.9zM214.0 595.7h0.9v0.9h-0.9zM205.2 572.6h0.9v0.9h-0.9zM212.8 584.2h0.9v0.9h-0.9zM209.0 578.5h0.9v0.9h-0.9zM204.7 567.8h0.9v0.9h-0.9zM215.7 587.0h0.9v0.9h-0.9zM214.0 596.2h0.9v0.9h-0.9zM208.0 579.1h0.9v0.9h-0.9zM207.1 565.6h0.9v0.9h-0.9zM212.9 595.1h0.9v0.9h-0.9zM205.4 566.7h0.9v0.9h-0.9zM202.2 563.3h0.9v0.9h-0.9zM206.8 566.6h0.9v0.9h-0.9zM211.6 599.4h0.9v0.9h-0.9zM212.0 601.5h0.9v0.9h-0.9zM201.5 566.9h0.9v0.9h-0.9zM208.8 599.9h0.9v0.9h-0.9zM215.7 590.8h0.9v0.9h-0.9zM211.5 585.6h0.9v0.9h-0.9zM206.9 579.3h0.9v0.9h-0.9zM209.3 597.9h0.9v0.9h-0.9zM204.7 559.7h0.9v0.9h-0.9zM209.7 598.6h0.9v0.9h-0.9zM213.3 584.8h0.9v0.9h-0.9zM213.2 600.0h0.9v0.9h-0.9zM209.4 581.3h0.9v0.9h-0.9zM203.2 563.5h0.9v0.9h-0.9zM210.6 590.0h0.9v0.9h-0.9zM200.8 562.6h0.9v0.9h-0.9zM214.1 598.3h0.9v0.9h-0.9zM208.0 569.5h0.9v0.9h-0.9zM202.9 563.6h0.9v0.9h-0.9zM213.5 589.6h0.9v0.9h-0.9zM210.8 597.0h0.9v0.9h-0.9zM204.5 563.4h0.9v0.9h-0.9zM208.2 575.0h0.9v0.9h-0.9zM202.3 565.9h0.9v0.9h-0.9zM207.3 581.5h0.9v0.9h-0.9zM210.8 583.8h0.9v0.9h-0.9zM207.9 579.9h0.9v0.9h-0.9zM207.8 577.0h0.9v0.9h-0.9zM201.1 561.0h0.9v0.9h-0.9zM204.9 562.5h0.9v0.9h-0.9zM208.4 573.8h0.9v0.9h-0.9zM213.3 580.6h0.9v0.9h-0.9zM214.4 601.6h0.9v0.9h-0.9zM203.7 567.6h0.9v0.9h-0.9zM212.6 582.8h0.9v0.9h-0.9zM211.0 605.0h0.9v0.9h-0.9zM201.7 568.5h0.9v0.9h-0.9zM215.8 594.0h0.9v0.9h-0.9zM205.0 568.5h0.9v0.9h-0.9zM205.8 578.0h0.9v0.9h-0.9zM216.1 599.9h0.9v0.9h-0.9zM204.3 564.7h0.9v0.9h-0.9zM203.3 566.2h0.9v0.9h-0.9zM210.2 604.6h0.9v0.9h-0.9zM207.2 568.8h0.9v0.9h-0.9zM206.9 571.7h0.9v0.9h-0.9zM212.1 582.5h0.9v0.9h-0.9zM202.3 569.7h0.9v0.9h-0.9zM204.5 571.5h0.9v0.9h-0.9zM199.8 560.2h0.9v0.9h-0.9zM218.5 593.1h0.9v0.9h-0.9zM210.2 600.4h0.9v0.9h-0.9zM207.6 572.7h0.9v0.9h-0.9zM209.8 586.4h0.9v0.9h-0.9zM209.1 575.8h0.9v0.9h-0.9zM200.2 558.7h0.9v0.9h-0.9zM212.6 579.5h0.9v0.9h-0.9zM208.2 580.0h0.9v0.9h-0.9zM209.4 572.6h0.9v0.9h-0.9zM209.5 573.7h0.9v0.9h-0.9zM203.1 559.5h0.9v0.9h-0.9zM203.6 561.6h0.9v0.9h-0.9zM212.3 576.5h0.9v0.9h-0.9zM211.2 590.7h0.9v0.9h-0.9zM208.9 582.8h0.9v0.9h-0.9zM213.6 591.2h0.9v0.9h-0.9zM201.1 566.3h0.9v0.9h-0.9zM215.3 593.8h0.9v0.9h-0.9zM210.2 580.4h0.9v0.9h-0.9zM209.9 601.4h0.9v0.9h-0.9zM210.5 599.0h0.9v0.9h-0.9zM216.9 593.2h0.9v0.9h-0.9zM210.4 590.3h0.9v0.9h-0.9zM202.6 567.1h0.9v0.9h-0.9zM208.4 579.8h0.9v0.9h-0.9zM212.3 588.3h0.9v0.9h-0.9zM213.6 598.5h0.9v0.9h-0.9zM214.5 597.2h0.9v0.9h-0.9zM205.5 567.5h0.9v0.9h-0.9zM201.2 563.2h0.9v0.9h-0.9zM200.6 562.0h0.9v0.9h-0.9zM202.2 567.5h0.9v0.9h-0.9zM209.2 582.8h0.9v0.9h-0.9zM215.3 592.7h0.9v0.9h-0.9zM214.6 594.4h0.9v0.9h-0.9zM216.3 592.8h0.9v0.9h-0.9zM212.6 592.3h0.9v0.9h-0.9zM206.4 568.9h0.9v0.9h-0.9zM215.9 593.1h0.9v0.9h-0.9zM213.5 584.5h0.9v0.9h-0.9zM208.0 575.4h0.9v0.9h-0.9zM204.5 573.7h0.9v0.9h-0.9zM213.0 588.2h0.9v0.9h-0.9zM213.3 602.4h0.9v0.9h-0.9zM206.5 575.2h0.9v0.9h-0.9zM214.6 589.8h0.9v0.9h-0.9zM201.4 563.6h0.9v0.9h-0.9zM215.1 595.1h0.9v0.9h-0.9zM214.8 589.5h0.9v0.9h-0.9zM207.5 567.1h0.9v0.9h-0.9zM214.6 594.7h0.9v0.9h-0.9zM204.4 560.7h0.9v0.9h-0.9zM210.9 601.8h0.9v0.9h-0.9zM206.6 602.3h0.9v0.9h-0.9zM214.8 587.2h0.9v0.9h-0.9zM209.2 583.1h0.9v0.9h-0.9zM214.6 589.6h0.9v0.9h-0.9zM209.8 581.9h0.9v0.9h-0.9zM206.1 570.4h0.9v0.9h-0.9zM213.5 586.9h0.9v0.9h-0.9zM208.3 579.3h0.9v0.9h-0.9zM212.7 582.7h0.9v0.9h-0.9zM203.2 562.3h0.9v0.9h-0.9zM212.0 581.1h0.9v0.9h-0.9zM211.2 599.0h0.9v0.9h-0.9zM210.7 603.9h0.9v0.9h-0.9zM213.5 591.6h0.9v0.9h-0.9zM205.4 565.1h0.9v0.9h-0.9zM211.2 598.0h0.9v0.9h-0.9zM210.3 570.6h0.9v0.9h-0.9zM212.5 584.9h0.9v0.9h-0.9zM211.3 595.4h0.9v0.9h-0.9zM202.3 560.6h0.9v0.9h-0.9zM213.0 601.7h0.9v0.9h-0.9zM211.9 600.1h0.9v0.9h-0.9zM206.1 569.9h0.9v0.9h-0.9zM202.7 567.2h0.9v0.9h-0.9zM213.2 586.0h0.9v0.9h-0.9zM200.2 565.6h0.9v0.9h-0.9zM210.5 594.4h0.9v0.9h-0.9zM208.3 581.7h0.9v0.9h-0.9zM211.2 598.8h0.9v0.9h-0.9zM198.8 564.2h0.9v0.9h-0.9zM214.6 596.4h0.9v0.9h-0.9zM212.5 593.8h0.9v0.9h-0.9zM204.8 568.2h0.9v0.9h-0.9zM211.2 596.1h0.9v0.9h-0.9zM214.6 586.5h0.9v0.9h-0.9zM204.8 562.7h0.9v0.9h-0.9zM212.7 594.1h0.9v0.9h-0.9zM208.4 575.6h0.9v0.9h-0.9zM206.2 577.7h0.9v0.9h-0.9zM204.9 571.8h0.9v0.9h-0.9zM207.5 569.9h0.9v0.9h-0.9zM211.6 598.9h0.9v0.9h-0.9zM206.7 570.1h0.9v0.9h-0.9zM214.6 588.8h0.9v0.9h-0.9zM201.0 562.8h0.9v0.9h-0.9zM216.3 592.4h0.9v0.9h-0.9zM205.5 575.5h0.9v0.9h-0.9zM211.2 579.7h0.9v0.9h-0.9zM212.8 589.3h0.9v0.9h-0.9zM212.4 588.1h0.9v0.9h-0.9zM203.5 565.5h0.9v0.9h-0.9zM212.0 579.7h0.9v0.9h-0.9zM204.2 563.5h0.9v0.9h-0.9zM212.1 602.3h0.9v0.9h-0.9zM208.5 562.8h0.9v0.9h-0.9zM212.1 585.4h0.9v0.9h-0.9zM205.4 566.2h0.9v0.9h-0.9zM206.9 578.9h0.9v0.9h-0.9zM202.4 570.9h0.9v0.9h-0.9zM208.9 568.8h0.9v0.9h-0.9zM203.0 567.9h0.9v0.9h-0.9zM213.0 589.0h0.9v0.9h-0.9zM200.4 566.7h0.9v0.9h-0.9zM214.2 598.6h0.9v0.9h-0.9zM198.6 562.6h0.9v0.9h-0.9zM211.4 589.3h0.9v0.9h-0.9zM204.8 578.9h0.9v0.9h-0.9zM215.4 599.2h0.9v0.9h-0.9zM210.9 596.1h0.9v0.9h-0.9zM205.7 569.9h0.9v0.9h-0.9zM208.6 576.5h0.9v0.9h-0.9zM209.7 579.1h0.9v0.9h-0.9zM199.0 563.5h0.9v0.9h-0.9zM213.5 583.5h0.9v0.9h-0.9zM206.6 596.4h0.9v0.9h-0.9zM202.5 565.6h0.9v0.9h-0.9zM212.6 587.2h0.9v0.9h-0.9zM201.8 563.0h0.9v0.9h-0.9zM209.5 582.8h0.9v0.9h-0.9zM209.3 594.2h0.9v0.9h-0.9zM206.4 575.4h0.9v0.9h-0.9zM217.0 595.3h0.9v0.9h-0.9zM205.5 571.5h0.9v0.9h-0.9zM201.8 561.4h0.9v0.9h-0.9zM217.9 589.4h0.9v0.9h-0.9zM211.4 594.4h0.9v0.9h-0.9zM204.5 569.7h0.9v0.9h-0.9zM206.3 576.6h0.9v0.9h-0.9zM201.0 563.0h0.9v0.9h-0.9zM203.0 567.5h0.9v0.9h-0.9zM207.8 579.5h0.9v0.9h-0.9zM207.3 566.4h0.9v0.9h-0.9zM203.7 566.0h0.9v0.9h-0.9zM207.2 575.8h0.9v0.9h-0.9zM204.5 569.6h0.9v0.9h-0.9zM210.2 597.9h0.9v0.9h-0.9zM208.7 582.8h0.9v0.9h-0.9zM210.7 582.7h0.9v0.9h-0.9zM213.6 601.3h0.9v0.9h-0.9zM200.3 562.1h0.9v0.9h-0.9zM208.4 577.2h0.9v0.9h-0.9zM215.8 590.4h0.9v0.9h-0.9zM208.5 582.0h0.9v0.9h-0.9zM209.5 603.0h0.9v0.9h-0.9zM211.6 582.5h0.9v0.9h-0.9zM199.1 557.2h0.9v0.9h-0.9zM209.1 583.0h0.9v0.9h-0.9zM206.6 578.7h0.9v0.9h-0.9zM205.1 574.4h0.9v0.9h-0.9zM205.2 574.0h0.9v0.9h-0.9zM208.3 575.7h0.9v0.9h-0.9zM214.4 590.4h0.9v0.9h-0.9zM210.1 574.7h0.9v0.9h-0.9zM208.5 579.8h0.9v0.9h-0.9zM205.8 570.8h0.9v0.9h-0.9zM212.4 599.5h0.9v0.9h-0.9zM212.2 584.5h0.9v0.9h-0.9zM214.2 589.4h0.9v0.9h-0.9zM210.9 599.1h0.9v0.9h-0.9zM212.4 593.3h0.9v0.9h-0.9zM212.7 598.8h0.9v0.9h-0.9zM205.7 576.8h0.9v0.9h-0.9zM214.0 595.8h0.9v0.9h-0.9zM212.5 599.3h0.9v0.9h-0.9zM201.0 560.4h0.9v0.9h-0.9zM215.2 594.0h0.9v0.9h-0.9zM203.1 577.0h0.9v0.9h-0.9zM214.9 594.5h0.9v0.9h-0.9zM203.4 563.1h0.9v0.9h-0.9zM208.1 580.3h0.9v0.9h-0.9zM202.7 560.4h0.9v0.9h-0.9zM214.0 584.0h0.9v0.9h-0.9zM209.1 582.9h0.9v0.9h-0.9zM217.5 592.7h0.9v0.9h-0.9zM204.2 566.2h0.9v0.9h-0.9zM212.6 590.8h0.9v0.9h-0.9zM202.7 560.3h0.9v0.9h-0.9zM207.7 579.0h0.9v0.9h-0.9zM206.6 578.9h0.9v0.9h-0.9zM204.4 576.1h0.9v0.9h-0.9zM208.8 583.9h0.9v0.9h-0.9zM202.8 566.4h0.9v0.9h-0.9zM206.8 574.1h0.9v0.9h-0.9zM201.9 569.0h0.9v0.9h-0.9zM210.9 598.8h0.9v0.9h-0.9zM203.2 567.4h0.9v0.9h-0.9zM210.0 584.0h0.9v0.9h-0.9zM206.0 570.1h0.9v0.9h-0.9zM211.9 584.2h0.9v0.9h-0.9zM209.8 577.7h0.9v0.9h-0.9zM211.7 601.5h0.9v0.9h-0.9zM208.1 575.4h0.9v0.9h-0.9zM212.3 596.3h0.9v0.9h-0.9zM211.2 581.0h0.9v0.9h-0.9zM212.0 604.6h0.9v0.9h-0.9zM202.7 567.1h0.9v0.9h-0.9zM205.1 565.8h0.9v0.9h-0.9zM213.7 587.0h0.9v0.9h-0.9zM211.2 597.1h0.9v0.9h-0.9zM210.7 600.7h0.9v0.9h-0.9zM215.6 594.3h0.9v0.9h-0.9zM206.2 569.9h0.9v0.9h-0.9zM213.8 585.3h0.9v0.9h-0.9zM210.4 581.5h0.9v0.9h-0.9zM218.1 591.3h0.9v0.9h-0.9zM208.5 567.6h0.9v0.9h-0.9zM207.4 575.5h0.9v0.9h-0.9zM204.8 568.3h0.9v0.9h-0.9zM210.9 584.3h0.9v0.9h-0.9zM216.8 592.9h0.9v0.9h-0.9zM199.6 567.3h0.9v0.9h-0.9zM214.1 589.3h0.9v0.9h-0.9zM202.1 567.4h0.9v0.9h-0.9zM205.2 569.1h0.9v0.9h-0.9zM204.9 568.3h0.9v0.9h-0.9zM212.5 586.6h0.9v0.9h-0.9zM209.5 584.5h0.9v0.9h-0.9zM212.1 583.0h0.9v0.9h-0.9zM200.6 560.0h0.9v0.9h-0.9zM214.0 593.3h0.9v0.9h-0.9zM210.2 602.0h0.9v0.9h-0.9zM213.6 587.5h0.9v0.9h-0.9zM209.7 580.4h0.9v0.9h-0.9zM205.1 570.4h0.9v0.9h-0.9zM213.0 595.2h0.9v0.9h-0.9zM213.3 587.1h0.9v0.9h-0.9zM212.7 586.6h0.9v0.9h-0.9zM203.3 568.8h0.9v0.9h-0.9zM211.3 604.8h0.9v0.9h-0.9zM201.5 571.1h0.9v0.9h-0.9zM206.6 569.7h0.9v0.9h-0.9zM203.3 563.1h0.9v0.9h-0.9zM211.1 590.3h0.9v0.9h-0.9zM200.8 560.3h0.9v0.9h-0.9zM209.7 578.5h0.9v0.9h-0.9zM209.1 594.3h0.9v0.9h-0.9zM213.9 590.6h0.9v0.9h-0.9zM205.4 568.2h0.9v0.9h-0.9zM213.3 592.8h0.9v0.9h-0.9zM213.8 594.3h0.9v0.9h-0.9zM211.6 579.1h0.9v0.9h-0.9zM208.5 569.4h0.9v0.9h-0.9zM208.2 571.2h0.9v0.9h-0.9zM206.4 572.9h0.9v0.9h-0.9zM205.1 564.5h0.9v0.9h-0.9zM209.6 578.6h0.9v0.9h-0.9zM213.0 601.0h0.9v0.9h-0.9zM213.6 588.6h0.9v0.9h-0.9zM204.7 580.2h0.9v0.9h-0.9zM209.6 602.9h0.9v0.9h-0.9zM207.8 575.1h0.9v0.9h-0.9zM212.2 583.7h0.9v0.9h-0.9zM205.2 564.0h0.9v0.9h-0.9zM203.6 575.9h0.9v0.9h-0.9zM211.4 586.5h0.9v0.9h-0.9zM211.9 595.4h0.9v0.9h-0.9zM215.8 592.0h0.9v0.9h-0.9zM210.3 579.1h0.9v0.9h-0.9zM210.1 592.0h0.9v0.9h-0.9zM205.3 572.7h0.9v0.9h-0.9zM215.0 595.3h0.9v0.9h-0.9zM211.8 590.2h0.9v0.9h-0.9zM212.6 586.8h0.9v0.9h-0.9zM205.8 570.1h0.9v0.9h-0.9zM210.6 580.3h0.9v0.9h-0.9zM211.2 599.0h0.9v0.9h-0.9zM209.8 594.1h0.9v0.9h-0.9zM207.4 573.7h0.9v0.9h-0.9zM207.9 581.3h0.9v0.9h-0.9zM201.5 561.5h0.9v0.9h-0.9zM209.1 599.2h0.9v0.9h-0.9zM215.2 589.8h0.9v0.9h-0.9zM216.7 587.6h0.9v0.9h-0.9zM209.9 602.3h0.9v0.9h-0.9zM211.2 602.4h0.9v0.9h-0.9zM204.5 569.4h0.9v0.9h-0.9zM204.7 577.2h0.9v0.9h-0.9zM199.6 564.7h0.9v0.9h-0.9zM200.3 562.8h0.9v0.9h-0.9zM211.5 597.1h0.9v0.9h-0.9zM209.9 603.9h0.9v0.9h-0.9zM202.8 575.4h0.9v0.9h-0.9zM209.8 606.0h0.9v0.9h-0.9zM215.5 591.5h0.9v0.9h-0.9zM205.6 564.7h0.9v0.9h-0.9zM205.2 570.2h0.9v0.9h-0.9zM201.8 563.3h0.9v0.9h-0.9zM206.0 575.7h0.9v0.9h-0.9zM213.9 591.9h0.9v0.9h-0.9zM204.6 564.8h0.9v0.9h-0.9zM210.1 592.3h0.9v0.9h-0.9zM209.4 599.4h0.9v0.9h-0.9zM212.8 587.3h0.9v0.9h-0.9zM202.0 564.2h0.9v0.9h-0.9zM213.7 587.5h0.9v0.9h-0.9zM209.9 573.3h0.9v0.9h-0.9zM213.0 590.3h0.9v0.9h-0.9zM203.8 567.7h0.9v0.9h-0.9zM212.0 599.0h0.9v0.9h-0.9zM201.6 567.3h0.9v0.9h-0.9zM207.3 571.2h0.9v0.9h-0.9zM201.2 565.1h0.9v0.9h-0.9zM205.0 567.2h0.9v0.9h-0.9zM209.9 570.4h0.9v0.9h-0.9zM217.5 587.1h0.9v0.9h-0.9zM213.3 584.3h0.9v0.9h-0.9zM207.3 569.9h0.9v0.9h-0.9zM211.8 596.5h0.9v0.9h-0.9zM211.8 596.3h0.9v0.9h-0.9zM205.6 562.8h0.9v0.9h-0.9zM209.4 579.1h0.9v0.9h-0.9zM213.0 596.3h0.9v0.9h-0.9zM203.1 565.1h0.9v0.9h-0.9zM205.7 576.8h0.9v0.9h-0.9zM212.0 599.1h0.9v0.9h-0.9zM213.1 583.8h0.9v0.9h-0.9zM206.3 575.6h0.9v0.9h-0.9zM203.9 568.7h0.9v0.9h-0.9zM207.7 582.4h0.9v0.9h-0.9zM211.0 595.0h0.9v0.9h-0.9zM208.2 569.4h0.9v0.9h-0.9zM214.4 592.0h0.9v0.9h-0.9zM210.2 585.7h0.9v0.9h-0.9zM202.9 565.1h0.9v0.9h-0.9zM210.0 592.0h0.9v0.9h-0.9zM211.6 595.2h0.9v0.9h-0.9zM214.8 593.3h0.9v0.9h-0.9zM214.1 596.7h0.9v0.9h-0.9zM211.4 580.6h0.9v0.9h-0.9zM216.0 594.4h0.9v0.9h-0.9zM205.4 570.8h0.9v0.9h-0.9zM206.5 565.9h0.9v0.9h-0.9zM204.3 565.2h0.9v0.9h-0.9zM205.6 567.1h0.9v0.9h-0.9zM211.9 591.5h0.9v0.9h-0.9zM205.0 562.5h0.9v0.9h-0.9zM207.7 572.2h0.9v0.9h-0.9zM209.0 579.1h0.9v0.9h-0.9zM214.0 588.7h0.9v0.9h-0.9zM213.4 588.5h0.9v0.9h-0.9zM212.3 589.4h0.9v0.9h-0.9zM205.8 571.5h0.9v0.9h-0.9zM208.8 602.2h0.9v0.9h-0.9zM202.4 567.6h0.9v0.9h-0.9zM212.6 599.3h0.9v0.9h-0.9zM204.4 561.3h0.9v0.9h-0.9zM207.5 563.7h0.9v0.9h-0.9zM206.0 576.5h0.9v0.9h-0.9zM212.4 597.2h0.9v0.9h-0.9zM206.6 574.1h0.9v0.9h-0.9zM202.1 569.8h0.9v0.9h-0.9zM205.0 560.3h0.9v0.9h-0.9zM204.8 561.4h0.9v0.9h-0.9zM211.4 593.5h0.9v0.9h-0.9zM205.8 575.3h0.9v0.9h-0.9zM214.5 584.0h0.9v0.9h-0.9zM207.0 570.4h0.9v0.9h-0.9zM203.1 570.4h0.9v0.9h-0.9zM207.6 578.7h0.9v0.9h-0.9zM206.7 578.0h0.9v0.9h-0.9zM215.6 592.0h0.9v0.9h-0.9zM207.4 579.2h0.9v0.9h-0.9zM203.0 570.9h0.9v0.9h-0.9zM209.2 587.1h0.9v0.9h-0.9zM214.5 597.7h0.9v0.9h-0.9zM202.5 558.3h0.9v0.9h-0.9zM211.0 581.8h0.9v0.9h-0.9zM206.3 571.4h0.9v0.9h-0.9zM202.6 563.3h0.9v0.9h-0.9zM208.7 576.4h0.9v0.9h-0.9zM208.6 577.3h0.9v0.9h-0.9zM206.9 582.1h0.9v0.9h-0.9zM208.7 583.7h0.9v0.9h-0.9zM205.9 575.9h0.9v0.9h-0.9zM200.8 573.4h0.9v0.9h-0.9zM212.6 591.7h0.9v0.9h-0.9zM198.1 563.7h0.9v0.9h-0.9zM207.5 579.7h0.9v0.9h-0.9zM209.9 583.9h0.9v0.9h-0.9zM208.8 602.0h0.9v0.9h-0.9zM204.3 574.7h0.9v0.9h-0.9zM204.5 570.8h0.9v0.9h-0.9zM211.0 593.0h0.9v0.9h-0.9zM209.9 581.5h0.9v0.9h-0.9zM204.5 569.4h0.9v0.9h-0.9zM208.9 581.3h0.9v0.9h-0.9zM212.0 589.1h0.9v0.9h-0.9zM209.1 580.8h0.9v0.9h-0.9zM203.0 562.0h0.9v0.9h-0.9zM209.8 580.7h0.9v0.9h-0.9zM207.5 565.2h0.9v0.9h-0.9zM214.8 591.2h0.9v0.9h-0.9zM212.8 601.8h0.9v0.9h-0.9zM211.6 586.4h0.9v0.9h-0.9zM205.9 569.1h0.9v0.9h-0.9zM212.2 598.0h0.9v0.9h-0.9zM207.7 578.3h0.9v0.9h-0.9zM210.8 601.5h0.9v0.9h-0.9zM211.6 602.2h0.9v0.9h-0.9zM209.9 584.6h0.9v0.9h-0.9zM211.5 589.2h0.9v0.9h-0.9zM204.5 577.1h0.9v0.9h-0.9zM213.4 601.5h0.9v0.9h-0.9zM213.5 595.2h0.9v0.9h-0.9zM212.2 593.6h0.9v0.9h-0.9zM203.9 568.7h0.9v0.9h-0.9zM212.6 582.1h0.9v0.9h-0.9zM207.7 569.3h0.9v0.9h-0.9zM199.4 564.2h0.9v0.9h-0.9zM211.2 586.5h0.9v0.9h-0.9zM208.2 565.5h0.9v0.9h-0.9zM204.0 567.5h0.9v0.9h-0.9zM215.0 594.9h0.9v0.9h-0.9zM205.0 580.7h0.9v0.9h-0.9zM211.2 583.4h0.9v0.9h-0.9zM212.0 587.7h0.9v0.9h-0.9zM202.5 561.3h0.9v0.9h-0.9zM211.6 587.2h0.9v0.9h-0.9zM202.0 572.7h0.9v0.9h-0.9zM213.2 597.0h0.9v0.9h-0.9zM211.8 595.8h0.9v0.9h-0.9zM200.6 560.6h0.9v0.9h-0.9zM210.9 597.1h0.9v0.9h-0.9zM213.2 595.5h0.9v0.9h-0.9zM206.7 575.0h0.9v0.9h-0.9zM209.6 584.5h0.9v0.9h-0.9zM214.9 587.4h0.9v0.9h-0.9zM204.3 568.0h0.9v0.9h-0.9zM211.6 593.1h0.9v0.9h-0.9zM209.9 602.4h0.9v0.9h-0.9zM202.9 564.4h0.9v0.9h-0.9zM214.6 596.6h0.9v0.9h-0.9zM213.7 601.0h0.9v0.9h-0.9zM212.6 597.7h0.9v0.9h-0.9zM206.1 560.6h0.9v0.9h-0.9zM205.0 566.0h0.9v0.9h-0.9zM212.7 599.1h0.9v0.9h-0.9zM210.7 582.5h0.9v0.9h-0.9zM210.6 598.2h0.9v0.9h-0.9zM213.2 585.8h0.9v0.9h-0.9zM206.7 564.6h0.9v0.9h-0.9zM216.6 590.4h0.9v0.9h-0.9zM205.4 567.9h0.9v0.9h-0.9zM210.4 576.9h0.9v0.9h-0.9zM213.3 596.2h0.9v0.9h-0.9zM206.3 569.3h0.9v0.9h-0.9zM208.6 581.6h0.9v0.9h-0.9zM209.9 588.1h0.9v0.9h-0.9zM204.0 580.9h0.9v0.9h-0.9zM205.7 575.0h0.9v0.9h-0.9zM210.6 590.3h0.9v0.9h-0.9zM201.4 566.3h0.9v0.9h-0.9zM213.1 598.2h0.9v0.9h-0.9zM214.9 593.7h0.9v0.9h-0.9zM210.8 585.4h0.9v0.9h-0.9zM209.8 602.2h0.9v0.9h-0.9zM213.2 589.6h0.9v0.9h-0.9zM208.8 599.5h0.9v0.9h-0.9zM201.0 559.8h0.9v0.9h-0.9zM212.0 601.6h0.9v0.9h-0.9zM209.8 576.4h0.9v0.9h-0.9zM210.7 602.1h0.9v0.9h-0.9zM204.2 564.8h0.9v0.9h-0.9zM207.0 583.3h0.9v0.9h-0.9zM211.5 583.8h0.9v0.9h-0.9zM206.1 569.9h0.9v0.9h-0.9zM212.9 594.1h0.9v0.9h-0.9zM217.2 595.4h0.9v0.9h-0.9zM204.6 570.1h0.9v0.9h-0.9zM209.4 602.3h0.9v0.9h-0.9zM199.1 562.2h0.9v0.9h-0.9zM205.5 565.9h0.9v0.9h-0.9zM215.7 598.3h0.9v0.9h-0.9zM202.1 564.7h0.9v0.9h-0.9zM212.8 592.4h0.9v0.9h-0.9zM213.7 593.3h0.9v0.9h-0.9zM215.1 585.3h0.9v0.9h-0.9zM203.1 571.7h0.9v0.9h-0.9zM210.4 586.8h0.9v0.9h-0.9zM213.0 596.5h0.9v0.9h-0.9zM207.8 568.6h0.9v0.9h-0.9zM212.3 596.3h0.9v0.9h-0.9zM205.1 566.7h0.9v0.9h-0.9zM203.2 558.9h0.9v0.9h-0.9zM205.6 572.5h0.9v0.9h-0.9zM210.3 595.1h0.9v0.9h-0.9zM204.7 578.1h0.9v0.9h-0.9zM210.7 597.1h0.9v0.9h-0.9zM212.5 600.6h0.9v0.9h-0.9zM209.4 599.2h0.9v0.9h-0.9zM214.9 589.4h0.9v0.9h-0.9zM207.7 578.5h0.9v0.9h-0.9zM204.4 566.7h0.9v0.9h-0.9zM215.4 588.3h0.9v0.9h-0.9zM213.3 590.3h0.9v0.9h-0.9zM205.0 566.7h0.9v0.9h-0.9zM204.3 565.5h0.9v0.9h-0.9zM202.6 562.7h0.9v0.9h-0.9zM203.7 578.4h0.9v0.9h-0.9zM204.7 563.8h0.9v0.9h-0.9zM210.0 587.0h0.9v0.9h-0.9zM204.5 568.6h0.9v0.9h-0.9zM212.1 585.3h0.9v0.9h-0.9zM213.8 601.6h0.9v0.9h-0.9zM205.3 569.2h0.9v0.9h-0.9zM213.3 593.3h0.9v0.9h-0.9zM210.5 587.1h0.9v0.9h-0.9zM212.2 580.2h0.9v0.9h-0.9zM213.4 593.9h0.9v0.9h-0.9zM213.5 589.9h0.9v0.9h-0.9zM209.3 585.5h0.9v0.9h-0.9zM213.3 577.8h0.9v0.9h-0.9zM210.5 585.0h0.9v0.9h-0.9zM211.7 584.6h0.9v0.9h-0.9zM210.3 597.9h0.9v0.9h-0.9zM212.4 599.4h0.9v0.9h-0.9zM207.5 574.2h0.9v0.9h-0.9zM212.3 600.8h0.9v0.9h-0.9zM207.8 569.8h0.9v0.9h-0.9zM211.6 583.9h0.9v0.9h-0.9zM199.6 567.9h0.9v0.9h-0.9zM203.4 562.1h0.9v0.9h-0.9zM216.6 600.4h0.9v0.9h-0.9zM212.9 588.1h0.9v0.9h-0.9zM210.7 601.4h0.9v0.9h-0.9zM214.3 589.8h0.9v0.9h-0.9zM211.6 600.2h0.9v0.9h-0.9zM213.8 580.3h0.9v0.9h-0.9zM203.9 569.4h0.9v0.9h-0.9zM211.8 599.0h0.9v0.9h-0.9zM213.0 594.3h0.9v0.9h-0.9zM209.9 590.1h0.9v0.9h-0.9zM213.0 592.0h0.9v0.9h-0.9zM210.0 580.3h0.9v0.9h-0.9zM212.1 585.1h0.9v0.9h-0.9zM203.6 561.8h0.9v0.9h-0.9zM204.1 569.2h0.9v0.9h-0.9zM208.5 573.4h0.9v0.9h-0.9zM212.0 588.5h0.9v0.9h-0.9zM207.6 603.3h0.9v0.9h-0.9zM210.9 570.7h0.9v0.9h-0.9zM213.3 593.2h0.9v0.9h-0.9zM214.4 593.9h0.9v0.9h-0.9zM211.5 578.8h0.9v0.9h-0.9zM211.8 589.0h0.9v0.9h-0.9zM213.5 592.4h0.9v0.9h-0.9zM214.7 597.3h0.9v0.9h-0.9zM205.8 572.0h0.9v0.9h-0.9zM198.7 562.5h0.9v0.9h-0.9zM211.0 576.6h0.9v0.9h-0.9zM204.9 570.3h0.9v0.9h-0.9zM204.5 572.0h0.9v0.9h-0.9zM206.5 561.0h0.9v0.9h-0.9zM212.1 581.3h0.9v0.9h-0.9zM210.1 588.0h0.9v0.9h-0.9zM213.8 584.5h0.9v0.9h-0.9zM210.8 597.0h0.9v0.9h-0.9zM212.4 603.2h0.9v0.9h-0.9zM206.0 573.8h0.9v0.9h-0.9zM203.5 561.4h0.9v0.9h-0.9zM199.2 563.4h0.9v0.9h-0.9zM208.0 574.2h0.9v0.9h-0.9zM209.8 598.7h0.9v0.9h-0.9zM212.9 594.7h0.9v0.9h-0.9zM214.6 599.5h0.9v0.9h-0.9zM214.6 595.0h0.9v0.9h-0.9zM207.8 572.0h0.9v0.9h-0.9zM204.8 572.3h0.9v0.9h-0.9zM204.7 573.8h0.9v0.9h-0.9zM213.6 600.0h0.9v0.9h-0.9zM201.6 566.0h0.9v0.9h-0.9zM211.5 593.1h0.9v0.9h-0.9zM203.3 569.6h0.9v0.9h-0.9zM216.9 592.4h0.9v0.9h-0.9zM205.5 572.6h0.9v0.9h-0.9zM212.6 591.3h0.9v0.9h-0.9zM208.7 575.7h0.9v0.9h-0.9zM208.0 571.3h0.9v0.9h-0.9zM202.1 572.6h0.9v0.9h-0.9zM212.8 600.2h0.9v0.9h-0.9zM207.1 566.1h0.9v0.9h-0.9zM203.1 562.5h0.9v0.9h-0.9zM205.9 570.3h0.9v0.9h-0.9zM204.6 561.4h0.9v0.9h-0.9zM209.3 579.0h0.9v0.9h-0.9zM211.8 587.9h0.9v0.9h-0.9zM205.9 563.2h0.9v0.9h-0.9zM204.9 569.0h0.9v0.9h-0.9zM213.4 588.8h0.9v0.9h-0.9zM208.6 572.5h0.9v0.9h-0.9zM206.2 570.3h0.9v0.9h-0.9zM207.3 568.6h0.9v0.9h-0.9zM207.0 564.3h0.9v0.9h-0.9zM212.1 589.2h0.9v0.9h-0.9zM213.7 600.0h0.9v0.9h-0.9zM206.8 574.1h0.9v0.9h-0.9zM213.0 590.2h0.9v0.9h-0.9zM207.4 582.4h0.9v0.9h-0.9zM215.2 596.4h0.9v0.9h-0.9zM207.0 603.1h0.9v0.9h-0.9zM208.9 587.9h0.9v0.9h-0.9zM211.9 598.6h0.9v0.9h-0.9zM207.7 578.5h0.9v0.9h-0.9zM204.4 563.5h0.9v0.9h-0.9zM210.5 585.7h0.9v0.9h-0.9zM195.8 560.0h0.9v0.9h-0.9zM206.3 574.4h0.9v0.9h-0.9zM203.5 564.9h0.9v0.9h-0.9zM203.6 563.4h0.9v0.9h-0.9zM212.0 596.1h0.9v0.9h-0.9zM206.6 579.7h0.9v0.9h-0.9zM206.5 576.6h0.9v0.9h-0.9zM210.8 589.8h0.9v0.9h-0.9zM201.1 560.9h0.9v0.9h-0.9zM209.7 601.2h0.9v0.9h-0.9zM201.3 565.3h0.9v0.9h-0.9zM211.1 596.0h0.9v0.9h-0.9zM211.4 601.8h0.9v0.9h-0.9zM215.1 589.6h0.9v0.9h-0.9zM214.3 592.3h0.9v0.9h-0.9zM210.9 587.1h0.9v0.9h-0.9zM214.1 584.4h0.9v0.9h-0.9zM212.1 588.3h0.9v0.9h-0.9zM206.8 587.1h0.9v0.9h-0.9zM209.4 594.1h0.9v0.9h-0.9zM205.9 569.7h0.9v0.9h-0.9zM207.3 579.0h0.9v0.9h-0.9zM207.0 579.6h0.9v0.9h-0.9zM206.3 573.5h0.9v0.9h-0.9zM209.3 584.0h0.9v0.9h-0.9zM201.8 569.3h0.9v0.9h-0.9zM211.6 603.7h0.9v0.9h-0.9zM212.8 593.4h0.9v0.9h-0.9zM212.1 588.6h0.9v0.9h-0.9zM201.7 562.2h0.9v0.9h-0.9zM211.9 596.8h0.9v0.9h-0.9zM204.6 565.6h0.9v0.9h-0.9zM205.4 569.6h0.9v0.9h-0.9zM210.1 599.8h0.9v0.9h-0.9zM204.4 569.1h0.9v0.9h-0.9zM208.1 574.6h0.9v0.9h-0.9zM206.8 574.3h0.9v0.9h-0.9zM215.9 595.3h0.9v0.9h-0.9zM202.4 574.5h0.9v0.9h-0.9zM208.9 573.9h0.9v0.9h-0.9zM204.7 564.1h0.9v0.9h-0.9zM204.9 570.6h0.9v0.9h-0.9zM207.6 573.7h0.9v0.9h-0.9zM209.2 583.9h0.9v0.9h-0.9zM211.9 602.8h0.9v0.9h-0.9zM205.6 572.7h0.9v0.9h-0.9zM212.1 602.0h0.9v0.9h-0.9zM209.0 597.8h0.9v0.9h-0.9zM214.3 594.0h0.9v0.9h-0.9zM206.1 573.6h0.9v0.9h-0.9zM204.3 569.6h0.9v0.9h-0.9zM206.2 574.3h0.9v0.9h-0.9zM202.2 560.6h0.9v0.9h-0.9zM209.5 581.3h0.9v0.9h-0.9zM207.1 569.1h0.9v0.9h-0.9zM204.3 575.0h0.9v0.9h-0.9zM203.0 565.9h0.9v0.9h-0.9zM209.6 578.9h0.9v0.9h-0.9zM209.3 586.9h0.9v0.9h-0.9zM210.7 600.0h0.9v0.9h-0.9zM206.7 565.5h0.9v0.9h-0.9zM209.5 601.3h0.9v0.9h-0.9zM214.3 583.4h0.9v0.9h-0.9z" fill="#111" fill-opacity="0.65"/>
<path d="M221.3 587.2h0.9v0.9h-0.9zM216.5 596.3h0.9v0.9h-0.9zM224.2 567.1h0.9v0.9h-0.9zM219.1 592.9h0.9v0.9h-0.9zM223.2 585.2h0.9v0.9h-0.9zM228.8 566.6h0.9v0.9h-0.9zM224.8 575.4h0.9v0.9h-0.9zM224.8 570.5h0.9v0.9h-0.9zM226.0 563.0h0.9v0.9h-0.9zM224.7 575.0h0.9v0.9h-0.9zM222.4 577.3h0.9v0.9h-0.9zM220.0 589.0h0.9v0.9h-0.9zM221.1 595.1h0.9v0.9h-0.9zM229.0 561.8h0.9v0.9h-0.9zM226.8 571.7h0.9v0.9h-0.9zM227.4 572.6h0.9v0.9h-0.9zM223.3 568.0h0.9v0.9h-0.9zM221.1 574.2h0.9v0.9h-0.9zM219.6 584.2h0.9v0.9h-0.9zM220.8 594.4h0.9v0.9h-0.9zM220.9 592.2h0.9v0.9h-0.9zM222.5 577.8h0.9v0.9h-0.9zM220.7 589.7h0.9v0.9h-0.9zM218.0 599.1h0.9v0.9h-0.9zM216.2 592.3h0.9v0.9h-0.9zM219.5 594.9h0.9v0.9h-0.9zM222.7 580.0h0.9v0.9h-0.9zM226.8 570.0h0.9v0.9h-0.9zM226.1 570.1h0.9v0.9h-0.9zM230.9 567.9h0.9v0.9h-0.9zM215.9 589.0h0.9v0.9h-0.9zM221.4 593.1h0.9v0.9h-0.9zM223.7 569.8h0.9v0.9h-0.9zM217.3 582.5h0.9v0.9h-0.9zM226.7 572.3h0.9v0.9h-0.9zM217.8 598.5h0.9v0.9h-0.9zM223.2 578.1h0.9v0.9h-0.9zM224.9 578.3h0.9v0.9h-0.9zM220.6 584.9h0.9v0.9h-0.9zM219.9 590.5h0.9v0.9h-0.9zM227.2 563.9h0.9v0.9h-0.9zM219.5 595.3h0.9v0.9h-0.9zM221.6 584.8h0.9v0.9h-0.9zM215.8 593.7h0.9v0.9h-0.9zM217.3 592.8h0.9v0.9h-0.9zM219.0 590.9h0.9v0.9h-0.9zM225.8 572.4h0.9v0.9h-0.9zM231.7 564.6h0.9v0.9h-0.9zM218.1 588.2h0.9v0.9h-0.9zM227.4 571.3h0.9v0.9h-0.9zM223.2 578.5h0.9v0.9h-0.9zM226.6 564.1h0.9v0.9h-0.9zM226.9 578.9h0.9v0.9h-0.9zM219.3 595.5h0.9v0.9h-0.9zM227.8 558.3h0.9v0.9h-0.9zM224.2 579.4h0.9v0.9h-0.9zM222.3 580.7h0.9v0.9h-0.9zM225.0 570.8h0.9v0.9h-0.9zM228.4 558.5h0.9v0.9h-0.9zM220.5 591.4h0.9v0.9h-0.9zM222.2 579.3h0.9v0.9h-0.9zM219.3 592.3h0.9v0.9h-0.9zM227.7 560.1h0.9v0.9h-0.9zM220.9 588.7h0.9v0.9h-0.9zM226.4 574.7h0.9v0.9h-0.9zM226.1 574.3h0.9v0.9h-0.9zM230.6 562.4h0.9v0.9h-0.9zM222.2 594.5h0.9v0.9h-0.9zM221.8 577.4h0.9v0.9h-0.9zM220.6 602.0h0.9v0.9h-0.9zM227.0 572.8h0.9v0.9h-0.9zM231.5 563.4h0.9v0.9h-0.9zM217.9 586.8h0.9v0.9h-0.9zM223.9 579.8h0.9v0.9h-0.9zM217.9 588.2h0.9v0.9h-0.9zM217.9 587.7h0.9v0.9h-0.9zM227.7 575.4h0.9v0.9h-0.9zM222.0 576.4h0.9v0.9h-0.9zM219.1 591.5h0.9v0.9h-0.9zM230.3 567.0h0.9v0.9h-0.9zM224.7 578.3h0.9v0.9h-0.9zM221.8 586.2h0.9v0.9h-0.9zM221.3 593.2h0.9v0.9h-0.9zM221.8 581.5h0.9v0.9h-0.9zM226.4 575.5h0.9v0.9h-0.9zM219.6 589.9h0.9v0.9h-0.9zM215.4 592.4h0.9v0.9h-0.9zM219.8 599.8h0.9v0.9h-0.9zM222.7 573.0h0.9v0.9h-0.9zM225.8 564.2h0.9v0.9h-0.9zM226.3 569.0h0.9v0.9h-0.9zM217.7 594.8h0.9v0.9h-0.9zM228.7 567.7h0.9v0.9h-0.9zM216.7 592.2h0.9v0.9h-0.9zM222.8 603.9h0.9v0.9h-0.9zM228.2 570.3h0.9v0.9h-0.9zM227.0 557.8h0.9v0.9h-0.9zM220.5 584.3h0.9v0.9h-0.9zM223.1 582.4h0.9v0.9h-0.9zM217.3 593.7h0.9v0.9h-0.9zM221.0 575.8h0.9v0.9h-0.9zM218.8 583.0h0.9v0.9h-0.9zM228.8 568.9h0.9v0.9h-0.9zM230.4 563.6h0.9v0.9h-0.9zM218.5 588.8h0.9v0.9h-0.9zM225.1 569.1h0.9v0.9h-0.9zM226.7 562.6h0.9v0.9h-0.9zM224.4 579.2h0.9v0.9h-0.9zM226.6 576.3h0.9v0.9h-0.9zM220.8 582.2h0.9v0.9h-0.9zM223.7 577.1h0.9v0.9h-0.9zM223.9 580.4h0.9v0.9h-0.9zM223.4 577.9h0.9v0.9h-0.9zM220.9 595.4h0.9v0.9h-0.9zM222.1 602.9h0.9v0.9h-0.9zM221.1 577.8h0.9v0.9h-0.9zM218.2 577.4h0.9v0.9h-0.9zM220.3 594.2h0.9v0.9h-0.9zM215.8 596.4h0.9v0.9h-0.9zM219.2 599.8h0.9v0.9h-0.9zM227.0 565.8h0.9v0.9h-0.9zM224.1 572.1h0.9v0.9h-0.9zM218.0 597.7h0.9v0.9h-0.9zM224.1 577.2h0.9v0.9h-0.9zM221.4 579.7h0.9v0.9h-0.9zM222.3 604.6h0.9v0.9h-0.9zM226.8 567.3h0.9v0.9h-0.9zM228.0 571.1h0.9v0.9h-0.9zM219.6 587.0h0.9v0.9h-0.9zM222.0 599.9h0.9v0.9h-0.9zM223.5 595.3h0.9v0.9h-0.9zM218.9 584.7h0.9v0.9h-0.9zM224.9 572.7h0.9v0.9h-0.9zM221.7 588.7h0.9v0.9h-0.9zM221.8 602.0h0.9v0.9h-0.9zM220.4 585.6h0.9v0.9h-0.9zM216.4 590.7h0.9v0.9h-0.9zM228.0 561.2h0.9v0.9h-0.9zM218.5 598.4h0.9v0.9h-0.9zM220.1 584.0h0.9v0.9h-0.9zM218.8 601.3h0.9v0.9h-0.9zM213.0 589.1h0.9v0.9h-0.9zM220.1 595.4h0.9v0.9h-0.9zM219.8 592.2h0.9v0.9h-0.9zM223.7 574.7h0.9v0.9h-0.9zM221.4 573.5h0.9v0.9h-0.9zM217.2 599.9h0.9v0.9h-0.9zM222.3 579.4h0.9v0.9h-0.9zM224.0 574.8h0.9v0.9h-0.9zM223.3 601.3h0.9v0.9h-0.9zM216.5 594.2h0.9v0.9h-0.9zM225.3 582.8h0.9v0.9h-0.9zM219.4 585.6h0.9v0.9h-0.9zM220.2 604.3h0.9v0.9h-0.9zM232.3 562.1h0.9v0.9h-0.9zM229.7 570.5h0.9v0.9h-0.9zM232.0 560.3h0.9v0.9h-0.9zM222.6 576.9h0.9v0.9h-0.9zM221.3 597.3h0.9v0.9h-0.9zM220.5 577.5h0.9v0.9h-0.9zM220.2 602.9h0.9v0.9h-0.9zM220.9 595.2h0.9v0.9h-0.9zM228.4 561.3h0.9v0.9h-0.9zM220.7 583.8h0.9v0.9h-0.9zM219.2 591.5h0.9v0.9h-0.9zM219.8 586.6h0.9v0.9h-0.9zM222.8 575.8h0.9v0.9h-0.9zM219.4 600.8h0.9v0.9h-0.9zM218.8 580.0h0.9v0.9h-0.9zM222.1 598.6h0.9v0.9h-0.9zM219.2 572.1h0.9v0.9h-0.9zM217.3 602.5h0.9v0.9h-0.9zM228.2 563.0h0.9v0.9h-0.9zM224.8 570.3h0.9v0.9h-0.9zM220.9 600.1h0.9v0.9h-0.9zM225.8 572.5h0.9v0.9h-0.9zM222.0 582.0h0.9v0.9h-0.9zM218.0 597.1h0.9v0.9h-0.9zM226.7 568.6h0.9v0.9h-0.9zM224.2 598.5h0.9v0.9h-0.9zM215.6 590.0h0.9v0.9h-0.9zM223.4 586.2h0.9v0.9h-0.9zM230.5 569.6h0.9v0.9h-0.9zM225.1 578.5h0.9v0.9h-0.9zM219.3 590.7h0.9v0.9h-0.9zM217.5 591.2h0.9v0.9h-0.9zM221.4 603.2h0.9v0.9h-0.9zM218.1 600.7h0.9v0.9h-0.9zM229.7 560.3h0.9v0.9h-0.9zM216.1 588.3h0.9v0.9h-0.9zM224.8 577.6h0.9v0.9h-0.9zM218.0 592.2h0.9v0.9h-0.9zM222.7 572.1h0.9v0.9h-0.9zM220.4 585.6h0.9v0.9h-0.9zM222.1 572.5h0.9v0.9h-0.9zM220.3 601.6h0.9v0.9h-0.9zM216.7 584.9h0.9v0.9h-0.9zM219.5 600.5h0.9v0.9h-0.9zM224.4 579.0h0.9v0.9h-0.9zM225.0 564.8h0.9v0.9h-0.9zM217.8 586.5h0.9v0.9h-0.9zM221.9 580.2h0.9v0.9h-0.9zM220.6 581.8h0.9v0.9h-0.9zM221.6 578.6h0.9v0.9h-0.9zM226.6 561.7h0.9v0.9h-0.9zM230.0 562.5h0.9v0.9h-0.9zM224.8 573.4h0.9v0.9h-0.9zM218.4 592.5h0.9v0.9h-0.9zM221.3 581.7h0.9v0.9h-0.9zM227.1 566.3h0.9v0.9h-0.9zM223.8 581.2h0.9v0.9h-0.9zM223.7 606.3h0.9v0.9h-0.9zM220.4 588.6h0.9v0.9h-0.9zM219.4 586.2h0.9v0.9h-0.9zM221.1 581.4h0.9v0.9h-0.9zM224.4 564.9h0.9v0.9h-0.9zM221.0 598.1h0.9v0.9h-0.9zM226.5 570.0h0.9v0.9h-0.9zM221.4 598.3h0.9v0.9h-0.9zM228.1 565.1h0.9v0.9h-0.9zM221.0 596.8h0.9v0.9h-0.9zM227.7 570.2h0.9v0.9h-0.9zM223.4 589.0h0.9v0.9h-0.9zM220.6 592.4h0.9v0.9h-0.9zM224.0 577.2h0.9v0.9h-0.9zM221.0 587.6h0.9v0.9h-0.9zM218.7 593.7h0.9v0.9h-0.9zM218.0 594.5h0.9v0.9h-0.9zM221.8 588.4h0.9v0.9h-0.9zM217.3 592.1h0.9v0.9h-0.9zM225.8 573.6h0.9v0.9h-0.9zM221.7 604.7h0.9v0.9h-0.9zM219.0 590.7h0.9v0.9h-0.9zM223.9 583.2h0.9v0.9h-0.9zM224.5 570.0h0.9v0.9h-0.9zM227.2 566.7h0.9v0.9h-0.9zM222.3 600.6h0.9v0.9h-0.9zM221.3 580.3h0.9v0.9h-0.9zM227.1 566.0h0.9v0.9h-0.9zM219.7 597.7h0.9v0.9h-0.9zM221.3 576.2h0.9v0.9h-0.9zM218.7 596.9h0.9v0.9h-0.9zM221.0 577.6h0.9v0.9h-0.9zM219.4 590.9h0.9v0.9h-0.9zM230.1 562.7h0.9v0.9h-0.9zM219.9 583.8h0.9v0.9h-0.9zM219.8 599.9h0.9v0.9h-0.9zM217.9 592.4h0.9v0.9h-0.9zM216.1 591.8h0.9v0.9h-0.9zM218.7 583.8h0.9v0.9h-0.9zM218.8 588.9h0.9v0.9h-0.9zM214.8 594.8h0.9v0.9h-0.9zM225.4 569.7h0.9v0.9h-0.9zM226.7 568.6h0.9v0.9h-0.9zM222.4 600.2h0.9v0.9h-0.9zM215.4 591.9h0.9v0.9h-0.9zM218.3 580.3h0.9v0.9h-0.9zM223.8 570.7h0.9v0.9h-0.9zM220.6 587.6h0.9v0.9h-0.9zM220.8 599.8h0.9v0.9h-0.9zM225.1 572.7h0.9v0.9h-0.9zM224.7 571.6h0.9v0.9h-0.9zM217.4 588.4h0.9v0.9h-0.9zM223.1 601.0h0.9v0.9h-0.9zM218.9 583.7h0.9v0.9h-0.9zM228.6 567.0h0.9v0.9h-0.9zM229.1 564.4h0.9v0.9h-0.9zM221.4 593.3h0.9v0.9h-0.9zM226.2 598.0h0.9v0.9h-0.9zM219.1 595.4h0.9v0.9h-0.9zM220.9 588.0h0.9v0.9h-0.9zM223.5 576.1h0.9v0.9h-0.9zM221.7 579.0h0.9v0.9h-0.9zM223.1 586.2h0.9v0.9h-0.9zM220.0 582.6h0.9v0.9h-0.9zM223.2 572.2h0.9v0.9h-0.9zM223.5 572.0h0.9v0.9h-0.9zM219.8 596.9h0.9v0.9h-0.9zM226.4 561.6h0.9v0.9h-0.9zM223.6 577.1h0.9v0.9h-0.9zM224.3 570.7h0.9v0.9h-0.9zM227.9 566.8h0.9v0.9h-0.9zM223.5 582.8h0.9v0.9h-0.9zM218.4 593.5h0.9v0.9h-0.9zM228.2 566.6h0.9v0.9h-0.9zM224.8 568.5h0.9v0.9h-0.9zM223.2 563.2h0.9v0.9h-0.9zM222.2 602.7h0.9v0.9h-0.9zM222.2 581.7h0.9v0.9h-0.9zM222.3 578.6h0.9v0.9h-0.9zM227.9 561.6h0.9v0.9h-0.9zM229.6 567.4h0.9v0.9h-0.9zM220.7 603.0h0.9v0.9h-0.9zM222.6 578.0h0.9v0.9h-0.9zM226.6 569.5h0.9v0.9h-0.9zM223.8 580.7h0.9v0.9h-0.9zM221.9 574.6h0.9v0.9h-0.9zM221.6 585.3h0.9v0.9h-0.9zM222.5 593.4h0.9v0.9h-0.9zM216.5 589.4h0.9v0.9h-0.9zM225.0 561.0h0.9v0.9h-0.9zM215.6 594.6h0.9v0.9h-0.9zM222.4 573.8h0.9v0.9h-0.9zM226.6 568.6h0.9v0.9h-0.9zM220.5 580.2h0.9v0.9h-0.9zM224.3 576.0h0.9v0.9h-0.9zM220.8 601.7h0.9v0.9h-0.9zM221.9 594.4h0.9v0.9h-0.9zM218.3 584.0h0.9v0.9h-0.9zM220.1 578.9h0.9v0.9h-0.9zM225.4 575.7h0.9v0.9h-0.9zM223.3 585.9h0.9v0.9h-0.9zM217.7 597.1h0.9v0.9h-0.9zM220.5 574.5h0.9v0.9h-0.9zM218.3 585.2h0.9v0.9h-0.9zM222.7 584.3h0.9v0.9h-0.9zM223.1 573.8h0.9v0.9h-0.9zM226.5 577.6h0.9v0.9h-0.9zM216.1 591.4h0.9v0.9h-0.9zM218.1 590.7h0.9v0.9h-0.9zM221.2 600.9h0.9v0.9h-0.9zM221.8 587.8h0.9v0.9h-0.9zM228.7 570.1h0.9v0.9h-0.9zM227.7 568.0h0.9v0.9h-0.9zM223.5 596.3h0.9v0.9h-0.9zM219.5 583.2h0.9v0.9h-0.9zM232.0 562.7h0.9v0.9h-0.9zM220.0 585.4h0.9v0.9h-0.9zM216.3 591.1h0.9v0.9h-0.9zM221.0 604.5h0.9v0.9h-0.9zM218.1 601.6h0.9v0.9h-0.9zM223.8 574.9h0.9v0.9h-0.9zM221.2 583.4h0.9v0.9h-0.9zM223.8 572.4h0.9v0.9h-0.9zM218.0 588.2h0.9v0.9h-0.9zM225.2 573.8h0.9v0.9h-0.9zM223.3 582.3h0.9v0.9h-0.9zM223.6 582.6h0.9v0.9h-0.9zM216.6 593.7h0.9v0.9h-0.9zM223.0 575.8h0.9v0.9h-0.9zM218.6 596.6h0.9v0.9h-0.9zM224.1 574.5h0.9v0.9h-0.9zM221.6 576.5h0.9v0.9h-0.9zM220.6 601.6h0.9v0.9h-0.9zM223.7 564.5h0.9v0.9h-0.9zM229.2 563.9h0.9v0.9h-0.9zM221.5 602.0h0.9v0.9h-0.9zM216.7 589.3h0.9v0.9h-0.9zM221.7 599.3h0.9v0.9h-0.9zM217.4 591.5h0.9v0.9h-0.9zM227.3 565.7h0.9v0.9h-0.9zM223.8 576.0h0.9v0.9h-0.9zM226.8 578.3h0.9v0.9h-0.9zM224.0 572.1h0.9v0.9h-0.9zM219.5 595.5h0.9v0.9h-0.9zM218.2 587.7h0.9v0.9h-0.9zM220.2 577.0h0.9v0.9h-0.9zM217.9 594.1h0.9v0.9h-0.9zM226.1 575.4h0.9v0.9h-0.9zM221.0 585.2h0.9v0.9h-0.9zM221.9 601.7h0.9v0.9h-0.9zM223.4 579.7h0.9v0.9h-0.9zM218.0 597.8h0.9v0.9h-0.9zM223.3 568.2h0.9v0.9h-0.9zM219.5 582.7h0.9v0.9h-0.9zM228.2 566.2h0.9v0.9h-0.9zM218.5 584.7h0.9v0.9h-0.9zM218.9 582.7h0.9v0.9h-0.9zM220.6 593.1h0.9v0.9h-0.9zM229.1 560.2h0.9v0.9h-0.9zM226.5 560.9h0.9v0.9h-0.9zM218.5 580.1h0.9v0.9h-0.9zM220.0 591.5h0.9v0.9h-0.9zM221.3 602.2h0.9v0.9h-0.9zM224.6 569.5h0.9v0.9h-0.9zM229.3 562.7h0.9v0.9h-0.9zM216.4 600.7h0.9v0.9h-0.9zM224.2 573.2h0.9v0.9h-0.9zM224.3 569.5h0.9v0.9h-0.9zM222.3 584.9h0.9v0.9h-0.9zM220.0 578.8h0.9v0.9h-0.9zM214.6 591.4h0.9v0.9h-0.9zM226.9 573.1h0.9v0.9h-0.9zM226.4 566.5h0.9v0.9h-0.9zM225.7 569.1h0.9v0.9h-0.9zM224.8 573.6h0.9v0.9h-0.9zM220.4 600.4h0.9v0.9h-0.9zM218.5 597.8h0.9v0.9h-0.9zM223.6 575.2h0.9v0.9h-0.9zM221.7 580.0h0.9v0.9h-0.9zM224.4 605.6h0.9v0.9h-0.9zM226.8 560.9h0.9v0.9h-0.9zM223.4 579.6h0.9v0.9h-0.9zM220.5 600.7h0.9v0.9h-0.9zM216.7 596.3h0.9v0.9h-0.9zM218.5 603.2h0.9v0.9h-0.9zM223.7 568.6h0.9v0.9h-0.9zM222.0 576.7h0.9v0.9h-0.9zM229.1 564.9h0.9v0.9h-0.9zM221.9 575.5h0.9v0.9h-0.9zM222.2 599.0h0.9v0.9h-0.9zM217.6 594.4h0.9v0.9h-0.9zM220.2 577.1h0.9v0.9h-0.9zM226.7 571.5h0.9v0.9h-0.9zM220.9 600.6h0.9v0.9h-0.9zM229.3 560.0h0.9v0.9h-0.9zM221.4 602.3h0.9v0.9h-0.9zM221.7 579.0h0.9v0.9h-0.9zM220.2 583.7h0.9v0.9h-0.9zM226.9 566.1h0.9v0.9h-0.9zM216.8 588.1h0.9v0.9h-0.9zM218.3 589.9h0.9v0.9h-0.9zM229.8 565.6h0.9v0.9h-0.9zM222.8 580.8h0.9v0.9h-0.9zM219.8 595.8h0.9v0.9h-0.9zM223.3 585.1h0.9v0.9h-0.9zM222.0 594.6h0.9v0.9h-0.9zM219.9 605.6h0.9v0.9h-0.9zM220.5 583.5h0.9v0.9h-0.9zM219.1 597.0h0.9v0.9h-0.9zM223.3 578.3h0.9v0.9h-0.9zM219.2 579.6h0.9v0.9h-0.9zM223.2 573.5h0.9v0.9h-0.9zM227.3 566.4h0.9v0.9h-0.9zM220.9 599.8h0.9v0.9h-0.9zM219.0 598.5h0.9v0.9h-0.9zM216.7 589.5h0.9v0.9h-0.9zM224.4 565.6h0.9v0.9h-0.9zM222.6 594.8h0.9v0.9h-0.9zM214.8 592.8h0.9v0.9h-0.9zM216.1 594.6h0.9v0.9h-0.9zM217.3 593.7h0.9v0.9h-0.9zM223.3 577.1h0.9v0.9h-0.9zM218.7 572.7h0.9v0.9h-0.9zM223.4 585.1h0.9v0.9h-0.9zM217.9 594.0h0.9v0.9h-0.9zM221.8 583.0h0.9v0.9h-0.9zM223.7 574.9h0.9v0.9h-0.9zM216.4 587.9h0.9v0.9h-0.9zM219.3 597.1h0.9v0.9h-0.9zM220.7 584.8h0.9v0.9h-0.9zM228.0 562.2h0.9v0.9h-0.9zM225.4 575.6h0.9v0.9h-0.9zM224.1 576.3h0.9v0.9h-0.9zM221.6 579.4h0.9v0.9h-0.9zM221.7 597.7h0.9v0.9h-0.9zM219.2 593.4h0.9v0.9h-0.9zM224.5 572.3h0.9v0.9h-0.9zM219.4 598.8h0.9v0.9h-0.9zM222.7 586.1h0.9v0.9h-0.9zM225.9 577.0h0.9v0.9h-0.9zM222.3 576.5h0.9v0.9h-0.9zM216.0 599.3h0.9v0.9h-0.9zM219.5 584.1h0.9v0.9h-0.9zM226.0 573.8h0.9v0.9h-0.9zM225.5 599.5h0.9v0.9h-0.9zM218.4 590.7h0.9v0.9h-0.9zM226.0 573.0h0.9v0.9h-0.9zM215.3 593.9h0.9v0.9h-0.9zM218.6 589.8h0.9v0.9h-0.9zM223.2 571.0h0.9v0.9h-0.9zM228.4 568.7h0.9v0.9h-0.9zM218.8 597.3h0.9v0.9h-0.9zM226.0 570.7h0.9v0.9h-0.9zM219.0 579.4h0.9v0.9h-0.9zM224.3 577.2h0.9v0.9h-0.9zM220.7 600.0h0.9v0.9h-0.9zM224.8 571.1h0.9v0.9h-0.9zM220.5 601.3h0.9v0.9h-0.9zM218.3 593.6h0.9v0.9h-0.9zM219.3 587.5h0.9v0.9h-0.9zM223.1 573.6h0.9v0.9h-0.9zM220.4 596.7h0.9v0.9h-0.9zM230.4 565.8h0.9v0.9h-0.9zM225.5 569.2h0.9v0.9h-0.9zM220.5 597.6h0.9v0.9h-0.9zM223.3 594.2h0.9v0.9h-0.9zM219.1 594.4h0.9v0.9h-0.9zM223.1 576.0h0.9v0.9h-0.9zM217.8 599.1h0.9v0.9h-0.9zM221.3 591.5h0.9v0.9h-0.9zM218.8 585.0h0.9v0.9h-0.9zM221.5 586.4h0.9v0.9h-0.9zM220.4 597.8h0.9v0.9h-0.9zM222.4 573.4h0.9v0.9h-0.9zM225.5 565.8h0.9v0.9h-0.9zM220.6 594.9h0.9v0.9h-0.9zM223.0 574.9h0.9v0.9h-0.9zM223.9 580.5h0.9v0.9h-0.9zM216.6 592.6h0.9v0.9h-0.9zM222.2 573.0h0.9v0.9h-0.9zM216.5 592.8h0.9v0.9h-0.9zM227.7 560.3h0.9v0.9h-0.9zM218.9 587.7h0.9v0.9h-0.9zM222.3 578.0h0.9v0.9h-0.9zM228.7 563.1h0.9v0.9h-0.9zM220.6 592.2h0.9v0.9h-0.9zM226.2 567.8h0.9v0.9h-0.9zM216.3 592.5h0.9v0.9h-0.9zM220.5 592.0h0.9v0.9h-0.9zM226.5 573.9h0.9v0.9h-0.9zM222.3 600.2h0.9v0.9h-0.9zM225.8 568.2h0.9v0.9h-0.9zM220.8 601.7h0.9v0.9h-0.9zM227.7 562.2h0.9v0.9h-0.9zM219.8 585.7h0.9v0.9h-0.9zM223.8 599.1h0.9v0.9h-0.9zM219.1 590.2h0.9v0.9h-0.9zM217.0 589.9h0.9v0.9h-0.9zM230.0 563.7h0.9v0.9h-0.9zM225.2 573.0h0.9v0.9h-0.9zM221.3 577.2h0.9v0.9h-0.9zM220.7 587.1h0.9v0.9h-0.9zM228.7 566.4h0.9v0.9h-0.9zM226.3 564.6h0.9v0.9h-0.9zM224.6 568.7h0.9v0.9h-0.9zM225.9 575.6h0.9v0.9h-0.9zM226.7 568.4h0.9v0.9h-0.9zM218.9 602.6h0.9v0.9h-0.9zM227.5 567.4h0.9v0.9h-0.9zM220.0 581.6h0.9v0.9h-0.9zM227.3 562.7h0.9v0.9h-0.9zM222.9 580.2h0.9v0.9h-0.9zM221.6 575.4h0.9v0.9h-0.9zM219.9 594.2h0.9v0.9h-0.9zM219.3 587.4h0.9v0.9h-0.9zM222.9 582.7h0.9v0.9h-0.9zM226.1 575.6h0.9v0.9h-0.9zM228.3 562.7h0.9v0.9h-0.9zM215.2 594.6h0.9v0.9h-0.9zM224.5 583.8h0.9v0.9h-0.9zM223.1 578.8h0.9v0.9h-0.9zM229.6 567.3h0.9v0.9h-0.9zM228.4 561.9h0.9v0.9h-0.9zM216.7 594.2h0.9v0.9h-0.9zM217.5 598.8h0.9v0.9h-0.9zM218.3 595.8h0.9v0.9h-0.9zM223.0 573.0h0.9v0.9h-0.9zM220.9 587.4h0.9v0.9h-0.9zM226.6 562.0h0.9v0.9h-0.9zM221.4 600.0h0.9v0.9h-0.9zM221.6 601.5h0.9v0.9h-0.9zM232.7 559.1h0.9v0.9h-0.9zM226.3 563.8h0.9v0.9h-0.9zM222.5 585.3h0.9v0.9h-0.9zM225.5 574.2h0.9v0.9h-0.9zM221.1 581.6h0.9v0.9h-0.9zM221.5 576.6h0.9v0.9h-0.9zM222.7 574.1h0.9v0.9h-0.9zM218.6 588.3h0.9v0.9h-0.9zM228.0 558.9h0.9v0.9h-0.9zM220.0 579.5h0.9v0.9h-0.9zM219.1 601.3h0.9v0.9h-0.9zM217.8 590.9h0.9v0.9h-0.9zM217.3 594.2h0.9v0.9h-0.9zM225.7 568.4h0.9v0.9h-0.9zM222.4 581.1h0.9v0.9h-0.9zM223.0 577.6h0.9v0.9h-0.9zM219.9 586.4h0.9v0.9h-0.9zM232.5 560.1h0.9v0.9h-0.9zM233.2 562.8h0.9v0.9h-0.9zM220.3 585.9h0.9v0.9h-0.9zM220.1 589.5h0.9v0.9h-0.9zM227.2 570.9h0.9v0.9h-0.9zM216.8 595.3h0.9v0.9h-0.9zM220.7 599.3h0.9v0.9h-0.9zM223.7 579.6h0.9v0.9h-0.9zM222.2 579.0h0.9v0.9h-0.9zM223.5 581.7h0.9v0.9h-0.9zM226.4 575.7h0.9v0.9h-0.9zM220.5 581.6h0.9v0.9h-0.9zM221.8 591.1h0.9v0.9h-0.9zM218.8 590.8h0.9v0.9h-0.9zM217.7 595.2h0.9v0.9h-0.9zM220.9 576.3h0.9v0.9h-0.9zM224.4 599.9h0.9v0.9h-0.9zM223.0 596.9h0.9v0.9h-0.9zM222.9 593.5h0.9v0.9h-0.9zM217.6 598.4h0.9v0.9h-0.9zM228.3 564.4h0.9v0.9h-0.9zM216.1 589.4h0.9v0.9h-0.9zM216.7 585.1h0.9v0.9h-0.9zM231.0 560.6h0.9v0.9h-0.9zM230.1 557.4h0.9v0.9h-0.9zM223.9 568.0h0.9v0.9h-0.9zM223.7 604.7h0.9v0.9h-0.9zM226.3 600.7h0.9v0.9h-0.9zM223.6 585.7h0.9v0.9h-0.9zM226.3 576.1h0.9v0.9h-0.9zM219.3 595.6h0.9v0.9h-0.9zM217.3 592.1h0.9v0.9h-0.9zM220.2 597.8h0.9v0.9h-0.9zM222.4 579.7h0.9v0.9h-0.9zM227.8 565.1h0.9v0.9h-0.9zM218.5 600.4h0.9v0.9h-0.9zM223.1 575.2h0.9v0.9h-0.9zM223.8 571.8h0.9v0.9h-0.9zM220.8 584.6h0.9v0.9h-0.9zM224.0 571.4h0.9v0.9h-0.9zM221.4 601.2h0.9v0.9h-0.9zM220.7 584.8h0.9v0.9h-0.9zM228.0 562.0h0.9v0.9h-0.9zM226.8 569.9h0.9v0.9h-0.9zM224.2 562.4h0.9v0.9h-0.9zM228.3 569.5h0.9v0.9h-0.9zM223.1 572.8h0.9v0.9h-0.9zM222.0 570.0h0.9v0.9h-0.9zM217.1 592.9h0.9v0.9h-0.9zM221.0 601.8h0.9v0.9h-0.9zM223.5 568.6h0.9v0.9h-0.9zM228.6 569.4h0.9v0.9h-0.9zM218.5 602.7h0.9v0.9h-0.9zM217.7 582.8h0.9v0.9h-0.9zM218.1 595.7h0.9v0.9h-0.9zM226.6 567.0h0.9v0.9h-0.9zM222.8 577.4h0.9v0.9h-0.9zM225.1 570.2h0.9v0.9h-0.9zM227.4 578.4h0.9v0.9h-0.9zM227.4 565.8h0.9v0.9h-0.9zM219.2 597.3h0.9v0.9h-0.9zM218.9 591.0h0.9v0.9h-0.9zM217.4 584.6h0.9v0.9h-0.9zM222.6 579.5h0.9v0.9h-0.9zM222.5 607.3h0.9v0.9h-0.9zM228.7 569.6h0.9v0.9h-0.9zM219.5 601.8h0.9v0.9h-0.9zM219.6 588.4h0.9v0.9h-0.9zM222.1 582.5h0.9v0.9h-0.9zM223.7 573.5h0.9v0.9h-0.9zM218.1 578.5h0.9v0.9h-0.9zM227.4 561.7h0.9v0.9h-0.9zM220.0 589.8h0.9v0.9h-0.9zM224.7 580.1h0.9v0.9h-0.9zM220.1 599.7h0.9v0.9h-0.9zM218.2 589.9h0.9v0.9h-0.9zM218.4 598.5h0.9v0.9h-0.9zM219.2 598.9h0.9v0.9h-0.9zM229.3 567.1h0.9v0.9h-0.9zM221.9 570.5h0.9v0.9h-0.9zM223.4 570.9h0.9v0.9h-0.9zM214.1 592.9h0.9v0.9h-0.9zM223.9 572.2h0.9v0.9h-0.9zM227.9 557.1h0.9v0.9h-0.9zM226.2 564.7h0.9v0.9h-0.9zM218.1 588.9h0.9v0.9h-0.9zM221.5 601.7h0.9v0.9h-0.9zM219.7 600.0h0.9v0.9h-0.9zM217.2 594.7h0.9v0.9h-0.9zM225.2 573.0h0.9v0.9h-0.9zM221.4 588.4h0.9v0.9h-0.9zM215.9 588.9h0.9v0.9h-0.9zM222.6 571.3h0.9v0.9h-0.9zM229.1 562.1h0.9v0.9h-0.9zM217.4 594.6h0.9v0.9h-0.9zM224.4 572.7h0.9v0.9h-0.9zM222.4 578.6h0.9v0.9h-0.9zM220.6 597.8h0.9v0.9h-0.9zM226.9 571.4h0.9v0.9h-0.9zM226.6 557.5h0.9v0.9h-0.9zM220.0 579.2h0.9v0.9h-0.9zM220.8 574.3h0.9v0.9h-0.9zM224.7 577.4h0.9v0.9h-0.9zM224.2 577.4h0.9v0.9h-0.9zM216.7 590.5h0.9v0.9h-0.9zM224.0 575.5h0.9v0.9h-0.9zM226.5 560.0h0.9v0.9h-0.9zM221.8 574.9h0.9v0.9h-0.9zM220.5 584.5h0.9v0.9h-0.9zM220.2 586.7h0.9v0.9h-0.9zM228.1 564.3h0.9v0.9h-0.9zM227.1 573.6h0.9v0.9h-0.9zM219.4 588.8h0.9v0.9h-0.9zM214.3 594.2h0.9v0.9h-0.9zM223.9 567.0h0.9v0.9h-0.9zM230.8 560.0h0.9v0.9h-0.9zM222.6 567.3h0.9v0.9h-0.9zM227.1 563.9h0.9v0.9h-0.9zM224.8 576.4h0.9v0.9h-0.9zM221.9 599.1h0.9v0.9h-0.9zM223.6 576.7h0.9v0.9h-0.9zM221.6 595.8h0.9v0.9h-0.9zM225.4 568.5h0.9v0.9h-0.9zM226.7 570.4h0.9v0.9h-0.9zM224.6 569.9h0.9v0.9h-0.9zM230.4 565.8h0.9v0.9h-0.9zM218.8 591.6h0.9v0.9h-0.9zM225.2 570.3h0.9v0.9h-0.9zM221.5 597.1h0.9v0.9h-0.9zM214.4 583.1h0.9v0.9h-0.9zM223.6 571.8h0.9v0.9h-0.9zM220.0 602.2h0.9v0.9h-0.9zM224.5 577.1h0.9v0.9h-0.9zM225.1 574.5h0.9v0.9h-0.9zM225.2 590.4h0.9v0.9h-0.9zM226.9 566.1h0.9v0.9h-0.9zM216.9 594.9h0.9v0.9h-0.9zM225.5 571.8h0.9v0.9h-0.9zM219.7 597.7h0.9v0.9h-0.9zM222.2 600.7h0.9v0.9h-0.9zM222.8 602.4h0.9v0.9h-0.9zM227.8 570.2h0.9v0.9h-0.9zM220.9 576.1h0.9v0.9h-0.9zM219.4 588.1h0.9v0.9h-0.9zM225.5 570.3h0.9v0.9h-0.9zM228.8 564.4h0.9v0.9h-0.9zM218.3 592.5h0.9v0.9h-0.9zM227.3 573.2h0.9v0.9h-0.9zM221.7 577.9h0.9v0.9h-0.9zM228.4 562.0h0.9v0.9h-0.9zM220.7 583.7h0.9v0.9h-0.9zM217.7 596.1h0.9v0.9h-0.9zM224.2 575.4h0.9v0.9h-0.9zM223.0 570.6h0.9v0.9h-0.9zM219.5 598.0h0.9v0.9h-0.9zM230.6 560.4h0.9v0.9h-0.9zM230.1 569.8h0.9v0.9h-0.9zM217.9 601.9h0.9v0.9h-0.9zM229.8 565.1h0.9v0.9h-0.9zM226.4 578.3h0.9v0.9h-0.9zM221.6 595.8h0.9v0.9h-0.9zM222.0 586.1h0.9v0.9h-0.9zM224.2 600.9h0.9v0.9h-0.9zM224.0 585.7h0.9v0.9h-0.9zM226.7 562.6h0.9v0.9h-0.9zM225.1 569.9h0.9v0.9h-0.9zM225.9 571.3h0.9v0.9h-0.9zM223.4 583.4h0.9v0.9h-0.9zM223.2 601.3h0.9v0.9h-0.9zM221.9 577.2h0.9v0.9h-0.9zM219.0 584.7h0.9v0.9h-0.9zM220.7 603.3h0.9v0.9h-0.9zM221.0 588.4h0.9v0.9h-0.9zM216.7 596.8h0.9v0.9h-0.9zM222.2 573.6h0.9v0.9h-0.9zM228.5 562.2h0.9v0.9h-0.9zM217.7 587.9h0.9v0.9h-0.9zM225.9 568.6h0.9v0.9h-0.9zM220.6 582.3h0.9v0.9h-0.9zM223.2 578.5h0.9v0.9h-0.9zM223.1 574.1h0.9v0.9h-0.9zM219.9 599.1h0.9v0.9h-0.9zM226.9 568.7h0.9v0.9h-0.9zM226.8 565.9h0.9v0.9h-0.9zM218.3 592.5h0.9v0.9h-0.9zM225.7 560.8h0.9v0.9h-0.9zM226.8 561.9h0.9v0.9h-0.9zM221.8 595.3h0.9v0.9h-0.9zM230.3 564.0h0.9v0.9h-0.9zM223.7 579.0h0.9v0.9h-0.9zM219.9 580.3h0.9v0.9h-0.9zM220.3 586.5h0.9v0.9h-0.9zM223.3 578.7h0.9v0.9h-0.9zM218.9 596.6h0.9v0.9h-0.9zM225.6 572.0h0.9v0.9h-0.9zM221.1 601.7h0.9v0.9h-0.9zM222.4 581.3h0.9v0.9h-0.9zM217.8 585.3h0.9v0.9h-0.9zM226.3 561.2h0.9v0.9h-0.9zM218.6 579.3h0.9v0.9h-0.9zM221.9 590.7h0.9v0.9h-0.9zM221.2 595.5h0.9v0.9h-0.9zM219.8 579.4h0.9v0.9h-0.9zM217.3 590.2h0.9v0.9h-0.9zM221.4 586.5h0.9v0.9h-0.9zM218.6 580.1h0.9v0.9h-0.9zM216.9 586.5h0.9v0.9h-0.9zM221.0 585.5h0.9v0.9h-0.9zM225.1 573.5h0.9v0.9h-0.9zM226.4 563.6h0.9v0.9h-0.9zM219.4 593.9h0.9v0.9h-0.9zM223.6 576.5h0.9v0.9h-0.9zM218.1 592.3h0.9v0.9h-0.9zM226.0 557.5h0.9v0.9h-0.9zM218.9 583.2h0.9v0.9h-0.9zM220.5 586.9h0.9v0.9h-0.9zM223.3 587.2h0.9v0.9h-0.9zM227.5 567.5h0.9v0.9h-0.9zM220.5 584.8h0.9v0.9h-0.9zM219.7 601.1h0.9v0.9h-0.9zM224.3 586.4h0.9v0.9h-0.9zM216.0 595.3h0.9v0.9h-0.9zM224.6 580.3h0.9v0.9h-0.9zM230.6 563.8h0.9v0.9h-0.9zM218.6 597.3h0.9v0.9h-0.9zM226.1 568.0h0.9v0.9h-0.9zM218.9 589.7h0.9v0.9h-0.9zM217.3 586.4h0.9v0.9h-0.9zM222.3 579.4h0.9v0.9h-0.9zM216.1 594.7h0.9v0.9h-0.9zM219.0 584.4h0.9v0.9h-0.9zM219.4 601.9h0.9v0.9h-0.9zM219.1 595.6h0.9v0.9h-0.9zM219.9 602.7h0.9v0.9h-0.9zM219.2 592.3h0.9v0.9h-0.9zM226.2 568.4h0.9v0.9h-0.9zM226.7 567.9h0.9v0.9h-0.9zM218.7 586.8h0.9v0.9h-0.9zM227.2 564.0h0.9v0.9h-0.9zM218.1 589.2h0.9v0.9h-0.9zM221.2 577.2h0.9v0.9h-0.9zM228.7 563.7h0.9v0.9h-0.9zM225.6 563.7h0.9v0.9h-0.9zM229.5 566.9h0.9v0.9h-0.9zM229.8 565.1h0.9v0.9h-0.9zM215.6 590.8h0.9v0.9h-0.9zM218.4 589.2h0.9v0.9h-0.9zM220.7 598.9h0.9v0.9h-0.9zM219.8 578.0h0.9v0.9h-0.9zM221.1 581.4h0.9v0.9h-0.9zM228.8 575.5h0.9v0.9h-0.9zM228.6 571.7h0.9v0.9h-0.9zM220.9 587.0h0.9v0.9h-0.9zM224.9 559.7h0.9v0.9h-0.9zM222.0 588.1h0.9v0.9h-0.9zM221.8 580.0h0.9v0.9h-0.9zM218.0 596.9h0.9v0.9h-0.9zM220.3 594.0h0.9v0.9h-0.9zM218.0 601.3h0.9v0.9h-0.9zM217.3 592.4h0.9v0.9h-0.9zM225.7 571.7h0.9v0.9h-0.9zM219.3 603.1h0.9v0.9h-0.9zM217.7 598.2h0.9v0.9h-0.9zM219.6 592.9h0.9v0.9h-0.9zM223.1 585.6h0.9v0.9h-0.9zM223.8 581.8h0.9v0.9h-0.9zM227.7 569.0h0.9v0.9h-0.9zM221.6 601.3h0.9v0.9h-0.9zM226.2 565.9h0.9v0.9h-0.9zM229.2 568.9h0.9v0.9h-0.9zM223.2 598.5h0.9v0.9h-0.9zM226.0 573.1h0.9v0.9h-0.9zM227.4 572.3h0.9v0.9h-0.9zM224.8 573.1h0.9v0.9h-0.9zM218.7 597.4h0.9v0.9h-0.9zM224.2 572.2h0.9v0.9h-0.9zM218.7 600.3h0.9v0.9h-0.9zM216.6 596.5h0.9v0.9h-0.9zM225.7 569.8h0.9v0.9h-0.9zM226.4 567.0h0.9v0.9h-0.9zM221.6 600.4h0.9v0.9h-0.9zM219.0 593.4h0.9v0.9h-0.9zM220.6 595.2h0.9v0.9h-0.9zM216.2 584.9h0.9v0.9h-0.9zM218.5 591.7h0.9v0.9h-0.9zM227.8 565.1h0.9v0.9h-0.9zM226.4 564.9h0.9v0.9h-0.9zM217.5 594.0h0.9v0.9h-0.9zM217.8 598.8h0.9v0.9h-0.9zM229.2 553.9h0.9v0.9h-0.9zM226.5 568.9h0.9v0.9h-0.9zM216.4 599.7h0.9v0.9h-0.9zM228.8 569.8h0.9v0.9h-0.9zM220.8 597.8h0.9v0.9h-0.9zM218.0 598.3h0.9v0.9h-0.9zM223.2 582.6h0.9v0.9h-0.9zM219.2 598.0h0.9v0.9h-0.9zM222.8 581.3h0.9v0.9h-0.9zM222.2 582.4h0.9v0.9h-0.9zM216.0 594.1h0.9v0.9h-0.9zM228.7 568.4h0.9v0.9h-0.9zM219.6 577.9h0.9v0.9h-0.9zM220.8 580.4h0.9v0.9h-0.9zM224.5 565.9h0.9v0.9h-0.9zM226.1 566.4h0.9v0.9h-0.9zM222.5 584.0h0.9v0.9h-0.9zM224.9 571.1h0.9v0.9h-0.9zM223.1 570.5h0.9v0.9h-0.9zM225.6 565.5h0.9v0.9h-0.9zM221.9 582.8h0.9v0.9h-0.9zM218.0 589.6h0.9v0.9h-0.9zM224.6 577.7h0.9v0.9h-0.9zM219.2 593.0h0.9v0.9h-0.9zM220.5 596.8h0.9v0.9h-0.9zM229.5 569.1h0.9v0.9h-0.9zM228.7 573.2h0.9v0.9h-0.9zM230.2 563.0h0.9v0.9h-0.9zM229.0 568.3h0.9v0.9h-0.9zM218.9 582.9h0.9v0.9h-0.9zM222.2 580.8h0.9v0.9h-0.9zM216.4 587.8h0.9v0.9h-0.9zM214.0 587.8h0.9v0.9h-0.9zM222.6 567.1h0.9v0.9h-0.9zM224.9 582.5h0.9v0.9h-0.9zM219.1 580.1h0.9v0.9h-0.9zM223.1 568.5h0.9v0.9h-0.9zM221.9 580.2h0.9v0.9h-0.9zM225.1 575.9h0.9v0.9h-0.9zM227.7 574.6h0.9v0.9h-0.9zM221.1 590.7h0.9v0.9h-0.9zM229.1 564.9h0.9v0.9h-0.9zM219.5 599.8h0.9v0.9h-0.9zM220.2 586.2h0.9v0.9h-0.9zM225.9 565.6h0.9v0.9h-0.9zM220.9 596.4h0.9v0.9h-0.9zM221.7 587.6h0.9v0.9h-0.9zM222.6 603.5h0.9v0.9h-0.9zM223.5 571.7h0.9v0.9h-0.9zM218.9 594.3h0.9v0.9h-0.9zM222.5 600.9h0.9v0.9h-0.9zM217.5 593.6h0.9v0.9h-0.9z" fill="#111" fill-opacity="0.65"/>
<path d="M226.8 592.0h0.9v0.9h-0.9zM211.4 552.3h0.9v0.9h-0.9zM198.2 561.0h0.9v0.9h-0.9zM223.0 602.0h0.9v0.9h-0.9zM226.3 574.5h0.9v0.9h-0.9zM222.2 551.4h0.9v0.9h-0.9zM199.0 581.1h0.9v0.9h-0.9zM201.5 554.3h0.9v0.9h-0.9zM201.8 569.7h0.9v0.9h-0.9zM229.6 562.2h0.9v0.9h-0.9zM213.8 605.6h0.9v0.9h-0.9zM232.2 574.3h0.9v0.9h-0.9zM198.5 592.8h0.9v0.9h-0.9zM230.8 573.6h0.9v0.9h-0.9zM209.0 552.0h0.9v0.9h-0.9zM221.8 605.2h0.9v0.9h-0.9zM199.7 561.8h0.9v0.9h-0.9zM199.7 593.2h0.9v0.9h-0.9zM214.2 604.1h0.9v0.9h-0.9zM200.6 585.4h0.9v0.9h-0.9zM229.0 568.5h0.9v0.9h-0.9zM212.7 552.5h0.9v0.9h-0.9zM200.7 590.5h0.9v0.9h-0.9zM210.2 602.1h0.9v0.9h-0.9zM196.5 566.2h0.9v0.9h-0.9zM201.2 558.8h0.9v0.9h-0.9zM211.4 602.3h0.9v0.9h-0.9zM200.3 570.9h0.9v0.9h-0.9zM198.6 586.3h0.9v0.9h-0.9zM197.6 572.7h0.9v0.9h-0.9zM212.4 552.1h0.9v0.9h-0.9zM210.7 553.9h0.9v0.9h-0.9zM198.8 583.2h0.9v0.9h-0.9zM206.1 554.4h0.9v0.9h-0.9zM198.4 602.7h0.9v0.9h-0.9zM226.4 551.7h0.9v0.9h-0.9zM221.5 601.2h0.9v0.9h-0.9zM203.4 601.1h0.9v0.9h-0.9zM198.6 601.1h0.9v0.9h-0.9zM196.7 590.7h0.9v0.9h-0.9zM199.7 565.2h0.9v0.9h-0.9zM200.8 585.1h0.9v0.9h-0.9zM227.7 591.6h0.9v0.9h-0.9zM214.1 552.1h0.9v0.9h-0.9zM200.0 603.8h0.9v0.9h-0.9zM232.1 562.9h0.9v0.9h-0.9zM199.7 595.6h0.9v0.9h-0.9zM227.5 600.8h0.9v0.9h-0.9zM200.3 572.7h0.9v0.9h-0.9zM209.9 554.2h0.9v0.9h-0.9zM226.4 600.1h0.9v0.9h-0.9zM200.9 579.2h0.9v0.9h-0.9zM211.4 607.8h0.9v0.9h-0.9zM197.3 570.3h0.9v0.9h-0.9zM228.5 584.7h0.9v0.9h-0.9zM220.4 547.9h0.9v0.9h-0.9zM226.7 554.0h0.9v0.9h-0.9zM218.9 553.6h0.9v0.9h-0.9zM199.3 560.4h0.9v0.9h-0.9zM229.1 553.5h0.9v0.9h-0.9zM226.8 572.9h0.9v0.9h-0.9zM199.8 589.1h0.9v0.9h-0.9zM226.4 593.1h0.9v0.9h-0.9zM204.4 603.9h0.9v0.9h-0.9zM219.6 606.2h0.9v0.9h-0.9zM225.8 598.5h0.9v0.9h-0.9zM219.9 603.0h0.9v0.9h-0.9zM226.5 598.6h0.9v0.9h-0.9zM199.8 593.9h0.9v0.9h-0.9zM220.7 603.9h0.9v0.9h-0.9zM228.4 580.5h0.9v0.9h-0.9zM200.5 558.7h0.9v0.9h-0.9zM198.5 578.4h0.9v0.9h-0.9zM226.8 600.7h0.9v0.9h-0.9zM228.4 572.3h0.9v0.9h-0.9zM203.3 560.5h0.9v0.9h-0.9zM226.6 567.0h0.9v0.9h-0.9zM230.1 562.2h0.9v0.9h-0.9zM225.9 605.1h0.9v0.9h-0.9zM198.2 582.1h0.9v0.9h-0.9zM226.4 596.3h0.9v0.9h-0.9zM197.9 568.2h0.9v0.9h-0.9zM208.2 554.1h0.9v0.9h-0.9zM219.7 550.3h0.9v0.9h-0.9zM212.4 603.3h0.9v0.9h-0.9zM202.6 555.3h0.9v0.9h-0.9zM224.9 602.2h0.9v0.9h-0.9zM201.1 578.3h0.9v0.9h-0.9zM199.3 593.4h0.9v0.9h-0.9zM200.9 583.6h0.9v0.9h-0.9zM229.0 564.0h0.9v0.9h-0.9zM201.4 556.6h0.9v0.9h-0.9zM201.6 581.2h0.9v0.9h-0.9zM231.1 559.4h0.9v0.9h-0.9zM200.4 578.9h0.9v0.9h-0.9zM202.6 551.5h0.9v0.9h-0.9zM201.8 597.0h0.9v0.9h-0.9zM216.1 604.9h0.9v0.9h-0.9zM214.4 600.7h0.9v0.9h-0.9zM199.6 572.6h0.9v0.9h-0.9zM229.9 563.9h0.9v0.9h-0.9zM197.0 591.6h0.9v0.9h-0.9zM225.5 601.2h0.9v0.9h-0.9zM199.6 571.7h0.9v0.9h-0.9zM196.3 596.2h0.9v0.9h-0.9zM206.3 603.3h0.9v0.9h-0.9zM233.4 558.7h0.9v0.9h-0.9zM194.3 579.1h0.9v0.9h-0.9zM226.2 604.2h0.9v0.9h-0.9zM202.2 560.1h0.9v0.9h-0.9zM199.3 601.3h0.9v0.9h-0.9zM198.9 575.5h0.9v0.9h-0.9zM199.2 597.7h0.9v0.9h-0.9zM200.5 556.3h0.9v0.9h-0.9zM200.0 596.0h0.9v0.9h-0.9zM215.4 552.4h0.9v0.9h-0.9zM230.1 589.6h0.9v0.9h-0.9zM211.7 603.5h0.9v0.9h-0.9zM201.1 557.4h0.9v0.9h-0.9zM227.7 560.4h0.9v0.9h-0.9zM214.6 549.5h0.9v0.9h-0.9zM225.5 582.8h0.9v0.9h-0.9zM210.6 551.7h0.9v0.9h-0.9zM197.9 591.8h0.9v0.9h-0.9zM207.2 605.9h0.9v0.9h-0.9zM228.5 592.7h0.9v0.9h-0.9zM200.5 567.2h0.9v0.9h-0.9zM229.2 555.4h0.9v0.9h-0.9zM228.4 556.9h0.9v0.9h-0.9zM201.5 557.9h0.9v0.9h-0.9zM197.5 574.2h0.9v0.9h-0.9zM218.8 603.7h0.9v0.9h-0.9zM225.8 576.1h0.9v0.9h-0.9zM227.8 590.4h0.9v0.9h-0.9zM226.3 602.4h0.9v0.9h-0.9zM226.4 555.6h0.9v0.9h-0.9zM221.8 555.4h0.9v0.9h-0.9zM201.2 576.2h0.9v0.9h-0.9zM213.1 550.2h0.9v0.9h-0.9zM214.6 553.4h0.9v0.9h-0.9zM227.4 552.8h0.9v0.9h-0.9zM220.1 602.5h0.9v0.9h-0.9zM195.7 600.3h0.9v0.9h-0.9zM202.1 579.6h0.9v0.9h-0.9zM215.4 605.8h0.9v0.9h-0.9zM207.8 552.5h0.9v0.9h-0.9zM210.0 551.3h0.9v0.9h-0.9zM198.0 585.3h0.9v0.9h-0.9zM197.3 563.2h0.9v0.9h-0.9zM199.0 575.3h0.9v0.9h-0.9zM206.2 554.8h0.9v0.9h-0.9zM225.9 579.5h0.9v0.9h-0.9zM229.9 569.0h0.9v0.9h-0.9zM199.4 600.2h0.9v0.9h-0.9zM229.4 586.1h0.9v0.9h-0.9zM218.5 601.8h0.9v0.9h-0.9zM230.2 581.4h0.9v0.9h-0.9zM204.2 604.1h0.9v0.9h-0.9zM230.8 572.5h0.9v0.9h-0.9zM226.2 592.5h0.9v0.9h-0.9zM230.5 556.1h0.9v0.9h-0.9zM229.3 577.7h0.9v0.9h-0.9zM198.8 580.9h0.9v0.9h-0.9zM199.7 589.2h0.9v0.9h-0.9zM211.4 606.7h0.9v0.9h-0.9zM199.2 580.6h0.9v0.9h-0.9zM197.6 572.4h0.9v0.9h-0.9zM199.3 592.7h0.9v0.9h-0.9zM203.2 599.2h0.9v0.9h-0.9zM198.7 562.9h0.9v0.9h-0.9zM211.0 551.4h0.9v0.9h-0.9zM229.2 596.9h0.9v0.9h-0.9zM228.2 578.0h0.9v0.9h-0.9zM220.9 552.8h0.9v0.9h-0.9zM211.6 602.9h0.9v0.9h-0.9zM222.1 555.6h0.9v0.9h-0.9zM231.5 565.0h0.9v0.9h-0.9zM201.0 596.6h0.9v0.9h-0.9zM198.7 598.0h0.9v0.9h-0.9zM223.7 603.4h0.9v0.9h-0.9zM201.1 567.3h0.9v0.9h-0.9zM225.8 581.8h0.9v0.9h-0.9zM225.8 554.6h0.9v0.9h-0.9zM211.4 604.8h0.9v0.9h-0.9zM226.2 593.7h0.9v0.9h-0.9zM208.6 605.1h0.9v0.9h-0.9zM200.8 597.0h0.9v0.9h-0.9zM196.4 572.6h0.9v0.9h-0.9zM197.9 593.1h0.9v0.9h-0.9zM224.5 605.0h0.9v0.9h-0.9zM214.6 606.6h0.9v0.9h-0.9zM200.3 574.7h0.9v0.9h-0.9zM221.8 600.8h0.9v0.9h-0.9zM221.5 601.9h0.9v0.9h-0.9zM199.5 581.6h0.9v0.9h-0.9zM228.9 567.9h0.9v0.9h-0.9zM231.7 562.8h0.9v0.9h-0.9zM229.0 567.7h0.9v0.9h-0.9zM203.2 588.9h0.9v0.9h-0.9zM217.4 552.6h0.9v0.9h-0.9zM199.4 579.2h0.9v0.9h-0.9zM202.1 557.4h0.9v0.9h-0.9zM200.5 571.6h0.9v0.9h-0.9zM199.4 570.8h0.9v0.9h-0.9zM231.3 553.4h0.9v0.9h-0.9zM197.6 594.3h0.9v0.9h-0.9zM198.6 587.7h0.9v0.9h-0.9zM199.2 562.9h0.9v0.9h-0.9zM202.6 569.4h0.9v0.9h-0.9zM230.5 572.8h0.9v0.9h-0.9zM225.0 602.3h0.9v0.9h-0.9zM202.6 555.3h0.9v0.9h-0.9zM202.1 563.2h0.9v0.9h-0.9zM215.8 552.7h0.9v0.9h-0.9zM213.2 551.3h0.9v0.9h-0.9zM231.5 559.4h0.9v0.9h-0.9zM208.0 602.0h0.9v0.9h-0.9zM199.8 589.0h0.9v0.9h-0.9zM198.9 599.1h0.9v0.9h-0.9zM225.8 554.5h0.9v0.9h-0.9zM199.2 590.7h0.9v0.9h-0.9zM212.0 603.8h0.9v0.9h-0.9zM224.1 602.3h0.9v0.9h-0.9zM229.5 563.6h0.9v0.9h-0.9zM197.5 569.0h0.9v0.9h-0.9zM212.8 604.1h0.9v0.9h-0.9zM227.2 577.6h0.9v0.9h-0.9zM206.4 604.4h0.9v0.9h-0.9zM221.3 553.6h0.9v0.9h-0.9zM227.4 602.9h0.9v0.9h-0.9z" fill="#333" fill-opacity="0.45"/>
<path d="M218.8 554.3h0.9v0.9h-0.9zM220.1 592.3h0.9v0.9h-0.9zM230.5 571.1h0.9v0.9h-0.9zM214.8 569.7h0.9v0.9h-0.9zM231.3 546.6h0.9v0.9h-0.9zM205.3 602.2h0.9v0.9h-0.9zM206.5 593.8h0.9v0.9h-0.9zM211.9 602.0h0.9v0.9h-0.9zM213.7 581.3h0.9v0.9h-0.9zM219.9 540.4h0.9v0.9h-0.9zM213.9 579.9h0.9v0.9h-0.9zM226.9 559.8h0.9v0.9h-0.9zM222.3 561.2h0.9v0.9h-0.9zM211.6 582.8h0.9v0.9h-0.9zM226.7 546.2h0.9v0.9h-0.9zM208.2 561.1h0.9v0.9h-0.9zM213.3 570.0h0.9v0.9h-0.9zM202.9 589.2h0.9v0.9h-0.9zM200.5 578.7h0.9v0.9h-0.9zM200.6 544.1h0.9v0.9h-0.9zM213.3 571.9h0.9v0.9h-0.9zM210.1 544.6h0.9v0.9h-0.9zM199.9 540.8h0.9v0.9h-0.9zM224.2 568.1h0.9v0.9h-0.9zM212.5 601.4h0.9v0.9h-0.9zM220.3 542.2h0.9v0.9h-0.9zM226.4 577.4h0.9v0.9h-0.9zM227.1 549.6h0.9v0.9h-0.9zM233.8 587.0h0.9v0.9h-0.9zM228.2 594.2h0.9v0.9h-0.9zM202.7 551.9h0.9v0.9h-0.9zM220.1 585.2h0.9v0.9h-0.9zM201.4 598.6h0.9v0.9h-0.9zM216.0 578.4h0.9v0.9h-0.9zM211.7 550.7h0.9v0.9h-0.9zM212.1 590.3h0.9v0.9h-0.9zM200.7 563.5h0.9v0.9h-0.9zM227.8 602.5h0.9v0.9h-0.9zM213.2 540.7h0.9v0.9h-0.9zM205.1 586.1h0.9v0.9h-0.9zM224.3 579.9h0.9v0.9h-0.9zM212.7 552.0h0.9v0.9h-0.9zM221.9 590.7h0.9v0.9h-0.9zM220.1 554.7h0.9v0.9h-0.9zM222.7 571.1h0.9v0.9h-0.9zM217.5 569.8h0.9v0.9h-0.9zM212.2 545.9h0.9v0.9h-0.9zM218.9 573.5h0.9v0.9h-0.9zM208.4 568.3h0.9v0.9h-0.9zM218.0 552.6h0.9v0.9h-0.9zM214.6 597.4h0.9v0.9h-0.9zM232.7 572.4h0.9v0.9h-0.9zM202.8 564.0h0.9v0.9h-0.9zM211.3 580.8h0.9v0.9h-0.9zM205.3 590.7h0.9v0.9h-0.9zM206.4 571.8h0.9v0.9h-0.9zM212.2 546.2h0.9v0.9h-0.9zM230.0 584.2h0.9v0.9h-0.9zM219.3 582.6h0.9v0.9h-0.9zM203.7 575.8h0.9v0.9h-0.9zM210.7 584.3h0.9v0.9h-0.9zM227.7 587.5h0.9v0.9h-0.9zM229.1 562.5h0.9v0.9h-0.9zM203.8 573.5h0.9v0.9h-0.9zM221.0 578.4h0.9v0.9h-0.9zM200.5 587.5h0.9v0.9h-0.9zM228.7 555.9h0.9v0.9h-0.9zM212.4 565.3h0.9v0.9h-0.9zM220.0 594.1h0.9v0.9h-0.9zM229.6 563.2h0.9v0.9h-0.9zM216.0 561.4h0.9v0.9h-0.9zM209.4 547.7h0.9v0.9h-0.9zM223.4 594.9h0.9v0.9h-0.9zM208.2 566.4h0.9v0.9h-0.9zM223.9 588.3h0.9v0.9h-0.9zM206.6 583.3h0.9v0.9h-0.9zM211.0 547.2h0.9v0.9h-0.9zM213.1 571.5h0.9v0.9h-0.9zM206.6 560.9h0.9v0.9h-0.9zM208.2 541.6h0.9v0.9h-0.9zM233.9 559.6h0.9v0.9h-0.9zM231.9 550.4h0.9v0.9h-0.9zM225.3 549.5h0.9v0.9h-0.9zM214.1 594.8h0.9v0.9h-0.9zM212.3 599.9h0.9v0.9h-0.9zM202.4 579.0h0.9v0.9h-0.9zM198.7 575.7h0.9v0.9h-0.9zM211.1 572.4h0.9v0.9h-0.9zM207.8 542.0h0.9v0.9h-0.9zM213.8 579.0h0.9v0.9h-0.9zM216.5 601.8h0.9v0.9h-0.9zM223.6 586.1h0.9v0.9h-0.9zM233.6 552.4h0.9v0.9h-0.9zM219.8 573.0h0.9v0.9h-0.9zM231.4 554.8h0.9v0.9h-0.9zM211.1 571.6h0.9v0.9h-0.9zM200.2 601.2h0.9v0.9h-0.9zM227.3 602.3h0.9v0.9h-0.9zM228.0 551.2h0.9v0.9h-0.9zM213.9 551.6h0.9v0.9h-0.9zM227.7 575.5h0.9v0.9h-0.9zM227.1 565.4h0.9v0.9h-0.9zM212.4 545.7h0.9v0.9h-0.9zM212.6 584.8h0.9v0.9h-0.9zM232.1 567.0h0.9v0.9h-0.9zM211.8 581.0h0.9v0.9h-0.9zM211.9 600.7h0.9v0.9h-0.9zM221.6 579.5h0.9v0.9h-0.9zM211.6 586.9h0.9v0.9h-0.9zM227.6 593.6h0.9v0.9h-0.9zM221.1 566.3h0.9v0.9h-0.9zM205.8 590.8h0.9v0.9h-0.9zM208.9 559.7h0.9v0.9h-0.9zM207.4 545.8h0.9v0.9h-0.9zM218.8 562.8h0.9v0.9h-0.9zM209.7 577.6h0.9v0.9h-0.9zM230.0 593.5h0.9v0.9h-0.9zM223.5 566.5h0.9v0.9h-0.9zM218.3 601.8h0.9v0.9h-0.9zM229.7 554.7h0.9v0.9h-0.9zM225.5 587.0h0.9v0.9h-0.9zM207.2 588.8h0.9v0.9h-0.9zM230.4 558.3h0.9v0.9h-0.9zM228.8 554.4h0.9v0.9h-0.9zM227.0 570.6h0.9v0.9h-0.9zM204.3 579.7h0.9v0.9h-0.9zM202.5 561.8h0.9v0.9h-0.9zM210.8 571.0h0.9v0.9h-0.9zM205.9 589.7h0.9v0.9h-0.9zM223.2 568.6h0.9v0.9h-0.9zM208.0 582.1h0.9v0.9h-0.9zM221.6 551.6h0.9v0.9h-0.9zM227.9 556.4h0.9v0.9h-0.9zM219.0 558.4h0.9v0.9h-0.9zM203.7 562.4h0.9v0.9h-0.9zM223.6 572.8h0.9v0.9h-0.9zM219.5 554.1h0.9v0.9h-0.9zM209.3 578.5h0.9v0.9h-0.9zM233.3 601.7h0.9v0.9h-0.9zM226.5 573.6h0.9v0.9h-0.9z" fill="#555" fill-opacity="0.35"/>
<line x1="194.00" y1="603.60" x2="237.30" y2="603.60" stroke="#111" stroke-width="1.8"/>
<line x1="197.60" y1="511.40" x2="197.60" y2="604.40" stroke="#888" stroke-width="1.0"/>
<line x1="164.70" y1="566.00" x2="260.20" y2="566.00" stroke="#888" stroke-width="1.0"/>
<line x1="164.70" y1="511.40" x2="260.20" y2="511.40" stroke="#777" stroke-width="0.9"/>
<line x1="260.20" y1="511.40" x2="260.20" y2="604.40" stroke="#777" stroke-width="0.9"/>
<line x1="164.70" y1="511.40" x2="164.70" y2="604.40" stroke="#333" stroke-width="1.0"/>
<line x1="164.70" y1="604.40" x2="260.20" y2="604.40" stroke="#333" stroke-width="1.0"/>
<line x1="163.40" y1="601.40" x2="164.70" y2="601.40" stroke="#333" stroke-width="0.8"/>
<line x1="163.40" y1="593.60" x2="164.70" y2="593.60" stroke="#333" stroke-width="0.8"/>
<line x1="163.40" y1="585.80" x2="164.70" y2="585.80" stroke="#333" stroke-width="0.8"/>
<line x1="163.40" y1="578.00" x2="164.70" y2="578.00" stroke="#333" stroke-width="0.8"/>
<line x1="163.40" y1="570.20" x2="164.70" y2="570.20" stroke="#333" stroke-width="0.8"/>
<line x1="163.40" y1="562.40" x2="164.70" y2="562.40" stroke="#333" stroke-width="0.8"/>
<line x1="163.40" y1="554.60" x2="164.70" y2="554.60" stroke="#333" stroke-width="0.8"/>
<line x1="163.40" y1="546.80" x2="164.70" y2="546.80" stroke="#333" stroke-width="0.8"/>
<line x1="163.40" y1="539.00" x2="164.70" y2="539.00" stroke="#333" stroke-width="0.8"/>
<line x1="163.40" y1="531.20" x2="164.70" y2="531.20" stroke="#333" stroke-width="0.8"/>
<line x1="163.40" y1="523.40" x2="164.70" y2="523.40" stroke="#333" stroke-width="0.8"/>
<line x1="163.40" y1="515.60" x2="164.70" y2="515.60" stroke="#333" stroke-width="0.8"/>
<line x1="167.70" y1="604.40" x2="167.70" y2="605.70" stroke="#333" stroke-width="0.8"/>
<line x1="175.50" y1="604.40" x2="175.50" y2="605.70" stroke="#333" stroke-width="0.8"/>
<line x1="183.30" y1="604.40" x2="183.30" y2="605.70" stroke="#333" stroke-width="0.8"/>
<line x1="191.10" y1="604.40" x2="191.10" y2="605.70" stroke="#333" stroke-width="0.8"/>
<line x1="198.90" y1="604.40" x2="198.90" y2="605.70" stroke="#333" stroke-width="0.8"/>
<line x1="206.70" y1="604.40" x2="206.70" y2="605.70" stroke="#333" stroke-width="0.8"/>
<line x1="214.50" y1="604.40" x2="214.50" y2="605.70" stroke="#333" stroke-width="0.8"/>
<line x1="222.30" y1="604.40" x2="222.30" y2="605.70" stroke="#333" stroke-width="0.8"/>
<line x1="230.10" y1="604.40" x2="230.10" y2="605.70" stroke="#333" stroke-width="0.8"/>
<line x1="237.90" y1="604.40" x2="237.90" y2="605.70" stroke="#333" stroke-width="0.8"/>
<line x1="245.70" y1="604.40" x2="245.70" y2="605.70" stroke="#333" stroke-width="0.8"/>
<line x1="253.50" y1="604.40" x2="253.50" y2="605.70" stroke="#333" stroke-width="0.8"/>
<text x="166.50" y="522.60" textLength="4.80" lengthAdjust="spacingAndGlyphs" font-size="10.0" fill="#000" >0</text>
<text x="238.10" y="522.60" textLength="19.10" lengthAdjust="spacingAndGlyphs" font-size="10.0" fill="#000" >27.7</text>
<text x="166.50" y="603.50" textLength="24.70" lengthAdjust="spacingAndGlyphs" font-size="10.0" fill="#000" >0.012</text>
<text x="238.10" y="603.50" textLength="19.10" lengthAdjust="spacingAndGlyphs" font-size="10.0" fill="#000" >72.2</text>
<text x="71.90" y="503.70" textLength="39.80" lengthAdjust="spacingAndGlyphs" font-size="14" fill="#000" >DMSO</text>
<text x="180.80" y="503.80" textLength="61.20" lengthAdjust="spacingAndGlyphs" font-size="14" fill="#000" >Ruxolitinib</text>
<text transform="translate(23.40,592.85) rotate(-90)" x="-19.75" y="0" font-size="14" textLength="39.51" lengthAdjust="spacingAndGlyphs">STAT3</text>
<text x="29.90" y="637.40" textLength="25.99" lengthAdjust="spacingAndGlyphs" font-size="14.3" fill="#000" >CD4</text>
<line x1="16.60" y1="562.00" x2="16.60" y2="519.00" stroke="#000" stroke-width="1.1"/>
<polygon points="16.6,514.3 14.4,520.5 18.8,520.5" fill="#000"/>
<line x1="74.60" y1="632.20" x2="227.00" y2="632.20" stroke="#000" stroke-width="1.1"/>
<polygon points="231.7,632.2 225.8,629.9 225.8,634.5" fill="#000"/>
</svg>
</body></html>
